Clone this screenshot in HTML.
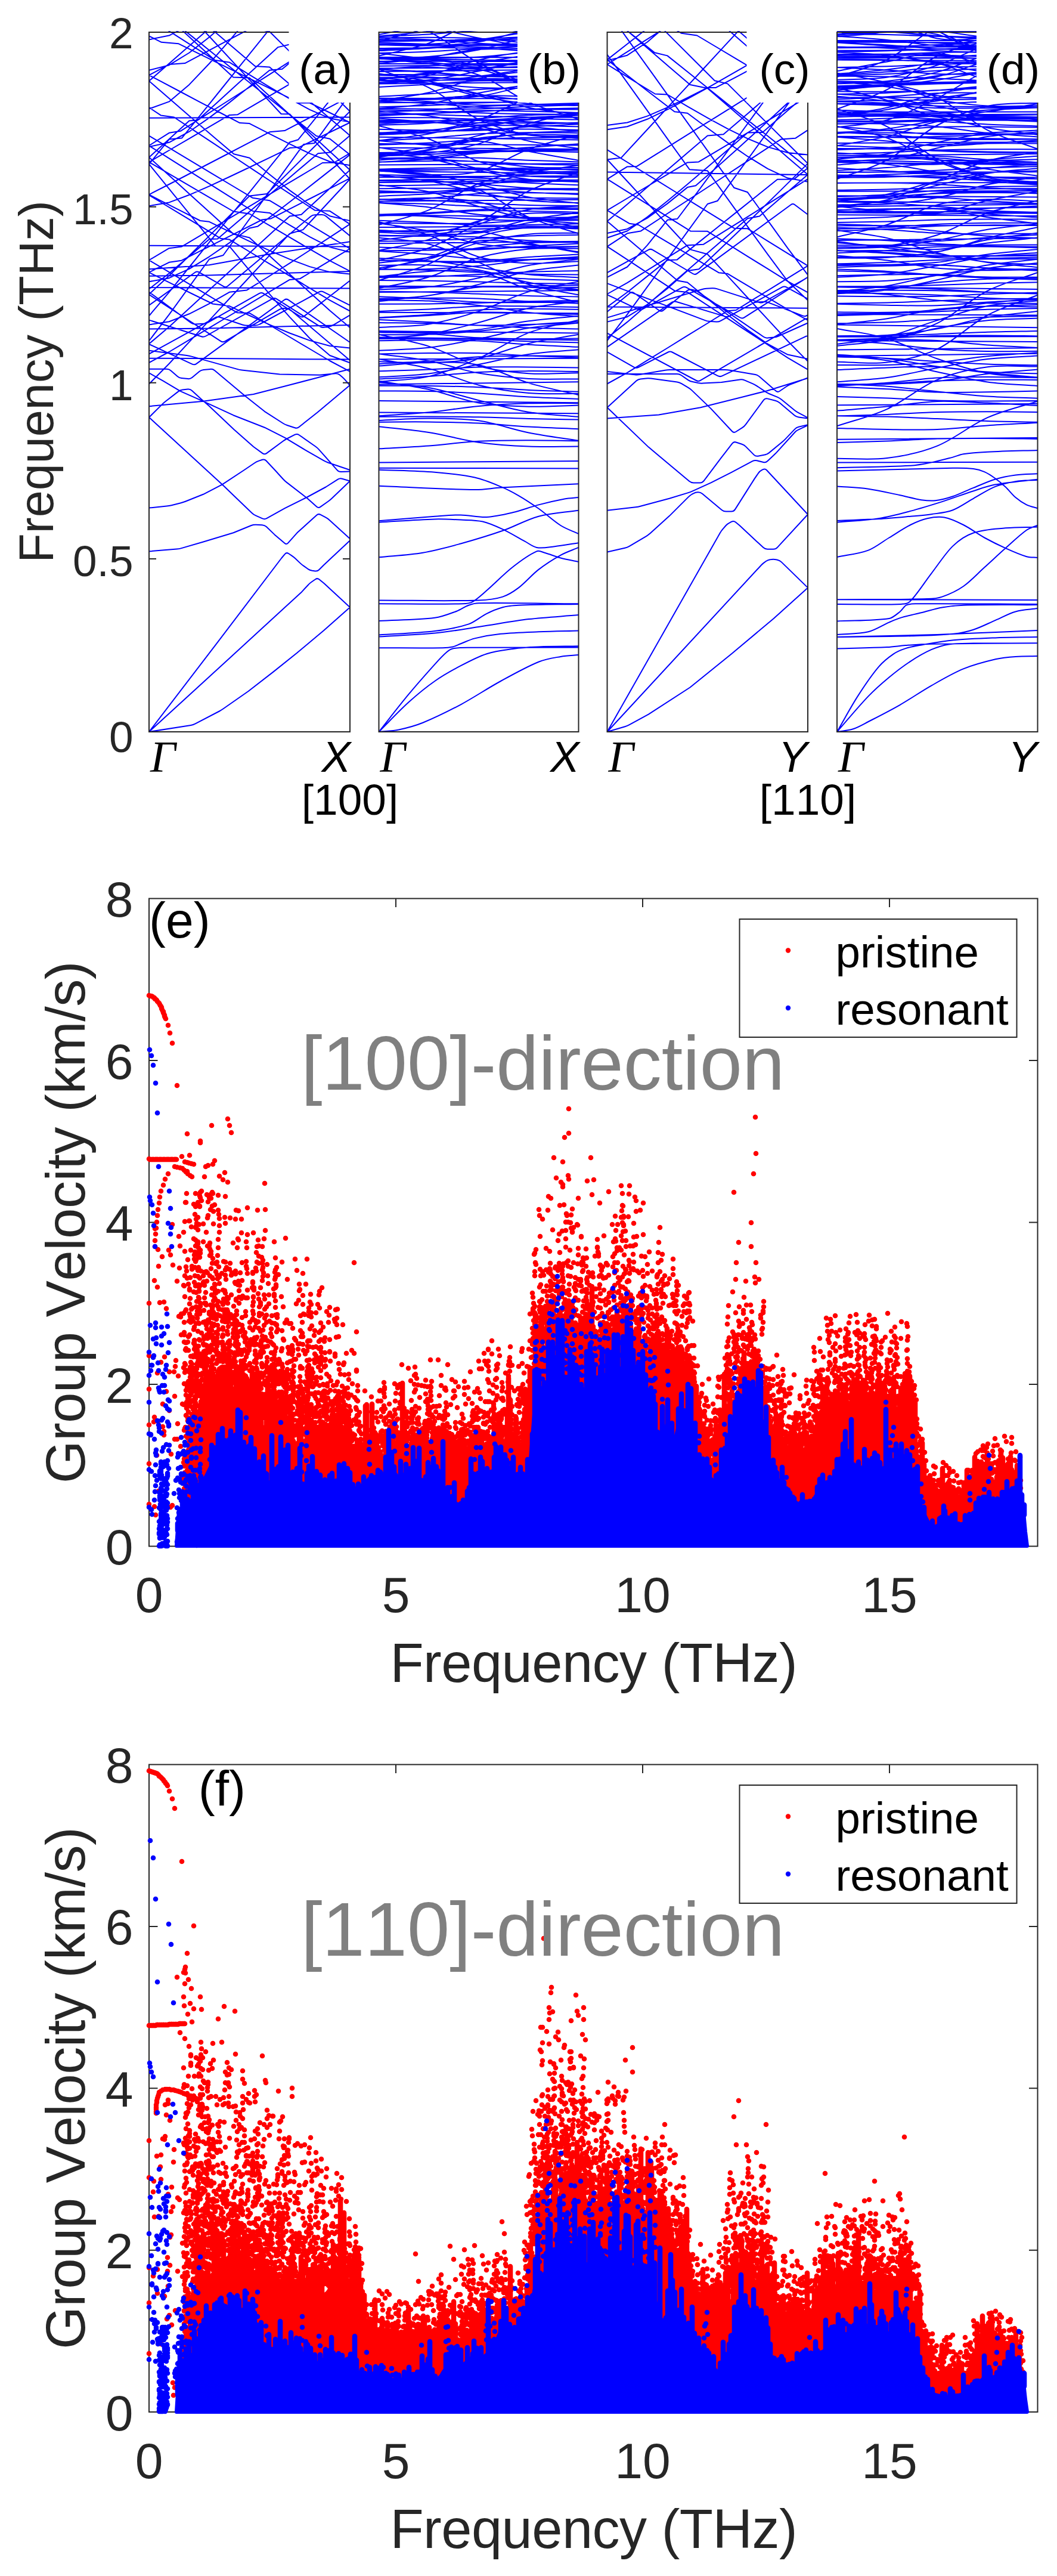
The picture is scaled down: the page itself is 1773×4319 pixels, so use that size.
<!DOCTYPE html><html><head><meta charset="utf-8"><title>figure</title><style>html,body{margin:0;padding:0;background:#fff}</style></head><body><svg width="1773" height="4319" viewBox="0 0 1773 4319" style="display:block">
<rect width="1773" height="4319" fill="#fff"/>
<clipPath id="cp0"><rect x="249" y="52" width="339" height="1178"/></clipPath>
<clipPath id="cz0"><rect x="249" y="52" width="339" height="600.23"/></clipPath>
<path d="M250 643.8L283.7 609.7L317.4 573.4L351.1 537.1L384.8 500.8L418.5 464.5L452.2 428.1L485.9 391.8L508.4 385.1L542.1 348.8L575.8 312.5L587 300.3M587 300.3L587 300.3L553.3 264L519.6 227.7L485.9 191.3L471.6 191L437.9 154.7L404.2 118.4L370.5 82L336.8 45.7L303.1 9.4L269.4 -27L250 -47.9M250 -47.9L250 -47.9M587 622.9L553.3 605L519.6 585L485.9 565L452.2 545L418.5 524.9L398.1 524.3L364.4 504.3L330.7 484.2L297 464.2L263.3 444.1L250 436.2M250 436.2L250 436.2L283.7 416.2L305 413.4L338.7 393.4L372.4 373.3L406.1 353.3L439.8 333.2L473.5 313.1L507.2 293.1L540.9 273L560.7 272.5L587 256.9M587 256.9L587 256.9M250 608L283.7 590L317.4 569.9L351.1 549.7L384.8 529.5L418.5 509.3L452.2 489.1L485.9 468.9L503.4 467.2L537.1 446.9L570.8 426.7L587 417M587 417L587 417L553.3 396.8L519.6 376.6L485.9 356.4L452.2 336.2L423.5 331.7L389.8 311.5L356.1 291.3L322.4 271.1L288.7 250.9L255 230.7L250 227.7M250 227.7L250 227.7M250 576.5L283.7 547.9L317.4 517L351.1 486.1L384.8 455.2L418.5 424.3L452.2 393.4L485.9 362.5L505.5 359.7L539.2 328.8L572.9 297.9L587 284.9M587 284.9L587 284.9L553.3 254L519.6 223.1L485.9 192.2L452.2 161.3L418.5 130.4L391.3 129.6L357.6 98.6L323.9 67.7L290.2 36.8L256.5 5.9L250 -0.1M250 -0.1L250 -0.1M250 571.5L283.7 527.4L317.4 480.9L351.1 434.5L374.4 428L408.1 381.5L441.8 335.1L475.5 288.6L509.2 242.1L527.4 239.9L561.1 193.4L587 157.6M587 157.6L587 157.6L553.3 111.2L519.6 64.7L485.9 18.3L452.2 -28.2L418.5 -74.7L391.8 -75.9L358.1 -122.4M587 549.2L553.3 520.8L519.6 490.3L485.9 459.7L452.2 429.1L418.5 398.5L391.2 391.9L357.5 361.3L323.8 330.7L290.1 300.1L256.4 269.5L250 263.8M250 263.8L250 263.8L283.7 233.2L317.4 202.6L331.6 201.5L365.3 170.9L399 140.3L432.7 109.7L466.4 79.1L491.3 73.3L525 42.7L558.7 12.1L587 -13.5M587 -13.5L587 -13.5M250 529.5L283.7 489.9L317.4 448L351.1 406.1L384.8 364.2L418.5 322.3L452.2 280.4L485.9 238.5L500.2 234.2L533.9 192.3L567.6 150.4L587 126.3M587 126.3L587 126.3M587 521.5L553.3 503.4L519.6 483.1L485.9 462.7L452.2 442.3L418.5 422L384.8 401.6L370.7 400.1L337 379.7L303.3 359.4L269.6 339L250 327.1M250 327.1L250 327.1M250 493.4L283.7 462.2L317.4 428.8L351.1 395.4L384.8 361.9L418.5 328.5L447.7 325L481.4 291.6L515.1 258.1L548.8 224.7L582.5 191.2L587 186.7M587 186.7L587 186.7L553.3 153.3L519.6 119.8L485.9 86.4L452.2 53L432 48.5L398.3 15.1L364.6 -18.4L330.9 -51.8L297.2 -85.3L263.5 -118.7M250 484.7L283.7 458.3L317.4 429.7L351.1 401L365 400.4L398.7 371.8L432.4 343.1L466.1 314.5L499.8 285.8L533.5 257.2L553.8 255.4L587 227.2M587 227.2L587 227.2L553.3 198.5L519.6 169.9L485.9 141.2L452.2 112.6L427.9 110.9L394.2 82.2L360.5 53.6L326.8 24.9L293.1 -3.7L278.1 -5.3L250 -29.2M250 -29.2L250 -29.2L283.7 -57.9L317.4 -86.5L351.1 -115.2M587 454.7L553.3 437.2L519.6 417.6L485.9 397.9L452.2 378.2L418.5 358.5L391.5 354.5L357.8 334.8L324.1 315.1L290.4 295.4L256.7 275.7L250 271.8M250 271.8L250 271.8L283.7 252L317.4 232.3L351.1 212.6L384.8 192.9L398.3 192.3L432 172.6L465.7 152.9L499.4 133.2L533.1 113.5L566.8 93.8L587 82M587 82L587 82M587 608.3L553.3 596L519.6 567.2L485.9 531.6L452.2 493.2L418.5 453.4L384.8 412.9L361.6 412.3L327.9 371.1L294.2 329.7L260.5 288.2L250 275.2M250 275.2L250 275.2L283.7 233.6L304.9 231.6L338.6 189.8L372.3 148L406 106.2L439.7 64.3L473.4 22.3L507.1 -19.6L535 -24.8L568.7 -66.7L587 -89.5M587 -89.5L587 -89.5L553.3 -131.5M587 583.4L553.3 580L519.6 570.9L485.9 558.5L452.2 544.3L418.5 529L384.8 513.1L356.8 509.5L323.1 493L289.4 476.3L255.7 459.6L250 456.7M250 456.7L250 456.7L283.7 439.8L304.6 436.7L338.3 419.7L372 402.7L405.7 385.6L439.4 368.5L454.7 366.4L488.4 349.2L522.1 332L555.8 314.8L587 298.9M587 298.9L587 298.9M250 544.4L283.7 539.3L317.4 526.3L351.1 509.1L384.8 489.8L414.1 486.4L447.8 465.5L481.5 444.1L515.2 422.5L548.9 400.7L582.6 378.7L587 375.8M587 375.8L587 375.8L553.3 353.8L527.8 352.4L494.1 330.2L460.4 308L426.7 285.8L393 263.5L359.3 241.2L325.6 218.9L291.9 196.5L270.2 193.6L250 180.2M250 180.2L250 180.2M250 472.2L283.7 466.2L317.4 450.8L351.1 430.3L384.8 407.1L418.5 382.5L432.6 379.4L466.3 353.8L500 327.7L533.7 301.4L567.4 274.9L587 259.4M587 259.4L587 259.4L553.3 232.7L530.6 228L496.9 201.1L463.2 174.2L429.5 147.2L395.8 120.2L362.1 93.2L328.4 66.1L294.7 39L280.3 37.2L250 12.8M250 12.8L250 12.8M587 459.5L553.3 456.1L519.6 447.1L485.9 434.6L452.2 420.2L418.5 404.7L384.8 388.4L351.1 371.8L335.8 370L302.1 352.9L268.4 335.8L250 326.3M250 326.3L250 326.3L283.7 309L317.4 291.5L351.1 274L384.8 256.5L418.5 238.9L452.2 221.3L477.6 219.1L511.3 201.5L545 183.8L578.7 166.1L587 161.7M587 161.7L587 161.7M587 422.8L553.3 414.4L519.6 397.1L485.9 377.4L452.2 356.9L424.1 354L390.4 332.9L356.7 311.7L323 290.4L289.3 269.1L255.6 247.8L250 244.2M250 244.2L250 244.2L283.7 222.8L302.7 219.8L336.4 198.4L370.1 177L403.8 155.5L437.5 134.1L471.2 112.7L504.9 91.2L529.3 87.3L563 65.8L587 50.5M587 50.5L587 50.5M587 370.1L553.3 362.2L519.6 343.2L485.9 319.1L452.2 292.5L418.5 264.8L392.3 258.3L358.6 229.7L324.9 200.7L291.2 171.6L257.5 142.3L250 135.8M250 135.8L250 135.8L283.7 106.4L317.4 77L351.1 47.5L384.8 18L401 16.9L434.7 -12.7L468.4 -42.3L502.1 -71.9L535.8 -101.6M250 345.2L283.7 339.4L317.4 326.8L351.1 312.1L384.8 296.5L418.5 280.5L452.2 264.4L485.9 248.1L502 246.8L535.7 230.4L569.4 214L587 205.5M587 205.5L587 205.5L553.3 189L519.6 172.5L501.8 172.4L468.1 155.9L434.4 139.4L400.7 122.9L367 106.4L333.3 89.9L299.6 73.3L270.8 70.8L250 60.5M250 60.5L250 60.5M587 277.3L553.3 271L519.6 257.4L485.9 241.3L452.2 224.4L418.5 207.1L402.2 206.1L368.5 188.5L334.8 170.8L301.1 153L267.4 135.2L250 126M250 126L250 126L283.7 108.1L310.2 106.1L343.9 88.2L377.6 70.2L411.3 52.3L445 34.4L478.7 16.4L512.4 -1.5L526.3 -1.9L560 -19.8L587 -34.2M587 -34.2L587 -34.2M250 246.2L283.7 238.8L317.4 220.7L351.1 197.4L384.8 171.9L418.5 145.2L452.2 117.8L473.4 115.8L507.1 87.9L540.8 59.8L574.5 31.5L587 21M587 21L587 21M587 204.5L553.3 198.4L519.6 183.8L485.9 165.6L452.2 145.9L418.5 125.3L384.8 104.4L360.9 101.1L327.2 79.8L293.5 58.4L259.8 36.9L250 30.6M250 30.6L250 30.6L283.7 9.1L317.4 -12.5L351.1 -34.2L366.2 -36.5L399.9 -58.1L433.6 -79.8L467.3 -101.5M250 182.5L283.7 170.4L317.4 141.9L351.1 106.5L384.8 68.1L418.5 28.3L443.6 24.6L477.3 -16.3L511 -57.6L544.7 -99M250 117.7L283.7 109.2L317.4 88.5L351.1 62.2L384.8 33.3L418.5 3.2L448.5 -1.7L482.2 -32.9L515.9 -64.3L549.6 -96M250 66.4L283.7 59.6L317.4 42.1L351.1 18.6L384.8 -7.9L418.5 -36.1L436.7 -37.2L470.4 -66.6L504.1 -96.5M587 29.8L553.3 26.5L519.6 17.5L485.9 4.6L452.2 -10.7L418.5 -27.4L384.8 -44.9L356.3 -48.5L322.6 -67L288.9 -85.8L255.2 -104.8M250 600.8L351.1 601L452.2 601.8L587 602.6M250 593.5L361.3 532.4Q364.8 530.4 368.6 531.7L407.3 544.7Q411.1 545.9 415.1 545.8L428.3 545.5Q432.3 545.5 435.8 543.5L535.4 489.5Q538.9 487.6 542.4 489.4L587 511.9M250 577L322.6 610.6Q326.3 612.3 329.5 609.9L477 502.8Q480.2 500.5 483.5 502.7L587 574M250 551.5L351.1 550.5L452.2 547.9L587 544.9M250 536.6L337.9 564.3Q341.7 565.5 345.2 563.5L456.9 500.9Q460.4 498.9 463.8 501.1L536.2 547.2Q539.6 549.4 543.5 548.8L551.4 547.7Q555.4 547.1 558.8 545.1L587 528.3M250 511.9L327.1 456.7Q330.4 454.4 333.8 456.4L375.3 480.4Q378.7 482.4 381.8 479.8L521.3 362.8Q524.4 360.2 528.4 360.2L540 360.1Q544 360.1 547.1 362.6L587 395.5M250 493.9L370.4 572.1Q373.8 574.3 377.2 572.3L469.2 518.7Q472.6 516.7 476.6 517L480.9 517.3Q484.9 517.6 487.9 520.2L587 604.3M250 489.6L320.3 541.2Q323.5 543.6 327.5 543.4L341.6 542.8Q345.6 542.6 349 540.6L435.1 491.9Q438.6 489.9 442 492.1L503.6 530.5Q507 532.6 510.2 530.1L587 470.5M250 462.8L351.1 461.6L452.2 458.5L587 454.9M250 451.2L351.1 444.3L452.2 425.9L587 405.3M250 197.7L587 196.6M250 411.8L587 413.5M250 482.1L587 483.6" fill="none" stroke="#0000ff" stroke-width="2" stroke-linejoin="round" clip-path="url(#cz0)"/>
<path d="M250 1227L320.2 1215.9Q324.1 1215.3 327.7 1213.4L367.8 1192.5Q371.3 1190.6 374.6 1188.3L416.5 1159L458.9 1126.1L498.4 1094.5L543.2 1056.9L587 1018.2M250 1227L384.8 1103.8L506.1 992.4L516.9 980.7Q519.6 977.7 522.9 975.5L529.1 971.2Q532.4 968.9 535.5 971.5L543.2 977.7L587 1018.2M250 1227L364.6 1077.4L472.4 935.5L478 928.9Q480.5 925.8 483.9 928L489.3 931.6Q492.6 933.8 495.5 936.5L503.2 943.9Q506.1 946.7 509.4 948.9L516.3 953.8Q519.6 956 523.6 956.7L528.5 957.4Q532.4 958 535.2 955.2L543.2 947.2L587 906.2M250 924.4L296.6 920.6Q300.6 920.3 304.4 919.1L341 908.5L391.5 893.3L421.5 881Q425.2 879.5 429.2 879.7L439.8 880.2Q443.8 880.4 446.7 883.1L460.6 896.4L477.5 910.8Q480.5 913.4 483.2 910.4L498.4 893.3L531.1 863.7Q534.1 861 537.6 862.9L546.1 867.4Q549.6 869.2 552.6 871.9L587 903.3M250 851.6L279.7 848.5Q283.7 848.1 287.6 847.2L303.4 843.2Q307.3 842.3 311 840.8L341 828.8L372.7 812.3L409.7 788L426.7 776.5Q430 774.2 433.7 772.9L440 770.8Q443.8 769.5 446.5 772.5L461 788L475.1 803.5Q477.8 806.5 481 808.9L515.2 835.2L531.1 849.5Q534.1 852.2 537.4 849.9L550 841Q553.3 838.7 556.2 836L587 806.5M250 699.7L372.7 812.3L422.4 860Q425.2 862.8 428.9 864.4L440.1 869.4Q443.8 871 447.3 869.1L477.8 852.2L515.2 833.5L546.6 816.5L566.8 803.7Q570.1 801.6 574 802.7L587 806.5M250 699.7L270.8 679.1Q273.6 676.3 276.7 673.8L299.1 656.4Q302.2 654 306.2 653.6L315.1 652.6Q319.1 652.2 322 654.9L337.6 669.2L351.1 681L392.6 720.3L425.2 749L440.5 760.1Q443.8 762.5 447 760.1L474.6 739.7Q477.8 737.3 481.4 735.5L494.8 728.7Q498.4 727 501.6 729.2L529.1 748.5Q532.4 750.8 535.1 753.8L565.5 788.2Q568.1 791.2 572.1 791.1L587 790.6M250 681.2L341 672.8L425.2 661L477.8 647.5L529.7 634L587 618.8M250 625.3L273.6 638.7L298.8 653.7Q302.2 655.7 305.9 657.4L341 672.8L391.5 696.2L443.8 716.7L477.8 733.8L511.8 754.3L542.8 772.2Q546.2 774.2 550 775.5L587 788M250 618.8L279.7 618.8Q283.7 618.8 286.7 621.5L297.6 631.1Q300.6 633.8 304.5 634.1L315.1 635.1Q319.1 635.5 322.2 632.9L334.5 622.7Q337.6 620.2 341.6 619.9L352.8 618.9Q356.8 618.5 359.9 621.1L409.7 662.8L443.8 689.8L474.4 709.5Q477.8 711.7 481.6 713L494.6 717.2Q498.4 718.5 501.5 716L532.4 691.5L587 645.8M250 587.7L313.4 596Q317.4 596.5 321.3 597.6L397.8 618.9Q401.6 620 405.6 620.4L469.1 627.6L536.5 628.8L562.8 626.2Q566.8 625.8 569.8 628.5L573.9 632Q576.9 634.6 579.5 637.7L587 646.4" fill="none" stroke="#0000ff" stroke-width="2" stroke-linejoin="round" clip-path="url(#cp0)"/>
<clipPath id="cp1"><rect x="634.5" y="52" width="337.0" height="1178"/></clipPath>
<path d="M635.5 1227C646.7 1225.8 657.8 1225.8 669 1223.5C682.4 1220.7 695.8 1217.2 709.2 1211.8C730.4 1203.1 751.6 1192.6 772.9 1181.3C795.2 1169.3 817.5 1154.2 839.9 1142C861.1 1130.3 882.3 1118.4 903.5 1109.7C915.8 1104.7 928.1 1103.1 940.4 1100.9C950.4 1099.1 960.5 1098.9 970.5 1098M635.5 1227C652.2 1210.4 669 1192.3 685.8 1177.1C700.3 1164 714.8 1152.1 729.3 1142C743.8 1131.8 758.3 1123.8 772.9 1116.2C787.4 1108.5 801.9 1100.9 816.4 1096.2C830.9 1091.5 845.4 1090 860 1088C874.5 1086 889 1085.1 903.5 1084.5C925.8 1083.5 948.2 1083.7 970.5 1083.3M635.5 1227C652.2 1205.9 669 1183.9 685.8 1163.7C700.3 1146.1 714.8 1129.9 729.3 1113.8C736 1106.4 742.7 1099.1 749.4 1093.3C752.8 1090.3 756.1 1088.1 759.5 1087.4C768.4 1085.6 777.3 1085.7 786.2 1085.7C847.7 1085.1 909.1 1085.5 970.5 1085.4M635.5 1086.2C671.2 1086.2 707 1086.7 742.7 1086.2C748.3 1086.2 753.9 1085.8 759.5 1084.5C763.9 1083.4 768.4 1080.9 772.9 1079.2C780.7 1076.2 788.5 1072.3 796.3 1070.4C810.8 1066.8 825.3 1064.3 839.9 1062.8C861.1 1060.6 882.3 1060.1 903.5 1059.3C925.8 1058.4 948.2 1058.1 970.5 1057.5M635.5 1067.5C666.8 1065.5 698 1064.7 729.3 1061.6C753.9 1059.2 778.4 1054.7 803 1051C830.9 1046.9 858.8 1041.5 886.8 1038.1C914.7 1034.8 942.6 1033.5 970.5 1031.1M635.5 1064.5C666.8 1062.4 698 1061.9 729.3 1058.1C748.3 1055.8 767.3 1052.7 786.2 1046.4C796.3 1043 806.4 1033.7 816.4 1028.8C825.3 1024.3 834.3 1020.6 843.2 1018.2C852.1 1015.9 861.1 1015.1 870 1014.7C903.5 1013.3 937 1013.5 970.5 1012.9M635.5 1041.1C666.8 1039.3 698 1039.7 729.3 1035.8C741.6 1034.3 753.9 1029.2 766.1 1024.7C772.9 1022.2 779.5 1017.1 786.2 1014.7C791.8 1012.6 797.4 1011.2 803 1011.2C858.8 1010.5 914.7 1012 970.5 1012.3M635.5 1012.3C682.4 1012.3 729.3 1013.4 776.2 1012.3C781.8 1012.2 787.4 1011.9 793 1008.8C800.8 1004.5 808.6 996.8 816.4 990.1C830.9 977.5 845.4 962.1 860 950.8C873.4 940.2 886.8 930.4 900.2 924.4C904.6 922.4 909.1 925.5 913.5 926.7C922.5 929.2 931.4 933.1 940.4 935.5C950.4 938.2 960.5 939.8 970.5 942M635.5 1006.5C691.3 1006.5 747.2 1008.1 803 1006.5C816.4 1006.1 829.8 1004.8 843.2 1000.6C852.1 997.8 861.1 992.1 870 985.4C881.2 976.9 892.3 963.5 903.5 954.9C915.8 945.3 928.1 937.6 940.4 930.8C950.4 925.3 960.5 922.2 970.5 917.9M635.5 934.3C660.1 931.8 684.6 930.8 709.2 926.7C730.4 923.2 751.6 917.3 772.9 911.5C796.3 905 819.8 898 843.2 889.8C863.3 882.7 883.4 871.1 903.5 865.7C925.8 859.7 948.2 859.1 970.5 855.7M635.5 875.7C666.8 873.9 698 871.3 729.3 870.4C743.8 870 758.3 870.8 772.9 871.6C785.1 872.2 797.4 871.7 809.7 874.5C820.9 877 832 882.2 843.2 887.4C855.5 893.2 867.8 900.8 880 907.4C886.8 910.9 893.5 916.7 900.2 917.9C910.2 919.7 920.2 917.2 930.3 916.2C943.7 914.7 957.1 912.2 970.5 910.3M635.5 873.3C666.8 870.8 698 868 729.3 865.7C743.8 864.7 758.3 863.2 772.9 863.4C787.4 863.6 801.9 867.6 816.4 866.9C830.9 866.2 845.4 862.7 860 859.3C874.5 855.8 889 850.2 903.5 846.4C918 842.5 932.5 839.1 947 836.4C954.9 835 962.7 834.8 970.5 834M635.5 814.7C689.1 816.8 742.7 820.4 796.3 821.1C810.8 821.4 825.3 818.5 839.9 817.6C883.4 815.1 927 813.3 970.5 811.2M635.5 787.7C666.8 789.1 698 789.3 729.3 791.8C751.6 793.6 774 795.8 796.3 800.6C810.8 803.8 825.3 809.9 839.9 815.9C849.9 820 860 825.3 870 831.1C881.2 837.6 892.3 844.9 903.5 852.8C915.8 861.5 928.1 873.2 940.4 881C950.4 887.3 960.5 890.3 970.5 895M635.5 784.8C747.2 785 858.8 785.2 970.5 785.4M635.5 775.4C747.2 774.6 858.8 773.8 970.5 773M635.5 752.3C663.4 750.7 691.3 749.5 719.2 747.4C747.2 745.3 775.1 741.3 803 739.8C830.9 738.3 858.8 738.3 886.8 738.2C914.7 738.1 942.6 738.9 970.5 739.2M635.5 715.2C663.4 718.4 691.3 720.5 719.2 725C747.2 729.4 775.1 737.7 803 741.7C830.9 745.6 858.8 747.5 886.8 748.6C914.7 749.8 942.6 748.6 970.5 748.6M635.5 704.9C663.4 703.8 691.3 701.5 719.2 701.6C747.2 701.6 775.1 701.3 803 705.2C830.9 709.2 858.8 719.9 886.8 725.4C914.7 731 942.6 734.3 970.5 738.7M635.5 707.7C663.4 707.6 691.3 707.1 719.2 707.5C747.2 707.8 775.1 708.3 803 709.6C830.9 711 858.8 714 886.8 715.6C914.7 717.2 942.6 718 970.5 719.2M635.5 698.7C663.4 698.7 691.3 698.4 719.2 698.5C747.2 698.6 775.1 698.7 803 699.3C830.9 699.8 858.8 701.2 886.8 702C914.7 702.7 942.6 703.1 970.5 703.6M635.5 691.4L970.5 693.3M635.5 697.3C663.4 695.3 691.3 694 719.2 691.3C747.2 688.6 775.1 683.4 803 680.9C830.9 678.4 858.8 677.1 886.8 676.3C914.7 675.6 942.6 676.2 970.5 676.2M635.5 671.9L970.5 675.3M635.5 641C663.4 644 691.3 645 719.2 650.1C747.2 655.1 775.1 664.3 803 671.2C830.9 678 858.8 686.4 886.8 691C914.7 695.6 942.6 696.2 970.5 698.8M635.5 655.5C663.4 655.7 691.3 655.4 719.2 656.1C747.2 656.7 775.1 657.8 803 659.4C830.9 661 858.8 664 886.8 665.6C914.7 667.2 942.6 667.9 970.5 669M635.5 638.8C663.4 643.6 691.3 646.9 719.2 653C747.2 659.1 775.1 670.8 803 675.6C830.9 680.3 858.8 681.1 886.8 681.7C914.7 682.4 942.6 680.3 970.5 679.5M635.5 646.8C663.4 646.9 691.3 646.6 719.2 647C747.2 647.4 775.1 648 803 649.2C830.9 650.3 858.8 652.7 886.8 653.9C914.7 655.2 942.6 655.8 970.5 656.7M635.5 644.5L970.5 640.2M635.5 613.5C663.4 611.6 691.3 607.9 719.2 607.7C747.2 607.4 775.1 606.1 803 611.9C830.9 617.6 858.8 633.7 886.8 642.1C914.7 650.5 942.6 655.5 970.5 662.2M635.5 602.1C663.4 607.4 691.3 610.7 719.2 617.9C747.2 625.2 775.1 638.9 803 645.7C830.9 652.6 858.8 656.5 886.8 658.9C914.7 661.3 942.6 659.7 970.5 660.1M635.5 635.5C663.4 634 691.3 632.9 719.2 631C747.2 629.1 775.1 625.4 803 623.9C830.9 622.4 858.8 622.3 886.8 622.1C914.7 622 942.6 622.7 970.5 622.9M635.5 622.3C663.4 621.4 691.3 620.7 719.2 619.5C747.2 618.4 775.1 616.2 803 615.5C830.9 614.9 858.8 615.3 886.8 615.4C914.7 615.6 942.6 616.2 970.5 616.5M635.5 593.2C663.4 597.2 691.3 599.6 719.2 605C747.2 610.4 775.1 620.6 803 625.6C830.9 630.6 858.8 633.2 886.8 634.9C914.7 636.5 942.6 635.2 970.5 635.4M635.5 632.3C663.4 630.3 691.3 630 719.2 626.5C747.2 622.9 775.1 616.6 803 611.1C830.9 605.7 858.8 598.1 886.8 593.9C914.7 589.8 942.6 588.8 970.5 586.2M635.5 610.2C663.4 608.6 691.3 607.5 719.2 605.6C747.2 603.6 775.1 599.8 803 598.3C830.9 596.8 858.8 596.6 886.8 596.5C914.7 596.3 942.6 597 970.5 597.3M635.5 602.2L970.5 600.8M635.5 593.4C663.4 593 691.3 592.3 719.2 592.1C747.2 591.8 775.1 591.2 803 592C830.9 592.7 858.8 595.2 886.8 596.5C914.7 597.7 942.6 598.6 970.5 599.7M635.5 560.7C663.4 567.3 691.3 571.7 719.2 580.6C747.2 589.4 775.1 606.2 803 613.8C830.9 621.4 858.8 624.3 886.8 626.2C914.7 628.1 942.6 625.5 970.5 625.2M635.5 639.9C663.4 636.9 691.3 637.6 719.2 631.1C747.2 624.6 775.1 613 803 600.8C830.9 588.6 858.8 568.6 886.8 557.9C914.7 547.1 942.6 543.5 970.5 536.4M635.5 606.3C663.4 606.9 691.3 609.1 719.2 608.2C747.2 607.3 775.1 606 803 600.7C830.9 595.3 858.8 582.7 886.8 576C914.7 569.4 942.6 565.9 970.5 560.8M635.5 571.2C663.4 570.9 691.3 570.2 719.2 570.3C747.2 570.4 775.1 570.3 803 571.6C830.9 572.8 858.8 576.1 886.8 577.8C914.7 579.5 942.6 580.5 970.5 581.8M635.5 568C663.4 568 691.3 567.7 719.2 567.8C747.2 568 775.1 568.2 803 569C830.9 569.7 858.8 571.4 886.8 572.3C914.7 573.3 942.6 573.7 970.5 574.4M635.5 565.6L970.5 570.2M635.5 587.8C663.4 586.1 691.3 586 719.2 582.8C747.2 579.5 775.1 573.6 803 568.2C830.9 562.7 858.8 554.5 886.8 550.1C914.7 545.6 942.6 544.4 970.5 541.6M635.5 555.3C663.4 556.7 691.3 557.7 719.2 559.5C747.2 561.4 775.1 564.9 803 566.3C830.9 567.8 858.8 568 886.8 568.2C914.7 568.3 942.6 567.7 970.5 567.5M635.5 555L970.5 558.6M635.5 561.3C663.4 561 691.3 561.5 719.2 560.4C747.2 559.4 775.1 557.6 803 555C830.9 552.5 858.8 547.5 886.8 544.9C914.7 542.3 942.6 541.2 970.5 539.3M635.5 540.9C663.4 541.3 691.3 541.3 719.2 542.1C747.2 542.9 775.1 544.2 803 545.5C830.9 546.7 858.8 548.5 886.8 549.5C914.7 550.5 942.6 550.8 970.5 551.4M635.5 557.2C663.4 557.4 691.3 558.5 719.2 557.7C747.2 557 775.1 555.8 803 552.6C830.9 549.3 858.8 542.1 886.8 538.3C914.7 534.4 942.6 532.5 970.5 529.7M635.5 536C663.4 537.4 691.3 538.5 719.2 540.1C747.2 541.7 775.1 544.7 803 545.4C830.9 546 858.8 544.7 886.8 544.1C914.7 543.5 942.6 542.5 970.5 541.7M635.5 567.4C663.4 565.1 691.3 564.9 719.2 560.5C747.2 556 775.1 548 803 540.7C830.9 533.4 858.8 522.5 886.8 516.7C914.7 510.8 942.6 509.2 970.5 505.4M635.5 532.9C663.4 531.6 691.3 530.4 719.2 528.9C747.2 527.3 775.1 524.3 803 523.6C830.9 522.9 858.8 524.1 886.8 524.7C914.7 525.3 942.6 526.2 970.5 527M635.5 532.4C663.4 530.8 691.3 529.6 719.2 527.5C747.2 525.3 775.1 521.3 803 519.7C830.9 518.1 858.8 518 886.8 517.8C914.7 517.7 942.6 518.5 970.5 518.8M635.5 523.8L970.5 525.2M635.5 522C663.4 520.8 691.3 519.8 719.2 518.4C747.2 517 775.1 514.3 803 513.4C830.9 512.6 858.8 513.2 886.8 513.5C914.7 513.8 942.6 514.5 970.5 515M635.5 503C663.4 503.6 691.3 503.2 719.2 504.6C747.2 506.1 775.1 508.7 803 511.9C830.9 515.1 858.8 520.9 886.8 524C914.7 527.1 942.6 528.3 970.5 530.5M635.5 549.1C663.4 547.2 691.3 548 719.2 543.5C747.2 538.9 775.1 531 803 521.9C830.9 512.9 858.8 497.4 886.8 489.1C914.7 480.8 942.6 477.8 970.5 472.1M635.5 509.7C663.4 509.6 691.3 509.7 719.2 509.4C747.2 509.1 775.1 508.6 803 507.9C830.9 507.2 858.8 505.9 886.8 505.2C914.7 504.5 942.6 504.2 970.5 503.7M635.5 500.7C663.4 500.4 691.3 499.8 719.2 499.8C747.2 499.8 775.1 499.6 803 500.5C830.9 501.5 858.8 504.1 886.8 505.4C914.7 506.8 942.6 507.6 970.5 508.7M635.5 497.3C663.4 498.5 691.3 499.5 719.2 501C747.2 502.5 775.1 505.4 803 506.5C830.9 507.5 858.8 507.2 886.8 507.1C914.7 507 942.6 506.3 970.5 506M635.5 505.3C663.4 502 691.3 499.4 719.2 495.5C747.2 491.5 775.1 483.9 803 481.6C830.9 479.3 858.8 481 886.8 481.8C914.7 482.5 942.6 484.6 970.5 486M635.5 488.7C663.4 489.1 691.3 489.2 719.2 489.8C747.2 490.5 775.1 491.8 803 492.8C830.9 493.9 858.8 495.3 886.8 496C914.7 496.8 942.6 497 970.5 497.4M635.5 490L970.5 487.1M635.5 463.8C663.4 460.9 691.3 456.4 719.2 455C747.2 453.5 775.1 450 803 455C830.9 460.1 858.8 476.8 886.8 485.4C914.7 494.1 942.6 499.8 970.5 506.9M635.5 479.6L970.5 481.9M635.5 481.6L970.5 478.5M635.5 502.4C663.4 500.2 691.3 499.9 719.2 495.6C747.2 491.4 775.1 483.7 803 476.9C830.9 470.1 858.8 460.1 886.8 454.7C914.7 449.3 942.6 447.9 970.5 444.5M635.5 470C663.4 470.2 691.3 470.2 719.2 470.7C747.2 471.1 775.1 471.8 803 472.5C830.9 473.2 858.8 474.3 886.8 474.9C914.7 475.4 942.6 475.6 970.5 476M635.5 462.9C663.4 462.7 691.3 462.3 719.2 462.4C747.2 462.5 775.1 462.6 803 463.5C830.9 464.3 858.8 466.5 886.8 467.7C914.7 468.8 942.6 469.5 970.5 470.3M635.5 444.8C663.4 444.7 691.3 443.2 719.2 444.6C747.2 445.9 775.1 448 803 452.8C830.9 457.6 858.8 468 886.8 473.5C914.7 479 942.6 481.6 970.5 485.7M635.5 485.6C663.4 484.1 691.3 484.4 719.2 481.1C747.2 477.8 775.1 472 803 466C830.9 459.9 858.8 450.2 886.8 444.9C914.7 439.7 942.6 438 970.5 434.5M635.5 465.3C663.4 464.8 691.3 464.7 719.2 463.9C747.2 463 775.1 461.4 803 460.1C830.9 458.8 858.8 456.9 886.8 455.9C914.7 454.9 942.6 454.7 970.5 454.1M635.5 451C663.4 451.6 691.3 451.9 719.2 452.9C747.2 453.8 775.1 455.5 803 456.6C830.9 457.7 858.8 458.9 886.8 459.5C914.7 460.2 942.6 460.2 970.5 460.5M635.5 483.3C663.4 477 691.3 473.1 719.2 464.5C747.2 456 775.1 439.9 803 432C830.9 424.2 858.8 420.1 886.8 417.5C914.7 415 942.6 417 970.5 416.8M635.5 433C663.4 434.4 691.3 434.7 719.2 437.3C747.2 439.8 775.1 444.5 803 448.3C830.9 452.1 858.8 457.3 886.8 460.2C914.7 463 942.6 463.6 970.5 465.4M635.5 398.5C663.4 402.1 691.3 402.3 719.2 409.2C747.2 416.1 775.1 428.6 803 439.9C830.9 451.2 858.8 468 886.8 477C914.7 486.1 942.6 488.6 970.5 494.3M635.5 451.8C663.4 451.5 691.3 452 719.2 451C747.2 449.9 775.1 448.2 803 445.7C830.9 443.2 858.8 438.4 886.8 435.8C914.7 433.3 942.6 432.2 970.5 430.4M635.5 452.5C663.4 445.4 691.3 439.4 719.2 431.2C747.2 423.1 775.1 407.2 803 403.7C830.9 400.1 858.8 406.8 886.8 409.9C914.7 413 942.6 418.2 970.5 422.3M635.5 436.5C663.4 437.2 691.3 438.1 719.2 438.6C747.2 439.2 775.1 440.4 803 439.8C830.9 439.2 858.8 436.6 886.8 435.2C914.7 433.8 942.6 432.8 970.5 431.6M635.5 436.4C663.4 437 691.3 437.9 719.2 438.2C747.2 438.4 775.1 439 803 437.9C830.9 436.7 858.8 433 886.8 431.1C914.7 429.2 942.6 428 970.5 426.5M635.5 421.1C663.4 422.9 691.3 424.3 719.2 426.5C747.2 428.7 775.1 432.9 803 434.4C830.9 435.8 858.8 435.4 886.8 435.3C914.7 435.2 942.6 434.2 970.5 433.6M635.5 470.1C663.4 460.9 691.3 454.8 719.2 442.7C747.2 430.6 775.1 407.7 803 397.5C830.9 387.3 858.8 383.9 886.8 381.6C914.7 379.2 942.6 382.9 970.5 383.6M635.5 440.8C663.4 437.8 691.3 435.9 719.2 431.7C747.2 427.5 775.1 419.6 803 415.5C830.9 411.4 858.8 408.8 886.8 407.2C914.7 405.7 942.6 406.5 970.5 406.2M635.5 449.5C663.4 444.5 691.3 441.5 719.2 434.4C747.2 427.3 775.1 414 803 407.1C830.9 400.2 858.8 395.5 886.8 392.8C914.7 390 942.6 391.3 970.5 390.6M635.5 420.5C663.4 420.2 691.3 420 719.2 419.4C747.2 418.7 775.1 417.5 803 416.7C830.9 415.8 858.8 414.8 886.8 414.2C914.7 413.7 942.6 413.6 970.5 413.3M635.5 402.9C663.4 399.7 691.3 395.8 719.2 393.3C747.2 390.8 775.1 385.5 803 387.9C830.9 390.4 858.8 401.9 886.8 407.8C914.7 413.7 942.6 418.2 970.5 423.5M635.5 414.5C663.4 415.3 691.3 416.4 719.2 417C747.2 417.7 775.1 419.1 803 418.4C830.9 417.7 858.8 414.4 886.8 412.8C914.7 411.2 942.6 409.9 970.5 408.5M635.5 408.2L970.5 404.7M635.5 371.9C663.4 379.4 691.3 384.6 719.2 394.4C747.2 404.2 775.1 422.8 803 430.7C830.9 438.5 858.8 440.1 886.8 441.4C914.7 442.6 942.6 439.3 970.5 438.3M635.5 395.5C663.4 395.5 691.3 395 719.2 395.3C747.2 395.6 775.1 396.1 803 397.5C830.9 398.8 858.8 401.7 886.8 403.3C914.7 404.8 942.6 405.6 970.5 406.7M635.5 404.6C663.4 404.2 691.3 404.1 719.2 403.3C747.2 402.5 775.1 401.1 803 399.8C830.9 398.5 858.8 396.7 886.8 395.6C914.7 394.6 942.6 394.4 970.5 393.7M635.5 374.3C663.4 378.7 691.3 381.8 719.2 387.6C747.2 393.3 775.1 404.3 803 408.9C830.9 413.6 858.8 414.6 886.8 415.4C914.7 416.2 942.6 414.3 970.5 413.7M635.5 436.7C663.4 429.7 691.3 425.9 719.2 415.8C747.2 405.7 775.1 386.8 803 376.1C830.9 365.3 858.8 356.5 886.8 351.4C914.7 346.3 942.6 347.5 970.5 345.6M635.5 419.9C663.4 413.8 691.3 409.9 719.2 401.6C747.2 393.4 775.1 377.8 803 370.5C830.9 363.2 858.8 359.9 886.8 357.8C914.7 355.8 942.6 358 970.5 358M635.5 388.2C663.4 387.7 691.3 387.4 719.2 386.7C747.2 385.9 775.1 384.5 803 383.7C830.9 382.9 858.8 382.2 886.8 381.8C914.7 381.5 942.6 381.6 970.5 381.4M635.5 387.6C663.4 387.2 691.3 387.1 719.2 386.5C747.2 385.9 775.1 384.9 803 384.1C830.9 383.4 858.8 382.6 886.8 382.2C914.7 381.8 942.6 381.7 970.5 381.5M635.5 381L970.5 379.1M635.5 389.5C663.4 390.6 691.3 392.6 719.2 392.7C747.2 392.9 775.1 393.6 803 390.4C830.9 387.2 858.8 378.2 886.8 373.6C914.7 368.9 942.6 366.1 970.5 362.3M635.5 394.6C663.4 394.9 691.3 396.6 719.2 395.7C747.2 394.7 775.1 393.3 803 388.8C830.9 384.3 858.8 374 886.8 368.6C914.7 363.2 942.6 360.4 970.5 356.3M635.5 369.8C663.4 370.9 691.3 371.8 719.2 373.1C747.2 374.4 775.1 376.9 803 377.6C830.9 378.2 858.8 377.4 886.8 377C914.7 376.6 942.6 375.8 970.5 375.3M635.5 373.7C663.4 374.1 691.3 374.8 719.2 374.8C747.2 374.9 775.1 375.2 803 374.2C830.9 373.3 858.8 370.5 886.8 369C914.7 367.6 942.6 366.7 970.5 365.5M635.5 361.4C663.4 361.3 691.3 361 719.2 361.2C747.2 361.4 775.1 361.7 803 362.5C830.9 363.4 858.8 365.2 886.8 366.2C914.7 367.2 942.6 367.7 970.5 368.4M635.5 359.5C663.4 360.6 691.3 361.3 719.2 362.8C747.2 364.2 775.1 367 803 368.1C830.9 369.3 858.8 369.5 886.8 369.7C914.7 369.8 942.6 369.3 970.5 369.2M635.5 362.1C663.4 360.8 691.3 359.8 719.2 358.3C747.2 356.8 775.1 354 803 353.2C830.9 352.5 858.8 353.5 886.8 353.9C914.7 354.4 942.6 355.2 970.5 355.9M635.5 334.8C663.4 333.9 691.3 331.4 719.2 332C747.2 332.7 775.1 333.3 803 338.8C830.9 344.3 858.8 357.7 886.8 364.8C914.7 371.8 942.6 375.7 970.5 381.1M635.5 359.7C663.4 358.7 691.3 358.1 719.2 356.7C747.2 355.3 775.1 352.8 803 351.5C830.9 350.2 858.8 349.5 886.8 349C914.7 348.6 942.6 348.9 970.5 348.8M635.5 340.1C663.4 342.5 691.3 344.1 719.2 347.4C747.2 350.7 775.1 356.9 803 359.7C830.9 362.6 858.8 363.7 886.8 364.5C914.7 365.2 942.6 364.3 970.5 364.2M635.5 303.5C663.4 302.9 691.3 299.3 719.2 301.8C747.2 304.3 775.1 307.9 803 318.3C830.9 328.8 858.8 352 886.8 364.2C914.7 376.5 942.6 382.6 970.5 391.8M635.5 340C663.4 340.7 691.3 341 719.2 342.1C747.2 343.1 775.1 345.1 803 346.4C830.9 347.7 858.8 349.1 886.8 349.9C914.7 350.6 942.6 350.6 970.5 351M635.5 310.1C663.4 313.9 691.3 315.5 719.2 321.5C747.2 327.5 775.1 338.5 803 346.1C830.9 353.7 858.8 362.2 886.8 366.9C914.7 371.6 942.6 371.9 970.5 374.4M635.5 333.9C663.4 334.6 691.3 335 719.2 336.1C747.2 337.2 775.1 339.3 803 340.6C830.9 341.9 858.8 343.2 886.8 344C914.7 344.7 942.6 344.6 970.5 345M635.5 386C663.4 387 691.3 391.3 719.2 388.9C747.2 386.5 775.1 383.2 803 371.7C830.9 360.3 858.8 334 886.8 320.2C914.7 306.3 942.6 299.2 970.5 288.7M635.5 337.4L970.5 334.7M635.5 338C663.4 336.2 691.3 334.9 719.2 332.7C747.2 330.5 775.1 326.3 803 324.7C830.9 323.1 858.8 323.2 886.8 323.2C914.7 323.2 942.6 324.1 970.5 324.5M635.5 377.1C663.4 368.8 691.3 363.6 719.2 352.1C747.2 340.5 775.1 318.8 803 307.8C830.9 296.8 858.8 290.2 886.8 286.2C914.7 282.2 942.6 284.7 970.5 283.9M635.5 319.9C663.4 320.9 691.3 321.4 719.2 322.7C747.2 324.1 775.1 326.6 803 328.1C830.9 329.6 858.8 330.9 886.8 331.6C914.7 332.4 942.6 332.2 970.5 332.5M635.5 328.9C663.4 327.6 691.3 326.6 719.2 324.9C747.2 323.2 775.1 319.9 803 318.7C830.9 317.5 858.8 317.6 886.8 317.5C914.7 317.5 942.6 318.2 970.5 318.5M635.5 316.2C663.4 315.9 691.3 315.3 719.2 315.4C747.2 315.5 775.1 315.6 803 316.7C830.9 317.9 858.8 320.9 886.8 322.4C914.7 323.9 942.6 324.8 970.5 326M635.5 323.5C663.4 322.8 691.3 322.4 719.2 321.4C747.2 320.5 775.1 318.8 803 317.9C830.9 317.1 858.8 316.6 886.8 316.3C914.7 316 942.6 316.2 970.5 316.2M635.5 293.8C663.4 297 691.3 298.6 719.2 303.4C747.2 308.2 775.1 317.2 803 322.6C830.9 328.1 858.8 333.2 886.8 336.2C914.7 339.1 942.6 338.8 970.5 340.1M635.5 286.8C663.4 288.6 691.3 288.6 719.2 292.2C747.2 295.9 775.1 302.6 803 308.9C830.9 315.3 858.8 325.2 886.8 330.5C914.7 335.8 942.6 337.4 970.5 340.9M635.5 303.2C663.4 303.5 691.3 303.3 719.2 304.2C747.2 305.1 775.1 306.7 803 308.5C830.9 310.4 858.8 313.6 886.8 315.3C914.7 317.1 942.6 317.7 970.5 318.9M635.5 311.3C663.4 310.9 691.3 310.9 719.2 310.3C747.2 309.7 775.1 308.6 803 307.6C830.9 306.6 858.8 305.2 886.8 304.5C914.7 303.7 942.6 303.5 970.5 303M635.5 302.3C663.4 301.9 691.3 301.2 719.2 301C747.2 300.9 775.1 300.5 803 301.4C830.9 302.4 858.8 305.2 886.8 306.7C914.7 308.1 942.6 309.1 970.5 310.3M635.5 306.1L970.5 301.8M635.5 322.3C663.4 322.2 691.3 323.7 719.2 322C747.2 320.3 775.1 317.6 803 312.3C830.9 307 858.8 296 886.8 290.1C914.7 284.3 942.6 281.5 970.5 277.3M635.5 293C663.4 293.6 691.3 294 719.2 294.9C747.2 295.8 775.1 297.6 803 298.6C830.9 299.7 858.8 300.7 886.8 301.2C914.7 301.7 942.6 301.7 970.5 301.9M635.5 296.8L970.5 294.9M635.5 297C663.4 297.2 691.3 297.7 719.2 297.7C747.2 297.7 775.1 297.8 803 296.9C830.9 295.9 858.8 293.4 886.8 292.1C914.7 290.8 942.6 290.1 970.5 289M635.5 287.1L970.5 290.8M635.5 283.7C663.4 283 691.3 282.1 719.2 281.7C747.2 281.4 775.1 280.6 803 281.7C830.9 282.7 858.8 286.4 886.8 288.3C914.7 290.2 942.6 291.4 970.5 293M635.5 284.7L970.5 283.6M635.5 286.6C663.4 286.3 691.3 286.1 719.2 285.6C747.2 285.1 775.1 284.1 803 283.4C830.9 282.7 858.8 282 886.8 281.6C914.7 281.2 942.6 281.1 970.5 280.9M635.5 256.1C663.4 259.4 691.3 261 719.2 266C747.2 271 775.1 280.3 803 286.1C830.9 291.9 858.8 297.5 886.8 300.7C914.7 303.8 942.6 303.6 970.5 305.1M635.5 271.6C663.4 271 691.3 270 719.2 269.9C747.2 269.7 775.1 269.3 803 270.9C830.9 272.5 858.8 277.2 886.8 279.6C914.7 282 942.6 283.5 970.5 285.4M635.5 276.5L970.5 274.3M635.5 247.4C663.4 251.6 691.3 254.1 719.2 260C747.2 265.9 775.1 277.1 803 283C830.9 288.8 858.8 292.9 886.8 295.3C914.7 297.7 942.6 296.7 970.5 297.3M635.5 265.7C663.4 266.2 691.3 266.3 719.2 267.1C747.2 268 775.1 269.6 803 270.9C830.9 272.2 858.8 273.9 886.8 274.9C914.7 275.9 942.6 276.1 970.5 276.7M635.5 265.2C663.4 265 691.3 264.5 719.2 264.4C747.2 264.3 775.1 264.1 803 264.8C830.9 265.5 858.8 267.6 886.8 268.7C914.7 269.8 942.6 270.5 970.5 271.4M635.5 259.5C663.4 255.4 691.3 250.9 719.2 247.1C747.2 243.4 775.1 235.7 803 236.8C830.9 237.9 858.8 248.5 886.8 253.8C914.7 259.2 942.6 263.9 970.5 268.9M635.5 268.4C663.4 266.6 691.3 265.4 719.2 263.2C747.2 261 775.1 256.8 803 255.2C830.9 253.6 858.8 253.7 886.8 253.6C914.7 253.6 942.6 254.4 970.5 254.9M635.5 271.9C663.4 270.1 691.3 269.1 719.2 266.6C747.2 264.1 775.1 259.4 803 256.8C830.9 254.2 858.8 252.2 886.8 251.1C914.7 249.9 942.6 250.3 970.5 249.9M635.5 261.8C663.4 260.8 691.3 260.1 719.2 258.8C747.2 257.5 775.1 255 803 253.9C830.9 252.8 858.8 252.4 886.8 252.2C914.7 251.9 942.6 252.3 970.5 252.3M635.5 286C663.4 288.3 691.3 292.6 719.2 292.8C747.2 293 775.1 294.2 803 287.2C830.9 280.1 858.8 260.5 886.8 250.2C914.7 240 942.6 233.9 970.5 225.8M635.5 256.1L970.5 251.5M635.5 211C663.4 218.3 691.3 223 719.2 233C747.2 242.9 775.1 261.7 803 270.7C830.9 279.7 858.8 284.1 886.8 286.9C914.7 289.7 942.6 287.2 970.5 287.3M635.5 247.7L970.5 249.9M635.5 262.4C663.4 258.5 691.3 255.9 719.2 250.8C747.2 245.7 775.1 236 803 231.8C830.9 227.6 858.8 226.4 886.8 225.6C914.7 224.8 942.6 226.4 970.5 226.8M635.5 241L970.5 243.6M635.5 261.3C663.4 258.2 691.3 256.6 719.2 252.1C747.2 247.6 775.1 239.3 803 234.4C830.9 229.6 858.8 225.3 886.8 222.9C914.7 220.5 942.6 220.9 970.5 220M635.5 236.1C663.4 238.6 691.3 240.9 719.2 243.5C747.2 246.1 775.1 251.4 803 252C830.9 252.6 858.8 248.9 886.8 247.2C914.7 245.4 942.6 243.3 970.5 241.3M635.5 242.9C663.4 241.8 691.3 241.1 719.2 239.6C747.2 238.1 775.1 235.3 803 233.8C830.9 232.3 858.8 231.4 886.8 230.8C914.7 230.3 942.6 230.6 970.5 230.4M635.5 263.4C663.4 259.3 691.3 257.3 719.2 251.2C747.2 245.2 775.1 233.9 803 227.1C830.9 220.3 858.8 213.8 886.8 210.2C914.7 206.6 942.6 207 970.5 205.4M635.5 229.8L970.5 234.4M635.5 236C663.4 234.5 691.3 233.5 719.2 231.6C747.2 229.7 775.1 226 803 224.5C830.9 222.9 858.8 222.6 886.8 222.3C914.7 222.1 942.6 222.7 970.5 222.9M635.5 203.5C663.4 203.8 691.3 202.5 719.2 204.4C747.2 206.3 775.1 209.3 803 214.7C830.9 220 858.8 230.8 886.8 236.5C914.7 242.2 942.6 244.7 970.5 248.9M635.5 257.4C663.4 257.1 691.3 259.1 719.2 256.4C747.2 253.7 775.1 249.2 803 241.1C830.9 232.9 858.8 216.4 886.8 207.6C914.7 198.8 942.6 194.8 970.5 188.4M635.5 225.9C663.4 224.7 691.3 223.7 719.2 222.2C747.2 220.7 775.1 217.8 803 216.9C830.9 215.9 858.8 216.4 886.8 216.6C914.7 216.7 942.6 217.5 970.5 217.9M635.5 235.6C663.4 231.9 691.3 229.3 719.2 224.4C747.2 219.4 775.1 210 803 205.9C830.9 201.8 858.8 200.5 886.8 199.6C914.7 198.7 942.6 200.2 970.5 200.5M635.5 222.9C663.4 221.3 691.3 220 719.2 218.1C747.2 216.1 775.1 212.2 803 211C830.9 209.7 858.8 210.3 886.8 210.6C914.7 210.8 942.6 211.7 970.5 212.3M635.5 207.8C663.4 206.3 691.3 204.3 719.2 203.3C747.2 202.2 775.1 199.8 803 201.3C830.9 202.7 858.8 208.8 886.8 211.9C914.7 215 942.6 217.3 970.5 220M635.5 216.8C663.4 217.4 691.3 218.3 719.2 218.7C747.2 219 775.1 219.7 803 218.7C830.9 217.7 858.8 214.4 886.8 212.6C914.7 210.9 942.6 209.7 970.5 208.3M635.5 186.4C663.4 189 691.3 190 719.2 194.2C747.2 198.3 775.1 206.1 803 211.4C830.9 216.8 858.8 223.1 886.8 226.5C914.7 229.9 942.6 230.2 970.5 232.1M635.5 224.2C663.4 223.6 691.3 224.1 719.2 222.4C747.2 220.7 775.1 217.8 803 213.9C830.9 210.1 858.8 203.1 886.8 199.4C914.7 195.7 942.6 194.3 970.5 191.7M635.5 205L970.5 206.7M635.5 196.8C663.4 197 691.3 196.8 719.2 197.3C747.2 197.9 775.1 198.8 803 199.9C830.9 201.1 858.8 203.2 886.8 204.3C914.7 205.5 942.6 205.9 970.5 206.7M635.5 210.1C663.4 208.9 691.3 208.4 719.2 206.5C747.2 204.7 775.1 201.2 803 199C830.9 196.7 858.8 194.4 886.8 193.1C914.7 191.8 942.6 191.8 970.5 191.1M635.5 201.4C663.4 201.8 691.3 202.4 719.2 202.5C747.2 202.6 775.1 202.8 803 201.9C830.9 201 858.8 198.3 886.8 196.8C914.7 195.4 942.6 194.6 970.5 193.4M635.5 198.5C663.4 200.5 691.3 202.7 719.2 204.5C747.2 206.4 775.1 210.2 803 209.6C830.9 208.9 858.8 203.6 886.8 200.9C914.7 198.2 942.6 195.9 970.5 193.3M635.5 190.5C663.4 191 691.3 191.3 719.2 192C747.2 192.7 775.1 194 803 194.8C830.9 195.5 858.8 196.1 886.8 196.4C914.7 196.8 942.6 196.7 970.5 196.8M635.5 194.1C663.4 192.8 691.3 191.7 719.2 190.3C747.2 188.8 775.1 186 803 185.4C830.9 184.8 858.8 186 886.8 186.6C914.7 187.2 942.6 188.1 970.5 188.9M635.5 184.2C663.4 184.8 691.3 185.1 719.2 186C747.2 186.8 775.1 188.4 803 189.3C830.9 190.2 858.8 190.9 886.8 191.3C914.7 191.7 942.6 191.6 970.5 191.8M635.5 191.8C663.4 191.3 691.3 191.2 719.2 190.3C747.2 189.5 775.1 188 803 186.8C830.9 185.5 858.8 183.8 886.8 182.9C914.7 182 942.6 181.8 970.5 181.3M635.5 222.5C663.4 221.6 691.3 223.4 719.2 219.8C747.2 216.1 775.1 210 803 200.8C830.9 191.6 858.8 173.8 886.8 164.3C914.7 154.9 942.6 150.9 970.5 144.1M635.5 187.9C663.4 186.8 691.3 186.2 719.2 184.6C747.2 183.1 775.1 180.2 803 178.8C830.9 177.3 858.8 176.3 886.8 175.7C914.7 175.1 942.6 175.4 970.5 175.3M635.5 181.9C663.4 182.2 691.3 182.7 719.2 182.8C747.2 182.9 775.1 183.2 803 182.5C830.9 181.8 858.8 179.7 886.8 178.6C914.7 177.6 942.6 176.9 970.5 176M635.5 169.8C663.4 171 691.3 171.7 719.2 173.4C747.2 175.1 775.1 178.2 803 179.8C830.9 181.5 858.8 182.5 886.8 183.2C914.7 183.8 942.6 183.5 970.5 183.6M635.5 179.4C663.4 178.5 691.3 178 719.2 176.8C747.2 175.7 775.1 173.5 803 172.5C830.9 171.5 858.8 171 886.8 170.7C914.7 170.4 942.6 170.7 970.5 170.7M635.5 116.6C663.4 126.7 691.3 132.9 719.2 146.9C747.2 160.8 775.1 187.1 803 200.3C830.9 213.5 858.8 221.3 886.8 226C914.7 230.7 942.6 227.7 970.5 228.5M635.5 172.2L970.5 170.7M635.5 165.9C663.4 167.4 691.3 168.6 719.2 170.3C747.2 172 775.1 175.4 803 176.2C830.9 177.1 858.8 175.9 886.8 175.4C914.7 174.8 942.6 173.8 970.5 173M635.5 169.7C663.4 168.3 691.3 167.1 719.2 165.6C747.2 164.1 775.1 161 803 160.4C830.9 159.8 858.8 161.2 886.8 161.9C914.7 162.5 942.6 163.5 970.5 164.4M635.5 164.7L970.5 165.7M635.5 133.9C663.4 135.8 691.3 135.7 719.2 139.6C747.2 143.5 775.1 150.5 803 157.3C830.9 164.1 858.8 174.8 886.8 180.6C914.7 186.3 942.6 188.1 970.5 191.8M635.5 182.4C663.4 179.5 691.3 178.2 719.2 173.8C747.2 169.4 775.1 161.2 803 155.9C830.9 150.7 858.8 145.2 886.8 142.2C914.7 139.2 942.6 139.2 970.5 137.7M635.5 116.2C663.4 114.9 691.3 110.7 719.2 112.3C747.2 113.8 775.1 115.8 803 125.7C830.9 135.5 858.8 159.1 886.8 171.4C914.7 183.8 942.6 190.4 970.5 199.8M635.5 161.9C663.4 160.4 691.3 159.3 719.2 157.3C747.2 155.3 775.1 151.5 803 149.9C830.9 148.3 858.8 147.9 886.8 147.7C914.7 147.4 942.6 148 970.5 148.2M635.5 129.4C663.4 133.1 691.3 135.1 719.2 140.3C747.2 145.6 775.1 155.5 803 161.1C830.9 166.8 858.8 171.4 886.8 174C914.7 176.7 942.6 176 970.5 177M635.5 134.3C663.4 130.1 691.3 124.8 719.2 121.9C747.2 118.9 775.1 112.5 803 116.5C830.9 120.4 858.8 137.1 886.8 145.7C914.7 154.3 942.6 160.5 970.5 167.9M635.5 165.2C663.4 165.8 691.3 167.4 719.2 166.8C747.2 166.3 775.1 165.5 803 161.6C830.9 157.7 858.8 148.4 886.8 143.5C914.7 138.6 942.6 135.9 970.5 132.2M635.5 123.6C663.4 127.8 691.3 130.5 719.2 136.2C747.2 142 775.1 152.8 803 158.1C830.9 163.3 858.8 165.9 886.8 167.6C914.7 169.2 942.6 167.8 970.5 167.9M635.5 168.9C663.4 164.4 691.3 161.5 719.2 155.2C747.2 149 775.1 137.1 803 131.2C830.9 125.3 858.8 121.9 886.8 119.8C914.7 117.7 942.6 119.1 970.5 118.8M635.5 145.9C663.4 144.4 691.3 143.2 719.2 141.5C747.2 139.7 775.1 136.4 803 135.5C830.9 134.6 858.8 135.8 886.8 136.3C914.7 136.8 942.6 137.8 970.5 138.5M635.5 135.2C663.4 136.8 691.3 138 719.2 140C747.2 142 775.1 145.7 803 147C830.9 148.3 858.8 147.8 886.8 147.6C914.7 147.4 942.6 146.5 970.5 146M635.5 140.6L970.5 137.3M635.5 103.7C663.4 102.6 691.3 99.4 719.2 100.5C747.2 101.6 775.1 102.9 803 110.4C830.9 117.8 858.8 135.8 886.8 145.2C914.7 154.6 942.6 159.7 970.5 166.9M635.5 134.7L970.5 133.5M635.5 129.7L970.5 133.5M635.5 126C663.4 127.1 691.3 127.9 719.2 129.2C747.2 130.5 775.1 133 803 133.7C830.9 134.4 858.8 133.8 886.8 133.5C914.7 133.2 942.6 132.5 970.5 132M635.5 124.7C663.4 124.9 691.3 125 719.2 125.4C747.2 125.8 775.1 126.5 803 127.1C830.9 127.7 858.8 128.5 886.8 129C914.7 129.4 942.6 129.5 970.5 129.8M635.5 138.3C663.4 137.5 691.3 137.7 719.2 136C747.2 134.3 775.1 131.2 803 128C830.9 124.7 858.8 119.4 886.8 116.6C914.7 113.7 942.6 112.8 970.5 110.9M635.5 116.1C663.4 117.6 691.3 118.7 719.2 120.7C747.2 122.6 775.1 126.3 803 127.8C830.9 129.2 858.8 129.1 886.8 129.2C914.7 129.2 942.6 128.5 970.5 128.1M635.5 116.7C663.4 118.2 691.3 119.5 719.2 121.4C747.2 123.2 775.1 126.8 803 127.8C830.9 128.8 858.8 127.8 886.8 127.4C914.7 126.9 942.6 125.9 970.5 125.1M635.5 120L970.5 116.3M635.5 139.7C663.4 137.8 691.3 137.5 719.2 134.1C747.2 130.8 775.1 124.6 803 119.3C830.9 114 858.8 106.4 886.8 102.3C914.7 98.2 942.6 97.2 970.5 94.6M635.5 114.6L970.5 112.6M635.5 140.6C663.4 135.9 691.3 133.1 719.2 126.4C747.2 119.7 775.1 107.2 803 100.5C830.9 93.9 858.8 89.2 886.8 86.5C914.7 83.8 942.6 85 970.5 84.2M635.5 132.1C663.4 129.3 691.3 127.9 719.2 123.6C747.2 119.2 775.1 111.1 803 106C830.9 100.9 858.8 95.7 886.8 92.8C914.7 89.9 942.6 90 970.5 88.6M635.5 110.7L970.5 107.6M635.5 107.1L970.5 106.6M635.5 98.6C663.4 100.6 691.3 102.3 719.2 104.6C747.2 107 775.1 111.5 803 112.6C830.9 113.8 858.8 112.1 886.8 111.3C914.7 110.5 942.6 109.1 970.5 108M635.5 102.8L970.5 102.9M635.5 98.7L970.5 102.4M635.5 106.6C663.4 103.2 691.3 100.4 719.2 96.5C747.2 92.5 775.1 84.8 803 82.8C830.9 80.8 858.8 83.4 886.8 84.5C914.7 85.6 942.6 88 970.5 89.7M635.5 95.9L970.5 96.3M635.5 97.5C663.4 100.7 691.3 104.2 719.2 107.1C747.2 110 775.1 115.9 803 115C830.9 114 858.8 105.5 886.8 101.3C914.7 97 942.6 93.3 970.5 89.3M635.5 89.3C663.4 92.5 691.3 95.5 719.2 98.9C747.2 102.3 775.1 109 803 109.7C830.9 110.4 858.8 105.6 886.8 103.3C914.7 100.9 942.6 98.1 970.5 95.6M635.5 97.1C663.4 97.4 691.3 98.1 719.2 97.9C747.2 97.6 775.1 97.3 803 95.5C830.9 93.8 858.8 89.6 886.8 87.4C914.7 85.2 942.6 84 970.5 82.3M635.5 25.4C663.4 34.5 691.3 39.5 719.2 52.9C747.2 66.2 775.1 91.2 803 105.6C830.9 120 858.8 132.2 886.8 139.2C914.7 146.2 942.6 144.7 970.5 147.5M635.5 81.1C663.4 80.7 691.3 80.1 719.2 80.1C747.2 80.1 775.1 79.9 803 80.8C830.9 81.8 858.8 84.4 886.8 85.8C914.7 87.2 942.6 88 970.5 89.1M635.5 89C663.4 88.2 691.3 87.8 719.2 86.5C747.2 85.3 775.1 82.9 803 81.4C830.9 79.8 858.8 78.2 886.8 77.3C914.7 76.4 942.6 76.4 970.5 75.9M635.5 85.1C663.4 83.8 691.3 82.7 719.2 81.1C747.2 79.4 775.1 76.3 803 75.3C830.9 74.3 858.8 74.9 886.8 75.2C914.7 75.4 942.6 76.3 970.5 76.8M635.5 83.3C663.4 82.1 691.3 81.2 719.2 79.7C747.2 78.2 775.1 75.3 803 74.4C830.9 73.4 858.8 73.7 886.8 73.8C914.7 74 942.6 74.6 970.5 75M635.5 71.6C663.4 72.4 691.3 72.9 719.2 74.1C747.2 75.3 775.1 77.5 803 78.7C830.9 79.9 858.8 80.9 886.8 81.5C914.7 82 942.6 81.8 970.5 82M635.5 74.1L970.5 78M635.5 96.7C663.4 96.1 691.3 97.1 719.2 94.9C747.2 92.7 775.1 89 803 83.6C830.9 78.2 858.8 68 886.8 62.5C914.7 57 942.6 54.7 970.5 50.9M635.5 63.7C663.4 63.3 691.3 62.5 719.2 62.7C747.2 62.8 775.1 62.9 803 64.5C830.9 66.1 858.8 70.2 886.8 72.4C914.7 74.6 942.6 75.8 970.5 77.5M635.5 63C663.4 64.2 691.3 64.9 719.2 66.5C747.2 68.1 775.1 71.2 803 72.8C830.9 74.4 858.8 75.5 886.8 76.1C914.7 76.7 942.6 76.4 970.5 76.6M635.5 67.6L970.5 67M635.5 69.4C663.4 69.1 691.3 69 719.2 68.3C747.2 67.7 775.1 66.5 803 65.3C830.9 64.2 858.8 62.6 886.8 61.7C914.7 60.8 942.6 60.6 970.5 60M635.5 66C663.4 66.6 691.3 67.5 719.2 67.8C747.2 68.2 775.1 69.1 803 68.2C830.9 67.4 858.8 64.4 886.8 62.9C914.7 61.4 942.6 60.3 970.5 59M635.5 75.7C663.4 75.1 691.3 75.5 719.2 74C747.2 72.5 775.1 69.8 803 66.5C830.9 63.2 858.8 57.2 886.8 54.1C914.7 50.9 942.6 49.7 970.5 47.5M635.5 36.7C663.4 39.6 691.3 40.9 719.2 45.4C747.2 50 775.1 58.3 803 63.8C830.9 69.3 858.8 75 886.8 78.2C914.7 81.4 942.6 81.4 970.5 83M635.5 75.2C663.4 75.6 691.3 77.4 719.2 76.6C747.2 75.8 775.1 74.6 803 70.2C830.9 65.7 858.8 55.3 886.8 49.9C914.7 44.4 942.6 41.6 970.5 37.4M635.5 61.2C663.4 60 691.3 59.2 719.2 57.5C747.2 55.8 775.1 52.6 803 51C830.9 49.4 858.8 48.5 886.8 47.9C914.7 47.3 942.6 47.7 970.5 47.6M635.5 93.7C663.4 86.6 691.3 82.3 719.2 72.4C747.2 62.4 775.1 43.7 803 33.9C830.9 24.2 858.8 17.7 886.8 13.9C914.7 10.1 942.6 12 970.5 11M635.5 44.1C663.4 44.2 691.3 43.9 719.2 44.4C747.2 44.9 775.1 45.8 803 47.1C830.9 48.5 858.8 51.3 886.8 52.8C914.7 54.2 942.6 54.9 970.5 56M635.5 44.7C663.4 43.7 691.3 42.3 719.2 41.7C747.2 41 775.1 39.6 803 40.7C830.9 41.9 858.8 46.4 886.8 48.7C914.7 51 942.6 52.7 970.5 54.6M635.5 60.5C663.4 57.9 691.3 56.1 719.2 52.6C747.2 49 775.1 42.3 803 39.3C830.9 36.3 858.8 35.2 886.8 34.5C914.7 33.7 942.6 34.7 970.5 34.9M635.5 50.5C663.4 49.3 691.3 48.5 719.2 47C747.2 45.5 775.1 42.6 803 41.5C830.9 40.3 858.8 40.2 886.8 40.1C914.7 39.9 942.6 40.5 970.5 40.7M635.5 46C663.4 45.1 691.3 44.4 719.2 43.3C747.2 42.2 775.1 40.1 803 39.3C830.9 38.6 858.8 38.9 886.8 39C914.7 39 942.6 39.6 970.5 39.8M635.5 57.9C663.4 52.5 691.3 48.3 719.2 41.7C747.2 35.1 775.1 22.5 803 18.4C830.9 14.4 858.8 16.6 886.8 17.4C914.7 18.2 942.6 21.5 970.5 23.5M635.5 46.2C663.4 44.4 691.3 43 719.2 40.8C747.2 38.5 775.1 34.1 803 32.5C830.9 30.9 858.8 31.2 886.8 31.2C914.7 31.2 942.6 32.2 970.5 32.7M635.5 48.7C663.4 47 691.3 46 719.2 43.6C747.2 41.1 775.1 36.5 803 33.9C830.9 31.3 858.8 29.3 886.8 28.1C914.7 27 942.6 27.3 970.5 26.9M635.5 41.2C663.4 41.5 691.3 42.1 719.2 42C747.2 41.9 775.1 41.7 803 40.3C830.9 38.9 858.8 35.4 886.8 33.6C914.7 31.8 942.6 30.7 970.5 29.3M635.5 5.4C663.4 8.9 691.3 10.3 719.2 15.8C747.2 21.2 775.1 31.2 803 37.9C830.9 44.6 858.8 52 886.8 56C914.7 60.1 942.6 60.3 970.5 62.4M635.5 16.7C663.4 17.3 691.3 16.9 719.2 18.5C747.2 20.1 775.1 22.8 803 26.2C830.9 29.5 858.8 35.5 886.8 38.7C914.7 41.8 942.6 43.1 970.5 45.3M635.5 27.2L970.5 30.5M635.5 14C663.4 12.7 691.3 10.4 719.2 9.9C747.2 9.5 775.1 8.2 803 11.3C830.9 14.4 858.8 23.8 886.8 28.7C914.7 33.5 942.6 36.6 970.5 40.5M635.5 40.3C663.4 41.5 691.3 43.6 719.2 43.7C747.2 43.9 775.1 44.5 803 41.1C830.9 37.6 858.8 28 886.8 23C914.7 18 942.6 15 970.5 11M635.5 26.8C663.4 27.3 691.3 28 719.2 28.1C747.2 28.3 775.1 28.7 803 27.8C830.9 26.8 858.8 23.9 886.8 22.4C914.7 20.9 942.6 19.9 970.5 18.7M635.5 18.5C663.4 18.6 691.3 18.4 719.2 18.7C747.2 19 775.1 19.5 803 20.3C830.9 21.1 858.8 22.6 886.8 23.5C914.7 24.3 942.6 24.6 970.5 25.2M635.5 12.7C663.4 11.7 691.3 10.3 719.2 9.8C747.2 9.4 775.1 8.2 803 9.9C830.9 11.6 858.8 17 886.8 19.8C914.7 22.6 942.6 24.4 970.5 26.7M635.5 19L970.5 16.6M635.5 18.2C663.4 16.9 691.3 15.8 719.2 14.4C747.2 12.9 775.1 10 803 9.2C830.9 8.5 858.8 9.4 886.8 9.9C914.7 10.3 942.6 11.1 970.5 11.8M635.5 19.4C663.4 18.4 691.3 17.8 719.2 16.5C747.2 15.2 775.1 12.6 803 11.4C830.9 10.1 858.8 9.4 886.8 9C914.7 8.6 942.6 8.9 970.5 8.8M635.5 68.9C663.4 60.9 691.3 56.8 719.2 44.8C747.2 32.8 775.1 10.5 803 -3C830.9 -16.5 858.8 -29 886.8 -36.1C914.7 -43.1 942.6 -42.3 970.5 -45.5M635.5 9L970.5 12M635.5 13.6C663.4 14 691.3 14.8 719.2 14.8C747.2 14.8 775.1 14.9 803 13.7C830.9 12.4 858.8 8.9 886.8 7.1C914.7 5.3 942.6 4.2 970.5 2.8M635.5 -0.1C663.4 0.8 691.3 1.4 719.2 2.8C747.2 4.3 775.1 7 803 8.6C830.9 10.2 858.8 11.6 886.8 12.4C914.7 13.3 942.6 13.1 970.5 13.5M635.5 -14.1C663.4 -12.4 691.3 -12 719.2 -9.1C747.2 -6.2 775.1 -0.8 803 3.6C830.9 7.9 858.8 13.9 886.8 17.1C914.7 20.3 942.6 21 970.5 22.9M635.5 -5C663.4 -2.6 691.3 -0.6 719.2 2.3C747.2 5.2 775.1 10.8 803 12.3C830.9 13.8 858.8 12.1 886.8 11.3C914.7 10.5 942.6 8.9 970.5 7.7M635.5 10.3C663.4 10.7 691.3 11.8 719.2 11.4C747.2 11 775.1 10.5 803 7.9C830.9 5.2 858.8 -1 886.8 -4.3C914.7 -7.5 942.6 -9.3 970.5 -11.8M635.5 41.5C663.4 33.4 691.3 28.3 719.2 17.2C747.2 6.2 775.1 -14.6 803 -24.7C830.9 -34.8 858.8 -40 886.8 -43.2C914.7 -46.4 942.6 -43.8 970.5 -44M635.5 15.1C663.4 11 691.3 8.2 719.2 2.8C747.2 -2.6 775.1 -12.9 803 -17.3C830.9 -21.6 858.8 -22.6 886.8 -23.3C914.7 -24.1 942.6 -22.3 970.5 -21.8" fill="none" stroke="#0000ff" stroke-width="2" stroke-linejoin="round" clip-path="url(#cp1)"/>
<clipPath id="cp2"><rect x="1017.5" y="52" width="338.5" height="1178"/></clipPath>
<clipPath id="cz2"><rect x="1017.5" y="52" width="338.5" height="600.23"/></clipPath>
<path d="M1018.5 643.5L1052.2 624.9L1085.8 604.2L1119.5 583.5L1153.1 562.7L1186.8 542L1220.4 521.2L1234.6 520L1268.2 499.2L1301.9 478.4L1335.5 457.6L1355 445.6M1355 445.6L1355 445.6L1321.3 424.9L1287.7 404.1L1254 383.3L1231.8 382.8L1198.2 362.1L1164.5 341.3L1130.9 320.5L1097.2 299.7L1063.6 279L1029.9 258.2L1018.5 251.1M1018.5 251.1L1018.5 251.1M1355 619.7L1321.3 599.9L1287.7 577.9L1254 555.9L1220.4 533.9L1186.8 511.9L1153.1 489.9L1132.2 487.8L1098.6 465.8L1064.9 443.7L1031.3 421.7L1018.5 413.4M1018.5 413.4L1018.5 413.4L1052.2 391.3L1074.5 387.6L1108.2 365.5L1141.8 343.5L1175.5 321.5L1209.1 299.5L1242.8 277.4L1276.4 255.4L1310.1 233.4L1334.1 231.8L1355 218.2M1355 218.2L1355 218.2M1355 605.9L1321.3 571.7L1287.7 535.4L1254 499L1220.4 462.6L1186.8 426.2L1158 418.4L1124.4 382L1090.7 345.6L1057.1 309.2L1023.4 272.8L1018.5 267.4M1018.5 267.4L1018.5 267.4L1041.9 264.6L1075.5 228.2L1109.2 191.8L1142.8 155.4L1176.5 119L1210.1 82.6L1243.8 46.2L1266.6 42L1300.3 5.6L1333.9 -30.8L1355 -53.6M1355 -53.6L1355 -53.6M1018.5 571.1L1052.2 527.1L1085.8 480.8L1119.5 434.6L1153.1 388.3L1186.8 342L1203.7 336.7L1237.3 290.4L1271 244.2L1304.6 197.9L1338.3 151.6L1355 128.6M1355 128.6L1355 128.6L1331.7 124.2L1298 77.9L1264.4 31.7L1230.7 -14.6L1197.1 -60.9L1169.5 -68.1L1135.9 -114.4M1018.5 566.6L1052.2 539.9L1085.8 511L1119.5 482.1L1153.1 453.2L1186.8 424.2L1220.4 395.3L1254 366.3L1274 362.5L1307.6 333.6L1341.3 304.6L1355 292.8M1355 292.8L1355 292.8L1321.3 263.9L1287.7 234.9L1254 206L1220.4 177L1186.7 148.1L1157.5 142.1L1123.8 113.2L1090.2 84.2L1056.5 55.3L1022.9 26.3L1018.5 22.6M1018.5 22.6L1018.5 22.6M1355 536.8L1321.3 518.9L1287.7 498.9L1254 478.9L1220.4 458.8L1205.6 457.2L1171.9 437.2L1138.3 417.1L1104.6 397.1L1071 377L1055.5 374.7L1021.9 354.6L1018.5 352.6M1018.5 352.6L1018.5 352.6L1052.2 332.5L1085.8 312.5L1119.5 292.4L1153.1 272.4L1171.9 271.4L1205.6 251.4L1239.2 231.3L1272.9 211.3L1306.5 191.2L1340.2 171.2L1355 162.3M1355 162.3L1355 162.3L1337.4 159.8L1303.8 139.7L1270.1 119.6L1236.5 99.6L1202.8 79.5L1169.2 59.5L1143.2 55.8L1109.6 35.7L1075.9 15.6L1042.3 -4.4L1018.5 -18.6M1018.5 -18.6L1018.5 -18.6M1018.5 514.6L1052.2 490L1085.8 463.1L1119.5 436.2L1135.8 435.4L1169.4 408.4L1203.1 381.5L1236.7 354.6L1270.4 327.7L1304 300.8L1331.6 300.6L1355 281.8M1355 281.8L1355 281.8L1321.3 254.9L1287.7 228L1254 201.1L1220.4 174.2L1186.7 147.2L1153.1 120.3L1119.4 93.4L1098.1 88.3L1064.4 61.4L1030.8 34.5L1018.5 24.6M1018.5 24.6L1018.5 24.6L1052.2 -2.3L1085.8 -29.2L1119.5 -56.1L1136.6 -57.6L1170.2 -84.5L1203.9 -111.4M1018.5 493L1052.2 474.2L1085.8 453.2L1119.5 432.2L1153.1 411.2L1179.7 409.8L1213.3 388.8L1247 367.8L1280.6 346.7L1314.3 325.7L1347.9 304.7L1355 300.2M1355 300.2L1355 300.2M1355 490.4L1321.3 471.6L1287.7 450.7L1254 429.8L1220.4 408.8L1186.8 387.8L1158.5 387.6L1124.8 366.6L1091.2 345.7L1057.5 324.7L1023.9 303.7L1018.5 300.4M1018.5 300.4L1018.5 300.4L1052.2 279.4L1067.9 279.1L1101.5 258.2L1135.2 237.2L1168.8 216.2L1202.5 195.3L1236.1 174.3L1269.8 153.3L1287.4 150.5L1321.1 129.5L1354.7 108.5L1355 108.4M1355 108.4L1355 108.4M1355 460.9L1321.3 416.2L1287.7 369.3L1254 322.3L1231.2 314.7L1197.5 267.7L1163.9 220.7L1130.2 173.7L1096.6 126.7L1062.9 79.8L1029.3 32.8L1018.5 17.7M1018.5 17.7L1018.5 17.7L1052.2 -29.3L1085.8 -76.3L1119.5 -123.2M1355 601.8L1321.3 594.6L1287.7 576.6L1254 553.4L1220.4 527.8L1186.8 501L1153.1 473.5L1136.5 470.4L1102.9 442.3L1069.2 414L1035.6 385.6L1018.5 371.1M1018.5 371.1L1018.5 371.1L1052.2 342.5L1085.8 313.8L1119.5 285L1153.1 256.2L1186.8 227.4L1213.5 225.3L1247.2 196.4L1280.8 167.5L1314.5 138.6L1348.1 109.7L1355 103.8M1355 103.8L1355 103.8M1018.5 539.6L1052.2 531.2L1085.8 510.5L1119.5 483.7L1153.1 454L1172.3 451.2L1205.9 419.5L1239.6 387.2L1273.2 354.5L1306.9 321.6L1340.5 288.4L1355 274.1M1355 274.1L1355 274.1L1321.3 240.8L1287.7 207.4L1254 173.9L1220.4 140.4L1198.8 135.3L1165.2 101.7L1131.5 68.1L1097.9 34.4L1064.2 0.8L1039.1 -4.2L1018.5 -24.9M1018.5 -24.9L1018.5 -24.9M1355 503.6L1321.3 471.6L1287.7 426.3L1254 379.9L1220.4 333.2L1186.8 286.3L1156.6 284.2L1122.9 237.3L1089.3 190.3L1055.6 143.4L1022 96.4L1018.5 91.5M1018.5 91.5L1018.5 91.5M1018.5 464.8L1052.2 447.5L1085.8 411.1L1119.5 368.8L1136.2 367L1169.9 322.1L1203.5 276.5L1237.2 230.5L1270.8 184.3L1304.5 137.9L1338.1 91.5L1355 68.1M1355 68.1L1355 68.1M1018.5 398.7L1052.2 387.3L1085.8 363.9L1119.5 337L1153.1 308.9L1186.8 280.3L1220.4 251.5L1254 222.5L1279.1 221.9L1312.7 192.8L1346.4 163.5L1355 156.1M1355 156.1L1355 156.1L1321.3 126.8L1287.7 97.5L1272.4 94.3L1238.7 65L1205.1 35.7L1171.4 6.3L1137.8 -23L1104.1 -52.4L1070.5 -81.8L1036.8 -111.2M1018.5 391.1L1052.2 383.9L1085.8 365.6L1119.5 341.4L1153.1 314.1L1167 311.2L1200.6 282L1234.3 252L1267.9 221.6L1301.6 190.8L1335.2 159.8L1355 141.6M1355 141.6L1355 141.6L1321.3 110.3L1287.7 79L1254 47.7L1220.4 16.2L1186.7 -15.3L1153.1 -46.8L1119.4 -78.4L1092.2 -80.7L1058.6 -112.4M1355 304.8L1321.3 298.6L1287.7 282.9L1254 262.2L1220.4 239.1L1186.8 214.8L1153.1 189.7L1131.4 187.3L1097.7 161.5L1064.1 135.5L1030.4 109.4L1018.5 100.1M1018.5 100.1L1018.5 100.1L1052.2 73.8L1085.8 47.5L1119.5 21.1L1153.1 -5.4L1167 -5.7L1200.6 -32.3L1234.3 -58.8L1267.9 -85.4L1301.6 -112M1355 259.6L1321.3 256L1287.7 246.4L1254 232.4L1220.4 215.8L1186.8 197.6L1153.1 178.4L1119.5 158.5L1098.9 157.5L1065.2 137L1031.6 116.1L1018.5 108M1018.5 108L1018.5 108L1052.2 86.9L1085.8 65.7L1119.5 44.3L1153.1 22.9L1170.5 22.8L1204.1 1.2L1237.8 -20.3L1271.4 -41.9L1305.1 -63.6L1330.1 -67.9L1355 -84M1355 -84L1355 -84L1321.3 -105.7M1018.5 217.3L1052.2 212.2L1085.8 199.8L1119.5 183.7L1153.1 165.9L1186.8 147.3L1220.4 128.2L1254 108.8L1273.1 108.2L1306.7 88.6L1340.4 68.8L1355 60.2M1355 60.2L1355 60.2M1018.5 209.9L1052.2 205.5L1085.8 194.6L1119.5 180.1L1153.1 164L1186.8 147L1200.8 146.9L1234.4 129.3L1268.1 111.4L1301.7 93.3L1335.4 75.1L1355 64.4M1355 64.4L1355 64.4L1321.3 46.1L1287.7 27.8L1254 9.3L1220.4 -9.1L1186.7 -27.6L1153.1 -46.1L1119.4 -64.6L1089.4 -65L1055.8 -83.5L1022.1 -102.1M1355 133.3L1321.3 119.4L1287.7 93.5L1254 65.1L1220.4 35.8L1186.8 6.2L1166.8 1.4L1133.1 -28.5L1099.5 -58.5L1065.8 -88.5L1032.2 -118.5M1018.5 101.6L1052.2 92.7L1085.8 70.5L1119.5 41.7L1153.1 9.9L1172.8 9.7L1206.4 -24.3L1240.1 -59L1273.7 -94M1355 55.9L1321.3 48.5L1287.7 29.9L1254 5.4L1220.4 -22.1L1186.8 -51.2L1172.7 -54.5L1139 -84.7L1105.4 -115.4M1018.5 590.2L1063.8 615.8Q1067.3 617.8 1070.9 615.9L1120.5 590.5Q1124.1 588.7 1127.6 590.5L1203.9 630.2Q1207.4 632 1211.1 630.3L1349.8 564.9Q1353.4 563.2 1354.2 563.7L1355 564.1M1018.5 581.9L1126.9 506.9Q1130.2 504.6 1134 505.8L1216.5 530.6Q1220.4 531.8 1223.9 529.9L1312 481.4Q1315.5 479.5 1319 481.4L1355 501.1M1018.5 558.7L1167.9 638Q1171.4 639.9 1174.8 637.8L1349.1 535.6Q1352.5 533.5 1353.8 534.4L1355 535.2M1018.5 532.6L1177.2 485.3Q1181 484.1 1185 483.8L1194.5 483.2Q1198.5 482.9 1202.3 484.1L1273.8 507.1Q1277.6 508.4 1281.1 506.4L1355 465M1018.5 522.7L1056.7 491.3Q1059.8 488.7 1063.1 491L1106 520.7Q1109.3 522.9 1112.4 520.4L1152.3 487.6Q1155.4 485 1159.4 485.5L1162.5 485.9Q1166.5 486.4 1169.8 488.6L1280.8 564.7Q1284.1 567 1288.1 566.6L1298.2 565.6Q1302.1 565.2 1305.8 563.5L1355 541.5M1018.5 494.2L1070.6 518.8Q1074.2 520.5 1077.7 518.5L1144.4 481.9Q1147.9 480 1151.3 481.9L1241.4 532.5Q1244.9 534.4 1248.3 532.3L1351.5 466.8Q1354.9 464.7 1355 464.7L1355 464.7M1018.5 475.1L1182.6 537.1Q1186.3 538.6 1190.3 538.8L1201.4 539.5Q1205.4 539.8 1208.9 537.8L1262.4 508.6Q1266 506.7 1270 506.5L1281.5 506.1Q1285.5 506 1289.2 507.4L1346.3 529.4Q1350.1 530.8 1352.5 529.5L1355 528.1M1018.5 457.2L1087.7 418.8Q1091.2 416.9 1094.6 418.9L1162.4 459Q1165.9 461 1169.1 458.6L1326.7 343.2Q1329.9 340.9 1333.1 343.3L1355 359.8M1018.5 288.6L1355 293M1018.5 514.4L1355 516.7" fill="none" stroke="#0000ff" stroke-width="2" stroke-linejoin="round" clip-path="url(#cz2)"/>
<path d="M1018.5 1227L1048.3 1218.2Q1052.2 1217 1055.7 1215.1L1087.8 1197.7L1157.5 1152.5L1227.1 1096.2L1297.8 1037L1355 985.4M1018.5 1227L1277.2 947.2Q1280 944.3 1283.3 942.1L1284.4 941.3Q1287.7 939 1291.6 938.3L1293.9 938Q1297.8 937.3 1301.7 938.2L1304 938.7Q1307.9 939.6 1310.8 942.4L1355 985.4M1018.5 1227L1208 893.2Q1210 889.8 1212.6 886.8L1217.7 881Q1220.4 878 1224 876.3L1227.2 874.7Q1230.8 873 1233.9 875.5L1240.6 881L1280.4 918.1Q1283.3 920.8 1287.3 920.8L1297.2 920.8Q1301.2 920.8 1303.9 917.9L1355 862.5M1018.5 925.5L1048.2 918.8Q1052.2 917.9 1055.6 915.9L1084.4 898.8Q1087.8 896.8 1090.8 894.1L1122.8 865.1L1154.6 833.4Q1157.5 830.5 1160.9 828.5L1163.1 827.3Q1166.6 825.2 1170.6 825.2L1171 825.2Q1175 825.2 1178 827.8L1210.6 854.9Q1213.7 857.5 1217.7 857.5L1226.8 857.5Q1230.8 857.5 1233 854.1L1265.8 802.4L1272 793.4Q1274.2 790.1 1277.8 788.2L1279.8 787.2Q1283.3 785.4 1286 788.3L1355 862.5M1018.5 855.7L1066.3 850.3Q1070.3 849.9 1074.2 848.8L1122.8 835.8L1153.6 826.4Q1157.5 825.2 1161.1 823.6L1192.5 809.4L1227.1 791.8L1262.3 773.2Q1265.8 771.3 1269.7 772.3L1280.5 775Q1284.3 776 1287.2 773.2L1301.2 760.1L1333.1 725Q1335.8 722 1339.5 720.4L1355 713.2M1018.5 683.3L1087.8 749.6L1156.1 806.8Q1159.2 809.4 1163.2 809.4L1174.3 809.4Q1178.3 809.4 1180.7 806.2L1210 767.2L1228.4 743.4Q1230.8 740.2 1234.6 741.5L1244.5 744.8Q1248.3 746.1 1251.1 748.9L1264.7 762.6Q1267.5 765.4 1271.4 764.7L1282.8 762.6Q1286.7 761.9 1289.8 759.4L1311.5 741.6Q1314.6 739 1317.4 736.1L1333.1 719.6Q1335.8 716.7 1339.7 715.8L1355 712.1M1018.5 701.5L1105 695.6L1175 683.3L1245 665.7L1286.7 655.2L1355 634M1018.5 683.3L1067.4 638.5Q1070.3 635.8 1074.3 635.4L1083.8 634.4Q1087.8 634 1091.8 634.6L1135.7 640.5Q1139.6 641.1 1143.1 643.1L1154 649.6Q1157.5 651.6 1160.4 654.4L1192.5 685.1L1228.1 723.2Q1230.8 726.1 1234.2 724L1245 717.1Q1248.3 715 1250.7 711.8L1281 670.7Q1283.3 667.5 1287.2 668.4L1300.6 671.8Q1304.5 672.8 1307.6 675.3L1332.8 696.6Q1335.8 699.1 1339.8 699.6L1355 701.5M1018.5 627L1135.6 627Q1139.6 627 1142.9 629.3L1154.2 637.1Q1157.5 639.3 1161.4 640.1L1171.1 642.1Q1175 642.8 1179 642.6L1210 641.1L1241 636.4Q1245 635.8 1248.7 637.4L1262.1 643.1Q1265.8 644.6 1269.1 646.8L1283.4 656.4Q1286.7 658.7 1290.4 660.2L1304.2 665.9Q1307.9 667.5 1311 670L1332.7 687.8Q1335.8 690.4 1339.4 692.2L1355 700.3M1018.5 622.9L1065 628.3Q1069 628.8 1072.9 628.1L1115.5 620.7Q1119.5 620 1123.5 620L1216.4 620Q1220.4 620 1224.3 620.7L1266.9 628.1Q1270.9 628.8 1273.9 631.4L1301.5 655.5Q1304.5 658.1 1307.8 655.8L1318.1 648.7Q1321.3 646.4 1325.1 644.9L1355 633.5" fill="none" stroke="#0000ff" stroke-width="2" stroke-linejoin="round" clip-path="url(#cp2)"/>
<clipPath id="cp3"><rect x="1403" y="52" width="338.5" height="1178"/></clipPath>
<path d="M1404 1227C1413 1225.4 1421.9 1225.2 1430.9 1222.3C1439.4 1219.5 1448 1214.4 1456.5 1210C1474.2 1200.9 1491.9 1192 1509.7 1181.8C1527.2 1171.8 1544.7 1159.5 1562.2 1149.6C1580.1 1139.4 1598 1128.8 1616 1121.4C1633.9 1114 1651.9 1109.5 1669.8 1105.3C1681.1 1102.7 1692.3 1101.7 1703.5 1100.9C1715.8 1100 1728.2 1100.3 1740.5 1100M1404 1227C1421.5 1207.1 1439 1185.7 1456.5 1167.4C1468.2 1155.2 1479.8 1145.2 1491.5 1135.5C1503.4 1125.6 1515.3 1116.6 1527.2 1108.8C1538.8 1101.2 1550.5 1094.4 1562.2 1089.2C1571.8 1084.9 1581.4 1081.8 1591.1 1080.4C1605 1078.3 1618.9 1078.8 1632.8 1078.6C1668.7 1078.2 1704.6 1078.6 1740.5 1078.6M1404 1227C1415.6 1207.1 1427.1 1185.4 1438.7 1167.4C1450.4 1149.1 1462.2 1131.8 1474 1117.9C1482.3 1108.1 1490.6 1102.1 1498.9 1096.4C1505.4 1092 1511.9 1089.5 1518.4 1087.4C1527.4 1084.5 1536.4 1083.1 1545.3 1081.5C1563.3 1078.4 1581.2 1075.1 1599.2 1073.3C1623.8 1071 1648.5 1070.2 1673.2 1069.2C1695.6 1068.4 1718.1 1068.4 1740.5 1068.1M1404 1087.4C1432 1086.6 1460.1 1086.4 1488.1 1085.1C1498.2 1084.6 1508.3 1082.9 1518.4 1082.1C1533 1081.1 1547.6 1080 1562.2 1079.8C1621.6 1078.8 1681.1 1078.8 1740.5 1078.3M1404 1068.1C1445.5 1067.5 1487 1067.4 1528.5 1066.3C1552.1 1065.7 1575.6 1065.2 1599.2 1062.8C1610.4 1061.6 1621.6 1059.4 1632.8 1055.7C1645.2 1051.7 1657.5 1045.2 1669.8 1039.9C1681.1 1035.1 1692.3 1028.6 1703.5 1025.5C1715.8 1022 1728.2 1021.9 1740.5 1020.1M1404 1068.1C1460.1 1066.7 1516.2 1065.8 1572.2 1064C1628.3 1062.1 1684.4 1059.3 1740.5 1056.9M1404 1064C1421.5 1062.4 1439 1063.4 1456.5 1059.3C1468.2 1056.5 1479.8 1048.5 1491.5 1043.4C1497.5 1040.8 1503.6 1037.9 1509.7 1036.1C1521.6 1032.5 1533.4 1030.2 1545.3 1027.2C1557 1024.3 1568.7 1020.5 1580.3 1018.4C1592.2 1016.3 1604.1 1015 1616 1014.7C1657.5 1013.6 1699 1014.3 1740.5 1014.1M1404 1041.4C1433.2 1039.9 1462.3 1041.4 1491.5 1037C1497.5 1036.1 1503.6 1030.2 1509.7 1025.5C1513.1 1022.8 1516.6 1016.3 1520.1 1014.7C1526.3 1011.9 1532.4 1012.4 1538.6 1012.3C1605.9 1011.8 1673.2 1012.7 1740.5 1012.9M1404 1012.9C1439.9 1012.9 1475.8 1014.5 1511.7 1012.9C1516.8 1012.7 1522 1012.9 1527.2 1007.6C1538.8 995.8 1550.5 976.7 1562.2 961.6C1574.2 946 1586.2 927.1 1598.2 915.6C1609.7 904.4 1621.3 897.4 1632.8 893.5C1650.8 887.3 1668.7 887 1686.7 885.3C1704.6 883.7 1722.6 884.1 1740.5 883.5M1404 1005.3C1454.5 1004.9 1505 1005.5 1555.4 1004.1C1563.7 1003.9 1572 1003.5 1580.3 1000.6C1592.2 996.5 1604.1 991.3 1616 983C1627.8 974.8 1639.5 962 1651.3 951.3C1663.1 940.7 1674.9 929.5 1686.7 919.1C1698.4 908.7 1710.2 897.2 1722 888.8C1728.2 884.4 1734.3 883.4 1740.5 880.7M1404 1005.3C1516.2 1005.5 1628.3 1005.7 1740.5 1005.9M1404 933.9C1421.5 930.2 1439 929.1 1456.5 922.6C1468.2 918.3 1479.8 908.5 1491.5 901.5C1503.4 894.3 1515.3 886 1527.2 880C1536.6 875.2 1546 871.3 1555.4 869.2C1565 867.1 1574.5 865.8 1584 867.5C1594.7 869.4 1605.3 874.6 1616 880C1627.8 885.9 1639.5 895 1651.3 901.5C1663.1 908 1674.9 913.8 1686.7 919.1C1698.4 924.4 1710.2 929.7 1722 933.2C1728.2 935 1734.3 934.3 1740.5 934.9M1404 872.9C1427.3 871.9 1450.7 871.4 1474 870.1C1491.7 869 1509.4 867.3 1527.2 865.7C1538.8 864.7 1550.5 863.9 1562.2 862.2C1574.2 860.4 1586.2 859.6 1598.2 855.2C1609.7 850.8 1621.3 842.2 1632.8 835.8C1644.8 829.2 1656.8 820.9 1668.8 816.1C1680.4 811.4 1691.9 809.1 1703.5 807.2C1715.8 805.3 1728.2 805.6 1740.5 804.7M1404 875.7C1427.3 873.5 1450.7 872.8 1474 869.2C1491.7 866.5 1509.4 861.6 1527.2 856.9C1544.9 852.2 1562.6 846.7 1580.3 841.1C1597.8 835.5 1615.3 828.8 1632.8 823.2C1644.8 819.3 1656.8 814.8 1668.8 812.6C1692.7 808.2 1716.6 806.6 1740.5 803.7M1404 815.4C1421.5 816.8 1439 817.2 1456.5 819.7C1474.2 822.2 1491.9 826.6 1509.7 830.3C1521.6 832.8 1533.4 836.3 1545.3 838.2C1553.2 839.3 1561 840.2 1568.9 839.3C1578.6 838.2 1588.4 835.6 1598.2 832.3C1609.7 828.4 1621.3 822.5 1632.8 817.9C1644.8 813 1656.8 807.3 1668.8 803.7C1680.4 800.2 1691.9 798 1703.5 796.5C1715.8 794.9 1728.2 794.9 1740.5 794.2M1404 789.5C1468.7 787.9 1533.4 785.8 1598.2 784.8C1609.7 784.6 1621.3 784.6 1632.8 786C1639 786.7 1645.2 788.5 1651.3 791.2C1657.2 793.8 1663 797.6 1668.8 801.8C1674.8 806 1680.7 810.9 1686.7 816.5C1692.3 821.7 1697.9 829.3 1703.5 834C1709.7 839.3 1715.8 843.3 1722 846.4C1728.2 849.4 1734.3 850.3 1740.5 852.2M1404 784.2C1445.1 783 1486.1 783 1527.2 780.7C1538.8 780 1550.5 777.7 1562.2 775.4C1574.2 773 1586.2 769.7 1598.2 766.6C1604.1 765 1610.1 762.2 1616 761.3C1629.5 759.3 1642.9 758.5 1656.4 757.8C1684.4 756.3 1712.5 755.8 1740.5 754.9M1404 775.4C1516.2 775.2 1628.3 775 1740.5 774.8M1404 742C1432 741.2 1460.1 740.5 1488.1 739.5C1516.2 738.4 1544.2 736.4 1572.2 735.6C1600.3 734.9 1628.3 735.1 1656.4 735.1C1684.4 735.1 1712.5 735.6 1740.5 735.9M1404 736.8L1740.5 734M1404 768.8C1432 768.6 1460.1 771.7 1488.1 768.1C1516.2 764.6 1544.2 758.9 1572.2 747.6C1600.3 736.3 1628.3 712.7 1656.4 700.2C1684.4 687.7 1712.5 681.9 1740.5 672.7M1404 717.9C1432 718.6 1460.1 719.6 1488.1 719.9C1516.2 720.3 1544.2 721.1 1572.2 720C1600.3 718.9 1628.3 715.3 1656.4 713.4C1684.4 711.5 1712.5 710.3 1740.5 708.7M1404 697.2C1432 697.7 1460.1 697.8 1488.1 698.6C1516.2 699.4 1544.2 700.9 1572.2 702.1C1600.3 703.4 1628.3 705.1 1656.4 706C1684.4 706.9 1712.5 707.1 1740.5 707.7M1404 697.5C1432 696.6 1460.1 696 1488.1 694.9C1516.2 693.9 1544.2 691.8 1572.2 691C1600.3 690.3 1628.3 690.3 1656.4 690.3C1684.4 690.3 1712.5 690.7 1740.5 690.9M1404 688.6C1432 686.3 1460.1 684.2 1488.1 681.6C1516.2 679 1544.2 673.9 1572.2 672.9C1600.3 671.9 1628.3 674.4 1656.4 675.6C1684.4 676.8 1712.5 678.6 1740.5 680.1M1404 679.3L1740.5 677M1404 664.9C1432 665.8 1460.1 666.4 1488.1 667.5C1516.2 668.6 1544.2 670.7 1572.2 671.5C1600.3 672.3 1628.3 672.4 1656.4 672.5C1684.4 672.5 1712.5 672.1 1740.5 671.9M1404 714.3C1432 704.8 1460.1 698.7 1488.1 685.8C1516.2 672.8 1544.2 648.4 1572.2 636.6C1600.3 624.9 1628.3 618.9 1656.4 615.2C1684.4 611.6 1712.5 614.8 1740.5 614.5M1404 643.9C1432 645.2 1460.1 645.6 1488.1 647.7C1516.2 649.8 1544.2 653.7 1572.2 656.5C1600.3 659.3 1628.3 662.7 1656.4 664.6C1684.4 666.5 1712.5 666.7 1740.5 667.8M1404 648.5C1432 649.8 1460.1 650.8 1488.1 652.3C1516.2 653.8 1544.2 656.8 1572.2 657.6C1600.3 658.4 1628.3 657.6 1656.4 657.3C1684.4 656.9 1712.5 656.1 1740.5 655.5M1404 645.7C1432 644.8 1460.1 644.2 1488.1 643C1516.2 641.8 1544.2 639.5 1572.2 638.5C1600.3 637.4 1628.3 637 1656.4 636.7C1684.4 636.5 1712.5 636.8 1740.5 636.9M1404 647.2C1432 645.4 1460.1 644.1 1488.1 641.8C1516.2 639.5 1544.2 635.1 1572.2 633.4C1600.3 631.8 1628.3 631.9 1656.4 631.9C1684.4 631.9 1712.5 632.8 1740.5 633.3M1404 644.1C1432 644.1 1460.1 645 1488.1 644.1C1516.2 643.3 1544.2 642 1572.2 639.2C1600.3 636.3 1628.3 630.1 1656.4 626.8C1684.4 623.6 1712.5 622 1740.5 619.6M1404 620.1C1432 618.9 1460.1 617.2 1488.1 616.4C1516.2 615.5 1544.2 613.7 1572.2 615.1C1600.3 616.6 1628.3 622.2 1656.4 625.1C1684.4 628 1712.5 630.1 1740.5 632.6M1404 596C1432 598.8 1460.1 599.9 1488.1 604.4C1516.2 609 1544.2 617.4 1572.2 623.5C1600.3 629.5 1628.3 636.6 1656.4 640.5C1684.4 644.5 1712.5 644.9 1740.5 647M1404 640.2C1432 637.8 1460.1 636.9 1488.1 633C1516.2 629.1 1544.2 621.9 1572.2 616.8C1600.3 611.6 1628.3 605.5 1656.4 602.1C1684.4 598.7 1712.5 598.3 1740.5 596.5M1404 594.5C1432 596.7 1460.1 597.9 1488.1 601.2C1516.2 604.5 1544.2 610.7 1572.2 614.4C1600.3 618.2 1628.3 621.7 1656.4 623.6C1684.4 625.6 1712.5 625.4 1740.5 626.3M1404 598.2C1432 599.1 1460.1 599.4 1488.1 600.7C1516.2 602 1544.2 604.4 1572.2 606.1C1600.3 607.7 1628.3 609.6 1656.4 610.6C1684.4 611.7 1712.5 611.8 1740.5 612.3M1404 611.9C1432 611.9 1460.1 612.6 1488.1 611.9C1516.2 611.2 1544.2 610 1572.2 607.6C1600.3 605.2 1628.3 600 1656.4 597.3C1684.4 594.5 1712.5 593.2 1740.5 591.2M1404 597.1L1740.5 592.8M1404 550.9C1432 556.5 1460.1 559.3 1488.1 567.7C1516.2 576.1 1544.2 591.9 1572.2 601.5C1600.3 611.2 1628.3 620.5 1656.4 625.7C1684.4 631 1712.5 630.6 1740.5 633M1404 586.4L1740.5 583.2M1404 570.6C1432 572.4 1460.1 573.7 1488.1 576.2C1516.2 578.7 1544.2 583.4 1572.2 585.5C1600.3 587.7 1628.3 588.4 1656.4 589C1684.4 589.5 1712.5 588.8 1740.5 588.7M1404 569.8C1432 569.6 1460.1 568.9 1488.1 569.1C1516.2 569.3 1544.2 569.6 1572.2 571.1C1600.3 572.7 1628.3 576.5 1656.4 578.5C1684.4 580.5 1712.5 581.6 1740.5 583.1M1404 571L1740.5 573M1404 569.7C1432 568.8 1460.1 568.1 1488.1 567C1516.2 565.9 1544.2 563.8 1572.2 563.1C1600.3 562.3 1628.3 562.5 1656.4 562.6C1684.4 562.6 1712.5 563.1 1740.5 563.4M1404 564.8L1740.5 564.3M1404 563.2C1432 563 1460.1 563 1488.1 562.5C1516.2 562 1544.2 561.1 1572.2 560.2C1600.3 559.2 1628.3 557.5 1656.4 556.7C1684.4 555.8 1712.5 555.5 1740.5 554.9M1404 579.9C1432 576.6 1460.1 574.8 1488.1 569.9C1516.2 565 1544.2 555.8 1572.2 550.3C1600.3 544.9 1628.3 540 1656.4 537.2C1684.4 534.4 1712.5 534.8 1740.5 533.6M1404 606.7C1432 607 1460.1 611.2 1488.1 607.6C1516.2 604 1544.2 598.5 1572.2 585.3C1600.3 572.1 1628.3 543.5 1656.4 528.5C1684.4 513.4 1712.5 506 1740.5 494.8M1404 544.5L1740.5 549.2M1404 564C1432 563.3 1460.1 564.1 1488.1 562C1516.2 559.9 1544.2 556.3 1572.2 551.3C1600.3 546.3 1628.3 537 1656.4 532.1C1684.4 527.2 1712.5 525.2 1740.5 521.7M1404 577C1432 572.9 1460.1 571.2 1488.1 564.6C1516.2 557.9 1544.2 545.6 1572.2 537.1C1600.3 528.5 1628.3 518.6 1656.4 513.1C1684.4 507.6 1712.5 507.2 1740.5 504.2M1404 542.3C1432 541.6 1460.1 541.4 1488.1 540.3C1516.2 539.2 1544.2 537.2 1572.2 535.7C1600.3 534.3 1628.3 532.6 1656.4 531.6C1684.4 530.7 1712.5 530.6 1740.5 530M1404 543.9C1432 540.7 1460.1 538.5 1488.1 534.2C1516.2 530 1544.2 521.9 1572.2 518.5C1600.3 515 1628.3 514.1 1656.4 513.4C1684.4 512.7 1712.5 514.1 1740.5 514.5M1404 526.7L1740.5 528.6M1404 526.3C1432 526 1460.1 526 1488.1 525.4C1516.2 524.7 1544.2 523.6 1572.2 522.5C1600.3 521.4 1628.3 519.7 1656.4 518.8C1684.4 517.8 1712.5 517.6 1740.5 517M1404 529.1C1432 528.1 1460.1 527.8 1488.1 526.2C1516.2 524.6 1544.2 521.7 1572.2 519.6C1600.3 517.5 1628.3 514.9 1656.4 513.5C1684.4 512.1 1712.5 511.9 1740.5 511.1M1404 571.5C1432 570.5 1460.1 573.5 1488.1 568.5C1516.2 563.6 1544.2 555.4 1572.2 541.9C1600.3 528.4 1628.3 501.7 1656.4 487.6C1684.4 473.4 1712.5 467.2 1740.5 457M1404 523.2C1432 523.4 1460.1 524.4 1488.1 523.8C1516.2 523.2 1544.2 522.3 1572.2 519.7C1600.3 517.1 1628.3 511.2 1656.4 508C1684.4 504.9 1712.5 503.3 1740.5 501M1404 509.7C1432 510.4 1460.1 511.3 1488.1 511.7C1516.2 512.2 1544.2 513.1 1572.2 512.3C1600.3 511.4 1628.3 508.1 1656.4 506.5C1684.4 504.8 1712.5 503.6 1740.5 502.2M1404 508.8C1432 508.3 1460.1 508.1 1488.1 507.4C1516.2 506.7 1544.2 505.3 1572.2 504.4C1600.3 503.4 1628.3 502.2 1656.4 501.6C1684.4 501 1712.5 500.9 1740.5 500.6M1404 488.2C1432 490.1 1460.1 491.2 1488.1 493.8C1516.2 496.3 1544.2 501.1 1572.2 503.5C1600.3 506 1628.3 507.4 1656.4 508.3C1684.4 509.1 1712.5 508.6 1740.5 508.8M1404 491.4C1432 491.6 1460.1 491.4 1488.1 492C1516.2 492.6 1544.2 493.5 1572.2 494.8C1600.3 496.1 1628.3 498.5 1656.4 499.8C1684.4 501.1 1712.5 501.6 1740.5 502.5M1404 496.5C1432 496.7 1460.1 497.2 1488.1 497.2C1516.2 497.3 1544.2 497.4 1572.2 496.7C1600.3 496 1628.3 494.1 1656.4 493.1C1684.4 492 1712.5 491.4 1740.5 490.6M1404 487C1432 486.9 1460.1 486.5 1488.1 486.6C1516.2 486.6 1544.2 486.6 1572.2 487.2C1600.3 487.7 1628.3 489.3 1656.4 490.1C1684.4 490.9 1712.5 491.3 1740.5 492M1404 481.6C1432 481.8 1460.1 481.5 1488.1 482.1C1516.2 482.6 1544.2 483.5 1572.2 484.7C1600.3 486 1628.3 488.5 1656.4 489.8C1684.4 491.1 1712.5 491.7 1740.5 492.6M1404 480.7L1740.5 485.1M1404 490.3C1432 488.4 1460.1 487.2 1488.1 484.4C1516.2 481.6 1544.2 476.4 1572.2 473.6C1600.3 470.8 1628.3 468.9 1656.4 467.8C1684.4 466.6 1712.5 467.1 1740.5 466.8M1404 480.3C1432 480.2 1460.1 480.3 1488.1 479.9C1516.2 479.5 1544.2 478.9 1572.2 478C1600.3 477.2 1628.3 475.7 1656.4 474.9C1684.4 474.1 1712.5 473.8 1740.5 473.3M1404 489C1432 485.7 1460.1 483.8 1488.1 479.2C1516.2 474.6 1544.2 465.9 1572.2 461.4C1600.3 457 1628.3 454.1 1656.4 452.4C1684.4 450.6 1712.5 451.5 1740.5 451.1M1404 492.4C1432 490.3 1460.1 490 1488.1 486.2C1516.2 482.3 1544.2 475.4 1572.2 469.3C1600.3 463.3 1628.3 454.6 1656.4 449.8C1684.4 445.1 1712.5 444 1740.5 441M1404 462.2C1432 461.6 1460.1 460.8 1488.1 460.4C1516.2 460.1 1544.2 459.3 1572.2 460.1C1600.3 460.9 1628.3 463.8 1656.4 465.3C1684.4 466.8 1712.5 467.9 1740.5 469.1M1404 454.3C1432 455 1460.1 455.3 1488.1 456.5C1516.2 457.7 1544.2 459.9 1572.2 461.5C1600.3 463.1 1628.3 464.9 1656.4 465.9C1684.4 466.9 1712.5 467 1740.5 467.6M1404 451.2C1432 452.4 1460.1 453.2 1488.1 454.9C1516.2 456.5 1544.2 459.7 1572.2 461.3C1600.3 462.9 1628.3 463.9 1656.4 464.4C1684.4 465 1712.5 464.6 1740.5 464.7M1404 472.2C1432 471.7 1460.1 472.5 1488.1 470.8C1516.2 469 1544.2 466 1572.2 461.6C1600.3 457.2 1628.3 448.8 1656.4 444.4C1684.4 439.9 1712.5 438 1740.5 434.8M1404 448.1C1432 447.3 1460.1 446.3 1488.1 445.7C1516.2 445.1 1544.2 443.8 1572.2 444.5C1600.3 445.1 1628.3 448.1 1656.4 449.7C1684.4 451.2 1712.5 452.3 1740.5 453.7M1404 445.1C1432 444.6 1460.1 443.9 1488.1 443.7C1516.2 443.5 1544.2 443 1572.2 443.9C1600.3 444.8 1628.3 447.8 1656.4 449.3C1684.4 450.8 1712.5 451.8 1740.5 453.1M1404 464.8C1432 463.1 1460.1 462.7 1488.1 459.5C1516.2 456.2 1544.2 450.4 1572.2 445.5C1600.3 440.7 1628.3 434 1656.4 430.3C1684.4 426.7 1712.5 425.9 1740.5 423.7M1404 428.5C1432 431.2 1460.1 433.1 1488.1 436.6C1516.2 440.1 1544.2 446.8 1572.2 449.6C1600.3 452.3 1628.3 452.8 1656.4 453.2C1684.4 453.6 1712.5 452.4 1740.5 452M1404 442.3C1432 441.6 1460.1 441.1 1488.1 440.1C1516.2 439 1544.2 437.1 1572.2 436.1C1600.3 435.2 1628.3 434.6 1656.4 434.3C1684.4 434 1712.5 434.2 1740.5 434.2M1404 420.5C1432 420.5 1460.1 419.4 1488.1 420.3C1516.2 421.2 1544.2 422.5 1572.2 425.8C1600.3 429.1 1628.3 436.1 1656.4 439.9C1684.4 443.6 1712.5 445.5 1740.5 448.2M1404 442.8C1432 443.2 1460.1 444.4 1488.1 443.9C1516.2 443.4 1544.2 442.7 1572.2 439.8C1600.3 436.9 1628.3 430 1656.4 426.4C1684.4 422.7 1712.5 420.8 1740.5 418.1M1404 431.3L1740.5 428.7M1404 419.9C1432 421.5 1460.1 422.8 1488.1 424.8C1516.2 426.8 1544.2 430.7 1572.2 432.1C1600.3 433.4 1628.3 433.1 1656.4 433C1684.4 432.9 1712.5 432 1740.5 431.5M1404 420.1C1432 421.2 1460.1 422.2 1488.1 423.6C1516.2 425.1 1544.2 427.8 1572.2 428.7C1600.3 429.5 1628.3 429 1656.4 428.7C1684.4 428.5 1712.5 427.8 1740.5 427.3M1404 424.4C1432 423 1460.1 421.8 1488.1 420C1516.2 418.2 1544.2 414.8 1572.2 413.7C1600.3 412.7 1628.3 413.3 1656.4 413.6C1684.4 413.8 1712.5 414.7 1740.5 415.3M1404 386.1C1432 390.4 1460.1 392.7 1488.1 399.1C1516.2 405.4 1544.2 417.2 1572.2 423.9C1600.3 430.7 1628.3 436.4 1656.4 439.6C1684.4 442.8 1712.5 442.1 1740.5 443.4M1404 432.6C1432 432.3 1460.1 433.5 1488.1 431.7C1516.2 430 1544.2 427.1 1572.2 422.2C1600.3 417.2 1628.3 407.3 1656.4 402.1C1684.4 396.8 1712.5 394.4 1740.5 390.6M1404 411.2L1740.5 410.5M1404 400.4C1432 401.4 1460.1 401.8 1488.1 403.2C1516.2 404.6 1544.2 407.1 1572.2 408.7C1600.3 410.3 1628.3 411.8 1656.4 412.6C1684.4 413.5 1712.5 413.4 1740.5 413.8M1404 406.9C1432 409 1460.1 411.5 1488.1 413.4C1516.2 415.2 1544.2 419.1 1572.2 418.1C1600.3 417.1 1628.3 410.7 1656.4 407.4C1684.4 404.1 1712.5 401.5 1740.5 398.5M1404 403L1740.5 399.3M1404 400.3C1432 401.1 1460.1 402.2 1488.1 402.8C1516.2 403.4 1544.2 404.8 1572.2 404C1600.3 403.3 1628.3 400 1656.4 398.3C1684.4 396.6 1712.5 395.3 1740.5 393.8M1404 416.7C1432 415.9 1460.1 416.4 1488.1 414.1C1516.2 411.8 1544.2 407.8 1572.2 402.9C1600.3 398 1628.3 389.4 1656.4 384.8C1684.4 380.2 1712.5 378.5 1740.5 375.3M1404 404.8C1432 408.4 1460.1 412.9 1488.1 415.7C1516.2 418.6 1544.2 424.6 1572.2 421.8C1600.3 419 1628.3 405.7 1656.4 398.9C1684.4 392.1 1712.5 387 1740.5 381M1404 375.8C1432 376.9 1460.1 377.2 1488.1 379.1C1516.2 381.1 1544.2 384.6 1572.2 387.4C1600.3 390.1 1628.3 393.8 1656.4 395.8C1684.4 397.8 1712.5 398.1 1740.5 399.3M1404 381.4C1432 382.6 1460.1 383.5 1488.1 385C1516.2 386.6 1544.2 389.6 1572.2 390.8C1600.3 392 1628.3 392.1 1656.4 392.2C1684.4 392.3 1712.5 391.7 1740.5 391.5M1404 387.1C1432 386.1 1460.1 385.3 1488.1 384C1516.2 382.6 1544.2 380.1 1572.2 379C1600.3 377.9 1628.3 377.6 1656.4 377.4C1684.4 377.2 1712.5 377.7 1740.5 377.8M1404 384C1432 383 1460.1 382.3 1488.1 381C1516.2 379.6 1544.2 377.1 1572.2 375.9C1600.3 374.7 1628.3 374.2 1656.4 373.8C1684.4 373.5 1712.5 373.8 1740.5 373.8M1404 378.5L1740.5 377.9M1404 414.2C1432 413.5 1460.1 415.6 1488.1 412.2C1516.2 408.8 1544.2 403.2 1572.2 394C1600.3 384.8 1628.3 366.6 1656.4 357C1684.4 347.4 1712.5 343.2 1740.5 336.2M1404 373.1C1432 372.6 1460.1 372.2 1488.1 371.4C1516.2 370.6 1544.2 369.2 1572.2 368.5C1600.3 367.9 1628.3 367.6 1656.4 367.5C1684.4 367.3 1712.5 367.6 1740.5 367.6M1404 397.5C1432 390.5 1460.1 385.6 1488.1 376.6C1516.2 367.6 1544.2 350.4 1572.2 343.4C1600.3 336.4 1628.3 335.3 1656.4 334.3C1684.4 333.4 1712.5 336.6 1740.5 337.7M1404 356.8C1432 355 1460.1 352.6 1488.1 351.5C1516.2 350.3 1544.2 347.7 1572.2 349.8C1600.3 352 1628.3 360.1 1656.4 364.3C1684.4 368.4 1712.5 371.4 1740.5 374.9M1404 366.7C1432 365.8 1460.1 365.1 1488.1 363.9C1516.2 362.6 1544.2 360.2 1572.2 359.1C1600.3 358.1 1628.3 357.7 1656.4 357.5C1684.4 357.3 1712.5 357.6 1740.5 357.7M1404 360.2L1740.5 361.9M1404 352.6C1432 351.8 1460.1 350.5 1488.1 350.2C1516.2 349.8 1544.2 348.8 1572.2 350.3C1600.3 351.7 1628.3 356.3 1656.4 358.7C1684.4 361.1 1712.5 362.7 1740.5 364.6M1404 354.7L1740.5 355.7M1404 356.2C1432 356.5 1460.1 357.1 1488.1 357C1516.2 356.9 1544.2 356.9 1572.2 355.6C1600.3 354.4 1628.3 351.1 1656.4 349.5C1684.4 347.8 1712.5 346.8 1740.5 345.5M1404 352.1L1740.5 347.7M1404 338.5C1432 339.2 1460.1 339.3 1488.1 340.6C1516.2 341.9 1544.2 344.2 1572.2 346.3C1600.3 348.4 1628.3 351.4 1656.4 353C1684.4 354.7 1712.5 355.1 1740.5 356.1M1404 346.4L1740.5 342.5M1404 337.2L1740.5 341.4M1404 334.3C1432 333.6 1460.1 332.6 1488.1 332C1516.2 331.5 1544.2 330.4 1572.2 331.2C1600.3 332 1628.3 335.2 1656.4 336.9C1684.4 338.6 1712.5 339.8 1740.5 341.2M1404 345.9C1432 342.9 1460.1 340.6 1488.1 336.9C1516.2 333.1 1544.2 325.9 1572.2 323.4C1600.3 320.9 1628.3 321.5 1656.4 321.6C1684.4 321.7 1712.5 323.4 1740.5 324.3M1404 346.1C1432 348.8 1460.1 352.4 1488.1 354.2C1516.2 356 1544.2 360.1 1572.2 357.1C1600.3 354.1 1628.3 342.4 1656.4 336.3C1684.4 330.3 1712.5 326 1740.5 320.8M1404 328.3L1740.5 330.5M1404 333C1432 331.9 1460.1 331.2 1488.1 329.8C1516.2 328.4 1544.2 325.7 1572.2 324.6C1600.3 323.4 1628.3 323.2 1656.4 323C1684.4 322.8 1712.5 323.3 1740.5 323.4M1404 330C1432 328.8 1460.1 328 1488.1 326.2C1516.2 324.5 1544.2 321.2 1572.2 319.6C1600.3 317.9 1628.3 317 1656.4 316.5C1684.4 315.9 1712.5 316.3 1740.5 316.2M1404 320.7L1740.5 320.1M1404 343.4C1432 343.1 1460.1 344.3 1488.1 342.3C1516.2 340.3 1544.2 337 1572.2 331.5C1600.3 326.1 1628.3 315.2 1656.4 309.5C1684.4 303.7 1712.5 301.2 1740.5 297.1M1404 318.7C1432 318.3 1460.1 318.1 1488.1 317.4C1516.2 316.8 1544.2 315.6 1572.2 314.8C1600.3 314.1 1628.3 313.3 1656.4 312.9C1684.4 312.5 1712.5 312.5 1740.5 312.3M1404 306.9C1432 306.9 1460.1 306.4 1488.1 306.8C1516.2 307.1 1544.2 307.6 1572.2 309C1600.3 310.4 1628.3 313.3 1656.4 314.9C1684.4 316.5 1712.5 317.3 1740.5 318.5M1404 337.1C1432 333.3 1460.1 331.3 1488.1 325.7C1516.2 320.2 1544.2 309.8 1572.2 303.8C1600.3 297.9 1628.3 292.7 1656.4 289.8C1684.4 286.9 1712.5 287.5 1740.5 286.3M1404 336.9C1432 334.4 1460.1 333.8 1488.1 329.5C1516.2 325.1 1544.2 317.2 1572.2 310.8C1600.3 304.3 1628.3 295.6 1656.4 290.8C1684.4 286 1712.5 285 1740.5 282.2M1404 306.8L1740.5 305.9M1404 296.4C1432 295.1 1460.1 293.4 1488.1 292.6C1516.2 291.7 1544.2 289.8 1572.2 291.2C1600.3 292.5 1628.3 298 1656.4 300.8C1684.4 303.7 1712.5 305.7 1740.5 308.1M1404 347.7C1432 343.5 1460.1 342.5 1488.1 335C1516.2 327.6 1544.2 314.1 1572.2 303.2C1600.3 292.2 1628.3 277.5 1656.4 269.5C1684.4 261.5 1712.5 259.9 1740.5 255.1M1404 293.4C1432 293.8 1460.1 293.9 1488.1 294.7C1516.2 295.5 1544.2 297 1572.2 298.3C1600.3 299.6 1628.3 301.5 1656.4 302.5C1684.4 303.6 1712.5 303.8 1740.5 304.5M1404 295L1740.5 297.6M1404 297.9C1432 297.5 1460.1 297.5 1488.1 296.7C1516.2 296 1544.2 294.6 1572.2 293.3C1600.3 292.1 1628.3 290.2 1656.4 289.1C1684.4 288.1 1712.5 287.8 1740.5 287.2M1404 270.3C1432 272 1460.1 272.4 1488.1 275.4C1516.2 278.5 1544.2 284.1 1572.2 288.7C1600.3 293.4 1628.3 299.8 1656.4 303.3C1684.4 306.8 1712.5 307.6 1740.5 309.7M1404 288.6L1740.5 288.3M1404 288.9C1432 288.7 1460.1 288.9 1488.1 288.3C1516.2 287.8 1544.2 286.9 1572.2 285.7C1600.3 284.5 1628.3 282.4 1656.4 281.3C1684.4 280.2 1712.5 279.7 1740.5 278.9M1404 271.6C1432 270.1 1460.1 267.8 1488.1 267.2C1516.2 266.5 1544.2 264.8 1572.2 267.5C1600.3 270.2 1628.3 279 1656.4 283.5C1684.4 288.1 1712.5 291 1740.5 294.8M1404 285.8C1432 284.3 1460.1 283.1 1488.1 281.1C1516.2 279 1544.2 275.1 1572.2 273.5C1600.3 271.9 1628.3 271.7 1656.4 271.5C1684.4 271.2 1712.5 271.9 1740.5 272.2M1404 281.8C1432 283.5 1460.1 285.4 1488.1 286.8C1516.2 288.3 1544.2 291.2 1572.2 290.4C1600.3 289.6 1628.3 284.6 1656.4 282C1684.4 279.4 1712.5 277.3 1740.5 275M1404 272.3L1740.5 276.6M1404 268.7C1432 269.1 1460.1 269.2 1488.1 269.8C1516.2 270.4 1544.2 271.4 1572.2 272.1C1600.3 272.8 1628.3 273.6 1656.4 274C1684.4 274.5 1712.5 274.5 1740.5 274.7M1404 264.2C1432 263.9 1460.1 263.3 1488.1 263.5C1516.2 263.6 1544.2 263.8 1572.2 265.1C1600.3 266.4 1628.3 269.8 1656.4 271.5C1684.4 273.2 1712.5 274.2 1740.5 275.5M1404 264.2C1432 263.5 1460.1 262.6 1488.1 262.1C1516.2 261.7 1544.2 260.7 1572.2 261.7C1600.3 262.6 1628.3 266 1656.4 267.7C1684.4 269.5 1712.5 270.7 1740.5 272.2M1404 270.3C1432 271.4 1460.1 272.9 1488.1 273.8C1516.2 274.7 1544.2 276.6 1572.2 275.6C1600.3 274.6 1628.3 270.1 1656.4 267.8C1684.4 265.5 1712.5 263.8 1740.5 261.8M1404 256.4C1432 258 1460.1 259.3 1488.1 261.3C1516.2 263.3 1544.2 267.2 1572.2 268.5C1600.3 269.7 1628.3 269.2 1656.4 269C1684.4 268.8 1712.5 267.8 1740.5 267.2M1404 261.3L1740.5 258M1404 211.7C1432 218.3 1460.1 221.6 1488.1 231.5C1516.2 241.3 1544.2 259.7 1572.2 270.7C1600.3 281.8 1628.3 292 1656.4 297.8C1684.4 303.6 1712.5 302.9 1740.5 305.4M1404 258.3C1432 257.5 1460.1 256.9 1488.1 255.8C1516.2 254.7 1544.2 252.5 1572.2 251.6C1600.3 250.7 1628.3 250.4 1656.4 250.2C1684.4 250 1712.5 250.4 1740.5 250.5M1404 248.9C1432 249.2 1460.1 249.4 1488.1 250C1516.2 250.6 1544.2 251.7 1572.2 252.5C1600.3 253.2 1628.3 254 1656.4 254.5C1684.4 254.9 1712.5 255 1740.5 255.2M1404 244.2C1432 245.3 1460.1 246 1488.1 247.5C1516.2 248.9 1544.2 251.8 1572.2 253.1C1600.3 254.5 1628.3 255.2 1656.4 255.6C1684.4 256 1712.5 255.6 1740.5 255.7M1404 276.6C1432 273.8 1460.1 272.9 1488.1 268.2C1516.2 263.5 1544.2 254.9 1572.2 248.3C1600.3 241.8 1628.3 233.5 1656.4 229C1684.4 224.5 1712.5 223.8 1740.5 221.2M1404 251C1432 250 1460.1 249.3 1488.1 247.9C1516.2 246.5 1544.2 243.9 1572.2 242.6C1600.3 241.4 1628.3 240.8 1656.4 240.5C1684.4 240.1 1712.5 240.5 1740.5 240.5M1404 267.1C1432 264 1460.1 262.6 1488.1 257.9C1516.2 253.1 1544.2 244.3 1572.2 238.6C1600.3 232.9 1628.3 226.9 1656.4 223.5C1684.4 220.2 1712.5 220.2 1740.5 218.5M1404 182.4C1432 192.4 1460.1 198.3 1488.1 212.3C1516.2 226.3 1544.2 252.7 1572.2 266.6C1600.3 280.5 1628.3 289.9 1656.4 295.5C1684.4 301.1 1712.5 298.5 1740.5 300M1404 239.9L1740.5 237.8M1404 300.2C1432 289.6 1460.1 283.4 1488.1 268.3C1516.2 253.3 1544.2 225.1 1572.2 210C1600.3 195 1628.3 184.3 1656.4 178C1684.4 171.7 1712.5 174.3 1740.5 172.4M1404 229.8C1432 232.1 1460.1 234.2 1488.1 236.6C1516.2 239.1 1544.2 244 1572.2 244.6C1600.3 245.3 1628.3 242.1 1656.4 240.6C1684.4 239 1712.5 237.1 1740.5 235.3M1404 229.2L1740.5 233.2M1404 221.7C1432 223.1 1460.1 224.2 1488.1 226C1516.2 227.8 1544.2 231.3 1572.2 232.7C1600.3 234.1 1628.3 234 1656.4 234.1C1684.4 234.2 1712.5 233.5 1740.5 233.2M1404 228.7C1432 228.9 1460.1 229.3 1488.1 229.4C1516.2 229.4 1544.2 229.6 1572.2 229C1600.3 228.4 1628.3 226.8 1656.4 225.9C1684.4 225.1 1712.5 224.6 1740.5 223.9M1404 221.9L1740.5 225M1404 244.2C1432 239.1 1460.1 235.6 1488.1 228.9C1516.2 222.2 1544.2 209.4 1572.2 204.1C1600.3 198.7 1628.3 197.6 1656.4 196.7C1684.4 195.9 1712.5 198.1 1740.5 198.8M1404 207.6C1432 207.6 1460.1 206.9 1488.1 207.6C1516.2 208.4 1544.2 209.6 1572.2 212.2C1600.3 214.7 1628.3 220.2 1656.4 223.1C1684.4 226 1712.5 227.3 1740.5 229.5M1404 222.1C1432 220.9 1460.1 220 1488.1 218.4C1516.2 216.9 1544.2 214 1572.2 213C1600.3 212 1628.3 212.3 1656.4 212.4C1684.4 212.5 1712.5 213.1 1740.5 213.5M1404 212.6C1432 214.5 1460.1 216.3 1488.1 218.5C1516.2 220.7 1544.2 224.9 1572.2 225.6C1600.3 226.3 1628.3 223.9 1656.4 222.7C1684.4 221.5 1712.5 219.9 1740.5 218.5M1404 196.3C1432 195.3 1460.1 193.3 1488.1 193.3C1516.2 193.3 1544.2 192.9 1572.2 196.4C1600.3 199.9 1628.3 209.3 1656.4 214.2C1684.4 219.1 1712.5 222 1740.5 225.9M1404 224C1432 221.3 1460.1 219.6 1488.1 216C1516.2 212.3 1544.2 205.5 1572.2 202.4C1600.3 199.2 1628.3 198 1656.4 197.1C1684.4 196.3 1712.5 197.3 1740.5 197.4M1404 203.5C1432 203.3 1460.1 202.8 1488.1 202.8C1516.2 202.9 1544.2 202.9 1572.2 203.8C1600.3 204.7 1628.3 207.2 1656.4 208.4C1684.4 209.7 1712.5 210.4 1740.5 211.4M1404 207.8C1432 207 1460.1 206.4 1488.1 205.4C1516.2 204.4 1544.2 202.5 1572.2 201.9C1600.3 201.2 1628.3 201.4 1656.4 201.5C1684.4 201.6 1712.5 202.1 1740.5 202.3M1404 204.6C1432 204.1 1460.1 203.8 1488.1 203.2C1516.2 202.5 1544.2 201.2 1572.2 200.6C1600.3 200 1628.3 199.7 1656.4 199.5C1684.4 199.4 1712.5 199.5 1740.5 199.5M1404 195.8C1432 195.4 1460.1 194.7 1488.1 194.6C1516.2 194.4 1544.2 194.1 1572.2 195C1600.3 195.9 1628.3 198.7 1656.4 200.2C1684.4 201.6 1712.5 202.6 1740.5 203.7M1404 201.2C1432 200.3 1460.1 199.6 1488.1 198.5C1516.2 197.4 1544.2 195.3 1572.2 194.7C1600.3 194.1 1628.3 194.7 1656.4 194.9C1684.4 195.1 1712.5 195.7 1740.5 196.2M1404 140.2C1432 140.3 1460.1 136.7 1488.1 140.6C1516.2 144.5 1544.2 150.8 1572.2 163.7C1600.3 176.6 1628.3 203.8 1656.4 218.1C1684.4 232.5 1712.5 239.3 1740.5 249.8M1404 191C1432 192.3 1460.1 193.3 1488.1 194.8C1516.2 196.2 1544.2 199.1 1572.2 199.8C1600.3 200.5 1628.3 199.5 1656.4 199.1C1684.4 198.6 1712.5 197.8 1740.5 197.1M1404 193.2L1740.5 191.6M1404 184.5C1432 185.6 1460.1 186.5 1488.1 188C1516.2 189.4 1544.2 192.2 1572.2 193.1C1600.3 194 1628.3 193.7 1656.4 193.5C1684.4 193.4 1712.5 192.8 1740.5 192.4M1404 187.7L1740.5 187.5M1404 190C1432 190.4 1460.1 191 1488.1 191C1516.2 191.1 1544.2 191.2 1572.2 190.1C1600.3 189 1628.3 186 1656.4 184.4C1684.4 182.8 1712.5 181.9 1740.5 180.6M1404 161.6C1432 164.4 1460.1 165.8 1488.1 170.1C1516.2 174.4 1544.2 182.3 1572.2 187.3C1600.3 192.2 1628.3 196.9 1656.4 199.5C1684.4 202.2 1712.5 202 1740.5 203.2M1404 157.8C1432 159.8 1460.1 160.3 1488.1 163.7C1516.2 167.2 1544.2 173.4 1572.2 178.5C1600.3 183.5 1628.3 190.3 1656.4 193.9C1684.4 197.6 1712.5 198.4 1740.5 200.6M1404 173.7C1432 174.7 1460.1 175.5 1488.1 176.7C1516.2 177.9 1544.2 180.2 1572.2 181C1600.3 181.7 1628.3 181.4 1656.4 181.2C1684.4 181.1 1712.5 180.5 1740.5 180.1M1404 170.3C1432 171.2 1460.1 171.8 1488.1 173.1C1516.2 174.3 1544.2 176.7 1572.2 177.7C1600.3 178.7 1628.3 178.9 1656.4 179.1C1684.4 179.3 1712.5 178.9 1740.5 178.8M1404 193.6C1432 190.4 1460.1 188.5 1488.1 183.8C1516.2 179.1 1544.2 170.2 1572.2 165.4C1600.3 160.5 1628.3 156.7 1656.4 154.6C1684.4 152.4 1712.5 153.1 1740.5 152.3M1404 173.8C1432 173.8 1460.1 174.1 1488.1 174C1516.2 174 1544.2 173.9 1572.2 173.3C1600.3 172.7 1628.3 171.3 1656.4 170.6C1684.4 169.8 1712.5 169.4 1740.5 168.8M1404 193.7C1432 189.3 1460.1 186.6 1488.1 180.4C1516.2 174.3 1544.2 162.8 1572.2 157C1600.3 151.2 1628.3 147.8 1656.4 145.7C1684.4 143.6 1712.5 145 1740.5 144.6M1404 169.6L1740.5 165M1404 163.4L1740.5 163.8M1404 166.5C1432 165.1 1460.1 164 1488.1 162.3C1516.2 160.6 1544.2 157.3 1572.2 156.2C1600.3 155.1 1628.3 155.6 1656.4 155.8C1684.4 156 1712.5 156.8 1740.5 157.3M1404 147.2C1432 154.2 1460.1 160.2 1488.1 168.1C1516.2 176.1 1544.2 191.5 1572.2 194.7C1600.3 197.9 1628.3 190.6 1656.4 187.2C1684.4 183.8 1712.5 178.5 1740.5 174.1M1404 174.3C1432 174.7 1460.1 176.2 1488.1 175.4C1516.2 174.5 1544.2 173.3 1572.2 169.3C1600.3 165.2 1628.3 155.9 1656.4 151C1684.4 146.1 1712.5 143.6 1740.5 139.9M1404 213.4C1432 209.3 1460.1 209.3 1488.1 201.2C1516.2 193 1544.2 178.4 1572.2 164.6C1600.3 150.9 1628.3 129.8 1656.4 118.4C1684.4 107 1712.5 103.7 1740.5 96.4M1404 157.9C1432 157.2 1460.1 156.9 1488.1 155.7C1516.2 154.6 1544.2 152.6 1572.2 151.3C1600.3 150 1628.3 148.7 1656.4 148C1684.4 147.3 1712.5 147.4 1740.5 147.1M1404 136.6C1432 139.5 1460.1 141.5 1488.1 145.5C1516.2 149.4 1544.2 156.9 1572.2 160.3C1600.3 163.6 1628.3 164.7 1656.4 165.5C1684.4 166.2 1712.5 165.1 1740.5 164.8M1404 122.4C1432 127.9 1460.1 131.5 1488.1 138.9C1516.2 146.3 1544.2 160.2 1572.2 166.7C1600.3 173.1 1628.3 175.8 1656.4 177.6C1684.4 179.4 1712.5 177.3 1740.5 177.2M1404 153.3C1432 153.5 1460.1 154.1 1488.1 153.8C1516.2 153.5 1544.2 153.1 1572.2 151.5C1600.3 149.8 1628.3 146 1656.4 144C1684.4 142 1712.5 140.9 1740.5 139.4M1404 148.7C1432 147.2 1460.1 146 1488.1 144.3C1516.2 142.5 1544.2 139.1 1572.2 138.1C1600.3 137 1628.3 137.9 1656.4 138.2C1684.4 138.6 1712.5 139.5 1740.5 140.2M1404 144.6C1432 144.2 1460.1 143.9 1488.1 143.3C1516.2 142.6 1544.2 141.4 1572.2 140.6C1600.3 139.9 1628.3 139.1 1656.4 138.7C1684.4 138.3 1712.5 138.3 1740.5 138.1M1404 144.2C1432 143.4 1460.1 142.8 1488.1 141.7C1516.2 140.7 1544.2 138.7 1572.2 137.9C1600.3 137.2 1628.3 137.3 1656.4 137.2C1684.4 137.2 1712.5 137.7 1740.5 137.9M1404 136.4L1740.5 139.8M1404 151.2C1432 148.2 1460.1 146.2 1488.1 142.2C1516.2 138.2 1544.2 130.5 1572.2 127C1600.3 123.4 1628.3 121.9 1656.4 120.9C1684.4 120 1712.5 121.1 1740.5 121.1M1404 138.6C1432 139 1460.1 139.7 1488.1 139.9C1516.2 140.1 1544.2 140.5 1572.2 139.6C1600.3 138.7 1628.3 135.9 1656.4 134.5C1684.4 133 1712.5 132.1 1740.5 130.9M1404 127.5C1432 127.8 1460.1 127.8 1488.1 128.5C1516.2 129.1 1544.2 130.3 1572.2 131.5C1600.3 132.7 1628.3 134.6 1656.4 135.6C1684.4 136.7 1712.5 137 1740.5 137.7M1404 146.3C1432 145.4 1460.1 145.6 1488.1 143.6C1516.2 141.6 1544.2 138 1572.2 134.1C1600.3 130.2 1628.3 123.8 1656.4 120.3C1684.4 116.8 1712.5 115.6 1740.5 113.3M1404 183C1432 172 1460.1 165 1488.1 150.2C1516.2 135.4 1544.2 107.3 1572.2 94C1600.3 80.7 1628.3 74.2 1656.4 70.2C1684.4 66.1 1712.5 69.9 1740.5 69.8M1404 119.2C1432 114 1460.1 108.4 1488.1 103.5C1516.2 98.6 1544.2 88.6 1572.2 89.8C1600.3 91 1628.3 104 1656.4 110.6C1684.4 117.2 1712.5 123.1 1740.5 129.3M1404 95.2C1432 95 1460.1 93 1488.1 94.8C1516.2 96.6 1544.2 99.4 1572.2 106.1C1600.3 112.7 1628.3 127.2 1656.4 134.8C1684.4 142.4 1712.5 146.1 1740.5 151.8M1404 127C1432 126 1460.1 125.5 1488.1 124.1C1516.2 122.7 1544.2 120.1 1572.2 118.6C1600.3 117 1628.3 115.7 1656.4 114.9C1684.4 114.1 1712.5 114.3 1740.5 114M1404 125.5C1432 123.9 1460.1 122.7 1488.1 120.6C1516.2 118.6 1544.2 114.6 1572.2 113.1C1600.3 111.5 1628.3 111.5 1656.4 111.4C1684.4 111.3 1712.5 112.1 1740.5 112.4M1404 112.9C1432 114.4 1460.1 115.6 1488.1 117.5C1516.2 119.3 1544.2 122.9 1572.2 124C1600.3 125.1 1628.3 124.3 1656.4 123.9C1684.4 123.6 1712.5 122.6 1740.5 122M1404 124C1432 121.6 1460.1 119.7 1488.1 116.7C1516.2 113.6 1544.2 107.7 1572.2 105.7C1600.3 103.6 1628.3 104.1 1656.4 104.3C1684.4 104.4 1712.5 105.8 1740.5 106.5M1404 136.9C1432 137.2 1460.1 139.3 1488.1 137.9C1516.2 136.5 1544.2 134.5 1572.2 128.5C1600.3 122.6 1628.3 109.3 1656.4 102.3C1684.4 95.3 1712.5 91.7 1740.5 86.5M1404 113C1432 112.4 1460.1 112 1488.1 111.2C1516.2 110.4 1544.2 108.8 1572.2 107.9C1600.3 107.1 1628.3 106.4 1656.4 106C1684.4 105.6 1712.5 105.8 1740.5 105.6M1404 87.4C1432 89.2 1460.1 89.6 1488.1 92.7C1516.2 95.9 1544.2 101.6 1572.2 106.4C1600.3 111.2 1628.3 117.7 1656.4 121.3C1684.4 124.9 1712.5 125.6 1740.5 127.8M1404 138.2C1432 137.5 1460.1 138.9 1488.1 136C1516.2 133.1 1544.2 128.3 1572.2 120.9C1600.3 113.6 1628.3 99.5 1656.4 92C1684.4 84.5 1712.5 81.2 1740.5 75.9M1404 99C1432 99.4 1460.1 99.5 1488.1 100.3C1516.2 101.1 1544.2 102.5 1572.2 103.8C1600.3 105.1 1628.3 106.9 1656.4 107.9C1684.4 108.9 1712.5 109.1 1740.5 109.7M1404 100.5L1740.5 102.5M1404 95.5C1432 95 1460.1 94.1 1488.1 93.8C1516.2 93.5 1544.2 92.8 1572.2 93.7C1600.3 94.6 1628.3 97.7 1656.4 99.3C1684.4 100.9 1712.5 101.9 1740.5 103.3M1404 97L1740.5 97.9M1404 133.7C1432 132.3 1460.1 133.5 1488.1 129.5C1516.2 125.5 1544.2 118.4 1572.2 109.4C1600.3 100.4 1628.3 84.1 1656.4 75.4C1684.4 66.6 1712.5 63.2 1740.5 57.2M1404 90.9C1432 90.8 1460.1 90.6 1488.1 90.8C1516.2 90.9 1544.2 91.2 1572.2 92C1600.3 92.7 1628.3 94.4 1656.4 95.3C1684.4 96.2 1712.5 96.7 1740.5 97.3M1404 94.7C1432 95.2 1460.1 96.1 1488.1 96.4C1516.2 96.8 1544.2 97.6 1572.2 96.8C1600.3 96 1628.3 93 1656.4 91.5C1684.4 90 1712.5 89 1740.5 87.7M1404 93.1C1432 92.4 1460.1 92 1488.1 91.2C1516.2 90.3 1544.2 88.7 1572.2 88C1600.3 87.3 1628.3 87.1 1656.4 87C1684.4 86.8 1712.5 87.1 1740.5 87.2M1404 59.2C1432 57 1460.1 52.9 1488.1 52.6C1516.2 52.4 1544.2 51.1 1572.2 57.8C1600.3 64.5 1628.3 83.1 1656.4 92.8C1684.4 102.5 1712.5 108.3 1740.5 116.1M1404 87C1432 86.4 1460.1 86.1 1488.1 85.3C1516.2 84.6 1544.2 83.2 1572.2 82.6C1600.3 82 1628.3 81.9 1656.4 81.8C1684.4 81.7 1712.5 81.9 1740.5 82M1404 78.5C1432 79.2 1460.1 79.6 1488.1 80.7C1516.2 81.9 1544.2 84 1572.2 85.2C1600.3 86.5 1628.3 87.6 1656.4 88.2C1684.4 88.9 1712.5 88.8 1740.5 89.1M1404 84.7C1432 84.6 1460.1 84.8 1488.1 84.5C1516.2 84.1 1544.2 83.5 1572.2 82.5C1600.3 81.6 1628.3 79.7 1656.4 78.7C1684.4 77.8 1712.5 77.3 1740.5 76.6M1404 80.3L1740.5 77.3M1404 71.3C1432 72.7 1460.1 73.6 1488.1 75.4C1516.2 77.1 1544.2 80.5 1572.2 81.9C1600.3 83.2 1628.3 83.4 1656.4 83.6C1684.4 83.8 1712.5 83.2 1740.5 83M1404 68.8C1432 68.9 1460.1 68.6 1488.1 69.2C1516.2 69.7 1544.2 70.6 1572.2 72.1C1600.3 73.5 1628.3 76.3 1656.4 77.8C1684.4 79.3 1712.5 80 1740.5 81.1M1404 79.3C1432 78.9 1460.1 79 1488.1 78.3C1516.2 77.6 1544.2 76.3 1572.2 75C1600.3 73.8 1628.3 71.8 1656.4 70.7C1684.4 69.6 1712.5 69.2 1740.5 68.5M1404 70.5L1740.5 71.9M1404 68L1740.5 68.1M1404 60.4C1432 62.6 1460.1 64.4 1488.1 67C1516.2 69.7 1544.2 74.8 1572.2 76.3C1600.3 77.8 1628.3 76.6 1656.4 76.1C1684.4 75.6 1712.5 74.2 1740.5 73.2M1404 129C1432 119.2 1460.1 113.9 1488.1 99.8C1516.2 85.7 1544.2 59.3 1572.2 44.4C1600.3 29.5 1628.3 17.3 1656.4 10.3C1684.4 3.4 1712.5 5.1 1740.5 2.5M1404 71.4C1432 73.1 1460.1 75.5 1488.1 76.6C1516.2 77.7 1544.2 80.3 1572.2 78.2C1600.3 76.2 1628.3 68.4 1656.4 64.4C1684.4 60.4 1712.5 57.5 1740.5 54.1M1404 57C1432 57.3 1460.1 57.4 1488.1 58C1516.2 58.7 1544.2 59.9 1572.2 60.9C1600.3 61.9 1628.3 63.3 1656.4 64.1C1684.4 64.9 1712.5 65.1 1740.5 65.6M1404 49C1432 50.2 1460.1 50.8 1488.1 52.6C1516.2 54.4 1544.2 57.8 1572.2 60C1600.3 62.1 1628.3 64.2 1656.4 65.4C1684.4 66.6 1712.5 66.5 1740.5 67.1M1404 43.8C1432 44.3 1460.1 43.9 1488.1 45.2C1516.2 46.6 1544.2 48.9 1572.2 51.8C1600.3 54.7 1628.3 59.9 1656.4 62.7C1684.4 65.4 1712.5 66.5 1740.5 68.4M1404 48.8C1432 50.2 1460.1 51.1 1488.1 53C1516.2 54.9 1544.2 58.4 1572.2 60C1600.3 61.6 1628.3 62.2 1656.4 62.6C1684.4 63 1712.5 62.5 1740.5 62.4M1404 52L1740.5 52.5M1404 57.9C1432 56.6 1460.1 55.8 1488.1 54.1C1516.2 52.4 1544.2 49.2 1572.2 47.6C1600.3 46 1628.3 45.1 1656.4 44.6C1684.4 44.1 1712.5 44.5 1740.5 44.4M1404 44.8C1432 45.4 1460.1 45.7 1488.1 46.6C1516.2 47.5 1544.2 49.2 1572.2 50.3C1600.3 51.4 1628.3 52.6 1656.4 53.2C1684.4 53.8 1712.5 53.8 1740.5 54.2M1404 45.1L1740.5 48.1M1404 57.4C1432 54.4 1460.1 52.1 1488.1 48.2C1516.2 44.4 1544.2 37 1572.2 34.2C1600.3 31.5 1628.3 31.8 1656.4 31.8C1684.4 31.7 1712.5 33.3 1740.5 34.1M1404 38.1C1432 38.6 1460.1 38.8 1488.1 39.7C1516.2 40.6 1544.2 42.3 1572.2 43.6C1600.3 44.9 1628.3 46.6 1656.4 47.6C1684.4 48.5 1712.5 48.6 1740.5 49.2M1404 36.7C1432 37.9 1460.1 38.9 1488.1 40.4C1516.2 41.8 1544.2 44.7 1572.2 45.5C1600.3 46.4 1628.3 45.8 1656.4 45.6C1684.4 45.3 1712.5 44.6 1740.5 44.1M1404 41.1L1740.5 36.9M1404 37.6L1740.5 35.8M1404 29.8C1432 31 1460.1 31.8 1488.1 33.3C1516.2 34.9 1544.2 37.8 1572.2 39C1600.3 40.1 1628.3 40.2 1656.4 40.3C1684.4 40.4 1712.5 39.8 1740.5 39.6M1404 38.6C1432 37.6 1460.1 37 1488.1 35.5C1516.2 34.1 1544.2 31.4 1572.2 30C1600.3 28.7 1628.3 27.8 1656.4 27.3C1684.4 26.8 1712.5 27.1 1740.5 27M1404 9C1432 16.7 1460.1 22.9 1488.1 32.1C1516.2 41.4 1544.2 59.2 1572.2 64.4C1600.3 69.6 1628.3 65.2 1656.4 63.4C1684.4 61.5 1712.5 56.6 1740.5 53.2M1404 25.2C1432 26 1460.1 26.5 1488.1 27.5C1516.2 28.6 1544.2 30.5 1572.2 31.5C1600.3 32.5 1628.3 33.1 1656.4 33.4C1684.4 33.8 1712.5 33.6 1740.5 33.6M1404 -37.4C1432 -27 1460.1 -21.1 1488.1 -6.3C1516.2 8.6 1544.2 36.4 1572.2 51.5C1600.3 66.6 1628.3 78 1656.4 84.6C1684.4 91.2 1712.5 88.9 1740.5 91M1404 13.8C1432 16.1 1460.1 17.5 1488.1 20.6C1516.2 23.7 1544.2 29.6 1572.2 32.4C1600.3 35.3 1628.3 36.7 1656.4 37.6C1684.4 38.5 1712.5 37.7 1740.5 37.8M1404 23.3L1740.5 23.1M1404 23.4L1740.5 20.2M1404 24.4C1432 24 1460.1 23.9 1488.1 23.2C1516.2 22.4 1544.2 21.1 1572.2 20C1600.3 18.9 1628.3 17.5 1656.4 16.7C1684.4 15.9 1712.5 15.7 1740.5 15.2M1404 34.2C1432 31.3 1460.1 29.5 1488.1 25.4C1516.2 21.3 1544.2 13.6 1572.2 9.8C1600.3 5.9 1628.3 3.5 1656.4 2.1C1684.4 0.7 1712.5 1.6 1740.5 1.3M1404 3.5C1432 6.7 1460.1 9 1488.1 13C1516.2 17.1 1544.2 24.8 1572.2 27.7C1600.3 30.7 1628.3 30.6 1656.4 30.7C1684.4 30.9 1712.5 29.3 1740.5 28.5M1404 20.9C1432 19.7 1460.1 18.9 1488.1 17.2C1516.2 15.5 1544.2 12.3 1572.2 10.8C1600.3 9.2 1628.3 8.4 1656.4 7.9C1684.4 7.4 1712.5 7.8 1740.5 7.7M1404 7.8C1432 9.1 1460.1 10.2 1488.1 11.7C1516.2 13.2 1544.2 16.2 1572.2 16.9C1600.3 17.6 1628.3 16.5 1656.4 16C1684.4 15.5 1712.5 14.5 1740.5 13.8M1404 15.7C1432 15.1 1460.1 14.9 1488.1 13.9C1516.2 12.9 1544.2 11 1572.2 9.6C1600.3 8.2 1628.3 6.4 1656.4 5.5C1684.4 4.5 1712.5 4.4 1740.5 3.8M1404 61.3C1432 58.3 1460.1 59.1 1488.1 52.4C1516.2 45.7 1544.2 33.8 1572.2 21.1C1600.3 8.3 1628.3 -12.8 1656.4 -24.1C1684.4 -35.5 1712.5 -39.3 1740.5 -46.9M1404 31.1C1432 29.9 1460.1 30.4 1488.1 27.4C1516.2 24.4 1544.2 19.2 1572.2 13.2C1600.3 7.1 1628.3 -3.1 1656.4 -8.7C1684.4 -14.2 1712.5 -16.2 1740.5 -19.9M1404 6.2C1432 8.4 1460.1 10.9 1488.1 13C1516.2 15.1 1544.2 19.4 1572.2 18.8C1600.3 18.2 1628.3 12.4 1656.4 9.5C1684.4 6.5 1712.5 3.9 1740.5 1.2M1404 0.4L1740.5 2.5M1404 59.2C1432 48.8 1460.1 42.5 1488.1 28.1C1516.2 13.6 1544.2 -13.5 1572.2 -27.4C1600.3 -41.3 1628.3 -50 1656.4 -55.2C1684.4 -60.4 1712.5 -57.5 1740.5 -58.7M1404 -1.2L1740.5 -3.7M1404 0.1C1432 0.7 1460.1 1.6 1488.1 2C1516.2 2.4 1544.2 3.3 1572.2 2.3C1600.3 1.3 1628.3 -2 1656.4 -3.7C1684.4 -5.5 1712.5 -6.6 1740.5 -8.1" fill="none" stroke="#0000ff" stroke-width="2" stroke-linejoin="round" clip-path="url(#cp3)"/>
<rect x="484.5" y="40" width="110" height="132" fill="#fff"/>
<rect x="868.0" y="40" width="110" height="132" fill="#fff"/>
<rect x="1252.5" y="40" width="110" height="132" fill="#fff"/>
<rect x="1638.0" y="40" width="110" height="132" fill="#fff"/>
<path d="M484.5 54H250V1227H587V172" fill="none" stroke="#262626" stroke-width="2"/>
<path d="M250 936.9h12M587 936.9h-12M250 641.8h12M587 641.8h-12M250 346.69999999999993h12M587 346.69999999999993h-12" stroke="#262626" stroke-width="2" fill="none"/>
<path d="M868.0 54H635.5V1227H970.5V172" fill="none" stroke="#262626" stroke-width="2"/>
<path d="M1252.5 54H1018.5V1227H1355V172" fill="none" stroke="#262626" stroke-width="2"/>
<path d="M1638.0 54H1404V1227H1740.5V172" fill="none" stroke="#262626" stroke-width="2"/>
<rect x="250" y="1506.5" width="1490.5" height="1086.0" fill="none" stroke="#262626" stroke-width="2"/>
<path d="M664.0 2592.5v-14.5M664.0 1506.5v14.5M1078.0 2592.5v-14.5M1078.0 1506.5v14.5M1492.0 2592.5v-14.5M1492.0 1506.5v14.5M250 2321.0h14.5M1740.5 2321.0h-14.5M250 2049.5h14.5M1740.5 2049.5h-14.5M250 1778.0h14.5M1740.5 1778.0h-14.5" stroke="#262626" stroke-width="2" fill="none"/>
<rect x="250" y="2958.5" width="1490.5" height="1085.5" fill="none" stroke="#262626" stroke-width="2"/>
<path d="M664.0 4044v-14.5M664.0 2958.5v14.5M1078.0 4044v-14.5M1078.0 2958.5v14.5M1492.0 4044v-14.5M1492.0 2958.5v14.5M250 3772.625h14.5M1740.5 3772.625h-14.5M250 3501.25h14.5M1740.5 3501.25h-14.5M250 3229.875h14.5M1740.5 3229.875h-14.5" stroke="#262626" stroke-width="2" fill="none"/>
<path d="M310 2592L310 2578L314 2543L318 2506L322 2468L326 2439L330 2429L334 2430L338 2423L342 2411L346 2403L350 2392L354 2398L358 2398L362 2400L366 2396L370 2393L374 2398L378 2399L382 2397L386 2386L390 2380L394 2387L398 2384L402 2392L406 2391L410 2397L414 2405L418 2398L422 2403L426 2406L430 2399L434 2396L438 2402L442 2398L446 2402L450 2403L454 2410L458 2406L462 2407L466 2405L470 2406L474 2414L478 2419L482 2426L486 2431L490 2436L494 2438L498 2435L502 2441L506 2437L510 2438L514 2440L518 2436L522 2437L526 2440L530 2440L534 2438L538 2444L542 2439L546 2445L550 2443L554 2440L558 2447L562 2444L566 2447L570 2447L574 2453L578 2457L582 2459L586 2459L590 2468L594 2472L598 2475L602 2471L606 2473L610 2474L614 2473L618 2470L622 2473L626 2469L630 2466L634 2462L638 2466L642 2460L646 2464L650 2463L654 2460L658 2454L662 2455L666 2450L670 2451L674 2455L678 2457L682 2461L686 2464L690 2466L694 2462L698 2457L702 2461L706 2465L710 2459L714 2460L718 2461L722 2464L726 2463L730 2460L734 2461L738 2463L742 2468L746 2463L750 2468L754 2468L758 2464L762 2468L766 2466L770 2462L774 2463L778 2462L782 2468L786 2469L790 2472L794 2466L798 2467L802 2466L806 2459L810 2456L814 2451L818 2453L822 2454L826 2451L830 2451L834 2454L838 2455L842 2458L846 2457L850 2451L854 2446L858 2446L862 2448L866 2450L870 2454L874 2455L878 2451L882 2432L886 2409L890 2380L894 2351L898 2326L902 2324L906 2320L910 2324L914 2320L918 2325L922 2324L926 2317L930 2313L934 2317L938 2307L942 2308L946 2310L950 2323L954 2321L958 2326L962 2322L966 2323L970 2317L974 2316L978 2313L982 2320L986 2319L990 2317L994 2314L998 2321L1002 2316L1006 2312L1010 2313L1014 2308L1018 2305L1022 2311L1026 2315L1030 2325L1034 2319L1038 2313L1042 2317L1046 2316L1050 2315L1054 2314L1058 2324L1062 2320L1066 2322L1070 2324L1074 2330L1078 2331L1082 2330L1086 2332L1090 2333L1094 2347L1098 2355L1102 2357L1106 2355L1110 2363L1114 2361L1118 2362L1122 2370L1126 2368L1130 2370L1134 2374L1138 2376L1142 2373L1146 2374L1150 2373L1154 2376L1158 2370L1162 2372L1166 2394L1170 2418L1174 2445L1178 2444L1182 2454L1186 2458L1190 2464L1194 2468L1198 2475L1202 2459L1206 2447L1210 2439L1214 2423L1218 2415L1222 2406L1226 2405L1230 2399L1234 2390L1238 2384L1242 2385L1246 2379L1250 2377L1254 2379L1258 2383L1262 2379L1266 2375L1270 2370L1274 2376L1278 2389L1282 2405L1286 2412L1290 2431L1294 2445L1298 2446L1302 2446L1306 2452L1310 2451L1314 2449L1318 2454L1322 2457L1326 2462L1330 2465L1334 2460L1338 2464L1342 2461L1346 2460L1350 2463L1354 2463L1358 2451L1362 2445L1366 2439L1370 2434L1374 2421L1378 2417L1382 2420L1386 2419L1390 2422L1394 2418L1398 2417L1402 2418L1406 2412L1410 2407L1414 2414L1418 2411L1422 2413L1426 2404L1430 2401L1434 2406L1438 2409L1442 2413L1446 2404L1450 2407L1454 2405L1458 2405L1462 2403L1466 2402L1470 2399L1474 2405L1478 2401L1482 2404L1486 2403L1490 2405L1494 2407L1498 2405L1502 2405L1506 2406L1510 2402L1514 2401L1518 2408L1522 2409L1526 2408L1530 2401L1534 2398L1538 2437L1542 2480L1546 2488L1550 2500L1554 2510L1558 2511L1562 2512L1566 2513L1570 2512L1574 2515L1578 2517L1582 2516L1586 2519L1590 2521L1594 2520L1598 2523L1602 2522L1606 2522L1610 2523L1614 2522L1618 2518L1622 2514L1626 2515L1630 2513L1634 2510L1638 2503L1642 2497L1646 2492L1650 2489L1654 2486L1658 2489L1662 2490L1666 2486L1670 2483L1674 2482L1678 2486L1682 2483L1686 2479L1690 2478L1694 2483L1698 2492L1702 2494L1706 2500L1710 2519L1714 2548L1714 2592Z" fill="#f00" stroke="#f00" stroke-width="6" stroke-linejoin="round"/>
<path d="M310 2580V2569M313 2555V2538M316 2529V2431M319 2506V2462M322 2487V2454M325 2463V2382M328 2458V2401M330 2454V2387M333 2450V2420M336 2444V2397M340 2438V2338M342 2434V2380M345 2430V2371M347 2426V2320M351 2421V2338M354 2420V2342M356 2419V2386M359 2418V2388M361 2417V2325M363 2416V2349M366 2415V2386M368 2414V2297M371 2412V2308M374 2411V2325M376 2410V2373M379 2409V2315M381 2408V2339M385 2407V2326M387 2406V2308M391 2404V2361M394 2406V2366M396 2407V2294M399 2408V2361M402 2409V2306M405 2410V2355M407 2411V2380M410 2412V2309M413 2413V2359M416 2414V2315M423 2417V2293M425 2418V2311M427 2419V2309M431 2420V2343M434 2421V2307M438 2423V2383M440 2423V2393M444 2425V2399M447 2426V2356M449 2427V2318M452 2428V2355M455 2429V2390M459 2431V2335M462 2432V2377M465 2433V2368M469 2435V2355M472 2436V2368M474 2437V2341M478 2439V2364M480 2439V2386M487 2442V2341M490 2444V2388M492 2445V2416M499 2447V2420M502 2448V2407M505 2448V2393M508 2449V2427M512 2450V2416M515 2451V2348M518 2451V2364M522 2452V2395M526 2453V2392M529 2453V2432M532 2454V2393M535 2455V2408M538 2455V2389M540 2456V2418M543 2456V2409M545 2457V2426M549 2458V2391M553 2458V2392M558 2459V2386M561 2460V2401M563 2460V2376M565 2461V2387M568 2461V2333M570 2462V2421M574 2463V2422M576 2463V2419M579 2464V2426M581 2464V2379M584 2469V2430M587 2474V2415M590 2478V2450M594 2484V2425M597 2489V2463M599 2489V2463M602 2489V2433M604 2488V2467M607 2487V2422M611 2487V2429M613 2486V2357M615 2485V2355M618 2485V2466M621 2484V2435M624 2483V2354M627 2482V2416M630 2482V2410M632 2481V2414M635 2480V2433M638 2479V2434M644 2476V2443M647 2475V2400M650 2474V2422M654 2472V2392M657 2471V2410M660 2470V2441M663 2469V2446M666 2469V2419M668 2469V2407M671 2469V2416M675 2470V2319M677 2470V2423M681 2470V2418M684 2471V2428M687 2471V2439M690 2471V2443M693 2471V2398M695 2472V2414M698 2472V2441M700 2472V2422M702 2472V2413M706 2473V2443M709 2473V2395M713 2474V2408M715 2474V2404M718 2474V2448M721 2474V2422M724 2475V2449M726 2475V2440M728 2475V2407M730 2475V2405M733 2476V2434M737 2476V2409M739 2476V2437M742 2477V2441M744 2477V2447M747 2477V2402M749 2477V2400M752 2478V2426M756 2478V2412M758 2478V2408M761 2479V2415M765 2479V2426M767 2479V2438M771 2480V2415M773 2480V2414M776 2480V2432M779 2480V2415M785 2481V2446M789 2481V2419M791 2480V2407M794 2479V2451M798 2478V2411M800 2478V2412M802 2477V2393M805 2476V2408M808 2475V2412M812 2474V2446M814 2473V2430M817 2472V2446M820 2472V2408M823 2470V2448M827 2469V2424M829 2469V2389M833 2468V2406M835 2468V2388M839 2468V2388M841 2467V2394M845 2467V2417M847 2467V2430M851 2467V2369M853 2466V2310M856 2466V2347M859 2466V2405M863 2466V2422M866 2465V2381M869 2465V2411M873 2465V2446M876 2465V2429M878 2464V2398M880 2458V2367M883 2444V2343M886 2427V2331M889 2410V2295M892 2390V2334M895 2378V2297M898 2361V2206M901 2360V2237M905 2359V2273M907 2358V2284M909 2356V2206M913 2355V2262M915 2354V2293M918 2353V2267M921 2351V2247M924 2350V2252M926 2349V2211M928 2348V2227M935 2346V2249M937 2345V2311M940 2345V2313M943 2345V2234M946 2346V2254M948 2346V2248M951 2347V2185M954 2347V2257M958 2348V2185M961 2348V2258M963 2348V2273M966 2349V2260M968 2349V2253M971 2349V2303M974 2350V2209M978 2350V2234M981 2351V2209M984 2351V2211M986 2352V2239M989 2352V2320M993 2353V2157M995 2353V2247M998 2353V2245M1002 2353V2308M1006 2353V2267M1009 2353V2252M1013 2353V2316M1015 2353V2246M1017 2353V2235M1020 2353V2257M1023 2353V2285M1027 2353V2233M1029 2353V2269M1032 2353V2223M1035 2353V2199M1037 2353V2248M1041 2353V2294M1043 2353V2292M1046 2353V2180M1049 2353V2263M1053 2353V2285M1056 2353V2260M1059 2353V2295M1062 2353V2319M1066 2355V2245M1068 2357V2254M1072 2359V2228M1076 2360V2300M1078 2362V2279M1082 2363V2239M1085 2365V2288M1088 2367V2299M1091 2368V2258M1094 2370V2270M1098 2373V2251M1101 2374V2273M1103 2376V2302M1106 2378V2246M1108 2380V2295M1110 2381V2345M1113 2383V2277M1117 2386V2311M1119 2387V2227M1121 2387V2340M1124 2386V2346M1126 2386V2330M1129 2385V2269M1131 2385V2295M1134 2384V2300M1137 2384V2259M1139 2383V2283M1141 2383V2266M1144 2382V2262M1147 2381V2293M1150 2381V2319M1153 2380V2301M1156 2380V2273M1159 2379V2285M1161 2382V2301M1164 2401V2309M1168 2424V2324M1172 2446V2381M1174 2456V2364M1178 2460V2439M1181 2464V2394M1184 2467V2396M1186 2469V2414M1189 2472V2429M1196 2479V2448M1199 2479V2433M1201 2472V2390M1203 2466V2405M1205 2460V2409M1209 2451V2368M1215 2432V2304M1219 2422V2359M1221 2420V2368M1224 2419V2338M1227 2417V2363M1230 2416V2350M1233 2414V2373M1237 2412V2349M1240 2410V2332M1243 2409V2365M1246 2407V2330M1248 2406V2268M1253 2404V2321M1256 2402V2286M1259 2401V2336M1261 2400V2324M1263 2398V2355M1266 2397V2324M1268 2396V2272M1271 2402V2305M1274 2410V2337M1277 2416V2391M1279 2422V2365M1283 2430V2346M1288 2443V2373M1290 2449V2393M1292 2454V2404M1296 2457V2406M1300 2459V2393M1302 2460V2372M1305 2462V2391M1308 2463V2383M1310 2464V2374M1316 2468V2436M1319 2469V2430M1323 2471V2428M1326 2473V2402M1329 2474V2393M1332 2475V2406M1336 2476V2407M1338 2477V2436M1340 2478V2459M1343 2478V2406M1346 2479V2443M1348 2480V2431M1351 2481V2436M1353 2478V2402M1357 2472V2413M1360 2467V2445M1362 2463V2428M1365 2458V2410M1368 2452V2407M1370 2448V2401M1374 2442V2416M1376 2439V2385M1380 2438V2326M1382 2437V2343M1385 2436V2325M1392 2434V2346M1395 2434V2338M1398 2433V2352M1401 2432V2334M1405 2431V2333M1408 2430V2348M1410 2430V2375M1413 2429V2406M1415 2428V2400M1418 2428V2333M1421 2427V2355M1423 2426V2392M1427 2426V2384M1429 2426V2323M1432 2425V2313M1435 2425V2324M1437 2425V2318M1439 2425V2317M1442 2425V2321M1444 2425V2363M1448 2424V2314M1451 2424V2333M1453 2424V2382M1456 2424V2350M1458 2424V2357M1461 2423V2332M1463 2423V2335M1467 2423V2358M1469 2423V2378M1472 2423V2315M1475 2423V2322M1478 2422V2326M1482 2422V2387M1484 2422V2324M1486 2422V2398M1489 2422V2391M1492 2421V2355M1495 2421V2351M1499 2421V2321M1502 2421V2390M1505 2421V2370M1511 2421V2330M1515 2421V2328M1518 2421V2307M1520 2421V2372M1522 2421V2378M1526 2421V2307M1529 2421V2323M1533 2421V2368M1535 2437V2351M1538 2462V2442M1541 2486V2461M1545 2497V2444M1547 2502V2419M1550 2510V2455M1554 2519V2478M1556 2520V2493M1560 2521V2474M1566 2522V2496M1569 2523V2490M1572 2523V2504M1574 2524V2500M1578 2525V2505M1581 2525V2462M1583 2526V2494M1586 2526V2492M1590 2527V2487M1592 2528V2484M1595 2528V2493M1598 2529V2498M1604 2530V2499M1608 2531V2511M1614 2528V2505M1617 2527V2486M1619 2526V2498M1622 2525V2465M1624 2524V2500M1628 2522V2479M1630 2521V2474M1633 2519V2466M1635 2516V2443M1638 2511V2475M1640 2508V2452M1644 2502V2453M1647 2498V2480M1649 2498V2470M1652 2498V2481M1656 2497V2436M1659 2497V2465M1663 2497V2480M1672 2496V2476M1675 2495V2449M1679 2495V2433M1682 2495V2444M1684 2495V2465M1688 2494V2464M1691 2496V2467M1695 2500V2442M1697 2502V2468M1700 2504V2489M1703 2508V2474M1706 2510V2457M1709 2524V2459M1712 2544V2515M1714 2560V2543M310 2544h0M310 2541h0M310 2527h0M310 2511h0M309 2496h0M309 2486h0M310 2395h0M308 2483h0M310 2544h0M310 2098h0M310 2516h0M310 2301h0M310 2286h0M308 2479h0M310 2469h0M309 2458h0M309 2398h0M309 2446h0M310 2570h0M309 2554h0M311 2263h0M309 2250h0M309 2234h0M309 2217h0M310 2048h0M310 2482h0M310 2507h0M308 2487h0M308 2528h0M309 2519h0M311 2568h0M308 2293h0M310 2139h0M308 2452h0M310 2442h0M310 2174h0M311 2553h0M308 2355h0M311 2493h0M308 2564h0M308 2202h0M309 2499h0M310 2569h0M312 2331h0M315 2532h0M312 2264h0M313 2251h0M311 2544h0M311 2446h0M312 2408h0M313 2397h0M313 2527h0M313 2351h0M314 2536h0M314 2353h0M314 2504h0M312 2506h0M311 2251h0M311 2512h0M313 2361h0M314 2442h0M311 2518h0M314 2326h0M311 2393h0M312 2261h0M313 2518h0M314 2321h0M312 2339h0M314 2491h0M314 2143h0M313 2131h0M312 2124h0M311 2016h0M313 2001h0M314 1964h0M314 2486h0M311 2519h0M312 2506h0M313 2499h0M315 2411h0M316 2509h0M315 2497h0M317 2357h0M316 2494h0M317 2484h0M316 2470h0M316 2459h0M316 2466h0M317 2452h0M318 2378h0M317 2493h0M318 2503h0M317 2492h0M316 2479h0M317 2470h0M316 2448h0M316 2241h0M317 2215h0M316 2501h0M315 2485h0M316 2495h0M318 2454h0M316 2264h0M315 2377h0M316 2368h0M315 2350h0M316 2341h0M315 2507h0M317 2398h0M318 2214h0M316 2316h0M316 2433h0M315 2382h0M316 2367h0M318 2161h0M314 1901h0M314 2465h0M317 2449h0M317 2435h0M315 2345h0M315 2112h0M321 2306h0M319 2324h0M319 2309h0M319 2292h0M319 2294h0M320 2217h0M319 2207h0M320 2449h0M320 2319h0M318 2396h0M318 2332h0M321 2468h0M318 2392h0M319 2348h0M318 2417h0M318 2416h0M319 2458h0M319 2443h0M318 2047h0M319 2177h0M318 2163h0M319 2415h0M319 2340h0M318 2238h0M319 2350h0M319 2142h0M318 2447h0M320 2430h0M320 2424h0M318 2409h0M318 1937h0M320 2470h0M318 2424h0M320 2410h0M318 2403h0M320 2284h0M321 2450h0M320 2284h0M322 2442h0M321 2335h0M321 2443h0M323 2457h0M321 2455h0M322 2382h0M322 2371h0M322 2456h0M323 2314h0M320 2454h0M323 2348h0M322 2287h0M321 2420h0M323 2193h0M320 2096h0M321 2429h0M323 2424h0M321 2413h0M322 2402h0M322 2405h0M321 2390h0M320 2274h0M322 2432h0M321 2350h0M320 2358h0M320 2305h0M320 2444h0M321 2394h0M325 2411h0M325 2077h0M327 2125h0M326 2111h0M325 2407h0M326 2427h0M326 2324h0M325 2419h0M326 2404h0M325 2393h0M324 2412h0M324 2303h0M325 2294h0M326 2150h0M324 2275h0M326 2262h0M325 2252h0M325 2229h0M325 2364h0M325 2394h0M326 2383h0M325 2359h0M324 2330h0M326 2315h0M326 2306h0M324 2386h0M327 2342h0M326 2329h0M324 2363h0M326 2253h0M324 2273h0M325 2349h0M325 2300h0M326 2247h0M326 2422h0M327 2255h0M328 2368h0M328 2112h0M328 2321h0M328 2001h0M327 2332h0M328 2272h0M327 2348h0M328 2394h0M326 2360h0M328 2300h0M327 2386h0M329 2371h0M327 2363h0M328 2352h0M327 2099h0M330 2272h0M327 2260h0M329 2275h0M330 2414h0M329 2273h0M328 2345h0M328 2333h0M327 2345h0M329 2329h0M328 2089h0M328 2079h0M328 2058h0M329 2267h0M327 2356h0M327 2394h0M330 2399h0M329 2167h0M331 2396h0M331 2384h0M329 2307h0M330 2295h0M331 2276h0M330 2269h0M329 2219h0M331 2210h0M331 2198h0M330 2204h0M331 2375h0M330 2374h0M330 2182h0M331 2103h0M331 2303h0M331 2291h0M330 2269h0M330 2051h0M329 2112h0M332 2339h0M331 2328h0M330 2320h0M331 2307h0M330 2338h0M330 2287h0M330 2309h0M329 2191h0M331 2264h0M330 2326h0M332 2417h0M331 2338h0M333 2125h0M332 2379h0M333 2367h0M332 2357h0M333 2339h0M334 2177h0M333 2092h0M332 2082h0M332 2062h0M332 2324h0M333 2319h0M333 2304h0M333 2288h0M333 2276h0M331 2274h0M331 2379h0M332 2397h0M332 2384h0M332 2403h0M334 2340h0M332 2326h0M333 2316h0M331 2336h0M333 2202h0M334 2246h0M334 2053h0M333 2257h0M332 2232h0M333 2218h0M332 2201h0M334 2164h0M333 2154h0M332 2140h0M332 2130h0M332 2389h0M333 2374h0M334 2158h0M333 2100h0M337 2286h0M336 1916h0M338 2290h0M337 2278h0M336 2270h0M337 2370h0M337 2391h0M337 2350h0M337 2353h0M337 2337h0M336 2322h0M336 2322h0M335 2108h0M336 2327h0M336 1913h0M336 2155h0M335 2143h0M337 2131h0M335 2392h0M336 2381h0M336 2361h0M337 2362h0M338 2235h0M335 2096h0M336 2096h0M336 2391h0M335 2330h0M335 2023h0M336 2008h0M336 1999h0M335 2279h0M334 2219h0M335 2203h0M336 2199h0M336 2185h0M336 2400h0M337 2387h0M336 2373h0M336 2316h0M336 2304h0M335 2289h0M336 2101h0M341 2377h0M339 2313h0M340 2304h0M339 2290h0M341 2373h0M339 2379h0M339 2365h0M340 2302h0M341 2082h0M340 2340h0M340 2330h0M340 2353h0M339 2337h0M339 2345h0M339 2335h0M339 2313h0M339 2312h0M341 2381h0M341 2052h0M338 2356h0M339 2387h0M338 2305h0M341 2139h0M341 2217h0M340 2331h0M339 2391h0M338 2379h0M341 2334h0M341 2150h0M343 2133h0M340 2369h0M340 2356h0M341 2356h0M341 2274h0M344 2360h0M343 2346h0M342 2333h0M342 2323h0M343 2352h0M343 2176h0M342 2255h0M341 2389h0M342 2375h0M342 2347h0M341 2253h0M341 2281h0M342 2266h0M341 2286h0M343 2348h0M342 2255h0M342 2245h0M344 2347h0M342 2351h0M343 2369h0M342 2304h0M343 1973h0M344 2363h0M346 2132h0M345 2185h0M344 2315h0M346 2360h0M345 2298h0M345 2351h0M343 2365h0M345 2303h0M345 2293h0M345 2276h0M345 2255h0M343 2155h0M346 2066h0M346 2333h0M345 2242h0M346 2222h0M345 2297h0M346 2379h0M343 2295h0M344 2284h0M344 2265h0M345 2242h0M344 2301h0M343 2327h0M344 2316h0M347 2366h0M347 2283h0M346 2269h0M348 2258h0M348 2244h0M349 2332h0M346 2319h0M348 2309h0M347 2289h0M345 2167h0M348 2300h0M349 2360h0M345 2334h0M347 2286h0M347 2003h0M346 2188h0M346 2366h0M347 2256h0M347 2238h0M345 2360h0M348 2348h0M347 2335h0M348 2089h0M347 2348h0M347 2341h0M349 2279h0M347 2238h0M347 2228h0M347 2148h0M348 2134h0M346 2309h0M350 2301h0M351 2359h0M352 2348h0M352 2329h0M349 2213h0M352 2242h0M350 2370h0M350 2351h0M350 2316h0M351 2008h0M349 2038h0M350 2362h0M351 2200h0M350 2215h0M351 2203h0M350 2315h0M350 2353h0M350 2328h0M352 2094h0M349 2325h0M349 1954h0M351 2232h0M352 2303h0M354 2346h0M354 2332h0M355 2225h0M354 2127h0M355 2230h0M355 2219h0M354 2209h0M353 2188h0M354 2103h0M355 2355h0M355 2255h0M353 2335h0M354 2241h0M353 2242h0M353 2232h0M354 2309h0M354 2292h0M354 2284h0M355 2316h0M355 2357h0M354 2203h0M352 2267h0M353 2257h0M354 2240h0M353 2234h0M354 2359h0M353 2346h0M353 2330h0M353 2320h0M354 2259h0M354 2098h0M353 2359h0M354 2317h0M354 2354h0M358 2306h0M356 2297h0M357 2341h0M358 2031h0M356 2022h0M357 2001h0M356 1999h0M357 2279h0M356 2239h0M355 2321h0M356 2311h0M355 2295h0M357 2275h0M357 2302h0M355 2260h0M356 2361h0M354 2327h0M355 2171h0M355 2325h0M356 2370h0M356 2356h0M356 2288h0M357 2362h0M357 2352h0M355 2342h0M357 2327h0M356 2160h0M356 2142h0M354 2296h0M360 2340h0M358 2263h0M358 2248h0M359 2263h0M358 2247h0M358 2243h0M360 2204h0M358 2189h0M358 2181h0M360 2325h0M360 2153h0M358 2346h0M358 2331h0M360 1946h0M360 2176h0M357 1952h0M360 2020h0M358 2052h0M359 2295h0M358 2200h0M358 2222h0M358 2210h0M359 2202h0M359 2220h0M359 2323h0M358 2355h0M358 2223h0M360 2161h0M362 2334h0M360 2316h0M362 2343h0M362 2334h0M361 2323h0M362 2353h0M361 2118h0M360 2332h0M362 2310h0M361 2178h0M360 2161h0M361 2154h0M360 2348h0M359 2311h0M360 2359h0M361 2166h0M362 2254h0M362 2355h0M361 2366h0M361 2367h0M360 2356h0M361 2340h0M363 2119h0M364 2271h0M365 2335h0M363 2324h0M364 2307h0M363 2286h0M365 2280h0M362 2266h0M364 2257h0M365 2144h0M364 2255h0M364 2243h0M362 2234h0M364 2206h0M362 2244h0M364 2188h0M365 2250h0M362 2359h0M365 2222h0M363 2212h0M362 2132h0M364 2137h0M362 2168h0M362 2325h0M364 2315h0M365 2330h0M363 2264h0M366 2165h0M365 2300h0M367 2321h0M366 2341h0M365 2327h0M365 2310h0M366 2331h0M367 2315h0M364 2342h0M366 2330h0M365 2319h0M365 2307h0M367 2124h0M367 2335h0M365 2334h0M365 2350h0M364 2352h0M367 2325h0M365 2237h0M367 2318h0M367 2229h0M365 2204h0M366 2191h0M366 2182h0M364 2116h0M365 2105h0M366 2092h0M366 2078h0M365 2283h0M369 2339h0M369 2206h0M367 2195h0M369 2206h0M369 2309h0M369 2298h0M369 2282h0M367 2333h0M369 2344h0M368 2152h0M366 2004h0M368 2141h0M368 2195h0M367 2278h0M368 2066h0M368 2055h0M368 2043h0M367 2036h0M367 2329h0M366 2360h0M368 2349h0M367 2330h0M369 2335h0M366 2306h0M368 2295h0M367 2277h0M367 2269h0M369 2251h0M372 2346h0M373 2336h0M371 2326h0M371 2307h0M371 2341h0M371 2363h0M371 2322h0M372 2306h0M371 2293h0M371 2279h0M371 2274h0M370 2325h0M370 2333h0M370 2349h0M373 2357h0M371 2349h0M372 2357h0M372 2345h0M372 2328h0M372 2314h0M373 2273h0M371 2344h0M371 2331h0M372 2295h0M371 2331h0M372 2322h0M373 2184h0M374 2263h0M375 2261h0M374 2187h0M374 2283h0M375 2115h0M373 2241h0M374 2229h0M374 2211h0M375 2178h0M374 2163h0M373 2250h0M373 2292h0M374 2311h0M372 2272h0M374 2276h0M373 2306h0M375 2267h0M374 2257h0M374 2238h0M375 2208h0M372 2135h0M375 2342h0M374 2240h0M374 2226h0M373 2215h0M373 2196h0M376 2346h0M375 2338h0M376 2326h0M376 2196h0M376 2182h0M377 2164h0M377 2353h0M375 2255h0M376 2352h0M376 2299h0M377 2210h0M377 2216h0M377 2202h0M375 2316h0M375 2302h0M378 2196h0M375 2214h0M378 2138h0M377 2328h0M375 2272h0M377 2292h0M375 2279h0M377 2304h0M378 2168h0M380 2340h0M380 2306h0M379 2351h0M378 2354h0M378 2282h0M378 2270h0M379 2261h0M378 2051h0M377 2041h0M377 2347h0M377 1966h0M379 2213h0M380 2354h0M380 2125h0M379 2262h0M378 2355h0M379 2145h0M378 2129h0M378 2116h0M378 2006h0M380 2216h0M381 2205h0M381 2196h0M381 2177h0M383 2344h0M381 2332h0M383 2209h0M381 2314h0M382 2302h0M382 2285h0M382 2285h0M382 2283h0M382 2210h0M382 2199h0M382 2185h0M381 2175h0M383 2224h0M381 2299h0M383 2308h0M380 2325h0M382 2312h0M381 2302h0M381 2278h0M382 2252h0M382 2237h0M381 2232h0M381 2204h0M383 2301h0M380 2296h0M383 2341h0M383 2177h0M383 2289h0M381 2274h0M383 2341h0M381 2330h0M383 2354h0M386 2324h0M384 2312h0M385 2305h0M384 2289h0M385 2295h0M384 2269h0M386 2352h0M385 2265h0M385 2209h0M384 2294h0M384 2335h0M386 2332h0M383 2214h0M386 2289h0M385 2274h0M385 2257h0M385 2248h0M383 2348h0M383 2216h0M383 2250h0M385 2128h0M386 2330h0M384 2317h0M386 2298h0M385 2286h0M386 2118h0M387 2282h0M386 2042h0M386 2314h0M388 2281h0M387 2316h0M386 2353h0M387 2267h0M386 2294h0M387 2204h0M389 2354h0M386 2340h0M388 2331h0M388 2267h0M385 2302h0M388 2138h0M388 2171h0M388 2303h0M387 2292h0M386 2254h0M392 2352h0M392 2349h0M392 2329h0M391 2313h0M390 2301h0M391 2281h0M391 2242h0M390 2291h0M389 2343h0M392 2229h0M389 2134h0M392 2352h0M391 2235h0M390 2220h0M390 2210h0M392 2190h0M392 2287h0M391 2084h0M392 2350h0M390 2337h0M391 2318h0M391 2307h0M392 2282h0M392 2135h0M390 2351h0M395 2291h0M396 2178h0M394 2337h0M394 2150h0M395 2136h0M395 2131h0M394 2244h0M395 2234h0M394 2214h0M395 2205h0M394 2227h0M393 2311h0M395 2300h0M395 2346h0M396 2249h0M395 2219h0M392 2280h0M393 2270h0M394 2255h0M395 2251h0M395 2228h0M395 2283h0M394 2272h0M395 2253h0M395 2305h0M393 2276h0M396 2029h0M394 2268h0M395 2255h0M397 2320h0M398 2267h0M396 2252h0M396 2242h0M398 2301h0M397 2323h0M395 2225h0M396 2215h0M397 2198h0M396 2180h0M396 2257h0M396 2243h0M397 2291h0M397 2215h0M397 2204h0M398 2332h0M395 2152h0M397 2248h0M398 2296h0M395 2044h0M395 2233h0M395 2213h0M398 2239h0M398 2323h0M398 2345h0M398 2343h0M400 2301h0M400 2030h0M400 2148h0M399 2316h0M398 2092h0M399 2330h0M398 2271h0M399 2260h0M399 2241h0M398 2233h0M399 2077h0M400 2307h0M399 2338h0M399 2154h0M400 2079h0M400 2328h0M399 2271h0M399 2261h0M400 2270h0M403 2352h0M401 2328h0M401 2312h0M401 2300h0M402 2297h0M403 2134h0M400 2254h0M402 2319h0M403 2303h0M402 2299h0M403 2359h0M401 2348h0M402 2331h0M400 2304h0M402 2266h0M402 2313h0M402 2301h0M401 2185h0M401 2175h0M401 2164h0M402 2155h0M400 2322h0M401 2340h0M402 2341h0M401 2220h0M400 2221h0M402 2339h0M401 2329h0M406 2147h0M406 2330h0M405 2271h0M404 2282h0M406 2333h0M405 2323h0M406 2318h0M405 2303h0M405 2287h0M405 2177h0M406 2117h0M405 2264h0M406 2288h0M404 2321h0M405 2310h0M405 2289h0M404 2290h0M403 2232h0M403 2233h0M406 2222h0M405 2044h0M404 2341h0M404 2325h0M405 2310h0M405 2354h0M409 2241h0M409 2305h0M407 2303h0M408 2350h0M407 2297h0M408 2264h0M407 2228h0M405 2067h0M408 2343h0M406 2209h0M406 2342h0M406 2327h0M407 2354h0M407 2266h0M406 2336h0M408 2240h0M406 2328h0M406 2313h0M407 2173h0M409 2281h0M411 2309h0M409 2320h0M411 2357h0M409 2264h0M411 2250h0M410 2239h0M411 2234h0M409 2363h0M410 2313h0M411 2317h0M411 2354h0M412 2294h0M410 2326h0M410 2313h0M410 2306h0M411 2289h0M412 2176h0M411 2292h0M410 2281h0M410 2263h0M411 2244h0M412 2206h0M412 2325h0M412 2359h0M412 2307h0M412 2206h0M412 2199h0M415 2349h0M413 2335h0M414 2319h0M413 2275h0M415 2340h0M414 2127h0M413 2082h0M415 2025h0M413 2341h0M414 2331h0M414 2311h0M415 2353h0M413 2339h0M413 2333h0M413 2244h0M415 2363h0M412 2293h0M415 2135h0M413 2123h0M413 2115h0M414 2092h0M415 2176h0M417 2364h0M416 2349h0M415 2338h0M417 2334h0M415 2269h0M415 2256h0M415 2070h0M415 2163h0M416 2265h0M417 2289h0M417 2365h0M417 2318h0M415 2322h0M415 2328h0M417 2253h0M415 2025h0M415 2343h0M417 2336h0M419 2367h0M419 2350h0M419 2286h0M421 2361h0M418 2264h0M420 2359h0M419 2348h0M419 2336h0M419 2217h0M419 2250h0M420 2329h0M419 2317h0M419 2298h0M419 2226h0M421 2339h0M419 2331h0M420 2360h0M418 2260h0M420 2337h0M419 2350h0M423 2159h0M423 2352h0M423 2367h0M423 2318h0M425 2067h0M422 2350h0M424 2211h0M422 2353h0M423 2329h0M421 2246h0M424 2135h0M422 2254h0M423 2213h0M424 2254h0M424 2230h0M422 2361h0M426 2159h0M424 2149h0M424 2133h0M424 2198h0M425 2183h0M425 2175h0M425 2161h0M424 2361h0M425 2349h0M426 2313h0M424 2151h0M423 2332h0M427 2249h0M425 2160h0M426 2163h0M424 2359h0M425 2344h0M426 2304h0M425 2203h0M424 2189h0M425 2174h0M425 2174h0M425 2345h0M424 2331h0M426 2324h0M426 2362h0M425 2369h0M424 2357h0M428 2332h0M428 2271h0M427 2251h0M427 2312h0M428 2369h0M427 2357h0M426 2329h0M427 2314h0M427 2282h0M427 2284h0M428 2225h0M428 2265h0M427 2255h0M428 2245h0M428 2214h0M428 2359h0M427 2344h0M429 2126h0M426 2351h0M427 2243h0M432 2029h0M431 2242h0M433 2315h0M431 2316h0M430 2293h0M433 2169h0M429 2312h0M431 2296h0M430 2285h0M430 2271h0M432 2360h0M431 2362h0M430 2278h0M430 2218h0M429 2245h0M431 2254h0M430 2131h0M431 2116h0M430 2100h0M431 2090h0M432 2373h0M430 2336h0M432 2340h0M435 2330h0M434 2227h0M433 2216h0M435 2202h0M434 2178h0M434 2371h0M434 2273h0M435 2191h0M432 2300h0M435 2374h0M434 2118h0M434 2106h0M434 2089h0M433 2079h0M433 2340h0M433 2312h0M436 2374h0M436 2339h0M433 2307h0M435 2206h0M436 2373h0M436 2270h0M438 2254h0M438 2250h0M437 2232h0M438 2343h0M436 2359h0M437 2346h0M438 2328h0M437 2326h0M439 2203h0M437 2188h0M437 2184h0M437 2159h0M439 2337h0M438 2302h0M437 2257h0M439 2286h0M438 2270h0M437 2254h0M439 2247h0M436 2348h0M439 2288h0M437 2275h0M437 2266h0M438 2257h0M437 2325h0M437 2268h0M439 2363h0M439 2353h0M440 2343h0M440 2147h0M440 2262h0M441 2247h0M441 2354h0M438 2248h0M440 2240h0M441 2230h0M440 2373h0M442 2377h0M441 2341h0M440 2320h0M440 2309h0M440 2292h0M439 2288h0M440 2129h0M440 2118h0M439 2108h0M440 2090h0M440 2365h0M441 2140h0M441 2125h0M441 2113h0M442 2134h0M439 2348h0M443 2222h0M444 2210h0M444 2195h0M444 2178h0M445 2357h0M445 2246h0M445 2258h0M445 2345h0M442 2267h0M442 2306h0M445 2301h0M443 2171h0M443 2356h0M442 2353h0M444 2373h0M444 2359h0M443 2348h0M444 2338h0M443 2366h0M445 2316h0M444 2316h0M448 2276h0M447 2380h0M445 2369h0M447 2380h0M446 2349h0M445 2322h0M445 2242h0M446 2289h0M448 2283h0M448 2376h0M447 2217h0M447 2205h0M447 2191h0M446 2363h0M445 2364h0M448 2378h0M448 2324h0M448 2382h0M449 2257h0M448 2299h0M448 2292h0M450 2152h0M449 2139h0M448 2120h0M449 2341h0M451 2171h0M449 2248h0M448 2296h0M449 2310h0M448 2376h0M450 2355h0M453 2367h0M453 2352h0M452 2303h0M451 2186h0M452 2382h0M450 2314h0M453 2299h0M454 2333h0M453 2323h0M452 2345h0M451 2364h0M452 2354h0M452 2341h0M452 2325h0M453 2360h0M453 2356h0M452 2354h0M454 2236h0M452 2215h0M450 2381h0M456 2377h0M455 2309h0M455 2295h0M456 2289h0M456 2301h0M455 2291h0M456 2279h0M455 2268h0M456 2381h0M456 2324h0M457 2322h0M457 2383h0M457 2379h0M455 2374h0M454 2250h0M457 2253h0M454 2306h0M456 2241h0M455 2228h0M456 2218h0M456 2206h0M456 2359h0M456 2344h0M456 2336h0M456 2314h0M457 2368h0M456 2354h0M455 2337h0M459 2338h0M460 2325h0M459 2317h0M459 2290h0M460 2347h0M460 2331h0M459 2327h0M460 2082h0M458 2318h0M458 2362h0M459 2299h0M459 2287h0M460 2271h0M459 2255h0M460 2173h0M459 2161h0M459 2308h0M459 2296h0M460 2277h0M459 2269h0M458 2341h0M459 2303h0M460 2374h0M459 2358h0M459 2354h0M459 2385h0M459 2371h0M460 2360h0M460 2355h0M463 2376h0M461 2363h0M462 2280h0M461 2266h0M463 2260h0M462 2298h0M463 2157h0M461 2145h0M461 2297h0M460 2170h0M462 2159h0M462 2142h0M462 2129h0M462 2387h0M463 2351h0M460 2349h0M461 2219h0M462 2205h0M462 2192h0M462 2181h0M463 2154h0M462 2141h0M461 2133h0M462 2109h0M463 2357h0M462 2344h0M462 2312h0M462 2301h0M461 2290h0M462 2339h0M464 2233h0M464 2221h0M465 2209h0M465 2204h0M466 2229h0M465 2379h0M467 2335h0M465 2320h0M465 2310h0M466 2287h0M464 2222h0M465 2366h0M467 2317h0M464 2125h0M464 2368h0M465 2352h0M465 2378h0M465 2302h0M466 2337h0M464 2307h0M467 2361h0M468 2339h0M469 2383h0M470 2374h0M468 2334h0M468 2320h0M468 2306h0M468 2287h0M467 2351h0M469 2367h0M467 2137h0M468 2313h0M469 2303h0M469 2282h0M468 2279h0M470 2356h0M467 2368h0M470 2382h0M469 2370h0M468 2355h0M468 2350h0M469 2353h0M468 2380h0M468 2368h0M470 2370h0M469 2359h0M469 2342h0M470 2299h0M472 2174h0M473 2334h0M472 2319h0M472 2313h0M473 2287h0M473 2231h0M472 2312h0M473 2352h0M473 2340h0M471 2385h0M472 2265h0M471 2375h0M472 2363h0M472 2335h0M473 2382h0M472 2356h0M472 2341h0M472 2334h0M473 2310h0M471 2353h0M471 2311h0M473 2116h0M473 2261h0M475 2386h0M476 2362h0M475 2191h0M476 2385h0M474 2370h0M475 2358h0M476 2247h0M475 2245h0M476 2313h0M474 2303h0M474 2292h0M475 2320h0M475 2318h0M474 2305h0M474 2386h0M475 2335h0M475 2310h0M474 2299h0M478 2378h0M478 2396h0M477 2386h0M477 2371h0M477 2349h0M476 2309h0M476 2323h0M477 2371h0M479 2379h0M479 2316h0M478 2218h0M477 2390h0M479 2375h0M478 2359h0M478 2390h0M477 2374h0M478 2362h0M478 2345h0M477 2385h0M478 2372h0M477 2354h0M478 2350h0M479 2360h0M478 2320h0M479 2076h0M478 2326h0M480 2328h0M479 2395h0M478 2308h0M481 2213h0M479 2363h0M478 2351h0M481 2341h0M479 2322h0M479 2318h0M482 2350h0M479 2347h0M480 2334h0M481 2350h0M480 2326h0M479 2387h0M481 2320h0M481 2326h0M481 2301h0M482 2296h0M484 2312h0M482 2390h0M483 2396h0M483 2384h0M484 2368h0M484 2364h0M485 2263h0M485 2328h0M485 2219h0M485 2306h0M484 2355h0M485 2380h0M483 2383h0M484 2381h0M482 2285h0M484 2269h0M483 2259h0M489 2282h0M487 2326h0M488 2397h0M487 2387h0M486 2283h0M487 2267h0M486 2263h0M487 2378h0M488 2384h0M485 2393h0M486 2379h0M487 2373h0M488 2358h0M487 2398h0M488 2369h0M486 2380h0M487 2305h0M486 2393h0M487 2360h0M487 2345h0M486 2368h0M490 2297h0M491 2317h0M491 2301h0M491 2322h0M490 2397h0M490 2271h0M491 2262h0M488 2219h0M490 2395h0M490 2381h0M489 2370h0M489 2317h0M490 2256h0M491 2373h0M489 2340h0M490 2327h0M490 2319h0M491 2266h0M492 2401h0M494 2325h0M492 2309h0M493 2299h0M493 2279h0M493 2290h0M491 2227h0M492 2332h0M491 2361h0M493 2394h0M492 2371h0M491 2381h0M494 2381h0M491 2396h0M492 2350h0M492 2340h0M492 2328h0M492 2319h0M492 2337h0M491 2344h0M495 2111h0M494 2399h0M494 2350h0M496 2247h0M494 2371h0M494 2244h0M494 2404h0M497 2390h0M496 2279h0M497 2186h0M495 2406h0M500 2325h0M498 2130h0M500 2334h0M500 2253h0M499 2389h0M500 2342h0M498 2404h0M498 2369h0M500 2355h0M499 2396h0M500 2355h0M499 2382h0M500 2371h0M499 2354h0M500 2358h0M500 2262h0M500 2394h0M499 2382h0M500 2366h0M499 2365h0M501 2180h0M502 2164h0M502 2153h0M504 2291h0M504 2395h0M503 2366h0M502 2367h0M502 2352h0M502 2345h0M503 2162h0M503 2401h0M503 2388h0M503 2373h0M501 2399h0M503 2383h0M500 2338h0M501 2272h0M502 2348h0M502 2354h0M504 2316h0M503 2308h0M504 2294h0M504 2363h0M504 2334h0M505 2388h0M505 2336h0M505 2408h0M504 2324h0M504 2364h0M504 2379h0M504 2364h0M505 2355h0M504 2328h0M506 2396h0M505 2384h0M504 2368h0M505 2348h0M503 2253h0M505 2241h0M504 2231h0M504 2206h0M503 2409h0M507 2368h0M507 2358h0M508 2347h0M508 2329h0M508 2385h0M508 2351h0M507 2294h0M509 2381h0M508 2367h0M508 2360h0M508 2336h0M508 2135h0M506 2370h0M508 2329h0M507 2378h0M508 2241h0M507 2217h0M509 2203h0M508 2187h0M508 2172h0M508 2375h0M509 2342h0M509 2264h0M508 2254h0M507 2235h0M513 2348h0M513 2153h0M513 2358h0M511 2344h0M512 2364h0M512 2376h0M513 2406h0M513 2344h0M511 2329h0M511 2317h0M513 2394h0M511 2400h0M512 2270h0M511 2377h0M511 2366h0M511 2204h0M516 2377h0M516 2292h0M515 2281h0M515 2265h0M516 2257h0M513 2383h0M515 2384h0M514 2398h0M516 2406h0M514 2321h0M516 2309h0M515 2299h0M516 2401h0M516 2385h0M515 2378h0M517 2362h0M516 2347h0M515 2341h0M516 2319h0M516 2344h0M516 2330h0M514 2317h0M515 2305h0M516 2395h0M514 2383h0M516 2249h0M518 2410h0M519 2280h0M519 2390h0M518 2199h0M519 2412h0M517 2397h0M518 2206h0M518 2193h0M518 2295h0M516 2372h0M517 2362h0M517 2343h0M517 2326h0M517 2248h0M516 2354h0M519 2321h0M519 2356h0M517 2343h0M518 2336h0M518 2314h0M516 2333h0M521 2372h0M522 2361h0M521 2170h0M519 2258h0M520 2248h0M520 2228h0M520 2388h0M520 2404h0M521 2312h0M519 2413h0M522 2309h0M520 2183h0M518 2289h0M520 2388h0M519 2389h0M519 2300h0M522 2187h0M523 2385h0M523 2383h0M522 2381h0M523 2366h0M522 2317h0M523 2306h0M523 2295h0M523 2337h0M523 2365h0M523 2223h0M522 2208h0M522 2201h0M522 2355h0M522 2357h0M523 2393h0M522 2408h0M523 2311h0M524 2325h0M527 2375h0M526 2310h0M526 2367h0M528 2270h0M525 2259h0M527 2239h0M527 2413h0M527 2405h0M525 2414h0M528 2401h0M527 2280h0M525 2325h0M525 2408h0M525 2301h0M528 2231h0M530 2396h0M529 2385h0M528 2341h0M529 2335h0M528 2411h0M529 2369h0M530 2360h0M528 2285h0M529 2319h0M528 2410h0M528 2386h0M529 2321h0M530 2273h0M533 2412h0M532 2403h0M531 2316h0M533 2350h0M530 2368h0M530 2201h0M533 2410h0M531 2360h0M530 2345h0M531 2375h0M531 2309h0M531 2368h0M530 2258h0M534 2356h0M536 2357h0M536 2383h0M534 2371h0M534 2354h0M534 2398h0M535 2261h0M535 2249h0M534 2292h0M535 2280h0M536 2260h0M534 2283h0M533 2187h0M535 2171h0M536 2165h0M536 2193h0M534 2335h0M536 2323h0M535 2234h0M534 2277h0M538 2218h0M540 2387h0M537 2376h0M538 2310h0M538 2298h0M539 2282h0M539 2267h0M538 2259h0M538 2287h0M539 2275h0M538 2260h0M538 2246h0M538 2231h0M537 2396h0M538 2347h0M538 2366h0M540 2340h0M541 2335h0M540 2159h0M542 2321h0M541 2413h0M541 2411h0M539 2396h0M539 2282h0M542 2391h0M540 2411h0M542 2408h0M541 2335h0M540 2384h0M540 2368h0M542 2348h0M544 2357h0M544 2292h0M543 2362h0M543 2361h0M541 2336h0M544 2370h0M544 2345h0M543 2333h0M544 2344h0M544 2332h0M543 2322h0M542 2385h0M542 2397h0M542 2225h0M544 2401h0M545 2363h0M546 2347h0M546 2333h0M544 2249h0M547 2418h0M545 2409h0M545 2281h0M544 2399h0M546 2401h0M546 2290h0M546 2279h0M545 2268h0M545 2243h0M545 2364h0M546 2351h0M544 2374h0M544 2357h0M545 2342h0M545 2334h0M546 2388h0M549 2359h0M550 2335h0M548 2374h0M549 2324h0M550 2344h0M548 2334h0M549 2320h0M548 2304h0M548 2379h0M549 2380h0M549 2399h0M549 2401h0M550 2390h0M550 2366h0M551 2415h0M552 2402h0M553 2392h0M551 2217h0M552 2205h0M553 2192h0M553 2246h0M553 2266h0M552 2407h0M554 2282h0M553 2267h0M554 2407h0M552 2308h0M551 2355h0M552 2417h0M554 2331h0M555 2419h0M556 2408h0M556 2395h0M556 2382h0M556 2410h0M556 2397h0M555 2378h0M555 2377h0M557 2363h0M555 2350h0M555 2315h0M556 2413h0M556 2421h0M556 2406h0M555 2390h0M555 2389h0M556 2413h0M556 2400h0M555 2387h0M554 2411h0M556 2416h0M557 2378h0M558 2367h0M558 2423h0M557 2409h0M557 2372h0M559 2418h0M559 2406h0M558 2357h0M559 2375h0M556 2387h0M557 2386h0M559 2323h0M557 2380h0M560 2402h0M560 2349h0M562 2274h0M562 2332h0M562 2270h0M562 2420h0M561 2388h0M560 2372h0M561 2352h0M560 2365h0M560 2411h0M562 2402h0M563 2392h0M564 2414h0M562 2400h0M563 2403h0M563 2376h0M564 2242h0M563 2415h0M561 2212h0M563 2196h0M563 2345h0M561 2353h0M562 2216h0M562 2407h0M562 2394h0M562 2381h0M565 2390h0M565 2377h0M564 2363h0M564 2406h0M567 2358h0M565 2221h0M565 2210h0M564 2322h0M565 2416h0M565 2400h0M565 2388h0M566 2411h0M566 2353h0M565 2353h0M565 2373h0M564 2399h0M566 2407h0M568 2286h0M566 2406h0M568 2394h0M567 2384h0M568 2376h0M566 2377h0M567 2409h0M569 2396h0M569 2347h0M566 2195h0M566 2341h0M568 2389h0M566 2317h0M568 2241h0M571 2414h0M570 2369h0M571 2304h0M571 2357h0M569 2296h0M571 2414h0M569 2397h0M570 2384h0M571 2381h0M571 2388h0M570 2409h0M571 2397h0M570 2380h0M571 2372h0M572 2421h0M570 2406h0M570 2396h0M571 2373h0M571 2363h0M572 2378h0M573 2365h0M573 2358h0M573 2344h0M574 2346h0M574 2334h0M574 2324h0M573 2427h0M574 2411h0M574 2400h0M574 2395h0M574 2423h0M574 2393h0M574 2368h0M573 2358h0M574 2377h0M575 2410h0M575 2395h0M572 2421h0M575 2369h0M577 2357h0M577 2341h0M576 2288h0M576 2407h0M577 2396h0M576 2378h0M577 2372h0M576 2350h0M575 2221h0M576 2383h0M576 2358h0M575 2417h0M577 2368h0M577 2285h0M577 2395h0M577 2384h0M577 2416h0M578 2383h0M579 2368h0M580 2399h0M580 2377h0M579 2364h0M580 2356h0M578 2331h0M580 2414h0M581 2269h0M579 2402h0M578 2305h0M580 2399h0M577 2397h0M583 2399h0M581 2421h0M580 2371h0M582 2386h0M582 2366h0M581 2394h0M580 2419h0M581 2375h0M580 2337h0M580 2328h0M580 2419h0M585 2426h0M584 2415h0M583 2393h0M583 2327h0M585 2313h0M585 2304h0M586 2358h0M584 2344h0M584 2337h0M585 2388h0M585 2378h0M585 2369h0M583 2428h0M585 2434h0M585 2372h0M584 2344h0M584 2424h0M588 2410h0M587 2399h0M589 2390h0M587 2437h0M587 2426h0M588 2438h0M589 2339h0M588 2406h0M586 2393h0M588 2384h0M588 2365h0M589 2384h0M586 2422h0M587 2404h0M589 2444h0M590 2430h0M590 2416h0M591 2320h0M588 2434h0M590 2390h0M591 2438h0M592 2409h0M591 2443h0M590 2264h0M589 2445h0M594 2407h0M592 2404h0M592 2431h0M593 2381h0M593 2451h0M595 2343h0M595 2406h0M594 2269h0M593 2425h0M593 2411h0M599 2419h0M597 2458h0M598 2388h0M597 2378h0M597 2360h0M598 2347h0M598 2414h0M599 2430h0M596 2450h0M598 2297h0M596 2427h0M598 2386h0M598 2459h0M598 2363h0M600 2349h0M600 2332h0M600 2323h0M599 2373h0M600 2433h0M598 2299h0M601 2454h0M599 2462h0M600 2450h0M600 2431h0M600 2423h0M601 2441h0M602 2449h0M600 2431h0M603 2455h0M603 2368h0M602 2398h0M602 2384h0M601 2373h0M603 2443h0M602 2442h0M605 2452h0M604 2439h0M604 2423h0M604 2416h0M605 2413h0M603 2440h0M603 2425h0M605 2434h0M604 2415h0M603 2400h0M604 2392h0M605 2391h0M606 2446h0M607 2437h0M606 2425h0M607 2435h0M606 2404h0M609 2457h0M612 2332h0M612 2455h0M612 2415h0M612 2452h0M612 2451h0M614 2415h0M614 2435h0M613 2436h0M612 2425h0M612 2432h0M615 2423h0M616 2421h0M616 2438h0M616 2443h0M615 2446h0M619 2445h0M617 2430h0M619 2407h0M620 2455h0M619 2450h0M619 2455h0M623 2367h0M621 2454h0M621 2441h0M622 2432h0M622 2408h0M621 2414h0M621 2398h0M620 2440h0M621 2445h0M623 2453h0M623 2425h0M623 2412h0M624 2406h0M625 2395h0M623 2446h0M623 2342h0M623 2447h0M624 2433h0M624 2424h0M624 2402h0M626 2408h0M625 2377h0M628 2413h0M626 2426h0M627 2411h0M626 2397h0M627 2394h0M626 2448h0M625 2449h0M626 2430h0M625 2450h0M631 2377h0M631 2452h0M629 2438h0M629 2431h0M629 2411h0M630 2442h0M631 2426h0M631 2446h0M629 2431h0M631 2416h0M629 2402h0M631 2405h0M632 2440h0M634 2349h0M631 2419h0M632 2445h0M634 2384h0M632 2368h0M632 2445h0M634 2445h0M635 2446h0M635 2432h0M635 2427h0M636 2443h0M635 2433h0M634 2411h0M635 2417h0M637 2332h0M637 2446h0M637 2444h0M637 2407h0M637 2439h0M640 2363h0M639 2349h0M638 2331h0M642 2408h0M642 2443h0M639 2375h0M639 2441h0M641 2414h0M639 2401h0M642 2424h0M640 2414h0M641 2399h0M645 2431h0M642 2421h0M644 2382h0M643 2367h0M644 2362h0M644 2357h0M645 2342h0M644 2336h0M645 2326h0M645 2420h0M645 2329h0M644 2318h0M643 2410h0M647 2377h0M646 2362h0M647 2388h0M646 2412h0M646 2411h0M645 2441h0M646 2406h0M646 2427h0M650 2427h0M650 2436h0M650 2438h0M651 2409h0M652 2433h0M652 2373h0M653 2383h0M653 2429h0M655 2416h0M654 2369h0M653 2354h0M654 2429h0M653 2413h0M655 2400h0M658 2389h0M657 2431h0M657 2420h0M657 2401h0M657 2401h0M658 2437h0M659 2389h0M656 2420h0M659 2375h0M661 2418h0M660 2407h0M660 2397h0M658 2418h0M658 2375h0M662 2397h0M661 2435h0M659 2383h0M663 2425h0M664 2336h0M662 2320h0M664 2398h0M661 2411h0M664 2401h0M663 2384h0M663 2371h0M662 2364h0M663 2349h0M667 2327h0M666 2380h0M665 2429h0M665 2430h0M665 2392h0M665 2423h0M667 2323h0M669 2421h0M667 2427h0M668 2413h0M668 2402h0M667 2425h0M667 2379h0M667 2324h0M671 2423h0M670 2428h0M671 2415h0M672 2353h0M671 2353h0M669 2361h0M671 2351h0M672 2337h0M671 2321h0M670 2419h0M674 2288h0M675 2434h0M674 2419h0M675 2402h0M673 2431h0M676 2430h0M675 2416h0M675 2399h0M675 2392h0M674 2416h0M675 2397h0M675 2387h0M675 2375h0M675 2365h0M676 2432h0M678 2425h0M678 2412h0M676 2400h0M678 2393h0M676 2436h0M676 2424h0M678 2374h0M678 2361h0M676 2401h0M677 2403h0M681 2437h0M679 2399h0M680 2387h0M682 2385h0M679 2393h0M681 2371h0M682 2390h0M680 2407h0M682 2417h0M684 2429h0M685 2427h0M682 2436h0M683 2407h0M683 2392h0M683 2377h0M683 2367h0M682 2384h0M685 2410h0M687 2412h0M687 2386h0M688 2377h0M686 2425h0M685 2403h0M688 2430h0M686 2386h0M690 2414h0M689 2410h0M691 2432h0M689 2399h0M689 2385h0M691 2379h0M690 2369h0M691 2363h0M690 2348h0M690 2412h0M689 2315h0M688 2434h0M690 2420h0M693 2401h0M694 2420h0M693 2405h0M692 2394h0M692 2385h0M693 2413h0M692 2420h0M693 2374h0M694 2412h0M692 2430h0M697 2358h0M696 2439h0M697 2436h0M697 2367h0M694 2371h0M695 2334h0M695 2321h0M695 2306h0M696 2292h0M697 2304h0M699 2425h0M697 2434h0M699 2422h0M699 2410h0M697 2330h0M699 2418h0M701 2431h0M700 2417h0M700 2408h0M699 2386h0M701 2421h0M700 2406h0M699 2396h0M701 2379h0M700 2379h0M700 2416h0M700 2406h0M700 2387h0M701 2383h0M699 2311h0M700 2435h0M703 2361h0M701 2422h0M704 2343h0M704 2401h0M703 2388h0M702 2377h0M703 2433h0M701 2322h0M702 2422h0M703 2388h0M707 2323h0M706 2438h0M707 2439h0M704 2414h0M706 2404h0M705 2436h0M705 2429h0M705 2415h0M705 2422h0M705 2408h0M707 2397h0M710 2421h0M708 2397h0M709 2418h0M709 2415h0M709 2426h0M709 2410h0M709 2429h0M709 2429h0M714 2437h0M712 2399h0M714 2406h0M712 2394h0M713 2440h0M713 2429h0M713 2415h0M712 2404h0M713 2383h0M714 2350h0M714 2337h0M712 2324h0M714 2314h0M713 2417h0M713 2403h0M712 2387h0M717 2325h0M713 2441h0M715 2431h0M715 2420h0M715 2397h0M717 2390h0M714 2427h0M715 2418h0M716 2406h0M716 2392h0M715 2427h0M717 2346h0M714 2409h0M715 2441h0M716 2411h0M717 2396h0M717 2400h0M717 2352h0M716 2393h0M718 2394h0M717 2398h0M717 2397h0M719 2381h0M717 2370h0M718 2357h0M717 2386h0M718 2370h0M718 2363h0M721 2418h0M721 2430h0M722 2432h0M720 2426h0M720 2366h0M720 2346h0M722 2333h0M722 2324h0M721 2392h0M721 2382h0M720 2372h0M721 2361h0M721 2434h0M723 2340h0M724 2439h0M725 2402h0M723 2387h0M724 2372h0M723 2360h0M723 2348h0M725 2421h0M722 2430h0M723 2326h0M724 2316h0M723 2394h0M725 2395h0M726 2437h0M726 2422h0M726 2408h0M726 2434h0M726 2422h0M725 2412h0M725 2375h0M727 2358h0M726 2412h0M725 2435h0M727 2396h0M729 2437h0M729 2383h0M727 2410h0M729 2440h0M728 2411h0M727 2388h0M727 2376h0M728 2438h0M731 2367h0M730 2395h0M732 2440h0M730 2418h0M729 2431h0M731 2402h0M731 2408h0M732 2358h0M732 2425h0M734 2414h0M732 2403h0M733 2396h0M732 2429h0M735 2377h0M734 2435h0M733 2439h0M732 2441h0M733 2426h0M733 2411h0M733 2400h0M732 2406h0M736 2394h0M738 2444h0M737 2434h0M736 2420h0M736 2399h0M735 2439h0M737 2340h0M735 2280h0M737 2418h0M738 2428h0M737 2357h0M740 2323h0M737 2436h0M740 2306h0M739 2430h0M737 2373h0M738 2405h0M739 2404h0M739 2401h0M741 2439h0M742 2433h0M742 2444h0M743 2419h0M744 2402h0M742 2410h0M742 2396h0M743 2389h0M743 2374h0M741 2378h0M746 2329h0M744 2438h0M745 2395h0M744 2380h0M744 2374h0M743 2425h0M745 2434h0M744 2406h0M745 2444h0M748 2331h0M746 2378h0M746 2418h0M747 2432h0M746 2422h0M747 2402h0M747 2392h0M746 2366h0M747 2327h0M747 2444h0M749 2430h0M751 2442h0M750 2445h0M750 2434h0M749 2421h0M748 2403h0M751 2372h0M749 2372h0M749 2359h0M748 2352h0M751 2288h0M752 2446h0M752 2444h0M753 2420h0M752 2430h0M754 2403h0M750 2387h0M754 2393h0M756 2438h0M757 2409h0M754 2424h0M756 2427h0M756 2409h0M758 2313h0M758 2424h0M759 2435h0M756 2355h0M760 2412h0M758 2436h0M758 2426h0M759 2410h0M758 2405h0M761 2432h0M761 2332h0M760 2344h0M762 2332h0M763 2435h0M761 2423h0M761 2416h0M762 2438h0M762 2444h0M766 2423h0M765 2395h0M764 2385h0M764 2317h0M766 2422h0M765 2409h0M764 2393h0M763 2341h0M763 2446h0M767 2439h0M767 2360h0M768 2417h0M768 2406h0M768 2431h0M767 2439h0M767 2442h0M769 2325h0M771 2439h0M772 2385h0M769 2403h0M770 2403h0M771 2415h0M772 2445h0M772 2434h0M772 2403h0M771 2421h0M772 2409h0M774 2397h0M772 2385h0M772 2438h0M772 2447h0M772 2438h0M774 2416h0M774 2416h0M773 2402h0M777 2416h0M776 2430h0M776 2423h0M776 2407h0M776 2400h0M777 2378h0M776 2418h0M776 2443h0M775 2410h0M777 2396h0M775 2387h0M775 2371h0M777 2447h0M781 2354h0M779 2338h0M779 2327h0M779 2316h0M779 2444h0M780 2434h0M779 2420h0M780 2403h0M781 2449h0M780 2417h0M780 2406h0M779 2406h0M781 2390h0M779 2418h0M781 2438h0M781 2401h0M782 2434h0M781 2435h0M784 2437h0M783 2420h0M783 2450h0M782 2438h0M785 2447h0M786 2428h0M785 2439h0M785 2416h0M785 2326h0M784 2398h0M786 2345h0M787 2446h0M789 2300h0M790 2451h0M788 2445h0M789 2434h0M788 2424h0M788 2405h0M788 2438h0M789 2427h0M790 2414h0M789 2401h0M787 2387h0M790 2424h0M790 2446h0M789 2403h0M789 2391h0M791 2429h0M793 2439h0M790 2427h0M792 2412h0M791 2437h0M792 2353h0M791 2449h0M791 2448h0M792 2384h0M792 2374h0M792 2434h0M792 2420h0M792 2407h0M794 2429h0M793 2381h0M795 2393h0M795 2381h0M795 2370h0M794 2365h0M795 2420h0M793 2368h0M795 2440h0M796 2397h0M796 2334h0M800 2442h0M797 2434h0M797 2420h0M799 2411h0M799 2393h0M799 2435h0M796 2440h0M799 2428h0M796 2415h0M799 2410h0M797 2397h0M797 2394h0M797 2406h0M798 2394h0M798 2376h0M799 2424h0M801 2423h0M801 2394h0M800 2409h0M799 2375h0M800 2433h0M800 2418h0M801 2380h0M799 2370h0M800 2360h0M800 2432h0M801 2379h0M803 2364h0M803 2378h0M804 2295h0M803 2282h0M801 2328h0M801 2378h0M801 2437h0M803 2425h0M802 2411h0M803 2404h0M803 2438h0M803 2427h0M803 2406h0M803 2406h0M802 2368h0M806 2345h0M804 2335h0M804 2443h0M805 2408h0M805 2422h0M805 2409h0M803 2444h0M806 2434h0M804 2427h0M808 2295h0M807 2366h0M808 2403h0M809 2421h0M808 2408h0M807 2401h0M809 2406h0M807 2400h0M807 2430h0M808 2416h0M813 2424h0M810 2440h0M811 2401h0M811 2387h0M811 2376h0M812 2368h0M812 2269h0M811 2425h0M811 2386h0M813 2426h0M811 2406h0M811 2425h0M814 2430h0M815 2432h0M813 2437h0M814 2350h0M816 2421h0M814 2408h0M814 2388h0M815 2427h0M814 2412h0M814 2403h0M813 2436h0M813 2282h0M818 2374h0M818 2421h0M818 2406h0M819 2369h0M817 2410h0M817 2373h0M818 2400h0M817 2412h0M817 2384h0M816 2288h0M818 2350h0M819 2426h0M821 2332h0M820 2318h0M818 2313h0M820 2299h0M819 2291h0M819 2282h0M819 2263h0M818 2424h0M820 2410h0M819 2262h0M819 2434h0M824 2364h0M825 2248h0M821 2350h0M822 2393h0M823 2379h0M824 2382h0M822 2425h0M824 2414h0M823 2437h0M825 2270h0M828 2375h0M828 2380h0M827 2366h0M828 2354h0M828 2378h0M828 2418h0M827 2385h0M828 2358h0M827 2364h0M828 2423h0M826 2410h0M827 2352h0M827 2336h0M827 2322h0M830 2411h0M830 2401h0M829 2387h0M829 2371h0M829 2408h0M828 2430h0M829 2362h0M831 2397h0M831 2377h0M831 2313h0M834 2340h0M834 2342h0M833 2409h0M833 2430h0M833 2420h0M833 2408h0M832 2399h0M832 2347h0M833 2412h0M833 2434h0M833 2326h0M833 2311h0M832 2297h0M833 2289h0M836 2418h0M836 2406h0M836 2388h0M835 2381h0M837 2395h0M835 2378h0M836 2371h0M834 2426h0M836 2428h0M836 2262h0M834 2414h0M835 2287h0M841 2424h0M838 2401h0M839 2369h0M839 2406h0M839 2394h0M839 2379h0M841 2404h0M841 2413h0M839 2402h0M840 2381h0M841 2375h0M838 2411h0M840 2398h0M839 2382h0M840 2369h0M841 2377h0M843 2344h0M841 2412h0M842 2408h0M842 2396h0M841 2377h0M841 2406h0M841 2401h0M843 2365h0M841 2345h0M842 2332h0M842 2318h0M841 2379h0M840 2420h0M845 2433h0M843 2400h0M844 2348h0M845 2424h0M844 2393h0M843 2403h0M845 2371h0M846 2421h0M843 2326h0M846 2405h0M848 2424h0M848 2399h0M846 2363h0M845 2397h0M847 2399h0M848 2302h0M847 2393h0M848 2426h0M850 2334h0M851 2432h0M851 2424h0M851 2411h0M850 2394h0M850 2418h0M851 2406h0M850 2426h0M850 2412h0M851 2397h0M852 2430h0M851 2376h0M850 2393h0M851 2378h0M850 2365h0M855 2395h0M852 2317h0M853 2307h0M853 2288h0M854 2282h0M854 2344h0M853 2289h0M854 2374h0M854 2420h0M854 2408h0M854 2361h0M854 2383h0M852 2422h0M853 2407h0M855 2384h0M856 2290h0M855 2415h0M855 2299h0M855 2287h0M855 2276h0M856 2258h0M856 2416h0M857 2379h0M856 2366h0M855 2283h0M858 2397h0M858 2326h0M859 2289h0M859 2408h0M861 2406h0M861 2422h0M859 2358h0M859 2407h0M859 2396h0M858 2380h0M859 2372h0M861 2418h0M864 2408h0M864 2403h0M861 2422h0M863 2414h0M864 2418h0M863 2405h0M863 2397h0M863 2387h0M863 2332h0M866 2407h0M865 2390h0M866 2378h0M866 2427h0M865 2387h0M865 2407h0M867 2394h0M865 2375h0M867 2355h0M867 2386h0M866 2386h0M867 2420h0M868 2357h0M871 2352h0M868 2398h0M871 2358h0M869 2346h0M870 2329h0M869 2328h0M870 2291h0M869 2395h0M870 2416h0M869 2402h0M869 2422h0M873 2353h0M872 2338h0M874 2327h0M874 2409h0M874 2386h0M872 2430h0M874 2350h0M873 2331h0M872 2423h0M871 2368h0M876 2408h0M875 2393h0M876 2286h0M875 2266h0M876 2422h0M876 2261h0M876 2422h0M877 2385h0M877 2343h0M878 2332h0M877 2348h0M880 2363h0M879 2350h0M879 2336h0M877 2321h0M879 2390h0M879 2422h0M878 2380h0M879 2406h0M878 2401h0M876 2402h0M879 2397h0M879 2369h0M880 2354h0M880 2339h0M881 2329h0M882 2409h0M881 2393h0M880 2408h0M879 2391h0M879 2302h0M880 2385h0M884 2394h0M882 2400h0M882 2382h0M884 2291h0M881 2393h0M881 2348h0M883 2389h0M883 2396h0M883 2381h0M884 2373h0M883 2356h0M881 2393h0M887 2378h0M884 2338h0M886 2316h0M884 2376h0M888 2343h0M886 2380h0M886 2345h0M886 2331h0M887 2346h0M885 2371h0M890 2335h0M887 2292h0M890 2320h0M889 2248h0M887 2262h0M889 2345h0M890 2322h0M889 2203h0M889 2344h0M889 2306h0M889 2354h0M893 2294h0M893 2326h0M893 2315h0M893 2254h0M892 2329h0M893 2275h0M893 2264h0M893 2251h0M893 2227h0M892 2249h0M891 2276h0M891 2295h0M894 2245h0M892 2295h0M894 2175h0M894 2321h0M893 2307h0M893 2168h0M894 2244h0M894 2305h0M896 2286h0M894 2300h0M894 2197h0M895 2185h0M895 2247h0M894 2235h0M896 2192h0M895 2308h0M896 2103h0M895 2301h0M895 2214h0M894 2202h0M894 2194h0M897 2201h0M897 2132h0M898 2117h0M897 2101h0M899 2095h0M898 2296h0M899 2222h0M897 2139h0M899 2285h0M899 2271h0M897 2220h0M899 2206h0M897 2190h0M899 2216h0M897 2239h0M898 2217h0M897 2226h0M897 2285h0M899 2261h0M902 2229h0M901 2261h0M900 2282h0M901 2226h0M901 2250h0M900 2265h0M901 2237h0M899 2205h0M902 2244h0M899 2120h0M899 2289h0M901 2287h0M900 2272h0M902 2261h0M901 2294h0M901 2285h0M900 2267h0M900 2261h0M903 2258h0M905 2243h0M905 2233h0M905 2286h0M905 2191h0M904 2246h0M904 2236h0M905 2038h0M904 2028h0M906 2280h0M904 2264h0M906 2292h0M903 2210h0M905 2243h0M906 2222h0M905 2272h0M906 2209h0M905 2196h0M905 2182h0M906 2128h0M907 2246h0M906 2278h0M906 2284h0M906 2272h0M906 2260h0M906 2241h0M908 2208h0M907 2198h0M906 2183h0M908 2214h0M906 2200h0M907 2154h0M907 2139h0M907 2264h0M907 2294h0M907 2279h0M906 2265h0M906 2073h0M905 2158h0M906 2238h0M908 2260h0M906 2247h0M908 2236h0M906 2227h0M907 2217h0M907 2197h0M906 2266h0M907 2252h0M906 2237h0M908 2219h0M910 2284h0M909 2273h0M908 2236h0M909 2224h0M910 2205h0M910 2132h0M909 2285h0M908 2226h0M910 2270h0M909 2256h0M910 2239h0M910 2236h0M909 2261h0M909 2202h0M908 2192h0M909 2179h0M910 2283h0M909 2272h0M909 2252h0M909 2251h0M910 2044h0M913 2214h0M915 2273h0M914 2248h0M912 2265h0M912 2138h0M913 2244h0M911 2165h0M912 2195h0M914 2241h0M914 2267h0M913 2289h0M912 2281h0M914 2266h0M911 2283h0M914 2262h0M916 2214h0M915 2236h0M914 2205h0M914 2209h0M917 2281h0M914 2208h0M917 2275h0M915 2260h0M914 2269h0M916 2129h0M916 2218h0M915 2214h0M914 2198h0M915 2190h0M915 2165h0M915 2270h0M916 2259h0M914 2247h0M915 2228h0M917 2267h0M916 2243h0M917 2229h0M918 2236h0M918 2222h0M919 2205h0M917 2201h0M919 2029h0M918 2230h0M916 2093h0M918 2264h0M918 2253h0M918 2240h0M918 2228h0M918 2276h0M918 2260h0M918 2247h0M917 2237h0M919 2235h0M919 2227h0M917 2217h0M918 2201h0M918 2182h0M917 2190h0M916 2200h0M918 2190h0M918 2173h0M917 2156h0M916 2274h0M918 2261h0M918 2253h0M919 2239h0M918 2224h0M917 2218h0M918 2195h0M920 2242h0M921 2207h0M920 2133h0M921 2278h0M921 2188h0M920 2236h0M922 2098h0M919 2253h0M920 2280h0M922 2285h0M920 2235h0M921 2242h0M920 2006h0M921 2244h0M922 2164h0M923 2148h0M924 2136h0M923 2118h0M924 2283h0M923 2268h0M923 2258h0M924 2009h0M925 2283h0M925 2233h0M923 2220h0M923 2222h0M923 2212h0M925 2189h0M924 2203h0M922 2127h0M925 2216h0M922 2248h0M925 2173h0M924 2163h0M924 2150h0M923 2130h0M923 2192h0M926 2220h0M925 2208h0M926 2196h0M925 2162h0M925 2236h0M926 2238h0M926 2172h0M928 2280h0M927 2270h0M925 2252h0M924 2157h0M926 2242h0M925 2229h0M925 2215h0M926 2199h0M927 2279h0M927 2264h0M928 2267h0M925 2155h0M927 2140h0M927 2200h0M928 2198h0M929 2175h0M927 2185h0M929 2174h0M928 2154h0M928 2153h0M927 2273h0M929 2215h0M928 2231h0M930 2278h0M927 2197h0M927 2062h0M928 2200h0M929 2280h0M927 2263h0M927 2226h0M928 2212h0M930 2231h0M928 2217h0M932 2281h0M931 2267h0M931 2253h0M932 2235h0M930 2263h0M931 2247h0M932 2154h0M931 2144h0M932 2124h0M930 2205h0M930 2182h0M933 2259h0M930 2277h0M929 2191h0M932 2164h0M930 2234h0M931 2221h0M931 2211h0M931 2187h0M930 2141h0M931 2126h0M932 2259h0M932 2247h0M931 2234h0M930 2214h0M931 2269h0M931 2255h0M933 2164h0M936 2263h0M934 2251h0M934 2243h0M936 2206h0M935 2267h0M935 2226h0M937 2222h0M935 2125h0M933 2277h0M935 2252h0M933 2126h0M936 2179h0M934 2274h0M936 2178h0M934 2240h0M938 2227h0M938 2216h0M935 2267h0M935 2225h0M938 2240h0M936 2224h0M937 2210h0M938 2203h0M939 2100h0M936 2080h0M938 2069h0M937 2165h0M938 2243h0M937 2254h0M938 2238h0M938 2235h0M937 2207h0M938 2227h0M938 2170h0M937 2162h0M937 2149h0M936 2130h0M937 2125h0M938 2118h0M941 2247h0M940 2267h0M940 2257h0M941 2241h0M939 2230h0M938 2251h0M941 2212h0M941 2272h0M940 2239h0M940 2221h0M941 2270h0M940 2272h0M940 2262h0M939 2242h0M940 2261h0M941 2259h0M941 2194h0M939 2021h0M940 2199h0M944 2163h0M943 2064h0M943 2277h0M943 2253h0M942 2277h0M942 2279h0M945 2148h0M943 2136h0M944 2123h0M943 2269h0M943 2130h0M944 1990h0M942 2174h0M944 2158h0M943 2158h0M942 2147h0M943 2206h0M943 2196h0M942 2224h0M943 2211h0M942 2278h0M944 2273h0M945 2262h0M945 2254h0M945 2119h0M944 1986h0M945 2270h0M944 2193h0M946 2020h0M944 2142h0M947 2277h0M945 2149h0M945 2167h0M946 2277h0M946 2262h0M946 2258h0M945 2238h0M947 2208h0M946 2185h0M946 2191h0M948 2232h0M950 2165h0M950 2219h0M948 2263h0M947 2238h0M950 2202h0M947 2192h0M948 2179h0M948 2271h0M950 2035h0M950 2249h0M949 2091h0M949 2077h0M949 2063h0M949 2049h0M948 2182h0M950 2257h0M950 2270h0M953 1971h0M953 2123h0M950 2117h0M953 2229h0M950 2191h0M950 2168h0M953 2049h0M951 2038h0M951 2263h0M950 2261h0M950 2226h0M951 2264h0M951 2220h0M953 2139h0M953 2114h0M954 2273h0M955 2153h0M955 2235h0M953 2202h0M954 2190h0M954 2181h0M955 2208h0M956 2278h0M954 2186h0M955 2171h0M954 2163h0M953 2268h0M953 2234h0M953 2189h0M954 1977h0M956 2096h0M954 2263h0M954 2249h0M955 2241h0M954 2203h0M957 2050h0M958 2037h0M957 2250h0M956 2253h0M957 2140h0M958 2125h0M957 2280h0M957 2255h0M957 2229h0M957 2268h0M958 2059h0M957 2268h0M957 2254h0M958 2241h0M958 2220h0M959 2194h0M957 2279h0M957 2262h0M957 2280h0M960 2231h0M960 2065h0M961 2207h0M962 2195h0M961 2192h0M960 2185h0M961 2278h0M960 2267h0M962 2259h0M962 2206h0M960 2066h0M962 2268h0M961 2253h0M960 2242h0M960 2027h0M961 2240h0M959 2263h0M965 2218h0M963 2239h0M962 2262h0M963 2231h0M963 2272h0M963 2258h0M964 2245h0M963 2232h0M964 2247h0M962 2117h0M962 2245h0M963 2158h0M962 2058h0M963 2267h0M965 2162h0M962 2237h0M962 2224h0M965 2152h0M965 2180h0M965 2176h0M966 2164h0M967 2280h0M965 2256h0M965 2250h0M967 2245h0M966 2196h0M965 2241h0M966 2272h0M965 2257h0M967 2252h0M966 2228h0M964 2278h0M966 2262h0M966 2249h0M967 2238h0M965 2142h0M965 2204h0M967 2267h0M967 2256h0M968 2245h0M967 2277h0M969 2054h0M968 2053h0M968 2270h0M968 2260h0M967 2236h0M966 2272h0M970 2206h0M969 2119h0M968 2250h0M967 2241h0M967 2267h0M968 2251h0M968 2238h0M969 2225h0M970 2180h0M968 2240h0M972 2207h0M971 2275h0M970 2104h0M970 2093h0M969 2249h0M969 2246h0M970 2235h0M969 2282h0M970 2267h0M972 2259h0M971 2155h0M970 2145h0M971 2249h0M970 2279h0M970 2242h0M970 2222h0M976 2116h0M975 2073h0M974 2242h0M975 2074h0M974 2240h0M974 2271h0M973 2256h0M975 2240h0M974 2269h0M974 2148h0M973 2230h0M974 2217h0M975 2156h0M975 2267h0M975 2242h0M974 2262h0M974 2145h0M978 2276h0M979 2231h0M978 2117h0M976 2121h0M978 2190h0M978 2227h0M977 2212h0M977 2132h0M977 2200h0M976 2276h0M978 2254h0M977 2240h0M979 2212h0M976 2165h0M978 2130h0M978 2117h0M978 2109h0M982 2279h0M981 2212h0M981 2110h0M980 2265h0M980 2163h0M979 2264h0M979 2278h0M981 2211h0M982 2181h0M982 2271h0M982 2203h0M979 2181h0M981 2165h0M980 2276h0M981 2265h0M983 2162h0M985 2189h0M982 2260h0M983 2175h0M984 2145h0M982 2194h0M984 2109h0M982 2272h0M983 2262h0M982 2226h0M983 2094h0M983 2123h0M983 2240h0M985 2221h0M986 2278h0M986 2267h0M985 2235h0M987 2278h0M987 2280h0M984 2180h0M986 2260h0M985 2248h0M986 2267h0M985 1980h0M984 2162h0M985 2149h0M985 2142h0M987 2133h0M987 2260h0M987 2249h0M986 2229h0M985 2223h0M984 2183h0M985 2168h0M985 2151h0M985 2219h0M986 2208h0M985 2186h0M989 2155h0M991 2139h0M990 2225h0M990 2269h0M988 2276h0M989 2202h0M989 2188h0M988 2207h0M990 2196h0M989 2211h0M988 2196h0M989 2190h0M988 2285h0M988 2265h0M991 2268h0M991 2277h0M990 2265h0M991 2274h0M992 2189h0M993 2284h0M994 2189h0M992 2286h0M993 2281h0M994 2250h0M992 2239h0M992 2213h0M993 2203h0M993 2188h0M993 2287h0M993 2003h0M991 2281h0M992 2271h0M994 2232h0M992 2249h0M993 2277h0M993 2265h0M994 2263h0M996 2230h0M993 2253h0M995 2183h0M996 2258h0M994 2275h0M995 2261h0M994 2249h0M995 2141h0M996 1978h0M996 2269h0M995 2269h0M995 2227h0M995 2224h0M994 2208h0M994 2185h0M994 2134h0M997 2260h0M998 2249h0M999 2232h0M997 2265h0M1000 2254h0M1000 2235h0M999 2161h0M998 2277h0M998 2106h0M999 2259h0M1000 2174h0M998 2233h0M997 2200h0M1000 2288h0M1000 2263h0M1002 2275h0M1001 2258h0M1003 2192h0M1002 2271h0M1004 2275h0M1002 2256h0M1004 2256h0M1002 2278h0M1003 2268h0M1002 2248h0M1002 2239h0M1003 2099h0M1002 2210h0M1004 2102h0M1002 2091h0M1002 2078h0M1001 2257h0M1004 2106h0M1002 2092h0M1007 2286h0M1006 2017h0M1004 2257h0M1005 2140h0M1007 2218h0M1004 2255h0M1005 2249h0M1006 2154h0M1006 2139h0M1007 2121h0M1007 2270h0M1006 2207h0M1007 2231h0M1007 2193h0M1006 2180h0M1007 2169h0M1005 2160h0M1006 2246h0M1005 2256h0M1009 2130h0M1011 2279h0M1011 2124h0M1011 2281h0M1008 2181h0M1009 2139h0M1009 2124h0M1010 2282h0M1009 2272h0M1009 2256h0M1009 2230h0M1008 2224h0M1010 2202h0M1008 2269h0M1010 2251h0M1011 2252h0M1009 2238h0M1008 2138h0M1012 2275h0M1013 2263h0M1013 2251h0M1013 2232h0M1011 2223h0M1015 2259h0M1012 2217h0M1015 2247h0M1013 2072h0M1012 2181h0M1012 2207h0M1015 2245h0M1013 2260h0M1013 2244h0M1012 2143h0M1014 2227h0M1013 2236h0M1013 2163h0M1016 2282h0M1017 2245h0M1017 2283h0M1014 2288h0M1013 2278h0M1015 2245h0M1015 2247h0M1015 2237h0M1016 2277h0M1015 2282h0M1017 2255h0M1016 2275h0M1014 2268h0M1017 2283h0M1016 2221h0M1016 2188h0M1018 2276h0M1016 2257h0M1018 2233h0M1017 2178h0M1017 2118h0M1018 2206h0M1016 2272h0M1017 2257h0M1018 2252h0M1017 2224h0M1018 2232h0M1019 2253h0M1017 2250h0M1018 2241h0M1018 2219h0M1017 2207h0M1016 2142h0M1021 2271h0M1021 1998h0M1021 2184h0M1019 2226h0M1019 2238h0M1018 2246h0M1022 2168h0M1020 2283h0M1021 2274h0M1019 2121h0M1021 2201h0M1019 2244h0M1021 2270h0M1022 2211h0M1020 2200h0M1021 2183h0M1021 2174h0M1020 2250h0M1021 2138h0M1022 2255h0M1024 2273h0M1022 2249h0M1023 2251h0M1024 2196h0M1025 2196h0M1023 2265h0M1022 2271h0M1025 2285h0M1023 2274h0M1023 2259h0M1022 2267h0M1024 2286h0M1022 2223h0M1028 2215h0M1027 2167h0M1027 2053h0M1027 2245h0M1026 2234h0M1025 2259h0M1025 2253h0M1026 2233h0M1026 2220h0M1027 2208h0M1026 2283h0M1026 2243h0M1026 2230h0M1025 2258h0M1027 2247h0M1027 2251h0M1027 2163h0M1028 2281h0M1025 2286h0M1030 2261h0M1029 2165h0M1030 2221h0M1029 2208h0M1029 2193h0M1030 2180h0M1028 2256h0M1031 2134h0M1028 2124h0M1028 2107h0M1028 2230h0M1031 2155h0M1028 2253h0M1030 2174h0M1029 2082h0M1031 2260h0M1031 2267h0M1029 2275h0M1031 2209h0M1032 2233h0M1032 2077h0M1033 2063h0M1033 2258h0M1032 2259h0M1032 2252h0M1033 2278h0M1031 2275h0M1032 2260h0M1031 2117h0M1031 2224h0M1032 2230h0M1032 2260h0M1033 2249h0M1032 2231h0M1032 2214h0M1031 2102h0M1032 2039h0M1032 2269h0M1037 2198h0M1035 2188h0M1036 2167h0M1034 2130h0M1036 2117h0M1035 2097h0M1035 2092h0M1035 2268h0M1035 2286h0M1037 2268h0M1034 2251h0M1034 2220h0M1035 2263h0M1035 2242h0M1037 2142h0M1036 2053h0M1034 2235h0M1033 2081h0M1036 2276h0M1037 2263h0M1039 2092h0M1038 2264h0M1037 2252h0M1037 2235h0M1036 2228h0M1038 2213h0M1036 2231h0M1037 2142h0M1037 2259h0M1038 2165h0M1037 2151h0M1039 2269h0M1037 2288h0M1036 2207h0M1036 2231h0M1036 2253h0M1041 2242h0M1041 2230h0M1042 2211h0M1041 2195h0M1040 2208h0M1039 2279h0M1042 2275h0M1041 2259h0M1041 2246h0M1041 2238h0M1042 2285h0M1041 2243h0M1041 2233h0M1041 2220h0M1041 2197h0M1042 1988h0M1041 2185h0M1042 2172h0M1041 2157h0M1042 2275h0M1040 2225h0M1042 2209h0M1041 2196h0M1041 2185h0M1041 2176h0M1041 2221h0M1040 2209h0M1041 2194h0M1040 2146h0M1041 2283h0M1045 2269h0M1045 2158h0M1044 2212h0M1044 2247h0M1043 2158h0M1043 2248h0M1044 2227h0M1044 2216h0M1043 2198h0M1044 2194h0M1045 2236h0M1043 2252h0M1044 2050h0M1042 2259h0M1042 2096h0M1044 2080h0M1042 2072h0M1042 2041h0M1043 2030h0M1044 2021h0M1044 2001h0M1044 2141h0M1046 2265h0M1046 2252h0M1046 2234h0M1046 2223h0M1046 2208h0M1045 2065h0M1046 2053h0M1046 2041h0M1047 2237h0M1046 2238h0M1045 2230h0M1047 2218h0M1047 2204h0M1046 2191h0M1047 2178h0M1047 2262h0M1046 2055h0M1046 2039h0M1047 2136h0M1045 2123h0M1047 2104h0M1047 2246h0M1046 2270h0M1046 2192h0M1045 2268h0M1049 2217h0M1049 2261h0M1049 2161h0M1049 2284h0M1049 2273h0M1049 2260h0M1051 2273h0M1050 2176h0M1051 2253h0M1050 2090h0M1050 2080h0M1049 2064h0M1049 2128h0M1051 2261h0M1050 2249h0M1048 2135h0M1050 2235h0M1050 2221h0M1050 2129h0M1049 2225h0M1050 2214h0M1048 2201h0M1049 2180h0M1054 2283h0M1053 2271h0M1053 2263h0M1053 2195h0M1052 2149h0M1052 2234h0M1054 2189h0M1053 2176h0M1053 2166h0M1054 2204h0M1053 2190h0M1052 2249h0M1053 2279h0M1052 2264h0M1052 2257h0M1054 2275h0M1051 2200h0M1053 2271h0M1054 2268h0M1053 2252h0M1053 2215h0M1053 2202h0M1054 2194h0M1053 2171h0M1056 2257h0M1055 2288h0M1054 2266h0M1054 2147h0M1056 2135h0M1055 2122h0M1055 2113h0M1056 2285h0M1055 2148h0M1055 2002h0M1054 2278h0M1056 2268h0M1056 2253h0M1056 2241h0M1056 1988h0M1056 2115h0M1054 2238h0M1054 2040h0M1058 2224h0M1059 2211h0M1058 2197h0M1059 2181h0M1057 2089h0M1058 2254h0M1058 2227h0M1059 2191h0M1057 2242h0M1058 2245h0M1058 2237h0M1059 2128h0M1060 2181h0M1057 2211h0M1058 2171h0M1057 2187h0M1060 2251h0M1059 2237h0M1063 2129h0M1063 2116h0M1062 2103h0M1062 2089h0M1061 2276h0M1062 2284h0M1063 2236h0M1063 2051h0M1061 2281h0M1062 2279h0M1061 2269h0M1061 2233h0M1062 2127h0M1063 2074h0M1061 2244h0M1062 2203h0M1061 2189h0M1061 2177h0M1062 2252h0M1067 2211h0M1066 2277h0M1065 2007h0M1067 2228h0M1065 2213h0M1065 2209h0M1066 2288h0M1066 2087h0M1064 2233h0M1067 2260h0M1067 2261h0M1067 2200h0M1066 2278h0M1067 2264h0M1065 2252h0M1064 2285h0M1068 2218h0M1069 2202h0M1068 2240h0M1068 2073h0M1069 2131h0M1069 2258h0M1070 2280h0M1067 2013h0M1067 2198h0M1068 2240h0M1069 2288h0M1067 2246h0M1067 2031h0M1070 2267h0M1069 2252h0M1068 2240h0M1069 2236h0M1067 2279h0M1073 2216h0M1071 2266h0M1072 2254h0M1072 2245h0M1073 2234h0M1072 2222h0M1074 2168h0M1072 2291h0M1072 2279h0M1073 2264h0M1073 2232h0M1071 2192h0M1072 2260h0M1073 2289h0M1073 2261h0M1071 2251h0M1072 2134h0M1071 2173h0M1075 2203h0M1076 2191h0M1076 2176h0M1076 2294h0M1076 2255h0M1077 2287h0M1074 2254h0M1077 2205h0M1075 2189h0M1074 2211h0M1077 2294h0M1077 2211h0M1075 2197h0M1074 2267h0M1077 2258h0M1077 2266h0M1079 2252h0M1077 2284h0M1077 2295h0M1079 2070h0M1077 2169h0M1078 2159h0M1079 2140h0M1078 2130h0M1077 2264h0M1079 2017h0M1076 2106h0M1077 2291h0M1078 2296h0M1078 2215h0M1078 2168h0M1080 2217h0M1079 2202h0M1081 2241h0M1082 2155h0M1082 2252h0M1082 2107h0M1081 2296h0M1080 2192h0M1082 2297h0M1082 2284h0M1082 2275h0M1083 2297h0M1082 2283h0M1082 2275h0M1082 2279h0M1083 2279h0M1081 2172h0M1081 2286h0M1081 2173h0M1085 2176h0M1086 2286h0M1084 2276h0M1085 2259h0M1085 2258h0M1084 2246h0M1084 2181h0M1086 2290h0M1084 2193h0M1085 2173h0M1086 2292h0M1085 2299h0M1085 2302h0M1086 2120h0M1085 2304h0M1085 2293h0M1087 2210h0M1087 2197h0M1088 2204h0M1087 2245h0M1088 2233h0M1088 2249h0M1088 2233h0M1087 2223h0M1088 2298h0M1086 2282h0M1087 2270h0M1086 2270h0M1086 2135h0M1089 2270h0M1088 2276h0M1087 2302h0M1090 2189h0M1092 2280h0M1090 2157h0M1091 2213h0M1090 2287h0M1091 2304h0M1091 2294h0M1091 2276h0M1092 2271h0M1092 2237h0M1090 2257h0M1089 2099h0M1092 2279h0M1093 2246h0M1090 2227h0M1093 2286h0M1094 2268h0M1094 2163h0M1093 2294h0M1095 2254h0M1094 2268h0M1093 2255h0M1094 2131h0M1095 2248h0M1094 2238h0M1095 2228h0M1095 2218h0M1094 2286h0M1095 2270h0M1094 2193h0M1094 2203h0M1094 2226h0M1097 2170h0M1097 2309h0M1099 2285h0M1097 2219h0M1098 2240h0M1097 2225h0M1098 2241h0M1097 2302h0M1097 2228h0M1097 2298h0M1100 2312h0M1098 2207h0M1098 2295h0M1101 2313h0M1101 2216h0M1101 2206h0M1101 2185h0M1101 2186h0M1101 2307h0M1100 2297h0M1100 2280h0M1099 2311h0M1100 2270h0M1102 2141h0M1102 2313h0M1102 2262h0M1100 2294h0M1102 2313h0M1101 2209h0M1102 2195h0M1101 2190h0M1100 2192h0M1100 2180h0M1101 2162h0M1104 2252h0M1102 2236h0M1103 2219h0M1102 2204h0M1101 2287h0M1104 2314h0M1104 2299h0M1103 2283h0M1104 2267h0M1102 2283h0M1104 2294h0M1105 2291h0M1102 2169h0M1104 2153h0M1102 2139h0M1103 2137h0M1103 2306h0M1104 2274h0M1104 2262h0M1102 2245h0M1102 2224h0M1104 2290h0M1104 2117h0M1104 2232h0M1107 2269h0M1105 2254h0M1106 2244h0M1106 2308h0M1105 2240h0M1106 2305h0M1106 2259h0M1107 2248h0M1106 2238h0M1107 2219h0M1104 2100h0M1105 2083h0M1106 2213h0M1107 2285h0M1105 2301h0M1107 2254h0M1110 2293h0M1107 2290h0M1110 2260h0M1108 2211h0M1110 2321h0M1108 2306h0M1108 2296h0M1108 2287h0M1107 2319h0M1110 2174h0M1109 2162h0M1109 2148h0M1107 2132h0M1108 2317h0M1110 2208h0M1108 2193h0M1110 2286h0M1107 2058h0M1109 2298h0M1111 2236h0M1111 2320h0M1111 2310h0M1110 2290h0M1110 2283h0M1109 2297h0M1111 2246h0M1111 2145h0M1111 2321h0M1111 2311h0M1110 2301h0M1111 2290h0M1111 2269h0M1109 2167h0M1111 2173h0M1109 2113h0M1111 2103h0M1110 2311h0M1110 2315h0M1113 2264h0M1112 2297h0M1112 2280h0M1115 2214h0M1113 2255h0M1114 2300h0M1114 2284h0M1114 2272h0M1113 2266h0M1114 2323h0M1115 2139h0M1113 2238h0M1113 2316h0M1114 2304h0M1114 2290h0M1114 2274h0M1114 2216h0M1112 2185h0M1113 2170h0M1114 2153h0M1113 2155h0M1116 2314h0M1116 2174h0M1116 2299h0M1117 2277h0M1117 2313h0M1118 2323h0M1117 2312h0M1117 2223h0M1117 2322h0M1118 2298h0M1117 2287h0M1118 2272h0M1116 2262h0M1117 2256h0M1118 2298h0M1117 2282h0M1117 2276h0M1117 2307h0M1119 2312h0M1118 2331h0M1119 2316h0M1119 2153h0M1119 2263h0M1121 2319h0M1120 2264h0M1120 2240h0M1121 2238h0M1119 2321h0M1120 2152h0M1118 2319h0M1120 2332h0M1121 2330h0M1121 2318h0M1123 2277h0M1122 2310h0M1120 2259h0M1121 2249h0M1122 2317h0M1122 2189h0M1123 2323h0M1123 2301h0M1122 2250h0M1123 2314h0M1121 2302h0M1121 2271h0M1124 2290h0M1124 2277h0M1123 2266h0M1123 2258h0M1122 2258h0M1124 2244h0M1123 2144h0M1122 2277h0M1123 2268h0M1125 2239h0M1122 2317h0M1125 2321h0M1125 2188h0M1123 2241h0M1125 2284h0M1124 2267h0M1123 2256h0M1123 2238h0M1126 2306h0M1125 2281h0M1125 2305h0M1124 2237h0M1127 2324h0M1126 2311h0M1125 2325h0M1126 2256h0M1125 2313h0M1126 2296h0M1126 2328h0M1126 2315h0M1129 2295h0M1128 2257h0M1129 2261h0M1128 2170h0M1130 2189h0M1129 2176h0M1130 2327h0M1127 2320h0M1129 2137h0M1129 2127h0M1129 2111h0M1128 2315h0M1127 2232h0M1132 2284h0M1132 2218h0M1131 2246h0M1130 2313h0M1130 2277h0M1132 2264h0M1132 2289h0M1133 2324h0M1132 2314h0M1131 2293h0M1130 2284h0M1131 2300h0M1130 2185h0M1131 2311h0M1132 2199h0M1136 2296h0M1133 2319h0M1134 2238h0M1136 2309h0M1135 2295h0M1135 2280h0M1134 2264h0M1133 2323h0M1135 2203h0M1134 2189h0M1134 2181h0M1134 2170h0M1135 2316h0M1136 2164h0M1134 2219h0M1133 2311h0M1135 2296h0M1135 2282h0M1136 2263h0M1135 2251h0M1135 2243h0M1136 2244h0M1137 2233h0M1136 2221h0M1136 2199h0M1136 2171h0M1135 2156h0M1137 2259h0M1137 2227h0M1135 2312h0M1135 2149h0M1137 2235h0M1137 2285h0M1136 2322h0M1139 2233h0M1138 2326h0M1139 2314h0M1140 2301h0M1138 2290h0M1139 2275h0M1139 2259h0M1139 2247h0M1141 2293h0M1138 2155h0M1138 2282h0M1138 2301h0M1139 2287h0M1138 2198h0M1141 2238h0M1140 2301h0M1141 2293h0M1142 2316h0M1141 2323h0M1142 2308h0M1140 2268h0M1142 2258h0M1142 2239h0M1141 2233h0M1140 2293h0M1141 2283h0M1140 2307h0M1142 2314h0M1143 2262h0M1143 2316h0M1144 2304h0M1143 2294h0M1143 2302h0M1145 2301h0M1142 2325h0M1144 2311h0M1142 2301h0M1144 2288h0M1144 2270h0M1144 2263h0M1144 2222h0M1144 2207h0M1142 2279h0M1148 2289h0M1147 2199h0M1148 2186h0M1148 2173h0M1146 2305h0M1146 2314h0M1147 2289h0M1146 2297h0M1146 2241h0M1146 2189h0M1146 2289h0M1148 2320h0M1150 2248h0M1148 2305h0M1148 2296h0M1149 2316h0M1150 2301h0M1151 2277h0M1151 2285h0M1150 2270h0M1151 2201h0M1149 2287h0M1151 2225h0M1151 2297h0M1153 2263h0M1153 2198h0M1153 2186h0M1152 2175h0M1152 2297h0M1152 2283h0M1152 2273h0M1153 2260h0M1152 2177h0M1153 2218h0M1154 2299h0M1155 2291h0M1156 2198h0M1156 2185h0M1156 2167h0M1157 2307h0M1154 2212h0M1156 2200h0M1157 2188h0M1155 2168h0M1157 2305h0M1155 2258h0M1154 2320h0M1155 2257h0M1157 2311h0M1158 2308h0M1157 2209h0M1159 2305h0M1159 2288h0M1159 2277h0M1158 2320h0M1157 2286h0M1158 2293h0M1158 2301h0M1160 2256h0M1162 2318h0M1161 2314h0M1162 2305h0M1161 2311h0M1162 2215h0M1162 2288h0M1164 2256h0M1165 2317h0M1165 2344h0M1165 2290h0M1164 2277h0M1164 2300h0M1165 2337h0M1165 2302h0M1168 2375h0M1167 2343h0M1168 2325h0M1170 2290h0M1170 2365h0M1168 2352h0M1171 2363h0M1173 2390h0M1171 2374h0M1172 2365h0M1172 2356h0M1171 2386h0M1170 2371h0M1172 2378h0M1173 2404h0M1172 2392h0M1171 2381h0M1172 2393h0M1174 2377h0M1173 2362h0M1173 2351h0M1173 2344h0M1173 2378h0M1175 2403h0M1176 2395h0M1176 2415h0M1178 2400h0M1178 2387h0M1176 2374h0M1177 2336h0M1176 2341h0M1176 2390h0M1178 2321h0M1182 2366h0M1182 2410h0M1182 2398h0M1181 2387h0M1181 2371h0M1181 2409h0M1181 2419h0M1180 2424h0M1182 2413h0M1182 2401h0M1182 2356h0M1184 2420h0M1184 2431h0M1184 2424h0M1182 2375h0M1184 2344h0M1185 2348h0M1187 2418h0M1186 2405h0M1187 2396h0M1186 2381h0M1187 2398h0M1185 2397h0M1187 2430h0M1186 2425h0M1186 2418h0M1187 2408h0M1186 2396h0M1188 2415h0M1188 2358h0M1190 2401h0M1190 2438h0M1189 2312h0M1188 2417h0M1190 2434h0M1189 2422h0M1192 2429h0M1194 2419h0M1192 2404h0M1192 2390h0M1192 2382h0M1192 2398h0M1192 2432h0M1192 2426h0M1192 2400h0M1197 2368h0M1194 2397h0M1195 2432h0M1196 2354h0M1197 2448h0M1195 2435h0M1196 2420h0M1195 2414h0M1196 2437h0M1195 2421h0M1199 2408h0M1199 2382h0M1197 2382h0M1199 2441h0M1197 2439h0M1199 2364h0M1201 2438h0M1200 2427h0M1201 2431h0M1200 2418h0M1201 2411h0M1201 2389h0M1201 2433h0M1203 2423h0M1200 2378h0M1202 2424h0M1204 2382h0M1204 2427h0M1204 2412h0M1204 2398h0M1205 2382h0M1203 2400h0M1202 2422h0M1203 2408h0M1204 2403h0M1204 2416h0M1204 2342h0M1206 2326h0M1206 2313h0M1204 2324h0M1205 2309h0M1205 2365h0M1204 2369h0M1206 2398h0M1208 2400h0M1208 2401h0M1208 2394h0M1208 2372h0M1209 2387h0M1208 2364h0M1209 2384h0M1209 2411h0M1210 2371h0M1210 2396h0M1212 2382h0M1212 2366h0M1213 2392h0M1211 2383h0M1213 2395h0M1211 2308h0M1210 2343h0M1212 2398h0M1216 2373h0M1215 2342h0M1215 2365h0M1214 2382h0M1216 2370h0M1215 2362h0M1216 2277h0M1220 2340h0M1218 2346h0M1219 2358h0M1218 2346h0M1218 2336h0M1219 2374h0M1218 2345h0M1219 2258h0M1218 2300h0M1218 2339h0M1217 2339h0M1219 2315h0M1219 2303h0M1218 2289h0M1219 2344h0M1220 2327h0M1220 2316h0M1220 2295h0M1221 2327h0M1220 2313h0M1221 2307h0M1222 2297h0M1220 2220h0M1222 2297h0M1221 2208h0M1222 2189h0M1222 2319h0M1221 2284h0M1220 2271h0M1221 2257h0M1221 2249h0M1225 2287h0M1225 2305h0M1225 2314h0M1223 2339h0M1223 2243h0M1225 2340h0M1223 2277h0M1223 2310h0M1225 2299h0M1224 2282h0M1227 2355h0M1228 2341h0M1227 2359h0M1228 2332h0M1227 2320h0M1228 2303h0M1226 2324h0M1227 2336h0M1229 2323h0M1226 2299h0M1227 2352h0M1227 2270h0M1231 2339h0M1231 2250h0M1229 2352h0M1230 2340h0M1229 2166h0M1231 2242h0M1229 2233h0M1231 2261h0M1231 2237h0M1230 2320h0M1232 2327h0M1232 2242h0M1232 2266h0M1234 2201h0M1234 2275h0M1235 2253h0M1234 2343h0M1232 2362h0M1235 2300h0M1233 2286h0M1233 2255h0M1237 2293h0M1237 2282h0M1238 2267h0M1236 2246h0M1238 2259h0M1238 2320h0M1235 2357h0M1237 2275h0M1236 2274h0M1238 2238h0M1238 2312h0M1237 2299h0M1236 2282h0M1237 2281h0M1235 2276h0M1238 2334h0M1240 2337h0M1241 2325h0M1241 2317h0M1240 2359h0M1242 2343h0M1241 2345h0M1241 2221h0M1240 2345h0M1239 2344h0M1239 2238h0M1240 2224h0M1239 2215h0M1240 2191h0M1241 2326h0M1245 2341h0M1243 2326h0M1243 2321h0M1244 2310h0M1242 2304h0M1243 2342h0M1242 2320h0M1243 2307h0M1244 2297h0M1244 2285h0M1243 2297h0M1244 2314h0M1242 2264h0M1242 2320h0M1244 2265h0M1244 2239h0M1245 2347h0M1247 2318h0M1246 2356h0M1245 2308h0M1245 2244h0M1247 2234h0M1246 2219h0M1247 2338h0M1245 2293h0M1247 2197h0M1247 2312h0M1247 2202h0M1248 2336h0M1247 2327h0M1249 2310h0M1247 2305h0M1247 2324h0M1248 2309h0M1248 2300h0M1249 2286h0M1247 2321h0M1246 2278h0M1248 2268h0M1247 2255h0M1248 2244h0M1248 2323h0M1247 2315h0M1247 2282h0M1248 2175h0M1251 2343h0M1250 2351h0M1249 2258h0M1250 2245h0M1251 2351h0M1252 2212h0M1251 2339h0M1251 2148h0M1252 2188h0M1251 2353h0M1254 2326h0M1253 2328h0M1254 2316h0M1253 2305h0M1254 2293h0M1254 2262h0M1253 2238h0M1254 2246h0M1252 2343h0M1254 2345h0M1253 2352h0M1253 2286h0M1255 2331h0M1255 2319h0M1256 2270h0M1255 2257h0M1256 2237h0M1257 2226h0M1254 2304h0M1256 2321h0M1255 2303h0M1257 2287h0M1257 2311h0M1256 2241h0M1256 2320h0M1257 2335h0M1257 2347h0M1260 2316h0M1259 2332h0M1259 2188h0M1258 2344h0M1258 2230h0M1260 2283h0M1258 2271h0M1259 2252h0M1258 2235h0M1259 2324h0M1260 2336h0M1259 2330h0M1259 2311h0M1262 2221h0M1259 2322h0M1259 2337h0M1261 2248h0M1260 2327h0M1260 2315h0M1262 2297h0M1261 2290h0M1260 2256h0M1261 2244h0M1261 2245h0M1261 2233h0M1261 2217h0M1261 2199h0M1263 2318h0M1262 2306h0M1263 2297h0M1263 2289h0M1263 2265h0M1262 2329h0M1264 2333h0M1263 2322h0M1263 2301h0M1264 2283h0M1262 2315h0M1263 2303h0M1263 2284h0M1263 2317h0M1265 2276h0M1264 2326h0M1262 2274h0M1266 2330h0M1266 2318h0M1266 2305h0M1267 2151h0M1266 2141h0M1267 2344h0M1265 2329h0M1266 2313h0M1266 2238h0M1266 2271h0M1267 2306h0M1264 2317h0M1267 2245h0M1265 2335h0M1265 2262h0M1269 2269h0M1267 2295h0M1268 2314h0M1270 2335h0M1267 2270h0M1267 2325h0M1268 2311h0M1268 2299h0M1269 2339h0M1268 2325h0M1267 2266h0M1266 2305h0M1268 2294h0M1268 2276h0M1268 2268h0M1271 2334h0M1271 2284h0M1272 2265h0M1272 2345h0M1271 2331h0M1271 2318h0M1271 2330h0M1270 2330h0M1272 2320h0M1271 2308h0M1271 2299h0M1272 2333h0M1271 2323h0M1270 2310h0M1271 2290h0M1271 2315h0M1270 2302h0M1270 2291h0M1272 2273h0M1275 2347h0M1275 2331h0M1273 2317h0M1274 2311h0M1274 2294h0M1275 2351h0M1275 2333h0M1276 2358h0M1274 2320h0M1276 2210h0M1275 2279h0M1276 2205h0M1278 2364h0M1279 2356h0M1277 2362h0M1276 2348h0M1277 2338h0M1278 2308h0M1277 2315h0M1277 2361h0M1278 2348h0M1276 2340h0M1276 2326h0M1275 2367h0M1276 2356h0M1281 2191h0M1278 2346h0M1279 2335h0M1280 2318h0M1279 2304h0M1281 2182h0M1280 2291h0M1279 2300h0M1280 2340h0M1280 2198h0M1278 2237h0M1279 2227h0M1280 2217h0M1280 2201h0M1278 2229h0M1283 2379h0M1281 2338h0M1282 2328h0M1283 2317h0M1284 2331h0M1282 2341h0M1284 2360h0M1282 2337h0M1281 2386h0M1283 2354h0M1285 2376h0M1286 2366h0M1284 2367h0M1284 2365h0M1286 2344h0M1285 2371h0M1285 2360h0M1287 2348h0M1285 2335h0M1286 2382h0M1284 2325h0M1287 2311h0M1285 2296h0M1285 2294h0M1285 2357h0M1286 2344h0M1287 2334h0M1285 2310h0M1287 2311h0M1289 2380h0M1288 2369h0M1288 2359h0M1289 2348h0M1287 2363h0M1286 2402h0M1287 2339h0M1288 2371h0M1291 2341h0M1291 2328h0M1290 2321h0M1291 2312h0M1290 2295h0M1289 2391h0M1289 2362h0M1291 2347h0M1292 2386h0M1291 2296h0M1290 2377h0M1291 2342h0M1292 2414h0M1294 2407h0M1293 2397h0M1294 2348h0M1291 2403h0M1292 2390h0M1293 2383h0M1293 2400h0M1292 2375h0M1298 2363h0M1298 2398h0M1294 2394h0M1295 2415h0M1296 2323h0M1297 2313h0M1296 2292h0M1297 2291h0M1297 2339h0M1295 2365h0M1297 2405h0M1301 2348h0M1299 2408h0M1301 2395h0M1301 2376h0M1301 2361h0M1299 2379h0M1300 2393h0M1301 2376h0M1300 2365h0M1299 2354h0M1300 2390h0M1301 2369h0M1302 2414h0M1303 2400h0M1302 2359h0M1301 2417h0M1303 2414h0M1304 2421h0M1304 2413h0M1303 2272h0M1307 2411h0M1306 2396h0M1305 2383h0M1304 2378h0M1305 2348h0M1306 2334h0M1304 2321h0M1305 2308h0M1305 2403h0M1305 2396h0M1305 2392h0M1304 2381h0M1306 2347h0M1306 2333h0M1309 2399h0M1308 2389h0M1309 2397h0M1309 2399h0M1309 2428h0M1307 2347h0M1307 2382h0M1308 2394h0M1310 2396h0M1310 2414h0M1310 2372h0M1310 2357h0M1311 2347h0M1310 2331h0M1310 2317h0M1309 2413h0M1309 2397h0M1310 2392h0M1311 2383h0M1311 2359h0M1311 2349h0M1310 2361h0M1310 2350h0M1309 2328h0M1310 2320h0M1312 2316h0M1314 2306h0M1313 2296h0M1312 2400h0M1313 2389h0M1312 2371h0M1314 2357h0M1313 2400h0M1311 2375h0M1313 2332h0M1313 2415h0M1316 2356h0M1315 2368h0M1317 2429h0M1317 2357h0M1317 2341h0M1317 2336h0M1315 2330h0M1317 2424h0M1316 2416h0M1320 2432h0M1318 2420h0M1318 2425h0M1319 2341h0M1318 2411h0M1320 2430h0M1319 2418h0M1319 2411h0M1318 2401h0M1318 2406h0M1324 2392h0M1324 2407h0M1322 2431h0M1323 2416h0M1323 2410h0M1323 2435h0M1324 2352h0M1323 2337h0M1324 2328h0M1324 2376h0M1321 2391h0M1325 2337h0M1327 2327h0M1328 2416h0M1326 2394h0M1327 2438h0M1328 2427h0M1328 2397h0M1327 2401h0M1328 2428h0M1330 2417h0M1329 2377h0M1330 2423h0M1330 2414h0M1329 2393h0M1330 2433h0M1328 2441h0M1331 2399h0M1330 2442h0M1333 2429h0M1332 2413h0M1333 2407h0M1333 2395h0M1332 2305h0M1331 2412h0M1333 2402h0M1332 2387h0M1332 2379h0M1333 2410h0M1335 2369h0M1335 2395h0M1336 2381h0M1335 2374h0M1335 2443h0M1334 2387h0M1334 2442h0M1337 2426h0M1336 2413h0M1337 2414h0M1338 2442h0M1337 2376h0M1338 2442h0M1338 2430h0M1339 2422h0M1339 2393h0M1338 2434h0M1340 2435h0M1342 2404h0M1340 2389h0M1340 2416h0M1340 2370h0M1339 2422h0M1340 2410h0M1340 2396h0M1340 2376h0M1341 2430h0M1342 2345h0M1344 2378h0M1344 2424h0M1342 2426h0M1342 2340h0M1345 2445h0M1344 2447h0M1347 2411h0M1345 2386h0M1348 2449h0M1346 2431h0M1347 2407h0M1347 2444h0M1347 2431h0M1345 2414h0M1345 2406h0M1348 2431h0M1349 2415h0M1349 2401h0M1348 2383h0M1348 2385h0M1349 2448h0M1349 2441h0M1349 2369h0M1348 2357h0M1347 2410h0M1348 2394h0M1348 2384h0M1349 2433h0M1350 2420h0M1352 2442h0M1350 2400h0M1351 2402h0M1351 2389h0M1350 2375h0M1350 2415h0M1352 2374h0M1353 2314h0M1352 2422h0M1353 2430h0M1352 2374h0M1353 2422h0M1355 2353h0M1353 2336h0M1352 2324h0M1357 2435h0M1357 2348h0M1358 2390h0M1355 2413h0M1355 2373h0M1355 2393h0M1357 2371h0M1361 2315h0M1359 2384h0M1358 2417h0M1361 2389h0M1359 2432h0M1358 2413h0M1359 2426h0M1361 2408h0M1360 2397h0M1359 2385h0M1360 2361h0M1361 2419h0M1361 2408h0M1362 2391h0M1361 2388h0M1361 2399h0M1363 2329h0M1364 2394h0M1363 2399h0M1360 2422h0M1362 2411h0M1362 2391h0M1364 2356h0M1361 2416h0M1366 2281h0M1366 2267h0M1365 2259h0M1364 2324h0M1365 2317h0M1365 2375h0M1365 2364h0M1364 2412h0M1365 2337h0M1364 2326h0M1367 2403h0M1365 2421h0M1370 2394h0M1368 2380h0M1368 2366h0M1370 2411h0M1367 2404h0M1369 2400h0M1370 2376h0M1367 2340h0M1370 2391h0M1367 2381h0M1367 2330h0M1371 2397h0M1372 2388h0M1371 2311h0M1370 2312h0M1370 2299h0M1372 2389h0M1372 2399h0M1371 2385h0M1369 2370h0M1370 2358h0M1371 2340h0M1371 2329h0M1369 2381h0M1374 2375h0M1374 2328h0M1374 2318h0M1374 2305h0M1373 2401h0M1374 2387h0M1375 2244h0M1374 2386h0M1376 2393h0M1375 2388h0M1375 2378h0M1373 2357h0M1374 2342h0M1374 2359h0M1374 2370h0M1376 2311h0M1377 2297h0M1377 2368h0M1376 2306h0M1377 2376h0M1377 2321h0M1376 2370h0M1376 2266h0M1376 2379h0M1375 2376h0M1378 2353h0M1381 2360h0M1379 2381h0M1379 2367h0M1381 2358h0M1380 2340h0M1379 2381h0M1381 2366h0M1380 2349h0M1380 2340h0M1381 2275h0M1381 2387h0M1381 2328h0M1380 2313h0M1380 2297h0M1382 2389h0M1380 2346h0M1380 2347h0M1380 2367h0M1381 2363h0M1382 2349h0M1383 2333h0M1383 2325h0M1382 2393h0M1382 2328h0M1382 2313h0M1384 2376h0M1383 2371h0M1384 2332h0M1382 2382h0M1384 2354h0M1381 2364h0M1381 2384h0M1385 2373h0M1386 2336h0M1386 2210h0M1383 2335h0M1384 2394h0M1385 2392h0M1386 2392h0M1384 2339h0M1384 2366h0M1386 2364h0M1386 2353h0M1386 2342h0M1389 2319h0M1387 2317h0M1387 2336h0M1388 2322h0M1388 2310h0M1390 2358h0M1390 2375h0M1387 2328h0M1390 2317h0M1387 2325h0M1389 2313h0M1389 2296h0M1387 2354h0M1389 2333h0M1389 2246h0M1388 2232h0M1388 2222h0M1393 2363h0M1393 2287h0M1392 2272h0M1392 2268h0M1391 2251h0M1391 2372h0M1391 2391h0M1392 2289h0M1391 2284h0M1391 2239h0M1391 2376h0M1390 2390h0M1395 2232h0M1394 2219h0M1397 2358h0M1396 2380h0M1393 2337h0M1394 2384h0M1393 2363h0M1395 2385h0M1395 2369h0M1395 2363h0M1394 2350h0M1394 2376h0M1396 2302h0M1397 2373h0M1398 2381h0M1398 2365h0M1398 2296h0M1398 2381h0M1397 2259h0M1397 2386h0M1398 2366h0M1397 2384h0M1397 2374h0M1397 2365h0M1397 2341h0M1399 2379h0M1401 2334h0M1400 2318h0M1400 2307h0M1401 2291h0M1402 2353h0M1401 2332h0M1401 2315h0M1402 2306h0M1401 2283h0M1403 2365h0M1402 2350h0M1400 2376h0M1401 2279h0M1402 2265h0M1401 2253h0M1402 2234h0M1401 2380h0M1406 2298h0M1404 2341h0M1406 2317h0M1405 2386h0M1405 2381h0M1405 2368h0M1404 2354h0M1405 2340h0M1405 2361h0M1406 2309h0M1403 2365h0M1405 2240h0M1409 2372h0M1407 2340h0M1408 2383h0M1408 2369h0M1407 2357h0M1408 2294h0M1407 2325h0M1407 2338h0M1408 2342h0M1408 2370h0M1407 2370h0M1409 2345h0M1412 2343h0M1411 2368h0M1411 2274h0M1409 2259h0M1409 2230h0M1410 2328h0M1410 2313h0M1412 2344h0M1410 2379h0M1411 2381h0M1410 2380h0M1412 2371h0M1412 2363h0M1412 2361h0M1414 2347h0M1414 2334h0M1412 2321h0M1412 2304h0M1411 2364h0M1414 2350h0M1411 2368h0M1412 2382h0M1411 2370h0M1412 2354h0M1412 2340h0M1412 2327h0M1415 2294h0M1415 2365h0M1415 2365h0M1415 2381h0M1417 2365h0M1415 2363h0M1417 2377h0M1414 2382h0M1416 2369h0M1414 2355h0M1414 2365h0M1417 2287h0M1419 2271h0M1418 2258h0M1417 2322h0M1417 2308h0M1416 2372h0M1417 2338h0M1419 2263h0M1418 2249h0M1418 2243h0M1419 2228h0M1418 2304h0M1418 2293h0M1417 2272h0M1418 2349h0M1418 2370h0M1420 2312h0M1419 2379h0M1421 2365h0M1419 2327h0M1419 2371h0M1421 2361h0M1421 2351h0M1422 2237h0M1421 2251h0M1421 2370h0M1419 2346h0M1420 2330h0M1420 2321h0M1421 2256h0M1422 2340h0M1424 2340h0M1423 2315h0M1424 2302h0M1424 2290h0M1423 2268h0M1424 2246h0M1423 2234h0M1424 2218h0M1422 2358h0M1422 2380h0M1424 2367h0M1425 2380h0M1423 2318h0M1426 2302h0M1426 2370h0M1427 2329h0M1427 2301h0M1427 2289h0M1427 2273h0M1426 2256h0M1426 2207h0M1427 2358h0M1426 2365h0M1426 2344h0M1429 2303h0M1431 2346h0M1430 2335h0M1431 2317h0M1429 2307h0M1428 2327h0M1430 2372h0M1430 2306h0M1428 2267h0M1430 2371h0M1431 2368h0M1432 2362h0M1431 2379h0M1433 2365h0M1432 2380h0M1432 2331h0M1431 2352h0M1432 2291h0M1432 2378h0M1433 2361h0M1436 2363h0M1434 2234h0M1436 2370h0M1434 2352h0M1434 2369h0M1435 2354h0M1436 2339h0M1434 2328h0M1436 2332h0M1436 2351h0M1434 2380h0M1434 2365h0M1438 2332h0M1438 2316h0M1438 2311h0M1437 2304h0M1438 2279h0M1438 2265h0M1437 2253h0M1437 2238h0M1436 2375h0M1438 2217h0M1436 2204h0M1437 2351h0M1437 2336h0M1437 2323h0M1436 2324h0M1438 2380h0M1438 2336h0M1439 2231h0M1439 2288h0M1440 2325h0M1438 2365h0M1438 2320h0M1438 2376h0M1440 2371h0M1439 2300h0M1440 2352h0M1443 2308h0M1441 2371h0M1442 2359h0M1441 2348h0M1442 2307h0M1442 2297h0M1441 2276h0M1442 2354h0M1442 2342h0M1441 2321h0M1440 2273h0M1442 2259h0M1442 2244h0M1442 2235h0M1443 2379h0M1442 2367h0M1441 2289h0M1442 2319h0M1444 2361h0M1443 2371h0M1444 2371h0M1444 2358h0M1444 2342h0M1444 2330h0M1445 2377h0M1445 2358h0M1444 2359h0M1443 2346h0M1444 2342h0M1446 2362h0M1448 2341h0M1449 2325h0M1448 2360h0M1447 2370h0M1448 2367h0M1447 2376h0M1448 2365h0M1448 2239h0M1449 2273h0M1453 2300h0M1451 2289h0M1451 2284h0M1452 2277h0M1449 2360h0M1450 2315h0M1451 2352h0M1451 2352h0M1450 2236h0M1451 2221h0M1453 2279h0M1450 2267h0M1450 2259h0M1450 2242h0M1453 2358h0M1452 2330h0M1452 2365h0M1454 2351h0M1452 2246h0M1454 2368h0M1453 2355h0M1454 2342h0M1453 2319h0M1454 2352h0M1454 2374h0M1453 2361h0M1452 2292h0M1455 2338h0M1455 2326h0M1455 2310h0M1455 2302h0M1455 2366h0M1455 2307h0M1456 2376h0M1455 2366h0M1457 2357h0M1456 2345h0M1455 2326h0M1455 2373h0M1455 2358h0M1457 2215h0M1458 2205h0M1458 2360h0M1458 2303h0M1459 2376h0M1459 2374h0M1459 2363h0M1459 2374h0M1459 2368h0M1460 2368h0M1458 2365h0M1461 2359h0M1461 2348h0M1461 2331h0M1460 2328h0M1462 2308h0M1460 2294h0M1460 2277h0M1459 2346h0M1461 2335h0M1461 2317h0M1460 2311h0M1462 2353h0M1461 2358h0M1461 2315h0M1461 2349h0M1459 2311h0M1461 2295h0M1462 2313h0M1462 2254h0M1464 2241h0M1463 2223h0M1463 2213h0M1462 2302h0M1463 2327h0M1463 2312h0M1463 2298h0M1463 2286h0M1462 2358h0M1462 2369h0M1464 2345h0M1467 2373h0M1465 2322h0M1468 2294h0M1467 2284h0M1466 2269h0M1467 2256h0M1467 2337h0M1467 2337h0M1468 2265h0M1467 2337h0M1468 2271h0M1468 2256h0M1466 2249h0M1467 2240h0M1465 2377h0M1470 2348h0M1471 2266h0M1470 2342h0M1470 2368h0M1469 2354h0M1468 2346h0M1469 2325h0M1470 2224h0M1468 2362h0M1470 2348h0M1468 2277h0M1469 2263h0M1470 2248h0M1469 2244h0M1470 2228h0M1473 2344h0M1472 2331h0M1471 2322h0M1473 2305h0M1473 2373h0M1473 2363h0M1473 2369h0M1471 2359h0M1473 2340h0M1472 2323h0M1473 2335h0M1471 2372h0M1472 2368h0M1473 2353h0M1473 2361h0M1475 2352h0M1475 2336h0M1474 2299h0M1474 2288h0M1476 2268h0M1474 2362h0M1474 2349h0M1474 2342h0M1474 2325h0M1476 2367h0M1474 2359h0M1476 2374h0M1477 2341h0M1475 2326h0M1475 2313h0M1475 2293h0M1473 2343h0M1475 2309h0M1479 2354h0M1479 2339h0M1479 2327h0M1479 2306h0M1477 2375h0M1477 2293h0M1478 2270h0M1478 2259h0M1478 2250h0M1478 2366h0M1479 2330h0M1479 2319h0M1478 2307h0M1478 2326h0M1477 2375h0M1477 2324h0M1481 2370h0M1480 2373h0M1481 2357h0M1481 2357h0M1483 2355h0M1480 2248h0M1481 2367h0M1482 2358h0M1482 2348h0M1481 2333h0M1481 2358h0M1482 2343h0M1483 2357h0M1482 2352h0M1485 2357h0M1485 2315h0M1485 2315h0M1485 2374h0M1485 2366h0M1483 2362h0M1485 2358h0M1486 2317h0M1485 2242h0M1485 2318h0M1487 2299h0M1485 2364h0M1486 2306h0M1485 2372h0M1485 2361h0M1486 2340h0M1486 2330h0M1487 2314h0M1487 2312h0M1488 2302h0M1488 2286h0M1490 2354h0M1489 2202h0M1488 2362h0M1489 2351h0M1490 2341h0M1488 2314h0M1489 2302h0M1489 2292h0M1488 2280h0M1489 2361h0M1488 2347h0M1489 2369h0M1491 2310h0M1491 2313h0M1493 2262h0M1493 2268h0M1491 2347h0M1493 2333h0M1492 2320h0M1492 2341h0M1491 2310h0M1493 2341h0M1497 2319h0M1494 2281h0M1495 2331h0M1497 2366h0M1495 2302h0M1495 2264h0M1496 2250h0M1495 2232h0M1494 2338h0M1495 2312h0M1499 2354h0M1497 2330h0M1500 2316h0M1500 2309h0M1499 2289h0M1500 2360h0M1500 2351h0M1500 2359h0M1499 2345h0M1498 2328h0M1499 2324h0M1499 2313h0M1500 2296h0M1499 2291h0M1498 2344h0M1500 2369h0M1502 2368h0M1503 2363h0M1501 2225h0M1503 2283h0M1501 2273h0M1502 2251h0M1502 2243h0M1500 2358h0M1501 2346h0M1501 2317h0M1502 2271h0M1501 2289h0M1505 2276h0M1504 2260h0M1504 2253h0M1503 2319h0M1504 2362h0M1506 2287h0M1505 2325h0M1506 2341h0M1505 2306h0M1505 2365h0M1504 2352h0M1509 2363h0M1507 2354h0M1507 2344h0M1507 2354h0M1506 2308h0M1507 2362h0M1507 2346h0M1508 2374h0M1507 2364h0M1511 2244h0M1512 2374h0M1511 2308h0M1513 2359h0M1512 2216h0M1512 2327h0M1511 2372h0M1515 2371h0M1515 2361h0M1515 2347h0M1515 2342h0M1516 2326h0M1516 2366h0M1515 2356h0M1514 2321h0M1515 2355h0M1516 2356h0M1514 2368h0M1515 2356h0M1515 2347h0M1517 2357h0M1518 2332h0M1519 2322h0M1518 2336h0M1518 2303h0M1518 2325h0M1517 2315h0M1517 2346h0M1518 2332h0M1519 2326h0M1520 2348h0M1521 2219h0M1521 2264h0M1520 2326h0M1521 2330h0M1519 2316h0M1520 2310h0M1522 2363h0M1520 2320h0M1519 2364h0M1524 2303h0M1521 2311h0M1522 2299h0M1522 2286h0M1522 2278h0M1522 2374h0M1521 2371h0M1521 2318h0M1522 2335h0M1522 2263h0M1522 2247h0M1523 2241h0M1522 2224h0M1526 2339h0M1524 2375h0M1525 2300h0M1526 2291h0M1526 2375h0M1525 2370h0M1530 2363h0M1529 2353h0M1530 2344h0M1529 2316h0M1529 2365h0M1529 2371h0M1529 2324h0M1531 2369h0M1534 2339h0M1533 2328h0M1534 2323h0M1534 2371h0M1537 2347h0M1536 2383h0M1535 2395h0M1539 2424h0M1538 2408h0M1539 2394h0M1538 2379h0M1540 2423h0M1539 2407h0M1538 2403h0M1538 2387h0M1543 2420h0M1541 2408h0M1541 2443h0M1539 2451h0M1544 2396h0M1544 2467h0M1546 2461h0M1545 2452h0M1544 2433h0M1544 2416h0M1545 2466h0M1546 2456h0M1546 2445h0M1547 2428h0M1545 2460h0M1547 2448h0M1546 2435h0M1547 2413h0M1545 2449h0M1551 2435h0M1550 2487h0M1549 2460h0M1553 2449h0M1555 2494h0M1554 2480h0M1554 2466h0M1557 2497h0M1555 2487h0M1557 2480h0M1561 2482h0M1561 2493h0M1564 2487h0M1562 2501h0M1568 2501h0M1567 2498h0M1566 2482h0M1567 2471h0M1566 2458h0M1565 2498h0M1567 2491h0M1569 2460h0M1571 2504h0M1570 2497h0M1574 2482h0M1575 2485h0M1574 2483h0M1578 2488h0M1578 2502h0M1577 2506h0M1577 2491h0M1578 2481h0M1582 2505h0M1581 2505h0M1580 2494h0M1581 2492h0M1584 2503h0M1582 2452h0M1586 2503h0M1586 2490h0M1586 2474h0M1587 2457h0M1587 2499h0M1588 2505h0M1590 2500h0M1589 2504h0M1591 2491h0M1590 2474h0M1589 2502h0M1592 2488h0M1593 2482h0M1593 2469h0M1592 2462h0M1591 2508h0M1594 2505h0M1596 2506h0M1594 2507h0M1597 2501h0M1596 2493h0M1601 2498h0M1600 2483h0M1599 2467h0M1599 2494h0M1606 2509h0M1605 2474h0M1602 2503h0M1609 2501h0M1608 2496h0M1608 2486h0M1612 2508h0M1612 2499h0M1614 2508h0M1612 2485h0M1618 2506h0M1617 2504h0M1618 2506h0M1620 2504h0M1619 2489h0M1622 2491h0M1621 2494h0M1625 2499h0M1624 2481h0M1624 2465h0M1628 2500h0M1628 2482h0M1627 2466h0M1627 2499h0M1629 2495h0M1631 2479h0M1631 2465h0M1631 2491h0M1631 2478h0M1631 2466h0M1631 2492h0M1633 2495h0M1633 2480h0M1634 2499h0M1635 2482h0M1634 2489h0M1635 2477h0M1636 2465h0M1639 2464h0M1637 2451h0M1637 2437h0M1639 2476h0M1638 2464h0M1640 2476h0M1639 2484h0M1641 2474h0M1640 2464h0M1640 2450h0M1640 2434h0M1643 2476h0M1645 2431h0M1645 2469h0M1648 2463h0M1646 2451h0M1647 2432h0M1646 2471h0M1648 2459h0M1651 2432h0M1649 2469h0M1649 2458h0M1649 2442h0M1649 2424h0M1650 2472h0M1649 2459h0M1650 2443h0M1650 2455h0M1652 2444h0M1652 2432h0M1651 2460h0M1650 2467h0M1655 2427h0M1657 2421h0M1655 2446h0M1661 2454h0M1658 2446h0M1660 2465h0M1663 2460h0M1663 2469h0M1663 2468h0M1665 2469h0M1665 2454h0M1666 2441h0M1665 2433h0M1667 2467h0M1664 2470h0M1670 2452h0M1669 2464h0M1669 2452h0M1667 2424h0M1669 2412h0M1672 2469h0M1672 2453h0M1673 2423h0M1675 2462h0M1676 2457h0M1674 2456h0M1680 2456h0M1681 2451h0M1678 2441h0M1678 2431h0M1680 2468h0M1681 2455h0M1682 2467h0M1680 2433h0M1684 2464h0M1685 2408h0M1685 2465h0M1687 2457h0M1688 2417h0M1692 2464h0M1691 2454h0M1692 2469h0M1691 2458h0M1691 2446h0M1696 2474h0M1695 2465h0M1695 2459h0M1697 2464h0M1697 2449h0M1696 2436h0M1696 2436h0M1697 2420h0M1697 2410h0M1696 2476h0M1699 2479h0M1699 2476h0M1704 2474h0M1702 2448h0M1704 2434h0M1703 2479h0M1704 2468h0M1703 2449h0M1704 2473h0M1705 2484h0M1708 2491h0M1708 2484h0M1709 2470h0M1707 2485h0M1707 2477h0M1709 2466h0M1711 2443h0M1713 2521h0M1713 2525h0M1712 2510h0M1712 2495h0M1712 2482h0M1711 2491h0M1712 2514h0M1716 2548h0M1715 2537h0M1714 2518h0M1713 2532h0M1716 2543h0M1714 2544h0M1716 2546h0M1715 2530h0M250 1669h0M252 1670h0M254 1670h0M256 1671h0M257 1672h0M259 1673h0M260 1675h0M262 1676h0M263 1677h0M264 1679h0M266 1681h0M267 1682h0M268 1684h0M269 1686h0M270 1687h0M271 1689h0M271 1691h0M272 1693h0M273 1695h0M274 1696h0M274 1698h0M275 1700h0M276 1702h0M276 1704h0M277 1706h0M278 1708h0M282 1719h0M285 1732h0M289 1749h0M297 1820h0M250 1943h0M251 1944h0M252 1944h0M254 1944h0M255 1944h0M256 1944h0M257 1944h0M258 1944h0M260 1944h0M261 1944h0M262 1944h0M263 1944h0M264 1944h0M265 1944h0M267 1944h0M268 1944h0M269 1944h0M270 1944h0M271 1944h0M273 1944h0M274 1944h0M275 1944h0M276 1944h0M277 1944h0M279 1944h0M280 1944h0M281 1944h0M282 1944h0M283 1944h0M284 1944h0M286 1944h0M287 1944h0M288 1944h0M289 1944h0M290 1944h0M292 1944h0M293 1944h0M294 1944h0M295 1944h0M296 1944h0M305 1939h0M310 1948h0M314 1949h0M317 1950h0M321 1951h0M325 1952h0M293 1956h0M297 1957h0M302 1958h0M306 1959h0M309 1962h0M312 1965h0M315 1968h0M319 1971h0M322 1973h0M260 2090h0M260 2080h0M261 2069h0M262 2059h0M263 2049h0M264 2038h0M265 2028h0M267 2017h0M268 2007h0M270 1997h0M274 1987h0M277 1977h0M282 1968h0M355 1887h0M382 1876h0M385 1887h0M388 1899h0M345 1956h0M368 1972h0M374 1978h0M382 1982h0M444 1984h0M445 2028h0M443 2077h0M335 2022h0M312 2016h0M329 2056h0M354 2002h0M366 2029h0M941 1982h0M944 1948h0M947 1907h0M954 1900h0M954 1859h0M991 1941h0M929 1941h0M933 1975h0M970 2009h0M1074 2029h0M1045 2022h0M1267 1873h0M1268 1934h0M1264 1968h0M1231 1999h0M1239 2083h0M1235 2117h0M1234 2145h0M1268 2117h0M1273 2145h0M1260 2050h0M1260 2090h0M1393 2212h0M1401 2206h0M1467 2212h0M1500 2240h0M594 2117h0M515 2111h0M445 2063h0M482 2145h0M548 2199h0M598 2233h0M685 2294h0M722 2280h0M838 2273h0M834 2294h0M250 2185h0M250 2273h0M250 2329h0M250 2389h0M250 2454h0M250 2522h0M301 2534h0M259 2376h0M297 2413h0M264 2158h0M301 2126h0M273 2354h0M270 2284h0M275 2400h0M300 2073h0M289 2524h0M293 2341h0M311 2198h0M303 2208h0M286 2104h0M303 2425h0M265 2383h0M286 2527h0M276 2275h0M259 2147h0M293 2413h0M273 2392h0M275 2183h0M284 2300h0M265 2095h0M275 2406h0M260 2060h0M283 2096h0M308 2066h0M302 2089h0M308 2155h0M264 2302h0M289 2053h0M300 2207h0M298 2387h0M309 2238h0M279 2333h0M311 2297h0M266 2500h0M295 2281h0M307 2481h0M279 2194h0M259 2526h0M287 2438h0M263 2440h0M292 2300h0M261 2540h0M304 2238h0M266 2123h0M258 2384h0M304 2203h0M272 2107h0M290 2121h0M306 2354h0M294 2291h0M309 2156h0M297 2148h0M312 2443h0M268 2184h0M299 2307h0M284 2365h0M352 2084h0M337 2412h0M350 2230h0M317 2300h0M342 2427h0M314 2298h0M352 2105h0M356 2194h0M336 2190h0M334 2194h0M349 2015h0M328 2156h0M323 2298h0M333 2175h0M335 2005h0M316 2153h0M357 2110h0M336 2270h0M328 2023h0M352 2139h0M353 2028h0M350 2263h0M331 2084h0M326 2104h0M332 2283h0M331 2379h0M326 2249h0M309 2355h0M321 2057h0M337 2305h0M358 2318h0M333 2108h0M342 2241h0M347 2219h0M344 2216h0M356 2118h0M312 2373h0M356 2330h0M309 2320h0M332 2016h0M328 2115h0M349 2391h0M338 1997h0M335 2197h0M325 2019h0M356 2385h0M335 2247h0M341 2378h0M321 2309h0M332 2085h0M351 2088h0M342 2392h0M327 2139h0M323 2209h0M353 2379h0M350 2384h0M327 2036h0M318 2203h0M329 2044h0M357 2304h0M332 2041h0M335 2336h0M346 2283h0M332 2426h0M357 2144h0M354 2009h0M321 2195h0M330 2100h0M350 2330h0M322 2123h0M328 2373h0M318 2186h0M338 2013h0M334 2165h0M315 2250h0M322 2128h0M321 2336h0M326 2225h0M325 2166h0M317 2047h0M342 2197h0M311 2288h0M342 2149h0M348 2042h0M324 2215h0M324 2374h0M315 2318h0M312 2196h0M343 2185h0M342 2331h0" fill="none" stroke="#f00" stroke-width="8.6" stroke-linecap="round"/>
<path d="M296 2592L296 2592L300 2532L304 2528L308 2523L312 2518L316 2517L320 2516L324 2514L328 2507L332 2501L336 2493L340 2485L344 2478L348 2470L352 2462L356 2455L360 2452L364 2446L368 2439L372 2437L376 2430L380 2430L384 2427L388 2421L392 2418L396 2415L400 2415L404 2424L408 2441L412 2450L416 2461L420 2465L424 2469L428 2469L432 2474L436 2479L440 2483L444 2485L448 2487L452 2485L456 2485L460 2488L464 2491L468 2491L472 2489L476 2489L480 2490L484 2487L488 2485L492 2486L496 2486L500 2487L504 2486L508 2487L512 2488L516 2485L520 2487L524 2483L528 2487L532 2488L536 2494L540 2495L544 2499L548 2503L552 2498L556 2499L560 2495L564 2495L568 2491L572 2491L576 2491L580 2491L584 2491L588 2497L592 2502L596 2506L600 2511L604 2516L608 2513L612 2508L616 2506L620 2504L624 2503L628 2499L632 2492L636 2487L640 2478L644 2471L648 2468L652 2460L656 2467L660 2467L664 2472L668 2477L672 2483L676 2490L680 2490L684 2481L688 2470L692 2458L696 2469L700 2481L704 2495L708 2511L712 2512L716 2494L720 2478L724 2480L728 2487L732 2490L736 2491L740 2495L744 2503L748 2506L752 2512L756 2516L760 2520L764 2526L768 2533L772 2535L776 2526L780 2517L784 2510L788 2503L792 2496L796 2492L800 2486L804 2475L808 2476L812 2484L816 2493L820 2498L824 2489L828 2471L832 2455L836 2458L840 2465L844 2464L848 2466L852 2467L856 2475L860 2479L864 2485L868 2489L872 2489L876 2486L880 2478L884 2472L888 2467L892 2421L896 2371L900 2356L904 2351L908 2352L912 2359L916 2357L920 2355L924 2342L928 2340L932 2336L936 2330L940 2316L944 2315L948 2329L952 2341L956 2352L960 2361L964 2355L968 2351L972 2358L976 2358L980 2362L984 2358L988 2361L992 2365L996 2365L1000 2368L1004 2367L1008 2364L1012 2356L1016 2355L1020 2357L1024 2352L1028 2351L1032 2351L1036 2347L1040 2342L1044 2328L1048 2314L1052 2297L1056 2299L1060 2313L1064 2334L1068 2347L1072 2355L1076 2355L1080 2353L1084 2362L1088 2371L1092 2373L1096 2388L1100 2413L1104 2442L1108 2448L1112 2423L1116 2399L1120 2382L1124 2406L1128 2422L1132 2414L1136 2399L1140 2386L1144 2379L1148 2385L1152 2390L1156 2388L1160 2381L1164 2417L1168 2447L1172 2458L1176 2469L1180 2473L1184 2484L1188 2488L1192 2495L1196 2501L1200 2497L1204 2483L1208 2472L1212 2458L1216 2440L1220 2429L1224 2421L1228 2409L1232 2399L1236 2398L1240 2391L1244 2380L1248 2368L1252 2368L1256 2365L1260 2362L1264 2361L1268 2347L1272 2367L1276 2388L1280 2410L1284 2427L1288 2439L1292 2451L1296 2471L1300 2490L1304 2497L1308 2501L1312 2507L1316 2508L1320 2513L1324 2518L1328 2522L1332 2526L1336 2529L1340 2533L1344 2536L1348 2537L1352 2532L1356 2529L1360 2526L1364 2520L1368 2517L1372 2514L1376 2510L1380 2504L1384 2499L1388 2497L1392 2494L1396 2491L1400 2483L1404 2477L1408 2470L1412 2461L1416 2446L1420 2434L1424 2452L1428 2467L1432 2485L1436 2490L1440 2485L1444 2478L1448 2472L1452 2471L1456 2470L1460 2470L1464 2467L1468 2466L1472 2469L1476 2471L1480 2473L1484 2474L1488 2472L1492 2467L1496 2469L1500 2468L1504 2467L1508 2460L1512 2458L1516 2457L1520 2455L1524 2450L1528 2463L1532 2474L1536 2486L1540 2505L1544 2526L1548 2534L1552 2542L1556 2550L1560 2557L1564 2562L1568 2560L1572 2558L1576 2556L1580 2555L1584 2554L1588 2553L1592 2555L1596 2553L1600 2554L1604 2554L1608 2554L1612 2556L1616 2554L1620 2552L1624 2549L1628 2545L1632 2542L1636 2537L1640 2530L1644 2524L1648 2523L1652 2526L1656 2529L1660 2531L1664 2531L1668 2527L1672 2526L1676 2520L1680 2517L1684 2514L1688 2513L1692 2512L1696 2508L1700 2507L1704 2503L1708 2503L1712 2515L1716 2524L1720 2568L1723 2592L1723 2592Z" fill="#00f" stroke="#00f" stroke-width="6" stroke-linejoin="round"/>
<path d="M298 2566V2554M306 2534V2516M310 2531V2506M312 2529V2516M315 2527V2514M324 2520V2482M327 2517V2480M332 2509V2490M337 2502V2475M339 2498V2479M355 2468V2423M359 2465V2427M366 2458V2405M369 2455V2429M373 2452V2395M377 2447V2415M381 2444V2416M384 2441V2414M387 2440V2399M391 2439V2414M395 2438V2406M399 2437V2364M403 2437V2368M406 2447V2422M409 2457V2418M412 2465V2426M416 2475V2451M418 2477V2424M421 2479V2410M427 2484V2429M430 2486V2457M435 2490V2451M438 2493V2472M442 2495V2441M445 2496V2470M447 2496V2471M456 2498V2407M463 2499V2463M467 2500V2459M471 2500V2409M475 2500V2477M478 2500V2431M483 2500V2423M488 2500V2482M491 2500V2468M495 2500V2468M498 2500V2462M503 2499V2428M515 2496V2470M518 2496V2458M521 2495V2478M524 2495V2442M526 2497V2470M531 2499V2467M533 2501V2477M537 2503V2473M541 2505V2489M545 2508V2481M553 2508V2474M557 2507V2470M564 2505V2483M569 2503V2456M573 2502V2473M577 2501V2454M580 2500V2479M583 2501V2462M587 2505V2469M590 2508V2491M592 2511V2489M597 2515V2496M601 2519V2488M604 2523V2492M607 2523V2496M610 2521V2476M614 2518V2483M617 2515V2488M620 2513V2480M623 2511V2474M628 2507V2477M634 2501V2465M638 2495V2468M647 2481V2443M652 2475V2398M657 2480V2435M661 2483V2459M672 2492V2450M676 2496V2473M681 2496V2455M688 2480V2462M693 2471V2427M698 2487V2450M703 2502V2428M707 2516V2482M710 2525V2499M714 2512V2476M718 2497V2452M723 2488V2460M727 2492V2445M732 2497V2459M735 2501V2466M743 2510V2417M747 2514V2496M751 2518V2494M758 2527V2509M762 2531V2486M765 2535V2522M769 2540V2523M773 2540V2521M777 2533V2515M784 2521V2500M787 2516V2494M790 2511V2446M794 2505V2471M798 2500V2472M802 2493V2470M806 2487V2443M809 2490V2450M813 2496V2469M817 2503V2462M821 2509V2491M824 2499V2468M829 2483V2443M832 2472V2425M840 2476V2426M843 2478V2439M847 2480V2439M850 2482V2448M854 2484V2461M861 2491V2443M865 2494V2474M868 2497V2472M873 2497V2460M877 2491V2471M885 2480V2447M893 2430V2404M897 2383V2298M900 2378V2318M904 2380V2298M909 2382V2328M913 2382V2318M916 2378V2348M920 2372V2250M924 2368V2253M927 2363V2250M931 2357V2276M936 2351V2213M939 2346V2265M943 2345V2214M948 2354V2309M952 2361V2309M956 2367V2263M960 2375V2275M964 2379V2307M968 2379V2292M972 2380V2322M975 2380V2321M979 2381V2330M984 2381V2266M986 2382V2284M990 2382V2253M993 2383V2271M996 2383V2291M999 2383V2327M1003 2383V2310M1007 2383V2292M1010 2383V2262M1014 2383V2306M1019 2383V2264M1023 2383V2325M1026 2383V2267M1030 2383V2238M1033 2383V2345M1036 2383V2238M1040 2373V2295M1045 2361V2241M1048 2351V2256M1052 2342V2209M1055 2334V2267M1058 2345V2230M1062 2356V2264M1066 2372V2292M1071 2384V2284M1074 2385V2340M1078 2387V2266M1083 2388V2305M1088 2390V2331M1090 2391V2338M1094 2393V2356M1096 2404V2340M1099 2422V2354M1103 2445V2401M1107 2468V2420M1111 2451V2358M1120 2405V2347M1127 2443V2386M1130 2440V2416M1138 2419V2362M1143 2409V2337M1147 2405V2365M1154 2405V2321M1159 2405V2328M1166 2447V2386M1170 2471V2443M1173 2476V2439M1176 2480V2448M1179 2486V2446M1182 2490V2471M1186 2495V2446M1190 2502V2460M1193 2507V2481M1197 2513V2484M1201 2505V2474M1205 2493V2471M1210 2478V2431M1212 2470V2438M1216 2459V2428M1220 2448V2407M1225 2440V2375M1229 2433V2389M1233 2425V2351M1237 2418V2336M1241 2411V2340M1245 2405V2366M1249 2398V2312M1253 2393V2342M1255 2388V2318M1260 2381V2325M1263 2376V2317M1266 2372V2329M1272 2386V2298M1276 2402V2302M1281 2423V2384M1285 2440V2359M1289 2454V2410M1297 2484V2448M1300 2497V2460M1303 2503V2469M1308 2508V2483M1312 2512V2460M1315 2515V2485M1319 2518V2496M1322 2521V2498M1325 2525V2503M1330 2529V2510M1332 2532V2512M1335 2535V2520M1343 2542V2520M1346 2545V2506M1351 2541V2519M1353 2539V2518M1358 2534V2517M1362 2530V2517M1366 2527V2513M1369 2524V2509M1371 2521V2493M1375 2517V2480M1380 2513V2473M1384 2509V2488M1387 2506V2486M1392 2502V2477M1400 2496V2467M1404 2488V2447M1407 2481V2447M1410 2474V2446M1414 2466V2421M1418 2455V2400M1421 2455V2433M1425 2468V2445M1428 2479V2380M1432 2491V2456M1435 2498V2458M1440 2493V2451M1443 2489V2461M1450 2480V2430M1455 2480V2448M1458 2480V2457M1463 2480V2445M1467 2480V2436M1472 2480V2441M1476 2480V2452M1483 2480V2462M1486 2480V2363M1493 2479V2431M1498 2477V2449M1503 2475V2421M1507 2474V2432M1512 2472V2421M1516 2470V2442M1521 2468V2432M1526 2471V2439M1531 2485V2466M1535 2497V2463M1539 2511V2459M1543 2530V2511M1550 2545V2527M1564 2566V2550M1576 2560V2546M1579 2558V2544M1583 2557V2525M1585 2556V2533M1590 2557V2545M1594 2557V2546M1597 2557V2541M1602 2558V2538M1619 2555V2541M1621 2554V2543M1626 2552V2539M1633 2548V2537M1637 2542V2520M1642 2536V2512M1645 2532V2515M1649 2532V2510M1652 2533V2510M1659 2537V2502M1662 2539V2518M1666 2535V2513M1673 2530V2513M1681 2524V2502M1685 2521V2502M1689 2520V2484M1693 2518V2500M1698 2516V2496M1702 2514V2495M1706 2513V2483M1711 2519V2440M1714 2527V2506M1718 2540V2523M319 2496h0M319 2485h0M336 2455h0M336 2434h0M337 2414h0M352 2447h0M412 2402h0M413 2377h0M471 2385h0M475 2462h0M506 2468h0M505 2441h0M506 2422h0M514 2449h0M514 2424h0M515 2402h0M620 2455h0M619 2430h0M620 2418h0M662 2433h0M660 2408h0M662 2387h0M682 2437h0M682 2424h0M703 2401h0M724 2435h0M723 2417h0M755 2494h0M796 2447h0M799 2427h0M798 2401h0M806 2427h0M830 2421h0M828 2404h0M858 2463h0M857 2453h0M857 2432h0M898 2282h0M898 2262h0M898 2251h0M900 2296h0M899 2274h0M900 2249h0M899 2224h0M910 2312h0M910 2299h0M909 2279h0M908 2264h0M910 2250h0M914 2299h0M914 2281h0M912 2260h0M921 2229h0M921 2218h0M922 2231h0M923 2214h0M922 2202h0M924 2182h0M928 2239h0M928 2216h0M926 2204h0M926 2183h0M931 2260h0M934 2197h0M935 2186h0M937 2176h0M935 2157h0M935 2140h0M938 2250h0M940 2232h0M943 2193h0M943 2169h0M948 2285h0M946 2271h0M947 2245h0M948 2231h0M951 2295h0M951 2274h0M951 2256h0M951 2236h0M953 2215h0M960 2253h0M960 2229h0M959 2208h0M962 2198h0M962 2181h0M966 2289h0M963 2277h0M963 2263h0M964 2239h0M972 2303h0M972 2293h0M976 2306h0M976 2292h0M975 2274h0M974 2259h0M975 2236h0M983 2241h0M991 2236h0M992 2251h0M993 2241h0M992 2215h0M994 2204h0M999 2311h0M999 2288h0M999 2273h0M998 2261h0M999 2241h0M1008 2280h0M1006 2259h0M1006 2246h0M1007 2221h0M1016 2290h0M1013 2266h0M1014 2243h0M1016 2232h0M1014 2208h0M1020 2244h0M1024 2313h0M1024 2302h0M1022 2279h0M1031 2192h0M1029 2174h0M1028 2160h0M1031 2132h0M1035 2198h0M1040 2272h0M1041 2251h0M1044 2215h0M1045 2189h0M1051 2190h0M1051 2169h0M1058 2219h0M1059 2209h0M1058 2197h0M1059 2181h0M1063 2244h0M1072 2320h0M1075 2310h0M1073 2292h0M1072 2271h0M1078 2249h0M1079 2228h0M1077 2212h0M1077 2188h0M1078 2165h0M1082 2278h0M1083 2256h0M1092 2327h0M1090 2314h0M1091 2293h0M1090 2279h0M1091 2266h0M1093 2344h0M1093 2334h0M1093 2315h0M1096 2314h0M1096 2290h0M1098 2276h0M1098 2333h0M1099 2311h0M1111 2346h0M1121 2322h0M1120 2299h0M1172 2419h0M1173 2408h0M1200 2456h0M1200 2438h0M1216 2405h0M1215 2388h0M1232 2327h0M1232 2311h0M1232 2293h0M1243 2324h0M1277 2290h0M1319 2477h0M1486 2351h0M1493 2419h0M1499 2431h0M1497 2407h0M1499 2393h0M1531 2449h0M1530 2427h0M1531 2408h0M1548 2518h0M1545 2509h0M1545 2488h0M1627 2515h0M1627 2504h0M1626 2477h0M1651 2497h0M1658 2484h0M1661 2462h0M1659 2440h0M251 1760h0M254 1770h0M257 1786h0M261 1816h0M264 1866h0M266 1956h0M284 1997h0M251 2007h0M252 2013h0M255 2020h0M257 2034h0M286 2026h0M282 2051h0M287 2058h0M258 2055h0M286 2069h0M260 2090h0M288 2090h0M250 2267h0M250 2306h0M250 2351h0M250 2404h0M250 2464h0M250 2527h0M269 2478h0M278 2568h0M274 2542h0M276 2488h0M268 2591h0M279 2545h0M278 2592h0M273 2499h0M270 2460h0M280 2591h0M267 2528h0M281 2552h0M270 2546h0M267 2572h0M273 2535h0M270 2571h0M270 2541h0M271 2592h0M279 2526h0M276 2577h0M281 2475h0M268 2558h0M277 2501h0M281 2546h0M279 2508h0M271 2521h0M280 2478h0M274 2521h0M267 2570h0M278 2547h0M269 2527h0M277 2507h0M272 2544h0M274 2490h0M274 2550h0M274 2591h0M267 2502h0M281 2520h0M272 2578h0M274 2453h0M278 2529h0M279 2571h0M274 2459h0M275 2541h0M271 2527h0M281 2592h0M278 2482h0M280 2496h0M279 2532h0M275 2545h0M267 2474h0M275 2575h0M274 2537h0M272 2557h0M275 2515h0M276 2541h0M267 2571h0M269 2522h0M279 2486h0M278 2483h0M270 2479h0M277 2587h0M267 2592h0M278 2569h0M268 2515h0M272 2588h0M269 2530h0M269 2566h0M277 2541h0M271 2539h0M267 2551h0M273 2576h0M268 2468h0M274 2574h0M276 2483h0M267 2592h0M269 2500h0M269 2502h0M277 2528h0M270 2454h0M278 2532h0M270 2511h0M272 2523h0M271 2514h0M267 2563h0M281 2473h0M271 2476h0M271 2461h0M278 2547h0M270 2592h0M280 2590h0M279 2457h0M275 2578h0M279 2455h0M277 2533h0M272 2557h0M270 2507h0M273 2576h0M268 2508h0M271 2535h0M271 2473h0M280 2592h0M270 2559h0M281 2489h0M272 2573h0M277 2479h0M280 2557h0M280 2505h0M274 2453h0M270 2499h0M268 2578h0M280 2573h0M278 2519h0M279 2554h0M272 2564h0M279 2518h0M281 2470h0M269 2527h0M268 2590h0M268 2474h0M278 2481h0M272 2517h0M278 2552h0M275 2572h0M268 2567h0M280 2525h0M280 2541h0M271 2488h0M279 2592h0M277 2586h0M268 2471h0M267 2570h0M281 2546h0M268 2579h0M270 2495h0M268 2466h0M272 2455h0M280 2563h0M270 2538h0M268 2511h0M267 2592h0M281 2563h0M275 2542h0M271 2589h0M280 2456h0M281 2584h0M270 2516h0M281 2528h0M277 2509h0M270 2528h0M271 2403h0M267 2394h0M284 2349h0M278 2296h0M284 2364h0M271 2381h0M271 2240h0M283 2388h0M272 2323h0M276 2309h0M270 2465h0M270 2451h0M276 2451h0M266 2298h0M271 2255h0M275 2236h0M268 2334h0M281 2449h0M284 2423h0M280 2203h0M281 2384h0M267 2331h0M283 2391h0M283 2432h0M283 2462h0M271 2225h0M281 2224h0M282 2268h0M279 2422h0M274 2427h0M279 2289h0M270 2453h0M284 2251h0M276 2323h0M282 2347h0M273 2378h0M270 2464h0M278 2357h0M276 2453h0M272 2433h0M267 2400h0M281 2362h0M273 2304h0M270 2468h0M275 2334h0M321 2445h0M325 2479h0M313 2501h0M317 2380h0M304 2471h0M295 2482h0M299 2441h0M306 2436h0M308 2433h0M318 2383h0M335 2462h0M303 2508h0M326 2484h0M324 2465h0M299 2462h0M336 2379h0M304 2410h0M298 2443h0M321 2431h0M333 2391h0M328 2483h0M306 2501h0M335 2468h0M310 2523h0M303 2460h0M300 2498h0M320 2415h0M301 2504h0M304 2472h0M323 2389h0M336 2428h0M330 2399h0M309 2512h0M328 2465h0M316 2384h0M336 2477h0M317 2479h0M308 2487h0M312 2481h0M310 2423h0M314 2450h0M301 2545h0M319 2385h0M315 2403h0M329 2428h0M336 2494h0M320 2460h0M292 2504h0M310 2418h0M325 2376h0M314 2423h0M321 2443h0M320 2404h0M327 2377h0M329 2444h0M303 2438h0M316 2479h0M313 2492h0M315 2435h0M308 2471h0M314 2394h0M310 2439h0M301 2504h0M304 2516h0M315 2475h0M325 2474h0M324 2429h0M319 2483h0M299 2437h0M306 2487h0M262 2243h0M252 2222h0M261 2436h0M258 2273h0M263 2482h0M261 2491h0M266 2389h0M265 2285h0M261 2456h0M260 2501h0M254 2289h0M257 2276h0M255 2289h0M262 2440h0M253 2406h0M259 2515h0M254 2531h0M261 2226h0M255 2539h0M262 2253h0M266 2327h0M257 2245h0M253 2298h0M253 2405h0M259 2413h0M254 2467h0M264 2382h0M260 2474h0M262 2431h0M261 2218h0M333 2587h0M325 2488h0M307 2546h0M317 2480h0M310 2485h0M324 2574h0M330 2591h0M301 2511h0M298 2546h0M300 2536h0M327 2482h0M297 2585h0M327 2587h0M306 2578h0M299 2589h0M319 2502h0M321 2489h0M320 2545h0M319 2474h0M319 2563h0M298 2478h0M318 2550h0M318 2524h0M315 2585h0M309 2542h0M303 2485h0M311 2512h0M322 2502h0M322 2501h0M305 2473h0M301 2480h0M327 2488h0M298 2581h0M326 2535h0M309 2472h0M297 2528h0M312 2577h0M310 2506h0M328 2589h0M315 2581h0" fill="none" stroke="#00f" stroke-width="8.6" stroke-linecap="round"/>
<path d="M310 4044L310 4030L314 3997L318 3964L322 3934L326 3914L330 3903L334 3895L338 3884L342 3879L346 3868L350 3864L354 3858L358 3854L362 3855L366 3854L370 3850L374 3854L378 3851L382 3845L386 3847L390 3841L394 3840L398 3839L402 3845L406 3854L410 3851L414 3849L418 3853L422 3861L426 3866L430 3864L434 3867L438 3862L442 3863L446 3870L450 3869L454 3873L458 3869L462 3865L466 3868L470 3869L474 3868L478 3867L482 3864L486 3874L490 3877L494 3876L498 3879L502 3878L506 3883L510 3877L514 3877L518 3882L522 3879L526 3881L530 3883L534 3882L538 3885L542 3886L546 3879L550 3876L554 3880L558 3874L562 3878L566 3877L570 3868L574 3865L578 3866L582 3866L586 3868L590 3872L594 3865L598 3872L602 3872L606 3887L610 3909L614 3921L618 3927L622 3925L626 3926L630 3929L634 3930L638 3934L642 3935L646 3935L650 3938L654 3940L658 3940L662 3943L666 3947L670 3946L674 3949L678 3949L682 3948L686 3950L690 3953L694 3955L698 3952L702 3952L706 3953L710 3952L714 3948L718 3950L722 3950L726 3947L730 3947L734 3949L738 3949L742 3948L746 3950L750 3950L754 3950L758 3947L762 3947L766 3945L770 3942L774 3939L778 3942L782 3941L786 3941L790 3940L794 3938L798 3934L802 3929L806 3930L810 3933L814 3931L818 3932L822 3932L826 3926L830 3926L834 3922L838 3922L842 3916L846 3913L850 3917L854 3919L858 3913L862 3912L866 3913L870 3910L874 3907L878 3908L882 3894L886 3874L890 3851L894 3830L898 3802L902 3796L906 3799L910 3791L914 3795L918 3797L922 3787L926 3783L930 3770L934 3766L938 3761L942 3771L946 3764L950 3774L954 3771L958 3763L962 3757L966 3754L970 3760L974 3760L978 3758L982 3770L986 3762L990 3758L994 3764L998 3761L1002 3766L1006 3773L1010 3770L1014 3780L1018 3773L1022 3764L1026 3772L1030 3765L1034 3776L1038 3770L1042 3776L1046 3768L1050 3772L1054 3766L1058 3779L1062 3787L1066 3779L1070 3777L1074 3778L1078 3789L1082 3794L1086 3794L1090 3800L1094 3787L1098 3783L1102 3776L1106 3779L1110 3789L1114 3802L1118 3800L1122 3811L1126 3813L1130 3816L1134 3819L1138 3829L1142 3837L1146 3837L1150 3845L1154 3849L1158 3872L1162 3892L1166 3911L1170 3910L1174 3911L1178 3915L1182 3918L1186 3917L1190 3915L1194 3918L1198 3923L1202 3916L1206 3909L1210 3897L1214 3884L1218 3874L1222 3874L1226 3873L1230 3871L1234 3868L1238 3866L1242 3856L1246 3856L1250 3855L1254 3854L1258 3854L1262 3853L1266 3857L1270 3857L1274 3853L1278 3860L1282 3860L1286 3865L1290 3883L1294 3899L1298 3906L1302 3921L1306 3918L1310 3921L1314 3921L1318 3925L1322 3922L1326 3919L1330 3921L1334 3920L1338 3916L1342 3919L1346 3920L1350 3918L1354 3915L1358 3920L1362 3915L1366 3912L1370 3909L1374 3895L1378 3896L1382 3889L1386 3885L1390 3883L1394 3881L1398 3880L1402 3883L1406 3883L1410 3885L1414 3879L1418 3875L1422 3872L1426 3876L1430 3876L1434 3879L1438 3875L1442 3873L1446 3869L1450 3869L1454 3869L1458 3869L1462 3876L1466 3876L1470 3882L1474 3882L1478 3885L1482 3878L1486 3883L1490 3877L1494 3871L1498 3873L1502 3869L1506 3876L1510 3879L1514 3882L1518 3884L1522 3886L1526 3876L1530 3879L1534 3875L1538 3889L1542 3904L1546 3923L1550 3950L1554 3963L1558 3971L1562 3978L1566 3985L1570 3991L1574 3991L1578 3992L1582 3993L1586 3991L1590 3992L1594 3992L1598 3990L1602 3990L1606 3988L1610 3988L1614 3988L1618 3990L1622 3990L1626 3988L1630 3980L1634 3974L1638 3967L1642 3959L1646 3951L1650 3940L1654 3934L1658 3940L1662 3938L1666 3938L1670 3939L1674 3943L1678 3947L1682 3951L1686 3952L1690 3950L1694 3952L1698 3955L1702 3956L1706 3959L1710 3978L1714 4013L1714 4044Z" fill="#f00" stroke="#f00" stroke-width="6" stroke-linejoin="round"/>
<path d="M310 4032V4019M312 4015V3978M315 3994V3970M318 3975V3950M321 3950V3902M324 3930V3889M327 3920V3852M329 3916V3895M332 3912V3886M334 3908V3784M336 3904V3800M338 3901V3862M341 3896V3864M343 3893V3851M346 3888V3858M348 3883V3819M351 3881V3819M354 3880V3830M357 3878V3849M359 3877V3756M363 3876V3812M366 3875V3814M368 3874V3790M371 3873V3849M375 3871V3761M378 3870V3837M382 3868V3806M384 3867V3813M387 3866V3811M390 3865V3762M393 3865V3748M396 3867V3832M399 3868V3757M402 3869V3803M405 3870V3816M408 3871V3827M410 3872V3742M413 3873V3847M415 3874V3770M417 3875V3819M421 3876V3808M423 3877V3849M426 3878V3810M429 3879V3810M432 3880V3783M435 3882V3849M439 3883V3781M442 3884V3807M444 3885V3817M448 3886V3797M451 3888V3831M454 3889V3835M457 3890V3820M460 3890V3805M465 3891V3819M469 3891V3836M472 3892V3827M474 3892V3869M477 3892V3814M480 3893V3809M484 3893V3804M488 3893V3814M491 3894V3868M494 3894V3833M496 3894V3858M502 3894V3814M505 3894V3784M508 3894V3803M511 3894V3824M513 3894V3836M517 3894V3805M519 3894V3842M522 3894V3809M525 3894V3801M529 3894V3809M531 3894V3802M534 3894V3806M537 3894V3822M540 3894V3808M543 3894V3850M545 3894V3849M548 3894V3846M552 3893V3850M556 3891V3830M559 3890V3763M561 3889V3838M564 3888V3820M566 3887V3792M568 3887V3817M571 3885V3690M575 3884V3833M577 3883V3710M581 3882V3801M584 3882V3848M586 3883V3849M589 3883V3822M592 3884V3796M596 3885V3767M602 3886V3796M605 3899V3827M608 3915V3880M611 3927V3848M613 3937V3907M617 3938V3895M623 3942V3889M626 3943V3920M629 3945V3856M632 3946V3911M635 3948V3930M637 3949V3924M641 3950V3887M648 3952V3907M650 3952V3894M653 3953V3933M656 3954V3908M659 3954V3917M662 3955V3905M665 3955V3898M669 3956V3920M671 3957V3935M674 3957V3939M677 3958V3934M679 3958V3940M682 3959V3910M685 3959V3873M688 3959V3917M692 3959V3934M694 3959V3929M698 3959V3909M700 3959V3901M702 3959V3923M704 3959V3917M707 3959V3903M710 3959V3883M712 3959V3895M715 3959V3904M718 3959V3903M720 3959V3902M723 3959V3909M726 3959V3933M729 3959V3906M732 3958V3943M735 3958V3937M738 3958V3928M740 3958V3931M742 3958V3904M744 3957V3871M747 3957V3942M751 3957V3911M753 3957V3942M755 3956V3900M759 3956V3942M761 3956V3859M764 3956V3899M768 3955V3923M772 3955V3930M777 3955V3898M780 3954V3910M782 3953V3911M785 3952V3933M788 3951V3910M791 3950V3883M793 3948V3916M797 3947V3888M800 3946V3881M803 3944V3897M805 3944V3904M808 3942V3922M810 3941V3875M813 3940V3883M816 3939V3902M820 3937V3907M823 3936V3898M826 3934V3893M828 3933V3889M832 3932V3911M834 3932V3865M837 3932V3880M839 3931V3858M841 3931V3872M845 3930V3876M850 3929V3870M853 3929V3902M856 3928V3800M859 3928V3899M862 3927V3866M866 3927V3901M869 3926V3857M871 3926V3908M874 3925V3854M877 3925V3881M881 3914V3872M884 3898V3835M888 3877V3852M890 3864V3764M892 3851V3805M896 3831V3784M898 3821V3790M902 3819V3761M906 3817V3756M909 3815V3692M911 3813V3676M915 3811V3652M918 3808V3726M922 3806V3702M925 3804V3726M928 3802V3680M930 3801V3641M932 3799V3660M940 3796V3701M942 3796V3644M946 3797V3738M949 3797V3654M951 3797V3651M953 3797V3653M955 3797V3641M958 3798V3725M960 3798V3673M962 3798V3740M965 3798V3728M968 3798V3592M971 3799V3635M975 3799V3653M977 3799V3730M979 3799V3653M982 3799V3707M985 3800V3702M987 3800V3694M989 3800V3723M992 3800V3651M994 3800V3679M997 3800V3696M1000 3801V3704M1003 3801V3700M1006 3801V3659M1009 3801V3746M1012 3801V3705M1015 3802V3713M1018 3802V3638M1020 3802V3683M1023 3802V3744M1029 3803V3762M1032 3803V3758M1035 3803V3689M1039 3803V3662M1044 3804V3704M1046 3804V3722M1049 3804V3722M1051 3804V3682M1054 3804V3709M1057 3804V3697M1060 3805V3640M1063 3805V3678M1066 3806V3693M1069 3806V3765M1071 3807V3670M1075 3807V3603M1077 3808V3722M1081 3809V3709M1085 3809V3722M1087 3810V3609M1089 3810V3743M1093 3811V3634M1096 3812V3701M1098 3812V3753M1101 3813V3689M1105 3815V3700M1107 3816V3675M1110 3819V3681M1112 3821V3765M1115 3824V3702M1119 3827V3784M1121 3829V3703M1125 3832V3793M1127 3834V3762M1130 3836V3807M1133 3839V3776M1135 3841V3777M1138 3844V3777M1141 3846V3778M1144 3848V3778M1146 3851V3724M1149 3853V3725M1152 3855V3704M1154 3863V3778M1156 3874V3795M1158 3885V3808M1161 3895V3828M1163 3907V3874M1166 3917V3896M1168 3918V3875M1171 3919V3863M1173 3920V3886M1176 3922V3898M1179 3923V3805M1182 3925V3845M1185 3926V3855M1189 3928V3891M1192 3929V3856M1194 3931V3888M1197 3932V3903M1199 3931V3831M1203 3923V3821M1205 3918V3845M1208 3913V3855M1211 3906V3832M1214 3899V3833M1217 3893V3811M1221 3889V3811M1224 3887V3864M1227 3886V3859M1230 3884V3809M1233 3883V3844M1235 3882V3779M1239 3880V3816M1241 3878V3825M1244 3877V3755M1246 3878V3801M1248 3878V3783M1251 3878V3784M1255 3878V3781M1262 3879V3831M1264 3879V3825M1268 3880V3826M1272 3880V3835M1275 3881V3802M1278 3881V3770M1281 3881V3804M1283 3881V3800M1287 3886V3799M1289 3894V3862M1295 3911V3814M1299 3921V3794M1301 3928V3892M1304 3929V3873M1308 3929V3869M1311 3929V3892M1314 3930V3858M1316 3930V3905M1320 3930V3885M1323 3930V3862M1326 3930V3891M1329 3931V3900M1331 3931V3855M1335 3931V3855M1337 3931V3875M1343 3932V3891M1348 3932V3886M1351 3932V3885M1354 3932V3811M1357 3933V3873M1359 3933V3915M1362 3929V3886M1366 3923V3845M1369 3918V3842M1372 3913V3892M1376 3908V3819M1379 3907V3824M1381 3906V3786M1384 3905V3828M1386 3905V3849M1389 3904V3826M1391 3903V3857M1395 3902V3787M1397 3902V3795M1401 3901V3836M1404 3900V3853M1406 3899V3778M1409 3899V3827M1412 3898V3876M1416 3897V3831M1418 3897V3809M1420 3896V3824M1423 3895V3811M1425 3895V3800M1428 3894V3808M1431 3894V3849M1434 3894V3775M1438 3894V3818M1440 3894V3742M1443 3894V3835M1446 3894V3838M1449 3894V3872M1452 3894V3867M1454 3894V3795M1456 3894V3803M1459 3894V3782M1463 3894V3866M1465 3894V3843M1468 3894V3869M1472 3894V3813M1474 3894V3848M1478 3894V3841M1480 3894V3871M1482 3894V3836M1485 3894V3826M1487 3894V3843M1490 3894V3859M1494 3894V3815M1498 3893V3840M1501 3893V3828M1504 3892V3847M1507 3891V3820M1509 3891V3808M1511 3890V3832M1513 3890V3791M1516 3889V3789M1519 3889V3836M1522 3888V3791M1524 3888V3784M1527 3887V3841M1534 3886V3861M1537 3896V3864M1540 3907V3856M1543 3916V3842M1550 3957V3929M1552 3968V3909M1555 3974V3947M1559 3980V3967M1562 3984V3963M1565 3990V3965M1567 3994V3982M1574 3997V3981M1577 3997V3980M1580 3997V3932M1584 3997V3978M1586 3996V3979M1588 3996V3977M1591 3996V3974M1594 3996V3972M1597 3996V3974M1599 3996V3979M1603 3996V3976M1607 3996V3970M1610 3996V3983M1613 3996V3966M1616 3996V3983M1619 3995V3979M1621 3995V3981M1625 3995V3979M1628 3991V3969M1631 3986V3964M1634 3982V3962M1636 3979V3951M1639 3975V3896M1642 3969V3920M1644 3965V3949M1648 3957V3883M1654 3951V3900M1656 3951V3920M1660 3952V3893M1662 3953V3908M1664 3954V3884M1668 3954V3928M1670 3955V3920M1673 3956V3924M1676 3957V3915M1680 3958V3920M1683 3959V3927M1688 3960V3929M1692 3960V3933M1694 3960V3927M1696 3961V3922M1699 3961V3943M1702 3962V3919M1704 3962V3913M1708 3966V3939M1710 3984V3952M1712 4003V3991M1715 4018V3995M311 3550h0M310 3418h0M309 3896h0M310 3663h0M311 3821h0M310 3811h0M311 3841h0M311 3889h0M308 3348h0M309 3750h0M311 3308h0M309 3363h0M310 4006h0M310 3706h0M310 3326h0M308 3965h0M311 4023h0M309 4016h0M310 3933h0M310 3922h0M310 3909h0M311 3759h0M308 3593h0M311 3936h0M310 4002h0M309 3900h0M310 3884h0M309 3875h0M309 3860h0M311 3873h0M308 3777h0M310 3814h0M309 3801h0M309 3783h0M310 3640h0M310 3630h0M310 3611h0M310 3980h0M311 4010h0M308 3988h0M309 3979h0M310 3941h0M310 3931h0M309 3919h0M312 3864h0M313 3921h0M313 3988h0M314 3810h0M312 3799h0M311 3784h0M312 3779h0M311 3861h0M311 4007h0M312 3913h0M313 3765h0M313 3876h0M310 3954h0M312 3941h0M312 3932h0M312 3913h0M311 4004h0M310 3851h0M313 3961h0M311 3585h0M312 3706h0M312 3569h0M314 3892h0M312 3699h0M312 3677h0M313 3887h0M313 3659h0M310 3958h0M314 3743h0M312 3731h0M313 3721h0M312 3917h0M313 3918h0M311 3837h0M311 3885h0M312 3973h0M311 3886h0M313 4005h0M314 3849h0M315 3541h0M314 3527h0M314 3510h0M314 3497h0M315 3513h0M316 3513h0M313 3755h0M315 3916h0M315 3974h0M315 3958h0M315 3961h0M314 3600h0M314 3952h0M314 3612h0M314 3863h0M316 3581h0M316 3733h0M316 3722h0M316 3844h0M313 3795h0M313 3629h0M315 3616h0M315 3603h0M315 3590h0M316 3319h0M313 3712h0M314 3838h0M313 3975h0M314 3936h0M315 3816h0M315 3855h0M316 3618h0M314 3778h0M314 3920h0M315 3974h0M315 3960h0M316 3972h0M318 3691h0M316 3904h0M318 3923h0M317 3910h0M316 3954h0M319 3359h0M318 3602h0M318 3591h0M318 3582h0M318 3572h0M319 3798h0M317 3534h0M316 3916h0M317 3951h0M319 3917h0M318 3872h0M318 3946h0M318 3794h0M316 3924h0M319 3898h0M318 3884h0M316 3946h0M317 3879h0M317 3708h0M319 3861h0M318 3671h0M318 3947h0M318 3577h0M317 3789h0M316 3514h0M316 3938h0M317 3431h0M316 3879h0M318 3870h0M318 3851h0M321 3749h0M320 3879h0M320 3463h0M322 3759h0M321 3747h0M320 3740h0M320 3719h0M319 3799h0M320 3761h0M320 3851h0M320 3759h0M321 3889h0M320 3874h0M322 3616h0M319 3721h0M319 3897h0M319 3922h0M322 3911h0M320 3459h0M320 3445h0M321 3712h0M322 3502h0M322 3897h0M322 3899h0M321 3872h0M321 3867h0M322 3773h0M321 3762h0M321 3334h0M320 3899h0M322 3890h0M320 3875h0M320 3856h0M321 3856h0M320 3708h0M323 3856h0M322 3879h0M323 3639h0M322 3637h0M323 3693h0M323 3782h0M325 3768h0M324 3885h0M324 3821h0M324 3837h0M323 3826h0M325 3806h0M324 3825h0M325 3806h0M323 3694h0M324 3684h0M323 3764h0M324 3809h0M325 3598h0M325 3729h0M325 3776h0M323 3801h0M324 3821h0M324 3875h0M325 3865h0M323 3864h0M322 3884h0M324 3680h0M324 3647h0M323 3633h0M324 3837h0M328 3842h0M326 3635h0M328 3590h0M328 3578h0M326 3587h0M327 3870h0M326 3809h0M328 3735h0M328 3725h0M328 3864h0M327 3755h0M329 3607h0M327 3845h0M329 3765h0M326 3481h0M328 3677h0M326 3742h0M325 3843h0M325 3368h0M328 3705h0M327 3853h0M327 3615h0M327 3803h0M329 3851h0M327 3838h0M326 3794h0M327 3727h0M328 3745h0M331 3825h0M329 3810h0M330 3796h0M329 3784h0M330 3728h0M331 3779h0M330 3867h0M329 3798h0M328 3837h0M329 3865h0M329 3786h0M331 3656h0M329 3712h0M329 3702h0M330 3685h0M329 3775h0M329 3735h0M330 3721h0M330 3703h0M331 3832h0M330 3818h0M331 3808h0M331 3868h0M329 3857h0M328 3846h0M330 3831h0M328 3628h0M329 3450h0M329 3587h0M331 3692h0M328 3851h0M329 3838h0M330 3790h0M330 3776h0M329 3765h0M330 3757h0M331 3748h0M330 3738h0M330 3807h0M328 3781h0M330 3765h0M329 3750h0M329 3848h0M330 3807h0M333 3837h0M332 3823h0M332 3807h0M332 3805h0M334 3833h0M331 3821h0M332 3803h0M332 3802h0M332 3780h0M333 3848h0M332 3833h0M331 3817h0M332 3772h0M333 3795h0M333 3783h0M332 3766h0M332 3753h0M332 3601h0M332 3585h0M331 3840h0M333 3726h0M333 3753h0M333 3737h0M332 3733h0M334 3477h0M333 3461h0M331 3676h0M332 3666h0M332 3649h0M333 3642h0M330 3865h0M331 3867h0M333 3770h0M332 3841h0M330 3860h0M331 3707h0M331 3694h0M333 3537h0M331 3524h0M330 3858h0M333 3797h0M334 3803h0M333 3815h0M333 3737h0M333 3787h0M333 3649h0M334 3843h0M332 3836h0M333 3726h0M335 3815h0M334 3804h0M334 3717h0M333 3546h0M334 3871h0M332 3740h0M334 3678h0M333 3863h0M334 3590h0M333 3760h0M335 3683h0M333 3678h0M335 3795h0M335 3810h0M335 3841h0M334 3683h0M334 3670h0M333 3661h0M336 3348h0M338 3752h0M336 3739h0M337 3725h0M338 3679h0M338 3776h0M338 3835h0M334 3628h0M337 3866h0M337 3852h0M335 3790h0M335 3811h0M335 3795h0M337 3780h0M336 3781h0M336 3687h0M337 3790h0M335 3860h0M337 3846h0M336 3829h0M335 3531h0M336 3518h0M336 3512h0M335 3652h0M337 3481h0M337 3468h0M336 3456h0M337 3445h0M335 3648h0M338 3795h0M338 3629h0M335 3835h0M335 3803h0M335 3647h0M338 3835h0M339 3750h0M338 3851h0M340 3636h0M339 3839h0M339 3740h0M340 3811h0M337 3811h0M339 3813h0M338 3800h0M339 3810h0M340 3716h0M338 3369h0M337 3797h0M339 3785h0M338 3773h0M337 3854h0M338 3844h0M338 3834h0M338 3823h0M340 3853h0M338 3838h0M338 3833h0M339 3821h0M339 3832h0M338 3817h0M338 3810h0M339 3801h0M337 3627h0M338 3653h0M337 3564h0M339 3549h0M338 3533h0M338 3528h0M340 3772h0M340 3450h0M338 3435h0M337 3424h0M337 3544h0M339 3528h0M337 3645h0M337 3770h0M338 3759h0M341 3818h0M342 3761h0M341 3815h0M339 3835h0M342 3823h0M341 3812h0M340 3800h0M341 3792h0M340 3813h0M342 3771h0M342 3756h0M341 3745h0M341 3839h0M343 3854h0M342 3839h0M339 3715h0M340 3839h0M341 3811h0M340 3824h0M340 3855h0M342 3780h0M339 3851h0M339 3502h0M341 3489h0M340 3470h0M341 3778h0M340 3853h0M342 3703h0M341 3791h0M339 3669h0M339 3765h0M343 3823h0M343 3492h0M343 3746h0M343 3732h0M343 3718h0M345 3847h0M342 3778h0M342 3765h0M342 3751h0M343 3732h0M345 3724h0M342 3670h0M344 3710h0M341 3814h0M341 3658h0M345 3697h0M342 3811h0M344 3727h0M342 3798h0M342 3836h0M342 3642h0M341 3839h0M344 3826h0M342 3654h0M341 3676h0M343 3559h0M344 3763h0M342 3754h0M342 3749h0M347 3637h0M346 3625h0M346 3613h0M345 3594h0M345 3826h0M347 3814h0M346 3759h0M344 3673h0M345 3661h0M346 3644h0M346 3642h0M346 3815h0M347 3800h0M345 3794h0M346 3764h0M345 3845h0M347 3733h0M347 3699h0M347 3628h0M345 3844h0M347 3569h0M344 3549h0M347 3535h0M345 3811h0M345 3802h0M347 3784h0M347 3827h0M346 3574h0M344 3827h0M347 3824h0M349 3774h0M349 3762h0M348 3754h0M349 3744h0M349 3680h0M347 3832h0M349 3818h0M349 3800h0M348 3799h0M348 3706h0M348 3693h0M348 3686h0M349 3659h0M349 3635h0M348 3664h0M350 3517h0M348 3506h0M349 3495h0M350 3625h0M350 3796h0M349 3765h0M349 3592h0M349 3576h0M349 3559h0M349 3548h0M347 3645h0M349 3634h0M349 3733h0M347 3817h0M349 3729h0M350 3820h0M348 3805h0M348 3839h0M348 3832h0M352 3732h0M349 3824h0M351 3765h0M349 3810h0M352 3800h0M351 3753h0M351 3736h0M352 3759h0M352 3832h0M351 3711h0M350 3623h0M351 3612h0M350 3780h0M351 3699h0M350 3572h0M350 3471h0M350 3799h0M352 3596h0M351 3586h0M352 3567h0M350 3557h0M353 3741h0M350 3714h0M350 3825h0M351 3820h0M352 3715h0M354 3766h0M353 3754h0M355 3738h0M355 3816h0M354 3826h0M355 3762h0M354 3657h0M353 3743h0M354 3730h0M353 3718h0M355 3779h0M354 3801h0M354 3801h0M354 3665h0M355 3765h0M354 3786h0M353 3742h0M353 3821h0M356 3745h0M356 3770h0M352 3637h0M354 3595h0M355 3712h0M353 3816h0M358 3765h0M357 3426h0M359 3833h0M356 3616h0M358 3719h0M356 3751h0M358 3765h0M356 3691h0M359 3792h0M358 3603h0M358 3594h0M358 3616h0M357 3601h0M357 3595h0M357 3798h0M356 3732h0M357 3699h0M356 3714h0M356 3701h0M358 3687h0M356 3762h0M358 3788h0M356 3635h0M358 3643h0M358 3599h0M361 3770h0M360 3748h0M358 3633h0M358 3767h0M358 3813h0M360 3691h0M359 3754h0M361 3737h0M359 3729h0M359 3717h0M360 3704h0M361 3783h0M358 3829h0M359 3828h0M360 3814h0M360 3800h0M358 3786h0M359 3674h0M359 3660h0M359 3808h0M360 3795h0M361 3708h0M358 3744h0M359 3749h0M359 3736h0M359 3730h0M362 3731h0M364 3750h0M364 3529h0M362 3515h0M362 3800h0M362 3790h0M362 3828h0M363 3739h0M361 3704h0M364 3690h0M363 3679h0M364 3791h0M364 3816h0M362 3605h0M363 3776h0M363 3700h0M363 3819h0M363 3804h0M362 3794h0M363 3824h0M365 3630h0M362 3768h0M362 3755h0M362 3741h0M364 3723h0M363 3810h0M364 3796h0M364 3591h0M366 3575h0M365 3562h0M364 3818h0M365 3750h0M364 3609h0M366 3671h0M364 3740h0M366 3729h0M365 3758h0M366 3700h0M365 3823h0M365 3812h0M366 3803h0M365 3790h0M365 3787h0M366 3819h0M366 3808h0M365 3787h0M365 3790h0M367 3722h0M365 3814h0M365 3815h0M365 3776h0M364 3815h0M366 3720h0M365 3824h0M367 3797h0M367 3781h0M369 3764h0M367 3773h0M368 3757h0M367 3745h0M368 3768h0M368 3779h0M367 3763h0M369 3752h0M367 3746h0M367 3642h0M369 3724h0M368 3605h0M368 3772h0M367 3812h0M369 3780h0M367 3768h0M369 3520h0M369 3665h0M369 3591h0M368 3582h0M367 3565h0M369 3557h0M368 3671h0M368 3824h0M366 3746h0M369 3827h0M368 3822h0M370 3791h0M372 3745h0M372 3792h0M370 3607h0M373 3824h0M370 3644h0M370 3683h0M372 3761h0M371 3745h0M371 3726h0M371 3808h0M371 3814h0M370 3772h0M372 3424h0M373 3733h0M372 3723h0M372 3709h0M371 3703h0M371 3713h0M370 3802h0M373 3778h0M371 3789h0M375 3757h0M375 3663h0M373 3763h0M374 3823h0M375 3814h0M376 3793h0M375 3791h0M374 3709h0M375 3694h0M375 3719h0M374 3529h0M375 3788h0M375 3679h0M373 3689h0M375 3675h0M375 3659h0M375 3824h0M377 3527h0M375 3517h0M373 3751h0M375 3736h0M376 3558h0M375 3778h0M374 3627h0M376 3758h0M374 3747h0M374 3709h0M378 3684h0M378 3725h0M378 3747h0M380 3689h0M379 3696h0M377 3644h0M378 3600h0M377 3793h0M377 3691h0M380 3649h0M380 3804h0M378 3747h0M377 3805h0M379 3790h0M380 3798h0M377 3732h0M377 3504h0M378 3492h0M379 3634h0M378 3643h0M383 3806h0M383 3786h0M382 3773h0M382 3764h0M382 3742h0M380 3764h0M382 3810h0M381 3458h0M380 3700h0M382 3803h0M382 3793h0M381 3680h0M382 3813h0M382 3791h0M382 3812h0M383 3811h0M383 3794h0M381 3479h0M383 3492h0M381 3804h0M381 3695h0M383 3720h0M383 3797h0M386 3802h0M382 3696h0M382 3674h0M383 3755h0M385 3745h0M383 3526h0M384 3515h0M385 3499h0M383 3495h0M384 3467h0M383 3818h0M383 3714h0M383 3819h0M384 3478h0M384 3816h0M384 3532h0M385 3585h0M387 3794h0M388 3470h0M389 3667h0M389 3735h0M386 3695h0M386 3711h0M387 3791h0M388 3727h0M389 3725h0M387 3714h0M388 3705h0M387 3760h0M388 3801h0M385 3775h0M387 3762h0M387 3811h0M388 3663h0M386 3797h0M386 3781h0M386 3811h0M386 3771h0M387 3759h0M386 3739h0M390 3810h0M392 3704h0M390 3804h0M391 3731h0M390 3715h0M389 3708h0M390 3791h0M389 3810h0M390 3795h0M391 3813h0M391 3799h0M392 3758h0M391 3636h0M390 3760h0M389 3745h0M391 3740h0M390 3724h0M390 3696h0M391 3782h0M390 3782h0M389 3752h0M390 3754h0M390 3738h0M390 3734h0M391 3532h0M391 3815h0M393 3635h0M394 3746h0M392 3711h0M394 3810h0M393 3797h0M393 3779h0M393 3769h0M395 3806h0M394 3791h0M393 3778h0M393 3759h0M391 3749h0M392 3565h0M392 3708h0M393 3696h0M392 3684h0M393 3725h0M393 3797h0M394 3745h0M394 3732h0M394 3713h0M393 3710h0M392 3698h0M395 3646h0M393 3657h0M395 3675h0M394 3679h0M395 3765h0M396 3742h0M397 3729h0M396 3815h0M396 3802h0M395 3796h0M395 3810h0M397 3800h0M397 3784h0M397 3739h0M395 3809h0M397 3798h0M397 3803h0M396 3757h0M396 3744h0M396 3736h0M396 3723h0M396 3632h0M397 3617h0M397 3715h0M397 3588h0M395 3758h0M398 3608h0M396 3555h0M396 3541h0M395 3531h0M401 3678h0M401 3596h0M400 3792h0M400 3776h0M398 3763h0M400 3749h0M398 3700h0M401 3736h0M398 3741h0M400 3727h0M399 3717h0M399 3705h0M398 3793h0M401 3641h0M400 3608h0M399 3803h0M399 3763h0M398 3738h0M398 3574h0M398 3795h0M401 3817h0M401 3789h0M399 3610h0M402 3606h0M401 3562h0M403 3788h0M403 3777h0M403 3762h0M402 3757h0M402 3738h0M401 3819h0M402 3569h0M401 3819h0M402 3759h0M401 3804h0M402 3789h0M404 3690h0M404 3765h0M402 3542h0M403 3812h0M403 3801h0M402 3787h0M402 3767h0M403 3548h0M404 3759h0M402 3780h0M403 3678h0M405 3567h0M404 3785h0M406 3592h0M405 3691h0M404 3695h0M404 3649h0M406 3802h0M405 3669h0M406 3754h0M406 3800h0M404 3810h0M405 3799h0M406 3779h0M406 3734h0M406 3675h0M406 3737h0M405 3728h0M404 3710h0M405 3702h0M404 3743h0M404 3730h0M408 3770h0M407 3793h0M409 3812h0M407 3486h0M407 3472h0M409 3605h0M407 3713h0M407 3707h0M409 3759h0M407 3552h0M408 3537h0M407 3526h0M408 3780h0M408 3732h0M406 3805h0M407 3790h0M408 3774h0M408 3758h0M406 3676h0M407 3662h0M407 3646h0M407 3783h0M410 3592h0M410 3581h0M410 3571h0M409 3822h0M411 3789h0M409 3760h0M411 3800h0M410 3805h0M410 3792h0M409 3782h0M410 3766h0M410 3493h0M411 3695h0M410 3809h0M409 3774h0M410 3802h0M411 3792h0M411 3825h0M409 3815h0M409 3798h0M411 3785h0M410 3632h0M410 3810h0M410 3733h0M410 3778h0M409 3763h0M411 3747h0M409 3731h0M415 3716h0M414 3774h0M415 3624h0M414 3800h0M412 3780h0M414 3816h0M414 3825h0M413 3813h0M412 3821h0M414 3624h0M414 3790h0M413 3799h0M413 3520h0M413 3765h0M412 3771h0M414 3643h0M412 3628h0M413 3615h0M413 3602h0M413 3614h0M415 3826h0M416 3791h0M416 3781h0M415 3765h0M415 3785h0M415 3772h0M414 3820h0M414 3827h0M414 3811h0M415 3804h0M416 3769h0M414 3789h0M416 3759h0M415 3689h0M416 3678h0M415 3777h0M416 3705h0M415 3678h0M416 3683h0M416 3717h0M416 3811h0M417 3525h0M417 3510h0M418 3779h0M416 3679h0M416 3810h0M416 3803h0M417 3643h0M418 3628h0M418 3615h0M416 3601h0M416 3822h0M416 3797h0M417 3752h0M417 3813h0M417 3749h0M416 3739h0M416 3672h0M419 3823h0M417 3818h0M418 3825h0M417 3792h0M418 3740h0M418 3727h0M418 3714h0M422 3817h0M420 3807h0M420 3791h0M420 3643h0M419 3766h0M420 3752h0M421 3746h0M421 3743h0M420 3728h0M420 3711h0M419 3655h0M419 3788h0M419 3526h0M419 3755h0M422 3823h0M421 3810h0M420 3795h0M419 3801h0M422 3822h0M422 3630h0M422 3830h0M421 3588h0M419 3830h0M425 3626h0M424 3615h0M425 3657h0M423 3647h0M423 3632h0M424 3610h0M424 3830h0M422 3775h0M423 3765h0M424 3746h0M423 3745h0M424 3825h0M423 3808h0M425 3790h0M424 3699h0M424 3637h0M424 3623h0M423 3820h0M424 3640h0M423 3802h0M422 3795h0M423 3629h0M422 3829h0M423 3780h0M425 3800h0M427 3645h0M427 3768h0M425 3749h0M424 3769h0M426 3826h0M425 3692h0M427 3726h0M427 3812h0M427 3783h0M426 3773h0M425 3751h0M425 3742h0M428 3524h0M427 3515h0M427 3505h0M424 3727h0M427 3816h0M427 3789h0M427 3752h0M425 3772h0M424 3814h0M427 3797h0M430 3827h0M430 3830h0M429 3730h0M429 3815h0M428 3697h0M428 3684h0M429 3669h0M429 3668h0M430 3814h0M428 3761h0M429 3787h0M430 3512h0M430 3720h0M428 3647h0M430 3633h0M427 3755h0M427 3586h0M428 3573h0M427 3694h0M430 3786h0M432 3772h0M431 3762h0M432 3791h0M433 3644h0M431 3627h0M432 3614h0M432 3607h0M431 3596h0M432 3801h0M433 3747h0M431 3732h0M433 3688h0M433 3799h0M433 3766h0M431 3755h0M432 3790h0M432 3742h0M433 3594h0M433 3578h0M432 3569h0M432 3741h0M434 3814h0M432 3799h0M432 3784h0M431 3748h0M430 3693h0M432 3677h0M431 3617h0M436 3761h0M437 3822h0M434 3806h0M436 3812h0M434 3684h0M435 3672h0M435 3655h0M434 3782h0M435 3828h0M434 3677h0M434 3666h0M436 3651h0M436 3632h0M437 3767h0M435 3756h0M436 3737h0M437 3811h0M436 3747h0M436 3559h0M434 3667h0M435 3653h0M435 3645h0M433 3640h0M434 3792h0M434 3720h0M436 3798h0M440 3825h0M439 3813h0M439 3682h0M439 3771h0M440 3732h0M438 3804h0M439 3793h0M439 3773h0M439 3774h0M440 3616h0M437 3837h0M439 3822h0M438 3817h0M439 3807h0M439 3747h0M440 3836h0M437 3811h0M438 3801h0M439 3813h0M438 3743h0M439 3697h0M437 3793h0M438 3777h0M437 3785h0M438 3838h0M442 3633h0M440 3809h0M444 3762h0M443 3751h0M442 3739h0M442 3744h0M441 3598h0M443 3587h0M443 3824h0M443 3799h0M443 3782h0M443 3840h0M442 3789h0M442 3775h0M443 3825h0M441 3826h0M441 3728h0M442 3810h0M442 3799h0M445 3813h0M443 3811h0M444 3800h0M444 3791h0M444 3772h0M443 3562h0M446 3839h0M444 3626h0M446 3820h0M443 3714h0M444 3726h0M446 3800h0M444 3662h0M443 3782h0M446 3842h0M446 3836h0M444 3819h0M449 3829h0M448 3816h0M448 3805h0M447 3800h0M446 3771h0M448 3759h0M447 3748h0M448 3727h0M448 3800h0M449 3813h0M448 3817h0M448 3842h0M447 3762h0M448 3751h0M448 3567h0M448 3552h0M448 3538h0M446 3656h0M446 3705h0M448 3692h0M447 3809h0M448 3807h0M448 3791h0M448 3775h0M446 3492h0M449 3830h0M447 3693h0M447 3771h0M448 3757h0M453 3753h0M451 3780h0M452 3677h0M451 3666h0M452 3760h0M453 3809h0M452 3811h0M453 3771h0M453 3727h0M451 3711h0M451 3700h0M452 3695h0M450 3794h0M450 3828h0M451 3730h0M450 3763h0M452 3764h0M451 3547h0M452 3822h0M452 3826h0M452 3580h0M453 3829h0M454 3815h0M454 3803h0M455 3792h0M456 3719h0M456 3806h0M456 3748h0M455 3762h0M454 3746h0M454 3738h0M454 3732h0M454 3843h0M455 3807h0M455 3770h0M454 3706h0M456 3729h0M455 3846h0M454 3830h0M455 3825h0M454 3810h0M456 3795h0M455 3784h0M454 3764h0M455 3754h0M453 3815h0M456 3824h0M454 3846h0M456 3837h0M455 3825h0M455 3811h0M457 3845h0M457 3727h0M457 3707h0M457 3548h0M458 3794h0M457 3841h0M457 3830h0M456 3702h0M457 3840h0M456 3819h0M456 3695h0M457 3839h0M458 3548h0M457 3761h0M458 3823h0M460 3808h0M459 3773h0M460 3736h0M461 3805h0M460 3771h0M460 3811h0M460 3797h0M459 3847h0M459 3662h0M459 3715h0M461 3837h0M461 3816h0M458 3834h0M461 3692h0M461 3677h0M461 3816h0M462 3793h0M463 3813h0M462 3801h0M461 3838h0M462 3847h0M463 3715h0M463 3845h0M463 3782h0M461 3804h0M464 3804h0M461 3833h0M461 3693h0M463 3776h0M464 3815h0M461 3738h0M464 3774h0M466 3760h0M466 3747h0M466 3727h0M464 3835h0M467 3816h0M464 3663h0M464 3829h0M465 3782h0M466 3771h0M465 3750h0M467 3506h0M466 3839h0M466 3828h0M465 3732h0M466 3719h0M466 3646h0M464 3840h0M466 3828h0M466 3816h0M466 3803h0M466 3700h0M466 3650h0M465 3636h0M465 3655h0M470 3825h0M468 3726h0M468 3717h0M469 3697h0M468 3780h0M469 3840h0M469 3828h0M469 3802h0M469 3791h0M468 3777h0M469 3764h0M468 3750h0M469 3738h0M469 3721h0M468 3586h0M469 3573h0M469 3558h0M469 3839h0M469 3825h0M469 3813h0M468 3791h0M469 3801h0M467 3838h0M469 3803h0M470 3767h0M468 3710h0M469 3695h0M468 3686h0M469 3677h0M467 3740h0M470 3835h0M470 3756h0M471 3721h0M472 3779h0M471 3763h0M473 3748h0M470 3628h0M471 3556h0M471 3835h0M471 3816h0M473 3838h0M473 3621h0M471 3828h0M470 3816h0M472 3798h0M473 3769h0M472 3755h0M472 3741h0M472 3728h0M472 3849h0M471 3838h0M473 3824h0M476 3776h0M475 3598h0M475 3830h0M475 3821h0M474 3734h0M474 3724h0M474 3715h0M473 3641h0M474 3726h0M475 3710h0M474 3701h0M475 3784h0M474 3776h0M475 3760h0M475 3748h0M473 3729h0M473 3644h0M473 3796h0M476 3838h0M474 3828h0M474 3549h0M473 3828h0M473 3731h0M474 3716h0M478 3814h0M478 3825h0M476 3630h0M477 3619h0M476 3601h0M477 3586h0M478 3824h0M479 3829h0M479 3720h0M479 3742h0M478 3802h0M478 3835h0M477 3769h0M476 3808h0M478 3649h0M476 3664h0M478 3655h0M477 3614h0M477 3599h0M478 3819h0M481 3835h0M480 3829h0M479 3770h0M479 3834h0M480 3813h0M480 3741h0M478 3680h0M480 3721h0M481 3711h0M480 3696h0M480 3820h0M480 3817h0M479 3804h0M480 3660h0M482 3659h0M480 3851h0M480 3687h0M484 3615h0M483 3605h0M485 3586h0M484 3794h0M485 3825h0M482 3701h0M482 3607h0M484 3592h0M485 3584h0M485 3841h0M485 3821h0M484 3756h0M482 3787h0M484 3817h0M483 3850h0M484 3830h0M484 3643h0M483 3628h0M483 3611h0M485 3729h0M483 3718h0M483 3703h0M488 3836h0M487 3792h0M489 3786h0M488 3773h0M486 3824h0M487 3811h0M489 3741h0M489 3758h0M487 3846h0M487 3849h0M489 3819h0M486 3689h0M487 3676h0M487 3657h0M487 3753h0M486 3814h0M487 3823h0M488 3807h0M488 3798h0M487 3785h0M489 3848h0M491 3837h0M491 3823h0M491 3802h0M492 3763h0M490 3751h0M492 3783h0M491 3828h0M491 3817h0M490 3807h0M490 3787h0M490 3750h0M490 3841h0M492 3825h0M490 3820h0M489 3800h0M491 3792h0M491 3776h0M489 3810h0M491 3794h0M490 3783h0M490 3770h0M491 3851h0M492 3775h0M490 3842h0M492 3802h0M491 3786h0M490 3779h0M493 3851h0M493 3786h0M495 3801h0M495 3814h0M495 3841h0M496 3769h0M493 3658h0M494 3642h0M495 3597h0M494 3796h0M495 3646h0M495 3693h0M493 3712h0M494 3682h0M492 3749h0M497 3747h0M496 3745h0M498 3762h0M497 3752h0M496 3846h0M497 3825h0M495 3836h0M497 3825h0M496 3774h0M496 3852h0M496 3836h0M496 3825h0M496 3808h0M498 3774h0M496 3760h0M497 3752h0M496 3839h0M497 3853h0M497 3816h0M500 3676h0M498 3839h0M498 3853h0M498 3852h0M498 3840h0M498 3830h0M499 3775h0M499 3760h0M498 3752h0M499 3594h0M500 3694h0M498 3686h0M499 3835h0M498 3826h0M500 3773h0M501 3705h0M499 3839h0M501 3838h0M502 3823h0M501 3853h0M501 3775h0M502 3764h0M502 3744h0M501 3839h0M502 3772h0M503 3761h0M503 3753h0M504 3750h0M502 3849h0M502 3835h0M502 3827h0M502 3664h0M504 3838h0M503 3822h0M501 3835h0M503 3839h0M502 3825h0M503 3812h0M504 3676h0M507 3821h0M504 3851h0M506 3835h0M505 3820h0M506 3806h0M506 3851h0M507 3852h0M504 3845h0M505 3828h0M507 3811h0M505 3761h0M504 3832h0M505 3598h0M507 3799h0M507 3833h0M508 3823h0M507 3805h0M508 3708h0M509 3791h0M508 3778h0M507 3764h0M508 3761h0M509 3850h0M507 3626h0M509 3752h0M507 3824h0M507 3827h0M509 3836h0M509 3823h0M508 3813h0M507 3799h0M508 3719h0M513 3853h0M510 3799h0M510 3851h0M511 3835h0M510 3731h0M511 3625h0M510 3827h0M511 3823h0M509 3853h0M512 3727h0M509 3766h0M511 3596h0M511 3781h0M510 3772h0M511 3663h0M514 3811h0M513 3809h0M513 3796h0M513 3659h0M513 3798h0M512 3776h0M514 3845h0M513 3832h0M514 3742h0M515 3806h0M513 3753h0M512 3758h0M512 3804h0M514 3811h0M518 3837h0M518 3737h0M518 3610h0M517 3789h0M517 3830h0M517 3820h0M517 3807h0M516 3790h0M517 3822h0M518 3822h0M518 3811h0M517 3829h0M517 3839h0M519 3601h0M515 3785h0M516 3774h0M517 3778h0M517 3817h0M521 3584h0M519 3807h0M519 3844h0M520 3840h0M520 3812h0M518 3746h0M519 3731h0M519 3717h0M519 3701h0M517 3827h0M518 3640h0M519 3843h0M520 3762h0M518 3789h0M519 3774h0M520 3762h0M518 3749h0M520 3838h0M521 3850h0M523 3840h0M523 3823h0M521 3805h0M520 3822h0M523 3672h0M523 3657h0M523 3649h0M522 3627h0M523 3816h0M521 3814h0M520 3770h0M523 3757h0M522 3744h0M522 3735h0M521 3722h0M521 3708h0M522 3698h0M522 3828h0M523 3815h0M522 3846h0M523 3845h0M522 3830h0M520 3853h0M523 3775h0M524 3821h0M525 3807h0M525 3797h0M526 3798h0M526 3784h0M525 3773h0M525 3768h0M527 3825h0M525 3810h0M526 3802h0M527 3848h0M526 3645h0M524 3827h0M527 3829h0M527 3755h0M525 3848h0M525 3805h0M524 3774h0M527 3851h0M529 3647h0M528 3836h0M528 3853h0M528 3840h0M529 3730h0M528 3823h0M527 3751h0M527 3808h0M528 3796h0M528 3777h0M528 3774h0M529 3824h0M528 3775h0M530 3761h0M528 3829h0M529 3717h0M527 3808h0M532 3645h0M532 3635h0M533 3752h0M532 3770h0M532 3836h0M531 3701h0M533 3834h0M530 3609h0M531 3842h0M533 3637h0M530 3623h0M531 3845h0M531 3831h0M531 3815h0M530 3789h0M531 3707h0M531 3692h0M531 3683h0M536 3816h0M533 3817h0M535 3826h0M534 3811h0M535 3803h0M533 3751h0M534 3735h0M534 3727h0M534 3769h0M536 3783h0M533 3786h0M535 3818h0M534 3842h0M535 3817h0M536 3801h0M534 3791h0M536 3840h0M536 3691h0M537 3680h0M537 3843h0M538 3807h0M538 3841h0M538 3816h0M536 3800h0M536 3823h0M538 3827h0M537 3832h0M537 3805h0M538 3808h0M538 3664h0M538 3802h0M539 3620h0M539 3640h0M539 3786h0M538 3850h0M540 3794h0M539 3791h0M539 3821h0M541 3755h0M539 3784h0M538 3780h0M540 3812h0M540 3801h0M539 3824h0M542 3771h0M541 3760h0M542 3809h0M542 3827h0M543 3816h0M543 3852h0M543 3669h0M541 3680h0M544 3797h0M542 3787h0M544 3756h0M541 3718h0M543 3708h0M542 3692h0M546 3821h0M546 3810h0M545 3798h0M545 3783h0M545 3715h0M545 3808h0M547 3764h0M545 3829h0M545 3829h0M545 3816h0M546 3807h0M545 3829h0M545 3737h0M544 3771h0M544 3800h0M546 3787h0M545 3771h0M546 3752h0M546 3812h0M546 3752h0M545 3743h0M546 3732h0M544 3714h0M548 3713h0M550 3853h0M547 3774h0M548 3760h0M549 3743h0M549 3743h0M547 3650h0M548 3636h0M548 3827h0M548 3814h0M548 3803h0M547 3764h0M548 3748h0M550 3845h0M547 3744h0M548 3814h0M547 3822h0M547 3822h0M553 3817h0M551 3832h0M552 3816h0M552 3807h0M551 3748h0M553 3821h0M551 3807h0M552 3825h0M552 3812h0M551 3795h0M553 3788h0M554 3692h0M551 3843h0M553 3834h0M553 3840h0M553 3834h0M556 3808h0M555 3792h0M555 3787h0M555 3775h0M556 3669h0M556 3809h0M556 3732h0M557 3828h0M556 3773h0M556 3825h0M557 3833h0M556 3833h0M559 3766h0M558 3699h0M560 3828h0M560 3815h0M561 3825h0M557 3758h0M558 3728h0M561 3818h0M559 3829h0M560 3733h0M557 3743h0M560 3794h0M561 3820h0M563 3786h0M563 3819h0M560 3827h0M563 3809h0M562 3799h0M561 3784h0M561 3797h0M561 3745h0M561 3766h0M561 3823h0M560 3783h0M564 3844h0M564 3832h0M563 3812h0M564 3814h0M566 3733h0M563 3791h0M563 3809h0M563 3798h0M565 3842h0M565 3829h0M563 3689h0M564 3674h0M564 3670h0M564 3821h0M564 3716h0M563 3840h0M565 3742h0M566 3811h0M565 3815h0M567 3804h0M566 3796h0M566 3766h0M565 3826h0M565 3839h0M565 3773h0M567 3836h0M570 3838h0M567 3827h0M569 3817h0M568 3796h0M568 3682h0M570 3825h0M568 3823h0M567 3801h0M568 3663h0M570 3799h0M569 3778h0M572 3839h0M572 3807h0M573 3651h0M570 3822h0M570 3753h0M572 3738h0M571 3730h0M570 3841h0M570 3756h0M572 3687h0M574 3827h0M577 3827h0M575 3770h0M574 3759h0M574 3743h0M576 3822h0M575 3820h0M573 3757h0M575 3827h0M576 3816h0M575 3797h0M575 3835h0M576 3782h0M577 3783h0M577 3802h0M576 3796h0M576 3785h0M576 3763h0M576 3766h0M578 3764h0M578 3831h0M578 3836h0M576 3824h0M577 3806h0M576 3797h0M576 3783h0M578 3770h0M579 3834h0M582 3805h0M582 3812h0M580 3777h0M581 3805h0M580 3810h0M582 3786h0M580 3815h0M582 3827h0M586 3813h0M584 3824h0M584 3791h0M584 3815h0M585 3800h0M585 3793h0M584 3824h0M584 3832h0M588 3808h0M586 3796h0M585 3785h0M586 3762h0M586 3838h0M587 3838h0M584 3762h0M587 3749h0M586 3742h0M586 3720h0M587 3796h0M587 3781h0M587 3765h0M585 3824h0M591 3817h0M589 3800h0M590 3790h0M589 3816h0M588 3824h0M588 3810h0M589 3801h0M588 3794h0M590 3839h0M590 3827h0M592 3782h0M591 3803h0M592 3797h0M592 3805h0M591 3807h0M592 3811h0M593 3793h0M595 3830h0M595 3826h0M598 3835h0M595 3820h0M595 3813h0M594 3772h0M597 3759h0M597 3746h0M596 3733h0M595 3823h0M597 3809h0M600 3804h0M598 3793h0M598 3780h0M599 3790h0M600 3775h0M598 3816h0M600 3809h0M599 3793h0M598 3777h0M599 3773h0M600 3820h0M601 3802h0M603 3793h0M602 3781h0M601 3800h0M601 3785h0M602 3769h0M602 3836h0M602 3826h0M602 3809h0M602 3789h0M601 3812h0M601 3797h0M602 3785h0M600 3807h0M603 3803h0M605 3854h0M605 3804h0M606 3828h0M605 3770h0M606 3851h0M604 3848h0M608 3823h0M607 3795h0M606 3875h0M607 3867h0M609 3852h0M608 3842h0M608 3868h0M611 3865h0M612 3870h0M612 3871h0M611 3876h0M613 3890h0M615 3882h0M615 3864h0M613 3902h0M616 3893h0M618 3908h0M615 3880h0M618 3908h0M621 3904h0M620 3888h0M620 3896h0M624 3879h0M623 3864h0M621 3888h0M624 3907h0M626 3910h0M627 3915h0M627 3897h0M631 3911h0M628 3898h0M629 3884h0M628 3871h0M630 3884h0M629 3869h0M630 3858h0M629 3868h0M628 3858h0M630 3907h0M632 3915h0M631 3889h0M631 3879h0M631 3909h0M635 3913h0M635 3857h0M635 3906h0M636 3891h0M636 3919h0M636 3841h0M637 3923h0M638 3909h0M641 3908h0M642 3873h0M641 3864h0M641 3846h0M641 3914h0M640 3902h0M640 3904h0M640 3893h0M643 3912h0M644 3925h0M645 3913h0M644 3894h0M643 3895h0M645 3921h0M646 3853h0M649 3842h0M648 3898h0M650 3913h0M649 3927h0M648 3915h0M652 3921h0M651 3907h0M650 3900h0M651 3923h0M651 3885h0M651 3878h0M654 3909h0M653 3847h0M652 3910h0M653 3899h0M652 3883h0M653 3872h0M655 3915h0M657 3923h0M657 3885h0M658 3897h0M659 3920h0M659 3904h0M659 3900h0M657 3919h0M662 3915h0M661 3905h0M663 3895h0M664 3879h0M663 3914h0M662 3869h0M664 3865h0M667 3911h0M666 3931h0M666 3918h0M670 3927h0M669 3915h0M668 3901h0M668 3892h0M667 3898h0M668 3899h0M669 3883h0M668 3879h0M669 3873h0M669 3923h0M672 3916h0M673 3931h0M670 3859h0M673 3921h0M676 3918h0M673 3863h0M673 3910h0M677 3928h0M678 3914h0M677 3901h0M679 3931h0M677 3920h0M676 3901h0M676 3920h0M677 3912h0M679 3902h0M679 3890h0M680 3878h0M680 3861h0M678 3910h0M678 3928h0M681 3912h0M678 3900h0M679 3883h0M683 3877h0M681 3878h0M682 3862h0M684 3913h0M681 3916h0M686 3912h0M685 3897h0M684 3884h0M684 3881h0M685 3868h0M686 3908h0M686 3873h0M689 3872h0M690 3916h0M688 3901h0M689 3896h0M688 3894h0M687 3903h0M687 3931h0M692 3909h0M690 3920h0M691 3909h0M691 3928h0M691 3898h0M693 3896h0M695 3926h0M693 3915h0M695 3899h0M695 3887h0M696 3899h0M694 3925h0M694 3915h0M697 3864h0M697 3919h0M697 3923h0M699 3931h0M697 3916h0M699 3906h0M699 3901h0M697 3900h0M701 3897h0M701 3858h0M701 3930h0M700 3931h0M699 3883h0M701 3924h0M702 3825h0M701 3924h0M703 3909h0M702 3897h0M702 3886h0M703 3863h0M702 3928h0M704 3916h0M703 3904h0M704 3926h0M705 3887h0M703 3934h0M704 3923h0M704 3907h0M705 3901h0M703 3931h0M706 3852h0M709 3903h0M708 3930h0M708 3906h0M708 3916h0M709 3886h0M709 3871h0M710 3867h0M710 3855h0M711 3898h0M709 3905h0M711 3894h0M710 3908h0M709 3896h0M709 3916h0M711 3933h0M712 3923h0M712 3915h0M714 3929h0M713 3915h0M713 3905h0M712 3899h0M712 3919h0M712 3923h0M714 3904h0M715 3933h0M715 3917h0M716 3912h0M715 3890h0M714 3925h0M715 3888h0M714 3889h0M717 3934h0M717 3935h0M719 3932h0M718 3890h0M717 3865h0M717 3885h0M721 3914h0M719 3856h0M719 3842h0M721 3918h0M720 3908h0M720 3847h0M722 3932h0M721 3911h0M722 3930h0M722 3913h0M724 3864h0M721 3842h0M724 3921h0M726 3929h0M725 3846h0M724 3844h0M725 3833h0M726 3933h0M727 3894h0M729 3921h0M729 3914h0M729 3848h0M727 3874h0M727 3925h0M730 3913h0M728 3894h0M728 3889h0M730 3927h0M732 3913h0M731 3897h0M732 3897h0M731 3923h0M732 3846h0M732 3912h0M732 3935h0M736 3865h0M735 3851h0M736 3918h0M735 3905h0M736 3893h0M734 3909h0M736 3869h0M735 3858h0M735 3846h0M736 3821h0M735 3929h0M737 3914h0M737 3905h0M736 3928h0M737 3915h0M738 3902h0M737 3885h0M737 3922h0M737 3908h0M738 3895h0M738 3880h0M738 3871h0M738 3913h0M739 3930h0M737 3914h0M739 3890h0M739 3863h0M741 3853h0M740 3841h0M740 3828h0M740 3814h0M740 3891h0M739 3933h0M741 3925h0M740 3912h0M740 3890h0M741 3853h0M742 3928h0M743 3900h0M740 3851h0M743 3904h0M741 3890h0M743 3901h0M745 3885h0M745 3880h0M744 3866h0M743 3931h0M744 3916h0M744 3904h0M745 3886h0M744 3891h0M744 3926h0M746 3849h0M743 3863h0M743 3932h0M747 3920h0M746 3905h0M746 3894h0M748 3888h0M747 3876h0M747 3857h0M747 3843h0M745 3929h0M747 3910h0M752 3919h0M750 3894h0M751 3910h0M752 3907h0M751 3874h0M751 3878h0M751 3918h0M750 3904h0M751 3889h0M750 3879h0M753 3835h0M751 3928h0M754 3924h0M751 3881h0M752 3929h0M753 3905h0M754 3877h0M755 3865h0M754 3893h0M755 3922h0M756 3924h0M754 3913h0M754 3932h0M755 3921h0M756 3906h0M756 3898h0M757 3909h0M758 3866h0M759 3873h0M758 3867h0M760 3904h0M759 3871h0M760 3922h0M760 3910h0M761 3891h0M762 3921h0M762 3895h0M762 3879h0M760 3891h0M761 3788h0M762 3909h0M762 3901h0M761 3890h0M761 3873h0M763 3931h0M763 3919h0M764 3907h0M765 3907h0M764 3896h0M765 3879h0M764 3822h0M763 3932h0M765 3908h0M764 3902h0M768 3923h0M768 3847h0M768 3926h0M766 3924h0M766 3849h0M767 3926h0M770 3928h0M772 3913h0M772 3905h0M772 3876h0M771 3877h0M771 3867h0M772 3847h0M773 3868h0M771 3882h0M772 3903h0M773 3915h0M775 3923h0M774 3923h0M775 3912h0M775 3898h0M774 3813h0M774 3799h0M775 3859h0M776 3913h0M774 3903h0M775 3892h0M774 3879h0M775 3884h0M778 3921h0M777 3899h0M776 3885h0M778 3920h0M778 3830h0M776 3904h0M778 3801h0M779 3772h0M781 3915h0M780 3898h0M779 3821h0M781 3880h0M780 3917h0M782 3920h0M783 3915h0M783 3927h0M781 3917h0M781 3908h0M782 3887h0M782 3893h0M782 3880h0M782 3869h0M781 3872h0M782 3913h0M786 3873h0M787 3920h0M784 3926h0M784 3834h0M786 3884h0M783 3907h0M786 3922h0M786 3826h0M786 3813h0M786 3797h0M785 3788h0M787 3898h0M788 3852h0M788 3839h0M788 3824h0M788 3807h0M788 3806h0M789 3850h0M788 3836h0M789 3881h0M787 3876h0M788 3863h0M788 3896h0M789 3887h0M791 3855h0M792 3907h0M791 3893h0M791 3915h0M790 3847h0M791 3893h0M791 3879h0M791 3872h0M792 3919h0M794 3828h0M793 3812h0M794 3795h0M794 3837h0M794 3823h0M793 3806h0M792 3857h0M794 3877h0M792 3789h0M792 3895h0M794 3888h0M793 3915h0M799 3891h0M796 3911h0M798 3916h0M796 3765h0M795 3917h0M797 3856h0M797 3918h0M799 3859h0M798 3859h0M801 3909h0M798 3884h0M801 3897h0M798 3879h0M799 3882h0M799 3843h0M803 3893h0M801 3839h0M803 3829h0M801 3893h0M803 3914h0M803 3902h0M802 3910h0M802 3864h0M804 3863h0M805 3899h0M804 3870h0M807 3820h0M805 3890h0M804 3871h0M806 3903h0M805 3890h0M806 3880h0M807 3859h0M808 3848h0M808 3829h0M809 3884h0M809 3864h0M807 3893h0M809 3905h0M808 3891h0M808 3885h0M807 3864h0M809 3897h0M808 3871h0M811 3796h0M809 3782h0M810 3895h0M811 3879h0M810 3867h0M809 3856h0M810 3914h0M810 3902h0M811 3871h0M810 3837h0M811 3900h0M810 3888h0M809 3876h0M813 3848h0M813 3893h0M813 3879h0M813 3862h0M811 3874h0M814 3888h0M813 3903h0M814 3907h0M813 3893h0M813 3882h0M815 3898h0M815 3908h0M815 3905h0M817 3906h0M816 3806h0M816 3863h0M816 3848h0M815 3831h0M820 3899h0M820 3852h0M820 3836h0M821 3845h0M819 3895h0M819 3794h0M824 3848h0M823 3892h0M823 3878h0M823 3876h0M825 3826h0M824 3906h0M823 3896h0M825 3887h0M827 3903h0M825 3877h0M827 3854h0M826 3839h0M825 3870h0M826 3822h0M830 3900h0M829 3799h0M829 3876h0M829 3841h0M829 3828h0M827 3870h0M829 3813h0M830 3856h0M833 3807h0M830 3791h0M832 3833h0M833 3884h0M833 3857h0M833 3887h0M835 3824h0M835 3811h0M833 3792h0M834 3859h0M834 3790h0M834 3780h0M836 3876h0M833 3818h0M833 3871h0M838 3859h0M837 3839h0M838 3876h0M836 3896h0M838 3826h0M836 3870h0M837 3886h0M840 3865h0M840 3786h0M841 3900h0M840 3894h0M840 3878h0M839 3868h0M839 3864h0M841 3881h0M840 3872h0M841 3876h0M841 3860h0M841 3857h0M841 3899h0M841 3820h0M843 3858h0M842 3828h0M843 3839h0M842 3825h0M846 3841h0M845 3844h0M843 3874h0M843 3870h0M844 3872h0M844 3890h0M844 3878h0M848 3897h0M847 3810h0M848 3796h0M848 3788h0M846 3776h0M846 3835h0M847 3888h0M848 3861h0M846 3854h0M848 3822h0M849 3799h0M850 3838h0M849 3897h0M851 3836h0M851 3889h0M849 3842h0M853 3895h0M851 3847h0M852 3886h0M853 3876h0M851 3881h0M853 3895h0M851 3881h0M853 3870h0M853 3853h0M853 3850h0M855 3893h0M857 3877h0M857 3840h0M856 3864h0M856 3889h0M856 3829h0M856 3814h0M856 3806h0M859 3860h0M858 3874h0M859 3836h0M859 3824h0M859 3867h0M858 3877h0M860 3865h0M862 3871h0M864 3855h0M863 3881h0M863 3879h0M863 3871h0M866 3865h0M866 3882h0M865 3871h0M866 3854h0M865 3872h0M866 3876h0M868 3881h0M867 3874h0M869 3811h0M869 3877h0M870 3890h0M868 3878h0M869 3861h0M868 3860h0M872 3825h0M871 3882h0M871 3856h0M870 3841h0M871 3875h0M871 3870h0M873 3856h0M872 3829h0M874 3868h0M873 3855h0M873 3844h0M874 3837h0M873 3872h0M873 3872h0M874 3876h0M879 3773h0M877 3859h0M877 3874h0M877 3864h0M877 3849h0M877 3830h0M877 3891h0M877 3891h0M880 3819h0M882 3804h0M881 3789h0M881 3874h0M882 3860h0M882 3851h0M881 3864h0M883 3877h0M880 3868h0M882 3800h0M882 3787h0M881 3777h0M880 3759h0M885 3858h0M884 3713h0M884 3833h0M883 3837h0M885 3821h0M885 3814h0M883 3800h0M884 3764h0M883 3699h0M885 3852h0M887 3807h0M889 3825h0M889 3822h0M889 3808h0M887 3769h0M888 3822h0M887 3649h0M888 3821h0M887 3806h0M889 3776h0M889 3805h0M888 3764h0M890 3750h0M888 3797h0M890 3785h0M892 3777h0M890 3744h0M889 3710h0M890 3697h0M889 3691h0M890 3692h0M891 3801h0M888 3646h0M892 3748h0M892 3757h0M893 3581h0M892 3570h0M892 3690h0M894 3787h0M891 3736h0M892 3722h0M892 3709h0M891 3790h0M891 3723h0M893 3710h0M891 3627h0M892 3688h0M894 3682h0M892 3791h0M895 3757h0M895 3624h0M894 3730h0M897 3718h0M895 3707h0M896 3730h0M896 3762h0M894 3540h0M897 3749h0M898 3730h0M896 3762h0M894 3753h0M896 3744h0M895 3724h0M896 3725h0M897 3618h0M896 3604h0M896 3595h0M897 3738h0M895 3729h0M895 3712h0M896 3690h0M897 3746h0M896 3732h0M897 3721h0M896 3700h0M897 3746h0M900 3720h0M898 3705h0M899 3692h0M899 3679h0M899 3664h0M898 3656h0M899 3522h0M897 3608h0M897 3705h0M897 3742h0M899 3658h0M899 3644h0M899 3626h0M898 3739h0M899 3637h0M900 3627h0M898 3741h0M898 3675h0M898 3664h0M900 3736h0M904 3742h0M902 3706h0M901 3684h0M901 3702h0M902 3732h0M902 3545h0M903 3714h0M904 3649h0M902 3736h0M903 3579h0M903 3756h0M903 3686h0M903 3721h0M903 3658h0M907 3624h0M906 3437h0M905 3717h0M907 3638h0M906 3661h0M905 3648h0M905 3640h0M906 3633h0M905 3726h0M906 3713h0M905 3695h0M906 3679h0M904 3539h0M905 3562h0M905 3548h0M905 3600h0M906 3731h0M906 3742h0M907 3750h0M904 3697h0M904 3734h0M910 3634h0M910 3425h0M907 3579h0M909 3462h0M909 3634h0M907 3399h0M910 3706h0M909 3628h0M909 3711h0M910 3742h0M908 3718h0M908 3540h0M909 3529h0M909 3514h0M908 3723h0M907 3693h0M908 3685h0M910 3455h0M908 3440h0M908 3676h0M909 3701h0M911 3633h0M912 3747h0M910 3696h0M910 3660h0M910 3399h0M911 3737h0M911 3610h0M910 3594h0M911 3591h0M911 3569h0M911 3617h0M910 3601h0M911 3726h0M912 3704h0M911 3691h0M911 3685h0M910 3665h0M909 3744h0M911 3659h0M911 3647h0M910 3512h0M912 3728h0M915 3724h0M916 3740h0M915 3716h0M915 3702h0M914 3692h0M916 3735h0M916 3671h0M915 3656h0M915 3640h0M913 3610h0M915 3609h0M916 3613h0M914 3644h0M915 3630h0M914 3618h0M914 3611h0M915 3680h0M916 3681h0M914 3668h0M914 3658h0M913 3721h0M914 3704h0M913 3583h0M916 3562h0M914 3548h0M914 3535h0M914 3533h0M913 3583h0M916 3599h0M918 3732h0M918 3717h0M919 3608h0M918 3598h0M919 3743h0M919 3622h0M918 3647h0M917 3637h0M918 3626h0M918 3608h0M918 3718h0M918 3692h0M918 3682h0M919 3711h0M917 3660h0M918 3738h0M917 3629h0M920 3541h0M919 3529h0M919 3515h0M919 3504h0M918 3590h0M918 3578h0M919 3561h0M918 3728h0M919 3653h0M918 3639h0M919 3621h0M919 3616h0M919 3531h0M918 3585h0M919 3713h0M917 3699h0M918 3682h0M919 3678h0M921 3724h0M921 3602h0M920 3550h0M922 3538h0M923 3520h0M922 3375h0M920 3664h0M922 3477h0M923 3694h0M921 3712h0M923 3597h0M924 3632h0M921 3662h0M922 3648h0M921 3639h0M922 3627h0M922 3716h0M923 3645h0M921 3635h0M920 3575h0M923 3457h0M923 3692h0M920 3726h0M926 3621h0M926 3738h0M925 3721h0M924 3708h0M926 3719h0M923 3649h0M925 3732h0M927 3616h0M926 3738h0M925 3556h0M924 3569h0M925 3733h0M924 3641h0M923 3676h0M924 3341h0M927 3373h0M924 3560h0M925 3737h0M924 3721h0M927 3723h0M928 3707h0M929 3732h0M930 3678h0M927 3704h0M929 3657h0M929 3716h0M928 3700h0M929 3688h0M928 3657h0M929 3722h0M928 3671h0M929 3515h0M929 3502h0M929 3489h0M927 3486h0M927 3520h0M929 3734h0M928 3724h0M927 3540h0M929 3718h0M927 3659h0M928 3597h0M928 3723h0M930 3534h0M930 3706h0M931 3695h0M932 3467h0M932 3723h0M930 3514h0M931 3501h0M930 3490h0M930 3476h0M931 3544h0M930 3679h0M929 3589h0M929 3577h0M931 3569h0M929 3536h0M930 3592h0M929 3581h0M929 3460h0M931 3611h0M931 3713h0M930 3684h0M932 3627h0M929 3716h0M930 3669h0M930 3674h0M930 3660h0M931 3646h0M933 3592h0M932 3582h0M932 3568h0M933 3628h0M932 3655h0M931 3609h0M931 3651h0M932 3638h0M932 3624h0M933 3618h0M931 3660h0M931 3704h0M933 3672h0M934 3600h0M931 3718h0M933 3703h0M931 3710h0M933 3700h0M933 3691h0M933 3682h0M934 3641h0M933 3627h0M931 3609h0M933 3619h0M934 3705h0M933 3693h0M932 3415h0M931 3695h0M933 3685h0M931 3665h0M933 3659h0M931 3703h0M933 3634h0M932 3622h0M931 3607h0M932 3595h0M936 3639h0M935 3626h0M934 3716h0M936 3665h0M936 3642h0M934 3578h0M937 3691h0M936 3662h0M936 3699h0M936 3658h0M934 3610h0M937 3728h0M936 3407h0M935 3684h0M937 3619h0M937 3687h0M937 3600h0M935 3630h0M940 3700h0M941 3690h0M941 3668h0M940 3662h0M941 3713h0M941 3698h0M938 3635h0M938 3727h0M941 3612h0M938 3594h0M941 3562h0M938 3548h0M939 3498h0M941 3719h0M939 3642h0M941 3720h0M939 3704h0M940 3725h0M941 3713h0M939 3521h0M939 3729h0M943 3625h0M942 3583h0M944 3649h0M943 3588h0M943 3574h0M943 3562h0M942 3540h0M944 3725h0M941 3662h0M943 3646h0M943 3636h0M944 3653h0M943 3513h0M942 3502h0M943 3488h0M942 3481h0M941 3454h0M941 3600h0M941 3687h0M944 3679h0M943 3625h0M943 3554h0M942 3524h0M943 3509h0M944 3729h0M941 3679h0M943 3663h0M943 3655h0M942 3675h0M946 3697h0M947 3715h0M947 3429h0M947 3637h0M945 3595h0M946 3573h0M946 3725h0M947 3528h0M945 3514h0M947 3721h0M944 3683h0M945 3719h0M946 3690h0M947 3690h0M947 3578h0M945 3728h0M947 3719h0M946 3696h0M947 3685h0M944 3610h0M949 3727h0M950 3709h0M949 3492h0M948 3662h0M949 3650h0M948 3574h0M947 3656h0M949 3644h0M949 3626h0M948 3608h0M950 3596h0M949 3586h0M949 3566h0M950 3579h0M949 3631h0M949 3526h0M948 3687h0M947 3609h0M947 3669h0M949 3602h0M950 3588h0M948 3699h0M948 3685h0M949 3589h0M949 3576h0M951 3493h0M951 3495h0M949 3728h0M950 3714h0M952 3645h0M951 3634h0M950 3626h0M950 3612h0M952 3729h0M952 3540h0M950 3537h0M952 3716h0M950 3693h0M950 3566h0M952 3711h0M950 3698h0M952 3671h0M953 3588h0M950 3681h0M950 3614h0M951 3600h0M951 3593h0M952 3612h0M952 3712h0M953 3727h0M954 3666h0M952 3606h0M955 3694h0M953 3729h0M953 3491h0M952 3713h0M952 3698h0M954 3667h0M952 3656h0M954 3691h0M953 3727h0M953 3712h0M954 3698h0M954 3694h0M954 3727h0M955 3707h0M955 3597h0M955 3505h0M954 3610h0M955 3635h0M957 3521h0M956 3705h0M956 3730h0M954 3715h0M954 3660h0M954 3602h0M954 3703h0M954 3615h0M955 3702h0M956 3468h0M956 3453h0M956 3440h0M954 3715h0M955 3693h0M955 3677h0M956 3698h0M954 3581h0M957 3580h0M954 3569h0M955 3555h0M958 3451h0M957 3499h0M957 3693h0M957 3623h0M958 3622h0M958 3612h0M959 3725h0M959 3711h0M959 3701h0M958 3644h0M960 3574h0M960 3698h0M959 3629h0M958 3731h0M957 3457h0M959 3725h0M958 3388h0M959 3693h0M961 3676h0M962 3704h0M961 3675h0M961 3664h0M960 3646h0M959 3643h0M961 3731h0M959 3494h0M961 3567h0M961 3637h0M958 3664h0M959 3577h0M960 3642h0M959 3630h0M961 3610h0M961 3609h0M961 3724h0M961 3709h0M959 3698h0M960 3675h0M960 3692h0M960 3528h0M961 3595h0M959 3652h0M960 3717h0M964 3690h0M963 3676h0M962 3660h0M962 3649h0M964 3636h0M961 3715h0M962 3700h0M962 3682h0M962 3669h0M963 3658h0M961 3633h0M962 3712h0M963 3698h0M961 3562h0M962 3723h0M962 3711h0M961 3696h0M962 3687h0M962 3466h0M961 3698h0M962 3586h0M961 3616h0M962 3554h0M963 3543h0M962 3521h0M961 3510h0M961 3658h0M962 3727h0M962 3713h0M962 3703h0M964 3662h0M965 3671h0M965 3685h0M966 3663h0M965 3714h0M966 3694h0M965 3680h0M965 3673h0M966 3646h0M967 3537h0M967 3721h0M967 3696h0M966 3710h0M966 3695h0M965 3678h0M966 3679h0M963 3700h0M966 3667h0M964 3651h0M963 3676h0M966 3677h0M964 3664h0M964 3534h0M964 3504h0M966 3638h0M966 3642h0M968 3726h0M969 3713h0M967 3700h0M968 3688h0M968 3372h0M968 3651h0M968 3729h0M967 3639h0M969 3691h0M968 3728h0M969 3728h0M969 3726h0M969 3689h0M968 3598h0M968 3716h0M967 3703h0M967 3694h0M966 3524h0M972 3574h0M970 3564h0M971 3690h0M973 3660h0M972 3658h0M970 3723h0M972 3708h0M970 3703h0M972 3638h0M972 3627h0M972 3616h0M972 3724h0M971 3673h0M970 3556h0M971 3645h0M971 3632h0M972 3622h0M972 3600h0M973 3697h0M971 3687h0M970 3673h0M970 3656h0M972 3621h0M973 3722h0M971 3710h0M970 3379h0M973 3673h0M970 3618h0M972 3640h0M975 3708h0M976 3633h0M976 3723h0M974 3668h0M976 3485h0M974 3588h0M976 3542h0M976 3541h0M973 3523h0M975 3717h0M975 3703h0M974 3719h0M974 3708h0M975 3693h0M974 3684h0M975 3652h0M975 3647h0M974 3634h0M975 3623h0M974 3603h0M975 3655h0M974 3665h0M974 3649h0M976 3635h0M976 3648h0M978 3701h0M976 3719h0M978 3559h0M978 3547h0M977 3528h0M978 3630h0M977 3570h0M977 3561h0M977 3549h0M977 3411h0M977 3541h0M976 3527h0M976 3511h0M978 3500h0M977 3719h0M979 3727h0M978 3722h0M978 3702h0M976 3692h0M976 3694h0M976 3585h0M978 3635h0M978 3619h0M977 3611h0M978 3590h0M979 3647h0M979 3634h0M981 3728h0M980 3712h0M978 3699h0M980 3685h0M979 3713h0M980 3662h0M978 3481h0M979 3467h0M980 3452h0M980 3452h0M979 3596h0M980 3707h0M980 3710h0M980 3629h0M981 3639h0M979 3536h0M979 3725h0M979 3565h0M980 3550h0M978 3535h0M980 3519h0M980 3690h0M980 3721h0M980 3705h0M981 3625h0M981 3610h0M983 3715h0M981 3717h0M982 3552h0M982 3536h0M982 3523h0M982 3562h0M982 3719h0M980 3707h0M981 3675h0M981 3577h0M982 3420h0M982 3652h0M983 3690h0M982 3667h0M982 3707h0M985 3712h0M984 3713h0M986 3704h0M984 3608h0M985 3663h0M987 3718h0M984 3733h0M984 3715h0M985 3676h0M984 3622h0M986 3725h0M986 3659h0M985 3644h0M986 3631h0M984 3615h0M984 3708h0M987 3644h0M988 3656h0M987 3645h0M986 3626h0M988 3629h0M988 3714h0M986 3675h0M987 3619h0M987 3729h0M987 3702h0M987 3625h0M988 3727h0M986 3566h0M987 3553h0M987 3593h0M989 3522h0M988 3642h0M990 3716h0M989 3710h0M989 3665h0M988 3718h0M989 3722h0M990 3664h0M991 3545h0M988 3602h0M990 3705h0M989 3733h0M990 3721h0M990 3601h0M990 3685h0M991 3650h0M994 3660h0M991 3646h0M994 3666h0M994 3710h0M992 3697h0M994 3670h0M992 3654h0M993 3651h0M992 3625h0M991 3683h0M992 3668h0M991 3659h0M992 3650h0M991 3683h0M993 3729h0M990 3661h0M991 3647h0M993 3666h0M991 3656h0M991 3634h0M993 3712h0M993 3701h0M993 3627h0M994 3665h0M995 3653h0M993 3558h0M994 3723h0M996 3623h0M994 3609h0M993 3679h0M994 3707h0M996 3647h0M994 3677h0M994 3718h0M995 3715h0M995 3691h0M997 3685h0M997 3544h0M998 3720h0M997 3649h0M996 3724h0M997 3677h0M997 3571h0M997 3559h0M997 3548h0M996 3699h0M996 3618h0M996 3687h0M998 3698h0M1000 3618h0M999 3604h0M1000 3589h0M1001 3655h0M999 3730h0M1000 3626h0M1000 3694h0M999 3725h0M999 3667h0M999 3731h0M1001 3668h0M1001 3555h0M1002 3715h0M1002 3731h0M1004 3634h0M1002 3548h0M1002 3731h0M1003 3699h0M1002 3683h0M1004 3668h0M1002 3702h0M1004 3720h0M1005 3699h0M1003 3508h0M1006 3650h0M1005 3638h0M1007 3622h0M1007 3615h0M1007 3662h0M1006 3685h0M1007 3722h0M1005 3549h0M1007 3664h0M1005 3712h0M1004 3701h0M1006 3687h0M1007 3680h0M1007 3677h0M1006 3665h0M1006 3648h0M1007 3638h0M1006 3683h0M1008 3610h0M1008 3734h0M1008 3731h0M1009 3716h0M1009 3708h0M1009 3689h0M1011 3619h0M1009 3607h0M1008 3678h0M1010 3735h0M1008 3731h0M1011 3614h0M1009 3599h0M1009 3585h0M1009 3573h0M1009 3699h0M1010 3684h0M1010 3675h0M1010 3651h0M1008 3645h0M1010 3710h0M1012 3696h0M1011 3685h0M1012 3670h0M1010 3592h0M1012 3726h0M1013 3630h0M1011 3615h0M1012 3608h0M1010 3688h0M1012 3673h0M1013 3657h0M1012 3639h0M1013 3693h0M1011 3700h0M1012 3678h0M1011 3656h0M1013 3632h0M1013 3580h0M1017 3651h0M1016 3715h0M1017 3711h0M1016 3719h0M1016 3709h0M1016 3723h0M1014 3678h0M1017 3632h0M1017 3704h0M1014 3692h0M1014 3680h0M1015 3659h0M1014 3606h0M1014 3726h0M1014 3714h0M1017 3706h0M1017 3631h0M1018 3527h0M1019 3709h0M1018 3723h0M1016 3729h0M1018 3592h0M1018 3686h0M1018 3676h0M1018 3666h0M1016 3568h0M1018 3557h0M1018 3545h0M1018 3521h0M1017 3717h0M1017 3709h0M1019 3705h0M1022 3626h0M1019 3571h0M1020 3735h0M1021 3725h0M1021 3676h0M1021 3662h0M1020 3711h0M1020 3600h0M1020 3723h0M1022 3728h0M1020 3555h0M1020 3544h0M1020 3523h0M1020 3519h0M1020 3705h0M1020 3491h0M1020 3701h0M1021 3686h0M1019 3674h0M1020 3666h0M1024 3725h0M1023 3615h0M1024 3667h0M1023 3716h0M1022 3734h0M1023 3719h0M1024 3703h0M1024 3694h0M1024 3681h0M1023 3668h0M1023 3655h0M1022 3631h0M1025 3630h0M1022 3733h0M1023 3721h0M1023 3704h0M1024 3698h0M1022 3723h0M1023 3675h0M1025 3718h0M1027 3700h0M1026 3642h0M1025 3667h0M1027 3665h0M1026 3710h0M1024 3703h0M1025 3575h0M1026 3697h0M1025 3734h0M1025 3718h0M1026 3704h0M1026 3649h0M1027 3514h0M1029 3736h0M1027 3678h0M1029 3665h0M1028 3632h0M1029 3719h0M1030 3721h0M1030 3720h0M1030 3706h0M1027 3696h0M1028 3684h0M1030 3499h0M1030 3605h0M1028 3518h0M1032 3699h0M1034 3731h0M1033 3654h0M1033 3644h0M1032 3635h0M1034 3720h0M1031 3622h0M1031 3701h0M1032 3522h0M1032 3625h0M1031 3720h0M1033 3708h0M1032 3732h0M1035 3709h0M1036 3634h0M1036 3680h0M1036 3720h0M1035 3705h0M1035 3653h0M1035 3642h0M1036 3621h0M1036 3611h0M1036 3699h0M1035 3680h0M1037 3677h0M1036 3514h0M1034 3675h0M1036 3658h0M1035 3645h0M1035 3629h0M1037 3710h0M1038 3714h0M1037 3721h0M1038 3515h0M1040 3698h0M1039 3685h0M1039 3701h0M1038 3596h0M1040 3642h0M1038 3628h0M1039 3680h0M1038 3696h0M1039 3680h0M1039 3664h0M1038 3647h0M1041 3722h0M1041 3725h0M1042 3734h0M1041 3679h0M1042 3668h0M1042 3655h0M1042 3650h0M1042 3716h0M1042 3694h0M1043 3695h0M1040 3722h0M1041 3712h0M1042 3694h0M1042 3710h0M1042 3691h0M1042 3735h0M1045 3521h0M1042 3599h0M1042 3696h0M1044 3684h0M1044 3618h0M1043 3701h0M1044 3661h0M1045 3735h0M1044 3653h0M1043 3685h0M1043 3735h0M1044 3724h0M1045 3729h0M1047 3718h0M1045 3710h0M1045 3622h0M1047 3719h0M1047 3727h0M1048 3575h0M1046 3542h0M1047 3565h0M1048 3723h0M1047 3712h0M1047 3701h0M1046 3681h0M1048 3720h0M1047 3709h0M1047 3700h0M1047 3709h0M1050 3671h0M1050 3721h0M1047 3555h0M1047 3734h0M1049 3733h0M1047 3516h0M1050 3506h0M1049 3625h0M1050 3691h0M1048 3735h0M1053 3681h0M1052 3668h0M1052 3655h0M1052 3649h0M1050 3693h0M1051 3682h0M1052 3621h0M1052 3724h0M1052 3607h0M1052 3641h0M1050 3677h0M1051 3713h0M1053 3626h0M1052 3615h0M1052 3738h0M1050 3725h0M1050 3709h0M1056 3639h0M1054 3628h0M1056 3654h0M1055 3704h0M1054 3694h0M1055 3710h0M1055 3676h0M1055 3662h0M1055 3702h0M1053 3621h0M1056 3617h0M1055 3654h0M1056 3737h0M1054 3699h0M1058 3714h0M1057 3645h0M1057 3629h0M1057 3623h0M1056 3739h0M1057 3723h0M1056 3714h0M1056 3691h0M1056 3705h0M1058 3733h0M1058 3721h0M1057 3736h0M1057 3682h0M1057 3728h0M1056 3713h0M1060 3660h0M1059 3669h0M1059 3682h0M1061 3683h0M1059 3733h0M1059 3739h0M1061 3706h0M1060 3736h0M1061 3735h0M1060 3665h0M1062 3718h0M1064 3709h0M1064 3712h0M1061 3682h0M1064 3597h0M1063 3583h0M1062 3679h0M1063 3666h0M1062 3711h0M1063 3713h0M1062 3736h0M1064 3725h0M1062 3661h0M1062 3739h0M1066 3711h0M1066 3697h0M1065 3614h0M1065 3717h0M1064 3731h0M1064 3645h0M1066 3632h0M1066 3620h0M1065 3604h0M1065 3714h0M1067 3737h0M1065 3646h0M1066 3659h0M1064 3717h0M1065 3702h0M1066 3696h0M1067 3721h0M1070 3666h0M1070 3735h0M1069 3725h0M1070 3738h0M1070 3737h0M1070 3633h0M1070 3737h0M1070 3727h0M1070 3655h0M1067 3726h0M1068 3709h0M1068 3697h0M1069 3690h0M1071 3668h0M1072 3654h0M1072 3701h0M1070 3644h0M1071 3632h0M1072 3613h0M1073 3668h0M1070 3679h0M1070 3735h0M1071 3657h0M1070 3678h0M1071 3719h0M1073 3725h0M1075 3722h0M1074 3650h0M1075 3705h0M1074 3696h0M1075 3634h0M1076 3722h0M1073 3735h0M1075 3722h0M1075 3683h0M1074 3669h0M1075 3658h0M1075 3641h0M1074 3712h0M1075 3683h0M1077 3674h0M1078 3661h0M1077 3647h0M1076 3731h0M1077 3731h0M1079 3708h0M1078 3711h0M1078 3723h0M1078 3708h0M1078 3696h0M1077 3691h0M1077 3604h0M1076 3742h0M1077 3648h0M1078 3718h0M1078 3703h0M1078 3696h0M1080 3666h0M1082 3741h0M1082 3693h0M1081 3676h0M1083 3735h0M1083 3730h0M1080 3743h0M1083 3672h0M1081 3659h0M1081 3642h0M1081 3636h0M1079 3710h0M1084 3585h0M1084 3722h0M1085 3744h0M1084 3732h0M1085 3714h0M1085 3696h0M1084 3726h0M1085 3744h0M1085 3649h0M1085 3718h0M1084 3745h0M1084 3655h0M1088 3743h0M1087 3730h0M1089 3679h0M1086 3743h0M1087 3652h0M1086 3715h0M1087 3701h0M1088 3687h0M1087 3746h0M1089 3658h0M1087 3648h0M1087 3672h0M1089 3665h0M1088 3683h0M1089 3637h0M1088 3702h0M1090 3718h0M1091 3666h0M1089 3730h0M1090 3718h0M1088 3712h0M1089 3725h0M1089 3653h0M1092 3716h0M1092 3642h0M1092 3628h0M1091 3739h0M1091 3720h0M1094 3676h0M1094 3608h0M1092 3636h0M1092 3625h0M1092 3609h0M1092 3748h0M1093 3726h0M1097 3721h0M1095 3663h0M1097 3673h0M1097 3741h0M1095 3655h0M1097 3656h0M1096 3731h0M1097 3749h0M1095 3716h0M1095 3705h0M1096 3687h0M1096 3686h0M1097 3720h0M1099 3613h0M1099 3600h0M1099 3593h0M1097 3703h0M1098 3690h0M1098 3676h0M1098 3667h0M1099 3737h0M1100 3720h0M1098 3744h0M1100 3731h0M1102 3738h0M1101 3726h0M1100 3716h0M1100 3709h0M1103 3740h0M1100 3689h0M1101 3695h0M1101 3729h0M1099 3742h0M1100 3635h0M1106 3727h0M1103 3698h0M1104 3731h0M1106 3673h0M1106 3641h0M1105 3632h0M1104 3622h0M1104 3607h0M1106 3697h0M1105 3642h0M1107 3631h0M1107 3681h0M1105 3739h0M1106 3728h0M1107 3720h0M1108 3698h0M1107 3715h0M1108 3750h0M1106 3736h0M1108 3720h0M1107 3708h0M1106 3738h0M1110 3692h0M1108 3720h0M1109 3704h0M1110 3693h0M1110 3685h0M1108 3729h0M1111 3639h0M1108 3644h0M1109 3629h0M1110 3618h0M1110 3596h0M1111 3741h0M1111 3725h0M1110 3712h0M1109 3706h0M1111 3707h0M1109 3694h0M1112 3746h0M1112 3743h0M1112 3731h0M1111 3723h0M1112 3701h0M1112 3692h0M1113 3727h0M1112 3717h0M1111 3694h0M1111 3698h0M1110 3749h0M1112 3736h0M1111 3729h0M1110 3708h0M1111 3713h0M1111 3700h0M1112 3685h0M1111 3674h0M1112 3674h0M1112 3664h0M1115 3692h0M1115 3760h0M1116 3670h0M1115 3656h0M1114 3641h0M1115 3696h0M1116 3742h0M1115 3731h0M1114 3685h0M1114 3656h0M1116 3636h0M1118 3716h0M1117 3711h0M1119 3750h0M1119 3744h0M1117 3763h0M1118 3758h0M1120 3760h0M1119 3751h0M1118 3739h0M1118 3725h0M1122 3761h0M1122 3760h0M1121 3745h0M1121 3737h0M1123 3619h0M1121 3747h0M1123 3741h0M1122 3759h0M1123 3756h0M1121 3743h0M1121 3727h0M1121 3711h0M1120 3744h0M1123 3618h0M1124 3605h0M1126 3723h0M1124 3774h0M1126 3760h0M1125 3730h0M1126 3764h0M1126 3774h0M1124 3662h0M1126 3767h0M1128 3767h0M1127 3752h0M1129 3759h0M1127 3746h0M1128 3738h0M1129 3762h0M1128 3777h0M1126 3742h0M1129 3723h0M1129 3713h0M1129 3694h0M1129 3687h0M1131 3768h0M1129 3684h0M1131 3778h0M1131 3760h0M1129 3765h0M1131 3626h0M1130 3614h0M1134 3730h0M1133 3613h0M1134 3739h0M1134 3764h0M1133 3690h0M1133 3757h0M1134 3724h0M1133 3708h0M1134 3758h0M1136 3704h0M1134 3774h0M1135 3759h0M1136 3744h0M1136 3773h0M1135 3700h0M1134 3706h0M1136 3693h0M1134 3729h0M1135 3711h0M1135 3668h0M1138 3761h0M1137 3747h0M1140 3772h0M1138 3751h0M1137 3755h0M1139 3739h0M1139 3726h0M1138 3713h0M1137 3752h0M1140 3754h0M1139 3786h0M1141 3750h0M1142 3746h0M1142 3734h0M1141 3719h0M1141 3713h0M1140 3665h0M1140 3745h0M1142 3734h0M1140 3694h0M1141 3755h0M1142 3740h0M1143 3784h0M1145 3763h0M1144 3789h0M1143 3773h0M1143 3759h0M1144 3754h0M1142 3764h0M1142 3735h0M1143 3767h0M1143 3750h0M1145 3777h0M1147 3761h0M1148 3751h0M1145 3696h0M1147 3681h0M1147 3666h0M1146 3651h0M1148 3785h0M1147 3768h0M1150 3766h0M1147 3765h0M1149 3752h0M1149 3737h0M1148 3743h0M1150 3787h0M1149 3798h0M1148 3726h0M1149 3716h0M1149 3776h0M1150 3789h0M1151 3753h0M1153 3758h0M1151 3791h0M1150 3781h0M1150 3802h0M1152 3774h0M1154 3791h0M1155 3750h0M1154 3786h0M1154 3739h0M1153 3738h0M1155 3749h0M1154 3793h0M1155 3816h0M1156 3805h0M1157 3790h0M1156 3785h0M1158 3823h0M1157 3739h0M1156 3818h0M1157 3804h0M1156 3792h0M1159 3799h0M1158 3841h0M1158 3830h0M1160 3841h0M1159 3825h0M1158 3840h0M1158 3818h0M1158 3831h0M1162 3780h0M1159 3781h0M1160 3807h0M1161 3831h0M1161 3816h0M1161 3810h0M1160 3829h0M1160 3845h0M1161 3831h0M1161 3812h0M1162 3808h0M1162 3854h0M1163 3855h0M1164 3839h0M1163 3833h0M1163 3788h0M1163 3861h0M1164 3851h0M1163 3830h0M1165 3866h0M1163 3869h0M1164 3834h0M1166 3856h0M1166 3841h0M1166 3833h0M1166 3825h0M1167 3849h0M1167 3860h0M1167 3849h0M1167 3835h0M1168 3875h0M1168 3847h0M1168 3873h0M1166 3860h0M1166 3848h0M1166 3826h0M1168 3879h0M1167 3877h0M1168 3864h0M1168 3848h0M1168 3847h0M1167 3855h0M1169 3882h0M1169 3787h0M1171 3877h0M1170 3828h0M1170 3814h0M1170 3797h0M1170 3853h0M1169 3869h0M1171 3858h0M1171 3845h0M1171 3837h0M1171 3853h0M1170 3878h0M1172 3851h0M1171 3856h0M1175 3763h0M1172 3869h0M1175 3881h0M1174 3885h0M1173 3874h0M1178 3868h0M1177 3884h0M1175 3863h0M1178 3826h0M1176 3811h0M1175 3862h0M1176 3847h0M1176 3838h0M1177 3828h0M1177 3878h0M1179 3874h0M1178 3863h0M1179 3848h0M1180 3871h0M1179 3865h0M1180 3853h0M1180 3859h0M1179 3884h0M1183 3860h0M1181 3791h0M1181 3892h0M1182 3892h0M1183 3856h0M1183 3845h0M1183 3830h0M1183 3818h0M1183 3871h0M1187 3816h0M1186 3804h0M1186 3852h0M1187 3870h0M1187 3866h0M1185 3852h0M1185 3837h0M1185 3831h0M1187 3849h0M1187 3886h0M1187 3880h0M1188 3840h0M1189 3895h0M1188 3895h0M1189 3875h0M1188 3861h0M1188 3844h0M1190 3836h0M1191 3890h0M1193 3863h0M1191 3851h0M1191 3891h0M1192 3893h0M1192 3878h0M1191 3868h0M1191 3846h0M1190 3878h0M1192 3862h0M1192 3856h0M1192 3842h0M1192 3781h0M1195 3884h0M1195 3891h0M1195 3880h0M1195 3860h0M1196 3875h0M1196 3885h0M1193 3874h0M1195 3858h0M1194 3849h0M1195 3833h0M1195 3823h0M1195 3806h0M1197 3888h0M1196 3833h0M1198 3899h0M1195 3862h0M1198 3893h0M1197 3872h0M1199 3868h0M1199 3852h0M1198 3839h0M1200 3842h0M1198 3896h0M1200 3876h0M1199 3892h0M1203 3867h0M1202 3853h0M1202 3854h0M1201 3877h0M1202 3844h0M1203 3878h0M1206 3883h0M1205 3872h0M1204 3855h0M1207 3879h0M1204 3828h0M1205 3814h0M1206 3775h0M1206 3793h0M1207 3849h0M1207 3763h0M1208 3856h0M1208 3843h0M1208 3827h0M1207 3862h0M1206 3816h0M1209 3862h0M1212 3800h0M1209 3852h0M1210 3858h0M1210 3785h0M1210 3860h0M1210 3859h0M1211 3846h0M1214 3801h0M1213 3847h0M1213 3843h0M1215 3845h0M1214 3835h0M1216 3848h0M1215 3836h0M1214 3770h0M1213 3723h0M1215 3847h0M1215 3833h0M1218 3804h0M1218 3789h0M1217 3784h0M1218 3793h0M1218 3751h0M1217 3737h0M1217 3840h0M1217 3759h0M1218 3845h0M1217 3779h0M1219 3852h0M1216 3845h0M1221 3720h0M1220 3709h0M1220 3696h0M1221 3705h0M1222 3813h0M1221 3801h0M1221 3774h0M1221 3816h0M1221 3824h0M1222 3818h0M1222 3840h0M1221 3771h0M1223 3803h0M1224 3828h0M1223 3813h0M1225 3806h0M1225 3789h0M1224 3679h0M1224 3668h0M1224 3654h0M1225 3643h0M1225 3805h0M1222 3811h0M1223 3814h0M1223 3760h0M1225 3717h0M1225 3805h0M1224 3842h0M1229 3807h0M1228 3830h0M1228 3819h0M1228 3801h0M1228 3793h0M1228 3782h0M1226 3832h0M1226 3809h0M1227 3732h0M1226 3788h0M1229 3822h0M1228 3656h0M1230 3747h0M1231 3735h0M1231 3839h0M1231 3825h0M1230 3826h0M1232 3692h0M1229 3807h0M1231 3834h0M1231 3688h0M1230 3677h0M1230 3663h0M1229 3815h0M1229 3794h0M1231 3782h0M1231 3769h0M1230 3751h0M1234 3809h0M1233 3744h0M1233 3730h0M1232 3788h0M1234 3778h0M1232 3806h0M1235 3837h0M1234 3764h0M1234 3751h0M1234 3829h0M1234 3791h0M1233 3817h0M1234 3780h0M1234 3768h0M1233 3753h0M1233 3756h0M1236 3782h0M1235 3768h0M1235 3760h0M1235 3760h0M1235 3750h0M1234 3815h0M1236 3804h0M1234 3818h0M1234 3803h0M1235 3790h0M1237 3838h0M1236 3822h0M1236 3809h0M1236 3797h0M1236 3833h0M1236 3808h0M1234 3836h0M1236 3819h0M1234 3831h0M1240 3768h0M1238 3834h0M1239 3818h0M1240 3805h0M1238 3825h0M1238 3815h0M1238 3797h0M1238 3782h0M1238 3833h0M1237 3805h0M1239 3827h0M1239 3818h0M1239 3752h0M1237 3713h0M1239 3703h0M1239 3684h0M1239 3707h0M1243 3783h0M1242 3768h0M1241 3757h0M1242 3748h0M1240 3821h0M1241 3811h0M1241 3799h0M1241 3813h0M1241 3761h0M1243 3777h0M1243 3801h0M1241 3682h0M1242 3804h0M1243 3811h0M1240 3798h0M1241 3782h0M1242 3771h0M1243 3677h0M1243 3750h0M1244 3784h0M1244 3768h0M1243 3729h0M1245 3777h0M1246 3660h0M1244 3829h0M1246 3821h0M1244 3806h0M1244 3794h0M1243 3778h0M1244 3768h0M1245 3816h0M1244 3786h0M1243 3776h0M1246 3823h0M1246 3694h0M1245 3758h0M1245 3698h0M1248 3745h0M1246 3829h0M1247 3815h0M1247 3804h0M1246 3792h0M1246 3802h0M1245 3827h0M1247 3796h0M1248 3700h0M1248 3794h0M1247 3826h0M1249 3830h0M1250 3727h0M1249 3712h0M1249 3695h0M1247 3729h0M1248 3785h0M1250 3715h0M1247 3774h0M1250 3821h0M1252 3828h0M1253 3710h0M1250 3699h0M1253 3821h0M1250 3816h0M1251 3790h0M1253 3753h0M1252 3824h0M1250 3686h0M1253 3824h0M1251 3810h0M1251 3796h0M1251 3776h0M1250 3822h0M1252 3748h0M1254 3827h0M1256 3793h0M1255 3755h0M1256 3678h0M1254 3783h0M1255 3768h0M1254 3757h0M1256 3780h0M1255 3643h0M1253 3807h0M1256 3662h0M1254 3650h0M1255 3636h0M1254 3616h0M1254 3798h0M1254 3782h0M1254 3767h0M1254 3755h0M1254 3735h0M1259 3811h0M1258 3801h0M1257 3719h0M1259 3815h0M1258 3824h0M1258 3807h0M1258 3797h0M1256 3763h0M1259 3745h0M1259 3802h0M1259 3824h0M1258 3833h0M1258 3820h0M1257 3809h0M1260 3791h0M1260 3756h0M1259 3743h0M1259 3700h0M1259 3692h0M1262 3694h0M1261 3786h0M1260 3771h0M1259 3801h0M1260 3742h0M1259 3785h0M1261 3818h0M1261 3807h0M1260 3798h0M1260 3778h0M1261 3650h0M1262 3826h0M1262 3811h0M1262 3799h0M1262 3787h0M1264 3684h0M1264 3801h0M1262 3789h0M1263 3778h0M1262 3768h0M1262 3756h0M1264 3782h0M1263 3691h0M1263 3791h0M1264 3749h0M1263 3814h0M1261 3721h0M1265 3670h0M1264 3787h0M1264 3771h0M1265 3788h0M1265 3758h0M1264 3739h0M1265 3725h0M1265 3712h0M1264 3691h0M1263 3824h0M1266 3765h0M1263 3763h0M1265 3809h0M1264 3817h0M1264 3824h0M1269 3768h0M1268 3759h0M1267 3828h0M1269 3803h0M1269 3790h0M1269 3814h0M1269 3609h0M1268 3791h0M1267 3779h0M1269 3766h0M1267 3745h0M1268 3685h0M1268 3727h0M1269 3817h0M1266 3724h0M1270 3694h0M1273 3793h0M1271 3716h0M1272 3701h0M1271 3829h0M1272 3818h0M1271 3802h0M1270 3827h0M1271 3815h0M1272 3821h0M1270 3789h0M1270 3795h0M1271 3824h0M1270 3696h0M1271 3757h0M1274 3793h0M1276 3777h0M1276 3763h0M1275 3745h0M1277 3774h0M1277 3748h0M1276 3702h0M1274 3835h0M1276 3834h0M1274 3805h0M1274 3779h0M1275 3827h0M1278 3822h0M1279 3767h0M1279 3713h0M1278 3761h0M1278 3830h0M1277 3664h0M1278 3653h0M1277 3632h0M1278 3819h0M1277 3756h0M1279 3783h0M1277 3742h0M1277 3726h0M1279 3722h0M1276 3702h0M1277 3686h0M1281 3718h0M1281 3775h0M1280 3726h0M1281 3716h0M1280 3651h0M1280 3818h0M1281 3750h0M1281 3775h0M1282 3779h0M1280 3823h0M1280 3660h0M1281 3650h0M1281 3633h0M1281 3836h0M1281 3820h0M1282 3780h0M1283 3768h0M1283 3726h0M1283 3827h0M1282 3751h0M1284 3765h0M1284 3773h0M1283 3832h0M1283 3778h0M1283 3763h0M1284 3819h0M1285 3773h0M1287 3760h0M1286 3830h0M1287 3786h0M1288 3717h0M1286 3707h0M1288 3758h0M1287 3748h0M1287 3768h0M1285 3773h0M1286 3827h0M1286 3815h0M1287 3769h0M1287 3797h0M1289 3796h0M1289 3767h0M1289 3776h0M1288 3692h0M1289 3672h0M1289 3847h0M1291 3851h0M1289 3838h0M1289 3831h0M1292 3851h0M1292 3768h0M1294 3864h0M1294 3838h0M1292 3827h0M1294 3815h0M1293 3794h0M1292 3787h0M1293 3751h0M1292 3785h0M1292 3860h0M1293 3845h0M1293 3839h0M1293 3828h0M1295 3796h0M1295 3850h0M1296 3837h0M1295 3829h0M1296 3873h0M1295 3874h0M1297 3811h0M1297 3857h0M1297 3835h0M1295 3776h0M1297 3876h0M1300 3754h0M1300 3865h0M1299 3854h0M1300 3845h0M1299 3876h0M1298 3880h0M1300 3867h0M1299 3802h0M1300 3850h0M1301 3873h0M1301 3894h0M1301 3885h0M1301 3865h0M1302 3853h0M1300 3815h0M1301 3893h0M1300 3839h0M1306 3864h0M1304 3850h0M1305 3894h0M1305 3879h0M1305 3872h0M1304 3836h0M1304 3865h0M1304 3854h0M1305 3835h0M1305 3830h0M1303 3817h0M1304 3894h0M1305 3883h0M1308 3887h0M1308 3888h0M1307 3883h0M1308 3878h0M1307 3853h0M1308 3888h0M1308 3874h0M1311 3890h0M1311 3863h0M1311 3852h0M1311 3832h0M1311 3851h0M1310 3858h0M1311 3896h0M1310 3885h0M1311 3868h0M1311 3860h0M1312 3865h0M1314 3883h0M1316 3863h0M1314 3849h0M1313 3825h0M1313 3893h0M1314 3879h0M1313 3806h0M1314 3791h0M1314 3783h0M1316 3893h0M1315 3806h0M1317 3792h0M1316 3783h0M1316 3853h0M1316 3879h0M1316 3814h0M1318 3896h0M1321 3891h0M1321 3833h0M1320 3817h0M1319 3885h0M1319 3869h0M1321 3896h0M1319 3870h0M1325 3894h0M1322 3883h0M1323 3866h0M1325 3854h0M1324 3815h0M1322 3831h0M1324 3849h0M1322 3850h0M1326 3890h0M1325 3896h0M1327 3889h0M1326 3865h0M1328 3869h0M1327 3893h0M1330 3882h0M1330 3867h0M1328 3862h0M1328 3838h0M1329 3799h0M1328 3775h0M1329 3893h0M1329 3880h0M1330 3861h0M1332 3825h0M1331 3882h0M1329 3898h0M1330 3897h0M1332 3886h0M1332 3871h0M1332 3856h0M1331 3840h0M1333 3854h0M1333 3817h0M1335 3883h0M1333 3847h0M1337 3889h0M1333 3882h0M1337 3865h0M1336 3874h0M1337 3862h0M1338 3855h0M1338 3829h0M1338 3883h0M1338 3798h0M1337 3841h0M1337 3791h0M1341 3889h0M1340 3889h0M1339 3893h0M1340 3879h0M1340 3867h0M1339 3887h0M1339 3866h0M1340 3899h0M1344 3885h0M1342 3843h0M1344 3832h0M1342 3822h0M1344 3881h0M1341 3899h0M1342 3889h0M1344 3890h0M1342 3877h0M1343 3870h0M1342 3859h0M1345 3871h0M1344 3866h0M1344 3802h0M1344 3830h0M1345 3856h0M1344 3845h0M1346 3830h0M1345 3820h0M1349 3827h0M1350 3900h0M1349 3867h0M1347 3857h0M1349 3843h0M1349 3832h0M1348 3818h0M1347 3895h0M1348 3881h0M1350 3878h0M1352 3897h0M1350 3877h0M1351 3892h0M1351 3899h0M1353 3899h0M1354 3897h0M1354 3887h0M1354 3873h0M1355 3860h0M1355 3843h0M1353 3891h0M1354 3877h0M1352 3879h0M1357 3890h0M1358 3878h0M1357 3861h0M1356 3859h0M1355 3888h0M1355 3892h0M1356 3863h0M1356 3902h0M1356 3887h0M1359 3890h0M1359 3895h0M1360 3883h0M1359 3874h0M1358 3827h0M1358 3894h0M1362 3896h0M1362 3836h0M1361 3824h0M1363 3882h0M1361 3841h0M1362 3896h0M1367 3795h0M1367 3788h0M1364 3879h0M1366 3860h0M1366 3847h0M1367 3831h0M1366 3824h0M1367 3862h0M1365 3868h0M1364 3859h0M1369 3875h0M1370 3882h0M1369 3867h0M1369 3821h0M1371 3855h0M1370 3844h0M1371 3821h0M1371 3868h0M1370 3858h0M1369 3840h0M1369 3825h0M1371 3867h0M1371 3852h0M1372 3841h0M1371 3836h0M1371 3865h0M1370 3816h0M1373 3807h0M1371 3728h0M1371 3851h0M1372 3839h0M1376 3868h0M1377 3869h0M1376 3783h0M1375 3772h0M1377 3869h0M1376 3854h0M1376 3837h0M1377 3848h0M1376 3834h0M1375 3822h0M1377 3861h0M1376 3823h0M1376 3792h0M1377 3831h0M1379 3866h0M1378 3839h0M1379 3859h0M1379 3843h0M1377 3824h0M1378 3842h0M1378 3820h0M1380 3866h0M1382 3852h0M1381 3837h0M1381 3823h0M1382 3816h0M1381 3802h0M1382 3820h0M1382 3809h0M1381 3789h0M1382 3776h0M1382 3835h0M1381 3848h0M1381 3837h0M1384 3774h0M1383 3781h0M1383 3831h0M1383 3826h0M1385 3810h0M1385 3856h0M1384 3841h0M1386 3826h0M1385 3755h0M1387 3717h0M1386 3825h0M1388 3832h0M1385 3835h0M1386 3820h0M1386 3813h0M1386 3786h0M1385 3855h0M1387 3843h0M1385 3751h0M1386 3735h0M1386 3858h0M1387 3794h0M1388 3782h0M1387 3863h0M1388 3800h0M1390 3847h0M1389 3819h0M1388 3810h0M1388 3790h0M1390 3785h0M1387 3838h0M1388 3824h0M1389 3859h0M1389 3728h0M1392 3855h0M1392 3844h0M1391 3827h0M1391 3813h0M1390 3862h0M1390 3853h0M1391 3820h0M1393 3861h0M1390 3820h0M1390 3818h0M1392 3805h0M1392 3788h0M1392 3783h0M1390 3830h0M1394 3765h0M1395 3849h0M1394 3838h0M1394 3849h0M1395 3835h0M1395 3822h0M1396 3804h0M1396 3799h0M1395 3846h0M1394 3834h0M1396 3818h0M1394 3809h0M1395 3716h0M1398 3808h0M1396 3814h0M1397 3767h0M1398 3854h0M1397 3841h0M1398 3782h0M1396 3843h0M1399 3822h0M1401 3735h0M1402 3696h0M1400 3733h0M1401 3837h0M1401 3835h0M1401 3844h0M1401 3812h0M1401 3746h0M1403 3851h0M1405 3832h0M1404 3818h0M1405 3804h0M1404 3784h0M1406 3763h0M1403 3860h0M1405 3761h0M1405 3854h0M1405 3838h0M1403 3858h0M1405 3842h0M1407 3854h0M1406 3860h0M1408 3860h0M1407 3852h0M1406 3837h0M1406 3832h0M1405 3860h0M1406 3845h0M1406 3831h0M1406 3829h0M1405 3809h0M1409 3844h0M1408 3831h0M1409 3818h0M1409 3836h0M1408 3824h0M1409 3805h0M1410 3851h0M1409 3840h0M1410 3776h0M1407 3820h0M1410 3806h0M1409 3819h0M1407 3829h0M1408 3813h0M1409 3804h0M1408 3783h0M1413 3793h0M1414 3847h0M1413 3838h0M1411 3844h0M1414 3839h0M1413 3823h0M1412 3812h0M1413 3761h0M1414 3846h0M1411 3780h0M1415 3743h0M1415 3840h0M1416 3818h0M1416 3855h0M1416 3841h0M1416 3828h0M1415 3857h0M1416 3837h0M1416 3834h0M1418 3819h0M1419 3749h0M1419 3846h0M1419 3856h0M1417 3841h0M1416 3740h0M1417 3794h0M1417 3779h0M1418 3767h0M1418 3746h0M1417 3757h0M1418 3741h0M1417 3725h0M1420 3822h0M1421 3761h0M1420 3745h0M1419 3844h0M1420 3781h0M1421 3768h0M1421 3749h0M1419 3806h0M1420 3718h0M1419 3836h0M1423 3809h0M1425 3838h0M1423 3831h0M1423 3733h0M1422 3848h0M1422 3847h0M1423 3813h0M1423 3798h0M1424 3845h0M1424 3852h0M1426 3849h0M1427 3736h0M1427 3810h0M1424 3846h0M1426 3722h0M1428 3821h0M1429 3818h0M1428 3837h0M1428 3826h0M1429 3812h0M1429 3791h0M1427 3769h0M1428 3814h0M1428 3808h0M1430 3826h0M1433 3732h0M1430 3837h0M1430 3837h0M1432 3825h0M1432 3809h0M1430 3827h0M1432 3811h0M1431 3801h0M1432 3781h0M1432 3776h0M1430 3780h0M1430 3730h0M1430 3824h0M1436 3781h0M1436 3747h0M1435 3806h0M1432 3824h0M1436 3770h0M1433 3760h0M1433 3749h0M1433 3722h0M1434 3768h0M1433 3771h0M1437 3840h0M1439 3826h0M1438 3813h0M1438 3802h0M1439 3848h0M1436 3823h0M1437 3738h0M1439 3845h0M1439 3792h0M1438 3765h0M1441 3832h0M1440 3819h0M1441 3808h0M1439 3835h0M1441 3807h0M1441 3743h0M1442 3800h0M1441 3745h0M1441 3775h0M1444 3820h0M1444 3843h0M1441 3807h0M1441 3846h0M1442 3801h0M1444 3835h0M1443 3827h0M1444 3716h0M1448 3769h0M1446 3828h0M1445 3786h0M1446 3718h0M1446 3819h0M1445 3828h0M1448 3715h0M1447 3753h0M1446 3738h0M1446 3733h0M1446 3722h0M1450 3779h0M1451 3815h0M1448 3850h0M1449 3741h0M1449 3853h0M1450 3840h0M1449 3831h0M1450 3768h0M1450 3737h0M1451 3814h0M1451 3803h0M1450 3690h0M1451 3828h0M1453 3832h0M1453 3822h0M1453 3849h0M1453 3840h0M1452 3824h0M1452 3819h0M1453 3821h0M1451 3805h0M1454 3728h0M1453 3782h0M1453 3853h0M1453 3839h0M1454 3852h0M1453 3853h0M1453 3834h0M1453 3835h0M1457 3834h0M1455 3784h0M1455 3812h0M1456 3799h0M1456 3791h0M1456 3807h0M1455 3845h0M1457 3784h0M1456 3774h0M1456 3844h0M1458 3744h0M1460 3732h0M1460 3711h0M1458 3688h0M1460 3832h0M1460 3819h0M1458 3811h0M1460 3723h0M1461 3853h0M1460 3827h0M1459 3818h0M1459 3804h0M1459 3788h0M1458 3853h0M1460 3836h0M1464 3750h0M1461 3784h0M1462 3851h0M1462 3840h0M1462 3822h0M1462 3842h0M1464 3774h0M1462 3818h0M1464 3737h0M1464 3841h0M1466 3828h0M1466 3751h0M1467 3846h0M1467 3849h0M1465 3835h0M1466 3787h0M1466 3771h0M1465 3803h0M1464 3794h0M1467 3829h0M1465 3818h0M1465 3804h0M1466 3798h0M1469 3826h0M1467 3814h0M1469 3826h0M1468 3814h0M1468 3795h0M1468 3789h0M1467 3766h0M1468 3750h0M1469 3742h0M1468 3729h0M1470 3845h0M1468 3832h0M1469 3821h0M1469 3813h0M1467 3756h0M1467 3740h0M1468 3724h0M1469 3712h0M1470 3852h0M1471 3819h0M1471 3813h0M1470 3819h0M1471 3833h0M1473 3744h0M1471 3801h0M1473 3797h0M1473 3848h0M1474 3832h0M1475 3808h0M1474 3748h0M1475 3813h0M1474 3825h0M1473 3810h0M1473 3803h0M1473 3804h0M1473 3787h0M1478 3827h0M1477 3790h0M1477 3832h0M1479 3818h0M1478 3806h0M1478 3787h0M1477 3852h0M1478 3837h0M1478 3772h0M1476 3843h0M1478 3785h0M1479 3834h0M1481 3821h0M1480 3813h0M1480 3797h0M1480 3770h0M1479 3844h0M1481 3807h0M1482 3781h0M1481 3853h0M1481 3836h0M1479 3824h0M1483 3851h0M1481 3690h0M1483 3840h0M1483 3823h0M1481 3733h0M1484 3827h0M1481 3808h0M1481 3815h0M1484 3805h0M1486 3839h0M1485 3849h0M1484 3816h0M1485 3853h0M1487 3822h0M1484 3824h0M1485 3821h0M1488 3798h0M1486 3846h0M1487 3808h0M1487 3804h0M1486 3803h0M1487 3823h0M1486 3840h0M1488 3850h0M1491 3826h0M1491 3842h0M1492 3848h0M1491 3837h0M1490 3820h0M1491 3809h0M1491 3741h0M1489 3727h0M1491 3714h0M1490 3796h0M1491 3845h0M1491 3830h0M1490 3818h0M1490 3796h0M1491 3786h0M1494 3791h0M1493 3733h0M1494 3853h0M1493 3839h0M1493 3821h0M1495 3852h0M1495 3772h0M1495 3851h0M1493 3835h0M1493 3821h0M1494 3805h0M1494 3847h0M1494 3834h0M1493 3819h0M1493 3818h0M1494 3818h0M1497 3836h0M1497 3717h0M1498 3802h0M1498 3790h0M1498 3722h0M1496 3843h0M1497 3830h0M1498 3820h0M1498 3822h0M1497 3846h0M1497 3786h0M1497 3776h0M1501 3824h0M1502 3831h0M1501 3820h0M1501 3802h0M1502 3821h0M1501 3718h0M1501 3806h0M1503 3842h0M1501 3776h0M1501 3762h0M1500 3755h0M1500 3738h0M1502 3839h0M1506 3820h0M1506 3785h0M1503 3808h0M1505 3792h0M1506 3834h0M1506 3832h0M1504 3820h0M1505 3761h0M1504 3841h0M1503 3823h0M1505 3807h0M1507 3755h0M1506 3761h0M1507 3811h0M1508 3785h0M1506 3826h0M1507 3814h0M1507 3681h0M1510 3778h0M1508 3739h0M1510 3830h0M1508 3837h0M1508 3811h0M1509 3840h0M1511 3813h0M1510 3798h0M1510 3810h0M1511 3826h0M1510 3687h0M1510 3784h0M1511 3823h0M1511 3811h0M1512 3800h0M1512 3790h0M1512 3792h0M1511 3790h0M1511 3775h0M1511 3768h0M1512 3749h0M1511 3829h0M1510 3816h0M1510 3807h0M1512 3782h0M1513 3847h0M1512 3766h0M1512 3839h0M1512 3814h0M1513 3837h0M1514 3827h0M1513 3817h0M1514 3789h0M1513 3804h0M1514 3843h0M1518 3818h0M1517 3756h0M1517 3832h0M1517 3769h0M1517 3778h0M1517 3817h0M1516 3799h0M1518 3789h0M1519 3775h0M1520 3764h0M1518 3744h0M1519 3753h0M1519 3807h0M1519 3827h0M1518 3843h0M1520 3829h0M1523 3829h0M1521 3813h0M1523 3800h0M1523 3796h0M1523 3832h0M1523 3842h0M1521 3833h0M1522 3819h0M1521 3725h0M1521 3806h0M1523 3791h0M1523 3799h0M1525 3798h0M1524 3816h0M1523 3803h0M1525 3785h0M1524 3771h0M1526 3811h0M1525 3799h0M1525 3783h0M1524 3773h0M1525 3786h0M1525 3774h0M1525 3766h0M1526 3834h0M1526 3819h0M1524 3805h0M1526 3808h0M1525 3798h0M1527 3843h0M1527 3818h0M1527 3835h0M1528 3793h0M1528 3761h0M1527 3827h0M1526 3820h0M1529 3778h0M1529 3833h0M1530 3820h0M1531 3813h0M1529 3802h0M1531 3833h0M1529 3839h0M1530 3836h0M1532 3826h0M1533 3801h0M1533 3833h0M1535 3835h0M1534 3831h0M1534 3819h0M1533 3827h0M1538 3816h0M1536 3796h0M1537 3853h0M1538 3832h0M1536 3837h0M1538 3823h0M1542 3833h0M1539 3829h0M1541 3814h0M1540 3799h0M1540 3870h0M1540 3856h0M1541 3858h0M1541 3853h0M1541 3837h0M1541 3830h0M1544 3880h0M1544 3846h0M1542 3864h0M1545 3847h0M1542 3879h0M1547 3896h0M1546 3908h0M1546 3893h0M1545 3863h0M1552 3910h0M1550 3899h0M1549 3916h0M1549 3899h0M1553 3936h0M1552 3924h0M1551 3937h0M1553 3908h0M1553 3947h0M1555 3953h0M1555 3939h0M1555 3917h0M1556 3951h0M1555 3940h0M1555 3919h0M1555 3918h0M1559 3936h0M1560 3925h0M1558 3914h0M1560 3962h0M1558 3945h0M1560 3953h0M1562 3941h0M1562 3927h0M1563 3967h0M1561 3956h0M1562 3935h0M1561 3946h0M1564 3968h0M1565 3953h0M1564 3946h0M1563 3939h0M1564 3925h0M1564 3913h0M1566 3937h0M1565 3975h0M1568 3975h0M1568 3980h0M1569 3942h0M1567 3965h0M1567 3953h0M1570 3979h0M1569 3978h0M1571 3965h0M1571 3933h0M1571 3983h0M1573 3983h0M1573 3959h0M1575 3979h0M1573 3956h0M1576 3979h0M1578 3949h0M1577 3969h0M1580 3983h0M1580 3970h0M1582 3978h0M1580 3968h0M1580 3946h0M1581 3940h0M1581 3956h0M1583 3982h0M1583 3971h0M1585 3974h0M1583 3960h0M1584 3952h0M1584 3983h0M1583 3951h0M1584 3938h0M1584 3924h0M1587 3978h0M1587 3946h0M1588 3934h0M1586 3935h0M1587 3923h0M1589 3940h0M1589 3931h0M1588 3919h0M1588 3973h0M1590 3976h0M1589 3972h0M1589 3971h0M1593 3931h0M1594 3919h0M1594 3943h0M1593 3967h0M1597 3956h0M1599 3982h0M1598 3977h0M1600 3962h0M1601 3979h0M1599 3964h0M1599 3953h0M1599 3943h0M1598 3915h0M1604 3948h0M1603 3969h0M1603 3982h0M1608 3959h0M1606 3966h0M1608 3953h0M1608 3981h0M1611 3944h0M1608 3964h0M1609 3982h0M1610 3970h0M1610 3961h0M1615 3978h0M1614 3966h0M1614 3963h0M1617 3951h0M1615 3981h0M1615 3978h0M1621 3944h0M1619 3932h0M1619 3919h0M1621 3981h0M1621 3944h0M1621 3953h0M1621 3942h0M1621 3980h0M1621 3965h0M1621 3949h0M1621 3944h0M1623 3979h0M1624 3981h0M1625 3974h0M1623 3962h0M1624 3948h0M1624 3931h0M1625 3931h0M1626 3966h0M1628 3954h0M1627 3935h0M1628 3928h0M1627 3962h0M1630 3954h0M1631 3959h0M1632 3964h0M1630 3950h0M1630 3939h0M1634 3947h0M1635 3913h0M1634 3900h0M1635 3957h0M1633 3891h0M1635 3946h0M1635 3954h0M1635 3942h0M1636 3924h0M1640 3948h0M1639 3937h0M1638 3945h0M1641 3916h0M1643 3901h0M1643 3943h0M1642 3928h0M1641 3934h0M1645 3934h0M1644 3928h0M1647 3934h0M1649 3924h0M1647 3908h0M1648 3902h0M1651 3910h0M1651 3925h0M1652 3911h0M1653 3911h0M1654 3915h0M1658 3907h0M1657 3923h0M1659 3879h0M1658 3895h0M1661 3910h0M1660 3899h0M1661 3886h0M1663 3878h0M1662 3927h0M1662 3898h0M1665 3909h0M1665 3893h0M1664 3885h0M1664 3919h0M1664 3928h0M1668 3921h0M1668 3922h0M1669 3912h0M1672 3930h0M1672 3888h0M1670 3875h0M1673 3917h0M1673 3905h0M1678 3917h0M1676 3902h0M1676 3901h0M1676 3922h0M1677 3908h0M1676 3894h0M1677 3881h0M1678 3933h0M1680 3923h0M1679 3909h0M1680 3885h0M1679 3914h0M1684 3930h0M1683 3919h0M1685 3936h0M1684 3908h0M1686 3934h0M1685 3930h0M1684 3921h0M1687 3930h0M1688 3934h0M1690 3930h0M1692 3919h0M1693 3907h0M1691 3892h0M1690 3936h0M1694 3934h0M1694 3920h0M1694 3893h0M1693 3937h0M1698 3937h0M1697 3919h0M1697 3905h0M1695 3889h0M1696 3929h0M1700 3925h0M1697 3929h0M1700 3933h0M1702 3924h0M1701 3908h0M1702 3904h0M1701 3933h0M1703 3927h0M1705 3938h0M1705 3936h0M1708 3909h0M1707 3934h0M1710 3946h0M1711 3932h0M1709 3952h0M1710 3936h0M1708 3963h0M1710 3953h0M1709 3937h0M1714 3991h0M1713 3975h0M1713 3972h0M1712 3947h0M1713 3985h0M1712 3925h0M1712 3911h0M1711 3974h0M1712 3962h0M1713 3947h0M1711 3944h0M1714 3984h0M1712 3973h0M1711 3961h0M1712 3941h0M1714 3919h0M1715 4005h0M1717 3996h0M1715 4000h0M1716 3958h0M1715 4006h0M1714 3991h0M1716 3977h0M250 2969h0M252 2970h0M253 2970h0M255 2971h0M256 2971h0M258 2972h0M259 2972h0M261 2973h0M262 2973h0M264 2974h0M265 2975h0M266 2976h0M267 2978h0M269 2979h0M270 2980h0M271 2981h0M272 2982h0M273 2983h0M274 2984h0M275 2986h0M276 2987h0M277 2988h0M278 2990h0M279 2991h0M280 2992h0M281 2994h0M284 3003h0M289 3016h0M293 3032h0M305 3121h0M325 3229h0M314 3275h0M311 3298h0M310 3302h0M308 3307h0M297 3315h0M250 3396h0M251 3396h0M253 3396h0M254 3396h0M256 3396h0M257 3396h0M258 3396h0M260 3396h0M261 3396h0M263 3395h0M264 3395h0M265 3395h0M267 3395h0M268 3395h0M270 3395h0M271 3395h0M273 3395h0M274 3395h0M275 3395h0M277 3395h0M278 3395h0M280 3395h0M281 3395h0M282 3395h0M284 3394h0M285 3394h0M287 3394h0M288 3394h0M289 3394h0M291 3394h0M292 3394h0M294 3394h0M295 3394h0M296 3394h0M298 3394h0M299 3394h0M301 3393h0M302 3393h0M303 3393h0M305 3393h0M306 3393h0M308 3393h0M309 3393h0M310 3393h0M315 3377h0M322 3390h0M302 3408h0M366 3385h0M376 3364h0M394 3372h0M262 3543h0M262 3540h0M262 3536h0M262 3533h0M262 3529h0M263 3525h0M263 3522h0M264 3518h0M265 3515h0M266 3512h0M267 3508h0M270 3506h0M273 3504h0M277 3503h0M280 3503h0M284 3503h0M287 3504h0M291 3504h0M294 3505h0M298 3506h0M301 3507h0M304 3508h0M308 3510h0M311 3511h0M314 3512h0M318 3514h0M321 3515h0M324 3516h0M328 3518h0M331 3519h0M308 3467h0M320 3447h0M333 3461h0M345 3440h0M358 3454h0M378 3474h0M395 3444h0M440 3447h0M445 3488h0M490 3515h0M490 3501h0M453 3562h0M407 3515h0M912 3250h0M925 3332h0M921 3366h0M921 3386h0M917 3406h0M921 3427h0M966 3345h0M979 3366h0M979 3386h0M937 3420h0M946 3433h0M958 3440h0M974 3447h0M929 3461h0M962 3467h0M1061 3433h0M1049 3454h0M1061 3474h0M1037 3508h0M1032 3528h0M1115 3562h0M1111 3583h0M1115 3596h0M1239 3522h0M1231 3549h0M1285 3562h0M1235 3596h0M1252 3596h0M1256 3623h0M1384 3644h0M1517 3583h0M1467 3657h0M1509 3678h0M1513 3705h0M1409 3698h0M1434 3705h0M565 3644h0M573 3671h0M581 3691h0M532 3678h0M755 3766h0M842 3725h0M846 3745h0M697 3779h0M250 3589h0M250 3651h0M250 3802h0M250 3861h0M250 3946h0M276 3850h0M308 3710h0M263 3615h0M277 3529h0M292 3604h0M306 3761h0M310 4017h0M276 3587h0M257 3675h0M312 3652h0M304 3990h0M287 3708h0M281 3808h0M300 3944h0M259 3717h0M310 3593h0M294 3874h0M307 4009h0M270 3613h0M306 3817h0M307 3972h0M290 3995h0M270 3930h0M257 3816h0M284 3882h0M293 4003h0M285 3751h0M279 3546h0M264 3805h0M282 3833h0M311 3728h0M285 3798h0M281 3527h0M301 3688h0M266 3716h0M264 3845h0M258 3657h0M311 3693h0M288 3898h0M281 3785h0M280 3888h0M269 3633h0M309 3596h0M291 4016h0M273 3586h0M311 3741h0M288 3667h0M270 3654h0M277 3582h0M282 3679h0M287 3747h0M282 3527h0M298 3808h0M285 3555h0M298 3685h0M310 3968h0M290 3700h0M282 3521h0M310 3824h0M291 3625h0M343 3724h0M348 3730h0M315 3593h0M340 3704h0M333 3452h0M348 3704h0M353 3634h0M328 3600h0M347 3492h0M341 3591h0M328 3864h0M331 3832h0M355 3724h0M338 3563h0M317 3519h0M324 3846h0M338 3706h0M354 3688h0M313 3873h0M309 3667h0M343 3859h0M324 3673h0M353 3460h0M351 3604h0M337 3784h0M338 3809h0M323 3521h0M336 3566h0M331 3760h0M333 3632h0M320 3514h0M357 3802h0M320 3529h0M344 3783h0M337 3778h0M351 3626h0M333 3811h0M328 3676h0M326 3803h0M318 3577h0M354 3515h0M339 3538h0M315 3790h0M343 3881h0M312 3543h0M318 3801h0M328 3518h0M308 3500h0M323 3633h0M331 3828h0M356 3805h0M348 3500h0M331 3464h0M311 3817h0M332 3849h0M348 3653h0M348 3757h0M309 3495h0M318 3700h0M314 3626h0M331 3795h0M310 3735h0M347 3814h0M319 3613h0M340 3532h0M340 3512h0M316 3481h0M309 3830h0M313 3545h0M333 3481h0M356 3468h0M338 3729h0M356 3563h0M318 3641h0M309 3874h0M340 3569h0M351 3554h0M315 3561h0M357 3587h0M332 3753h0M311 3610h0M356 3831h0M349 3491h0M325 3514h0M316 3751h0M336 3499h0M335 3842h0M354 3633h0M347 3781h0M325 3842h0" fill="none" stroke="#f00" stroke-width="8.6" stroke-linecap="round"/>
<path d="M296 4044L296 4044L300 3980L304 3975L308 3968L312 3961L316 3955L320 3950L324 3947L328 3943L332 3934L336 3928L340 3924L344 3918L348 3913L352 3906L356 3903L360 3904L364 3904L368 3904L372 3904L376 3899L380 3892L384 3888L388 3888L392 3890L396 3892L400 3896L404 3899L408 3895L412 3894L416 3889L420 3887L424 3904L428 3916L432 3924L436 3935L440 3935L444 3940L448 3942L452 3946L456 3946L460 3949L464 3951L468 3953L472 3953L476 3952L480 3949L484 3944L488 3941L492 3942L496 3936L500 3937L504 3944L508 3946L512 3952L516 3954L520 3958L524 3960L528 3960L532 3962L536 3961L540 3964L544 3963L548 3965L552 3963L556 3963L560 3965L564 3967L568 3965L572 3967L576 3966L580 3966L584 3967L588 3969L592 3970L596 3972L600 3976L604 3980L608 3985L612 3989L616 3994L620 3996L624 3991L628 3988L632 3983L636 3980L640 3983L644 3987L648 3991L652 3994L656 4000L660 4000L664 3998L668 3994L672 3992L676 3988L680 3986L684 3987L688 3987L692 3988L696 3988L700 3988L704 3983L708 3979L712 3972L716 3970L720 3976L724 3985L728 3993L732 3992L736 3987L740 3983L744 3976L748 3971L752 3965L756 3963L760 3956L764 3955L768 3961L772 3965L776 3969L780 3975L784 3978L788 3976L792 3971L796 3965L800 3960L804 3955L808 3952L812 3951L816 3948L820 3945L824 3938L828 3933L832 3927L836 3917L840 3908L844 3901L848 3893L852 3918L856 3938L860 3945L864 3931L868 3918L872 3912L876 3915L880 3917L884 3916L888 3890L892 3869L896 3841L900 3829L904 3823L908 3817L912 3813L916 3808L920 3813L924 3807L928 3812L932 3817L936 3816L940 3810L944 3814L948 3813L952 3813L956 3814L960 3809L964 3807L968 3806L972 3810L976 3809L980 3806L984 3813L988 3811L992 3805L996 3809L1000 3809L1004 3804L1008 3808L1012 3803L1016 3801L1020 3797L1024 3802L1028 3802L1032 3803L1036 3804L1040 3811L1044 3815L1048 3811L1052 3811L1056 3819L1060 3819L1064 3823L1068 3828L1072 3824L1076 3831L1080 3831L1084 3825L1088 3828L1092 3826L1096 3840L1100 3862L1104 3882L1108 3898L1112 3913L1116 3914L1120 3872L1124 3835L1128 3852L1132 3871L1136 3882L1140 3885L1144 3888L1148 3898L1152 3905L1156 3918L1160 3927L1164 3934L1168 3938L1172 3942L1176 3949L1180 3956L1184 3961L1188 3966L1192 3968L1196 3970L1200 3973L1204 3977L1208 3976L1212 3967L1216 3961L1220 3953L1224 3945L1228 3934L1232 3917L1236 3898L1240 3880L1244 3877L1248 3891L1252 3905L1256 3901L1260 3904L1264 3906L1268 3901L1272 3903L1276 3909L1280 3916L1284 3924L1288 3938L1292 3953L1296 3959L1300 3964L1304 3970L1308 3972L1312 3974L1316 3979L1320 3982L1324 3986L1328 3985L1332 3981L1336 3979L1340 3974L1344 3972L1348 3968L1352 3963L1356 3959L1360 3955L1364 3954L1368 3950L1372 3950L1376 3944L1380 3943L1384 3940L1388 3936L1392 3935L1396 3931L1400 3932L1404 3927L1408 3921L1412 3918L1416 3915L1420 3913L1424 3915L1428 3915L1432 3916L1436 3913L1440 3909L1444 3910L1448 3909L1452 3910L1456 3911L1460 3908L1464 3909L1468 3909L1472 3911L1476 3914L1480 3912L1484 3910L1488 3913L1492 3912L1496 3906L1500 3892L1504 3880L1508 3875L1512 3885L1516 3896L1520 3910L1524 3926L1528 3929L1532 3930L1536 3937L1540 3952L1544 3970L1548 3984L1552 3992L1556 3999L1560 4007L1564 4012L1568 4015L1572 4016L1576 4017L1580 4019L1584 4020L1588 4019L1592 4018L1596 4018L1600 4017L1604 4016L1608 4016L1612 4015L1616 4015L1620 4014L1624 4011L1628 4008L1632 4006L1636 4003L1640 3998L1644 3993L1648 3989L1652 3985L1656 3986L1660 3987L1664 3990L1668 3992L1672 3989L1676 3986L1680 3980L1684 3976L1688 3974L1692 3970L1696 3966L1700 3962L1704 3960L1708 3960L1712 3975L1716 3985L1720 4023L1723 4044L1723 4044Z" fill="#00f" stroke="#00f" stroke-width="6" stroke-linejoin="round"/>
<path d="M298 4015V3976M302 3982V3949M306 3977V3961M309 3974V3959M312 3971V3938M317 3964V3935M326 3953V3908M333 3943V3923M336 3938V3908M339 3933V3902M342 3929V3890M346 3923V3866M348 3918V3879M353 3916V3878M356 3915V3892M360 3913V3864M364 3912V3861M367 3911V3872M371 3909V3853M374 3908V3865M378 3907V3867M383 3905V3876M386 3906V3847M390 3907V3851M394 3907V3858M398 3908V3849M401 3908V3857M404 3909V3880M408 3909V3873M411 3905V3841M417 3899V3863M420 3904V3876M424 3914V3855M427 3922V3878M431 3931V3898M435 3942V3907M438 3947V3894M443 3950V3931M447 3952V3936M451 3954V3914M456 3956V3939M462 3959V3922M466 3961V3933M470 3959V3892M478 3955V3925M483 3953V3936M488 3950V3911M492 3949V3928M497 3946V3920M501 3950V3925M504 3953V3937M513 3961V3926M516 3964V3931M521 3968V3937M528 3971V3948M537 3972V3948M541 3972V3957M546 3972V3939M549 3972V3943M552 3973V3941M556 3973V3919M559 3973V3945M562 3973V3955M565 3973V3949M568 3973V3946M570 3974V3952M574 3974V3949M578 3975V3958M582 3975V3956M586 3976V3954M588 3976V3947M592 3977V3947M595 3977V3917M598 3978V3957M607 3989V3973M612 3994V3979M620 4001V3969M624 3997V3985M627 3995V3980M630 3993V3968M633 3990V3971M637 3988V3970M640 3991V3966M644 3994V3982M647 3997V3979M650 3999V3981M654 4002V3987M657 4005V3994M660 4005V3991M664 4001V3980M669 3998V3982M678 3992V3977M686 3992V3969M690 3993V3981M693 3993V3981M697 3994V3981M700 3995V3977M703 3993V3977M708 3988V3950M714 3981V3965M718 3979V3955M721 3984V3926M725 3991V3973M730 3998V3984M748 3979V3948M752 3974V3947M755 3971V3955M757 3968V3935M761 3963V3938M764 3964V3936M767 3966V3934M770 3969V3942M773 3972V3940M781 3980V3963M784 3983V3936M789 3979V3955M793 3977V3946M795 3974V3925M800 3970V3937M804 3967V3940M807 3965V3936M819 3954V3857M824 3951V3925M829 3946V3922M840 3927V3892M845 3917V3857M849 3918V3870M855 3941V3897M858 3957V3924M863 3946V3902M866 3936V3910M870 3925V3888M874 3924V3887M878 3926V3870M881 3929V3878M885 3928V3852M889 3907V3864M893 3881V3849M898 3858V3788M902 3851V3749M906 3845V3811M916 3834V3778M919 3834V3721M923 3833V3728M926 3833V3794M930 3833V3772M935 3832V3746M939 3832V3686M943 3831V3725M946 3831V3739M950 3830V3718M953 3830V3762M956 3830V3782M961 3831V3769M964 3831V3689M968 3832V3753M973 3832V3737M977 3833V3803M980 3833V3749M985 3833V3797M989 3834V3737M992 3834V3743M995 3835V3726M998 3834V3797M1003 3834V3754M1006 3833V3769M1009 3833V3773M1012 3833V3797M1015 3832V3786M1019 3832V3789M1024 3831V3752M1026 3831V3753M1031 3830V3685M1035 3830V3684M1039 3830V3800M1042 3831V3777M1047 3833V3741M1050 3834V3714M1054 3835V3716M1057 3836V3750M1064 3838V3802M1067 3839V3730M1070 3840V3724M1074 3843V3754M1077 3844V3814M1081 3847V3799M1084 3848V3801M1090 3853V3710M1093 3854V3758M1098 3871V3794M1103 3888V3864M1107 3907V3769M1112 3924V3891M1117 3920V3886M1120 3891V3841M1125 3853V3780M1128 3867V3823M1132 3885V3843M1139 3898V3873M1143 3903V3838M1147 3909V3885M1151 3918V3898M1155 3927V3895M1158 3933V3898M1161 3939V3868M1165 3945V3912M1170 3951V3925M1172 3953V3920M1177 3958V3938M1181 3963V3933M1186 3968V3941M1189 3970V3945M1192 3972V3953M1197 3976V3951M1208 3982V3962M1213 3974V3927M1215 3969V3946M1223 3956V3930M1226 3952V3916M1229 3945V3915M1232 3930V3868M1236 3911V3881M1239 3897V3859M1243 3889V3814M1247 3904V3860M1250 3914V3849M1253 3921V3867M1257 3919V3873M1260 3918V3879M1264 3916V3839M1269 3916V3870M1273 3921V3880M1277 3926V3874M1280 3930V3907M1285 3936V3886M1288 3946V3903M1292 3962V3930M1296 3967V3953M1299 3970V3954M1307 3976V3956M1311 3979V3951M1314 3982V3956M1319 3986V3965M1322 3988V3967M1324 3990V3964M1329 3987V3962M1337 3981V3946M1342 3978V3951M1345 3976V3946M1348 3974V3943M1352 3971V3940M1357 3968V3946M1360 3966V3945M1364 3964V3946M1368 3961V3926M1371 3959V3941M1385 3950V3890M1388 3948V3906M1395 3943V3902M1399 3941V3901M1402 3939V3918M1406 3937V3881M1410 3935V3895M1414 3933V3890M1417 3932V3914M1424 3928V3900M1428 3927V3901M1433 3926V3898M1436 3926V3871M1441 3925V3882M1444 3924V3876M1450 3923V3870M1455 3922V3900M1459 3921V3829M1462 3922V3864M1465 3922V3892M1469 3923V3904M1472 3924V3902M1476 3924V3887M1479 3925V3875M1482 3926V3884M1486 3927V3896M1495 3920V3894M1498 3914V3889M1503 3903V3844M1506 3896V3872M1518 3918V3877M1521 3927V3892M1528 3941V3914M1531 3943V3898M1536 3947V3931M1539 3954V3921M1543 3974V3952M1548 3988V3970M1552 3996V3985M1556 4003V3989M1564 4016V4006M1581 4022V4013M1585 4022V4014M1594 4021V4005M1598 4020V4010M1616 4018V3982M1621 4016V4006M1623 4015V4002M1626 4013V4003M1631 4010V3998M1635 4008V3993M1638 4006V3992M1641 4003V3992M1651 3992V3950M1659 3991V3969M1661 3993V3974M1668 3998V3986M1672 3995V3978M1675 3992V3978M1677 3989V3970M1680 3987V3971M1685 3982V3960M1688 3981V3967M1691 3979V3944M1694 3977V3946M1698 3975V3932M1701 3973V3954M1705 3971V3957M1709 3975V3953M1718 4001V3979M306 3948h0M307 3928h0M305 3918h0M369 3855h0M384 3849h0M414 3872h0M414 3845h0M432 3884h0M429 3866h0M432 3843h0M448 3916h0M446 3900h0M503 3921h0M507 3924h0M507 3902h0M507 3884h0M537 3933h0M535 3917h0M616 3967h0M615 3944h0M643 3969h0M658 3982h0M657 3971h0M707 3932h0M748 3926h0M748 3902h0M753 3937h0M752 3924h0M751 3901h0M816 3923h0M815 3908h0M817 3898h0M822 3900h0M824 3876h0M824 3859h0M830 3909h0M829 3895h0M862 3882h0M863 3858h0M864 3837h0M873 3872h0M873 3851h0M884 3832h0M886 3808h0M884 3783h0M902 3723h0M902 3713h0M902 3697h0M902 3681h0M905 3792h0M906 3772h0M905 3750h0M906 3730h0M911 3783h0M911 3759h0M912 3743h0M915 3759h0M918 3706h0M918 3695h0M919 3677h0M920 3666h0M923 3713h0M922 3690h0M922 3676h0M923 3664h0M932 3755h0M933 3722h0M940 3655h0M945 3713h0M945 3695h0M945 3682h0M954 3745h0M953 3734h0M952 3710h0M957 3765h0M956 3754h0M962 3747h0M961 3731h0M960 3722h0M961 3706h0M962 3693h0M964 3665h0M981 3736h0M982 3710h0M989 3725h0M989 3714h0M989 3695h0M993 3713h0M995 3689h0M996 3677h0M1000 3773h0M998 3762h0M1007 3745h0M1007 3733h0M1007 3748h0M1009 3727h0M1008 3704h0M1011 3782h0M1015 3774h0M1018 3776h0M1022 3730h0M1024 3720h0M1023 3696h0M1026 3742h0M1025 3722h0M1027 3704h0M1027 3678h0M1027 3663h0M1029 3659h0M1032 3642h0M1038 3778h0M1038 3760h0M1052 3691h0M1049 3673h0M1051 3658h0M1052 3636h0M1052 3622h0M1054 3689h0M1054 3675h0M1062 3790h0M1070 3700h0M1072 3673h0M1076 3796h0M1076 3772h0M1078 3747h0M1079 3720h0M1077 3707h0M1080 3776h0M1080 3753h0M1081 3738h0M1081 3715h0M1088 3810h0M1086 3800h0M1088 3786h0M1086 3775h0M1091 3690h0M1089 3664h0M1092 3647h0M1091 3623h0M1099 3768h0M1097 3752h0M1099 3731h0M1099 3709h0M1181 3920h0M1182 3900h0M1187 3914h0M1184 3896h0M1186 3877h0M1358 3919h0M1419 3896h0M1521 3871h0M1520 3848h0M1521 3838h0M1670 3963h0M1672 3944h0M1673 3920h0M1711 3935h0M1709 3909h0M252 3086h0M257 3115h0M261 3184h0M283 3226h0M287 3260h0M264 3323h0M291 3358h0M251 3459h0M252 3465h0M254 3474h0M257 3482h0M290 3528h0M294 3542h0M286 3549h0M264 3542h0M300 3589h0M308 3610h0M281 3596h0M267 3637h0M917 3556h0M915 3569h0M941 3610h0M937 3630h0M921 3644h0M917 3671h0M958 3664h0M970 3691h0M974 3657h0M1028 3664h0M1037 3698h0M912 3691h0M937 3698h0M954 3712h0M987 3705h0M250 3745h0M250 3800h0M250 3868h0M250 3956h0M281 3911h0M267 4038h0M279 3948h0M277 4013h0M276 3970h0M275 4031h0M273 4002h0M277 3902h0M281 3979h0M273 4018h0M267 4043h0M273 4012h0M272 3921h0M274 3977h0M270 4043h0M271 4033h0M274 3902h0M277 4028h0M280 3938h0M278 3919h0M278 3939h0M272 3905h0M281 4031h0M278 3952h0M273 3982h0M274 3915h0M274 3932h0M272 3923h0M280 3992h0M275 3916h0M277 3988h0M270 4011h0M277 4030h0M280 4018h0M280 4013h0M281 3953h0M274 3983h0M276 3973h0M271 4026h0M274 3914h0M276 4039h0M279 3950h0M280 4027h0M278 4040h0M276 4018h0M270 3924h0M268 3983h0M279 4021h0M270 3923h0M273 3952h0M267 4006h0M269 3959h0M268 3910h0M267 3949h0M267 4020h0M279 4031h0M269 3956h0M272 4042h0M281 4032h0M267 4008h0M276 3947h0M268 4009h0M267 3994h0M278 3948h0M280 3945h0M279 3953h0M274 4023h0M276 4012h0M268 3994h0M280 4034h0M275 4002h0M274 4033h0M281 4019h0M276 3998h0M267 3977h0M269 4041h0M267 4031h0M268 3965h0M274 3905h0M280 3903h0M270 3994h0M270 3972h0M276 3937h0M277 4020h0M273 3982h0M267 4042h0M273 4036h0M277 4022h0M268 4028h0M270 4024h0M274 3991h0M271 3964h0M270 3919h0M281 3950h0M273 3984h0M275 4041h0M273 3982h0M269 4037h0M279 4005h0M274 3916h0M276 4016h0M281 4005h0M267 3957h0M268 4013h0M279 3959h0M267 3993h0M273 3988h0M270 3972h0M268 4016h0M272 3913h0M268 3945h0M269 3975h0M272 3992h0M278 4001h0M268 4035h0M268 3929h0M276 3909h0M277 4043h0M276 3941h0M277 3986h0M272 3993h0M278 4018h0M274 3989h0M281 3937h0M280 3931h0M271 4023h0M274 4019h0M273 3958h0M280 3973h0M279 4037h0M272 3902h0M269 3998h0M268 4038h0M280 3904h0M276 4034h0M271 4023h0M277 3958h0M273 3983h0M268 3980h0M281 3945h0M268 3984h0M277 4020h0M280 3992h0M277 4000h0M281 3940h0M275 4032h0M273 4043h0M275 3923h0M269 3985h0M274 4000h0M279 3668h0M279 3794h0M284 3832h0M280 3743h0M280 3691h0M269 3753h0M273 3741h0M284 3750h0M265 3796h0M279 3682h0M278 3700h0M265 3666h0M279 3757h0M283 3682h0M267 3701h0M280 3868h0M280 3763h0M269 3704h0M268 3756h0M274 3853h0M276 3795h0M269 3660h0M266 3921h0M275 3695h0M278 3717h0M275 3739h0M272 3849h0M275 3914h0M266 3717h0M268 3718h0M280 3812h0M278 3708h0M282 3885h0M268 3818h0M274 3842h0M265 3771h0M284 3822h0M276 3818h0M274 3686h0M271 3746h0M275 3776h0M283 3901h0M281 3839h0M278 3706h0M278 3815h0M330 3928h0M309 3899h0M328 3897h0M302 3941h0M304 3883h0M329 3921h0M306 3976h0M299 3944h0M332 3844h0M321 3865h0M296 3972h0M322 3929h0M328 3898h0M320 3892h0M307 3858h0M314 3862h0M325 3835h0M334 3802h0M305 3904h0M308 3947h0M335 3906h0M332 3878h0M297 3995h0M308 3853h0M326 3901h0M302 3890h0M304 3920h0M306 3887h0M298 3974h0M311 3956h0M303 3956h0M307 3927h0M294 3979h0M311 3901h0M315 3879h0M326 3893h0M337 3899h0M320 3903h0M319 3893h0M336 3784h0M312 3925h0M294 3985h0M297 3878h0M333 3960h0M328 3992h0M307 3976h0M322 3914h0M321 3928h0M302 3928h0M298 3941h0M300 3872h0M315 3865h0M298 3941h0M297 3987h0M294 3975h0M320 3831h0M324 3863h0M299 3975h0M320 3949h0M305 3935h0M310 3867h0M317 3926h0M326 3862h0M323 3863h0M293 3935h0M300 3918h0M320 3860h0M313 3954h0M329 3842h0M293 3979h0M261 3804h0M254 3653h0M266 3674h0M259 3896h0M255 3701h0M262 3902h0M265 3795h0M258 3851h0M262 3836h0M261 3959h0M262 3904h0M265 3925h0M257 3806h0M258 3811h0M265 3930h0M263 3749h0M263 3839h0M258 3877h0M259 3910h0M255 3829h0M255 3831h0M260 3890h0M254 3782h0M264 3922h0M261 3762h0M265 3753h0M256 3927h0M264 3894h0M252 3684h0M255 3889h0M307 4013h0M323 4002h0M312 3993h0M327 4042h0M317 4028h0M301 3970h0M310 4036h0M317 3932h0M320 3983h0M325 3932h0M301 4007h0M331 3931h0M303 3958h0M328 3972h0M322 3980h0M304 4018h0M298 3963h0M301 3968h0M310 3991h0M332 3996h0M313 3998h0M304 4017h0M315 3944h0M299 3929h0M321 4037h0M322 3995h0M315 4032h0M315 3981h0M325 3973h0M322 3954h0M304 4041h0M313 4028h0M301 4005h0M316 3969h0M320 3929h0M299 3976h0M299 3962h0M312 4027h0M307 3963h0M313 3929h0" fill="none" stroke="#00f" stroke-width="8.6" stroke-linecap="round"/>
<g style="font-family:'Liberation Sans',Arial,sans-serif;font-kerning:none;">
<text x="223.5" y="80.8999999999999" font-size="73" text-anchor="end" fill="#262626"  style="">2</text>
<text x="223.5" y="375.99999999999994" font-size="73" text-anchor="end" fill="#262626"  style="">1.5</text>
<text x="223.5" y="671.0999999999999" font-size="73" text-anchor="end" fill="#262626"  style="">1</text>
<text x="223.5" y="966.1999999999999" font-size="73" text-anchor="end" fill="#262626"  style="">0.5</text>
<text x="223.5" y="1261.3" font-size="73" text-anchor="end" fill="#262626"  style="">0</text>
<text transform="translate(88.5 640.0) rotate(-90)" font-size="81" text-anchor="middle" fill="#262626">Frequency (THz)</text>
<text x="590.5" y="141.3" font-size="73" text-anchor="end" fill="#000"  style="">(a)</text>
<text x="974.0" y="141.3" font-size="73" text-anchor="end" fill="#000"  style="">(b)</text>
<text x="1358.5" y="141.3" font-size="73" text-anchor="end" fill="#000"  style="">(c)</text>
<text x="1744.0" y="141.3" font-size="73" text-anchor="end" fill="#000"  style="">(d)</text>
<text x="588.3" y="1294" font-size="73" text-anchor="end" fill="#000"  style="font-style:italic">X</text>
<text x="252" y="1294" font-size="75" text-anchor="start" fill="#000"  style="font-family:'Liberation Serif','Times New Roman',serif;font-style:italic">Γ</text>
<text x="971.8" y="1294" font-size="73" text-anchor="end" fill="#000"  style="font-style:italic">X</text>
<text x="637.5" y="1294" font-size="75" text-anchor="start" fill="#000"  style="font-family:'Liberation Serif','Times New Roman',serif;font-style:italic">Γ</text>
<text x="1354.5" y="1294" font-size="73" text-anchor="end" fill="#000"  style="font-style:italic">Y</text>
<text x="1020.5" y="1294" font-size="75" text-anchor="start" fill="#000"  style="font-family:'Liberation Serif','Times New Roman',serif;font-style:italic">Γ</text>
<text x="1740.0" y="1294" font-size="73" text-anchor="end" fill="#000"  style="font-style:italic">Y</text>
<text x="1406" y="1294" font-size="75" text-anchor="start" fill="#000"  style="font-family:'Liberation Serif','Times New Roman',serif;font-style:italic">Γ</text>
<text x="587" y="1366" font-size="73" text-anchor="middle" fill="#000"  style="">[100]</text>
<text x="1355" y="1366" font-size="73" text-anchor="middle" fill="#000"  style="">[110]</text>
<text x="223.5" y="2623.0" font-size="84" text-anchor="end" fill="#262626"  style="">0</text>
<text x="223.5" y="2351.5" font-size="84" text-anchor="end" fill="#262626"  style="">2</text>
<text x="223.5" y="2080.0" font-size="84" text-anchor="end" fill="#262626"  style="">4</text>
<text x="223.5" y="1808.5" font-size="84" text-anchor="end" fill="#262626"  style="">6</text>
<text x="223.5" y="1537.0" font-size="84" text-anchor="end" fill="#262626"  style="">8</text>
<text x="250.0" y="2703.0" font-size="84" text-anchor="middle" fill="#262626"  style="">0</text>
<text x="664.0" y="2703.0" font-size="84" text-anchor="middle" fill="#262626"  style="">5</text>
<text x="1078.0" y="2703.0" font-size="84" text-anchor="middle" fill="#262626"  style="">10</text>
<text x="1492.0" y="2703.0" font-size="84" text-anchor="middle" fill="#262626"  style="">15</text>
<text x="995.75" y="2820.0" font-size="92" text-anchor="middle" fill="#262626"  style="letter-spacing:-0.5px">Frequency (THz)</text>
<text transform="translate(142 2049.5) rotate(-90)" font-size="92" text-anchor="middle" fill="#262626" style="letter-spacing:-0.45px">Group Velocity (km/s)</text>
<text x="250" y="1572.0" font-size="84" text-anchor="start" fill="#000"  style="">(e)</text>
<text x="505" y="1827.0" font-size="128" text-anchor="start" fill="#808080"  style="">[100]-direction</text>
<rect x="1240.5" y="1541.0" width="465" height="198" fill="#fff" stroke="#262626" stroke-width="2"/>
<circle cx="1322" cy="1593.5" r="4.2" fill="#f00"/><circle cx="1322" cy="1690.0" r="4.2" fill="#00f"/>
<text x="1401.5" y="1622.0" font-size="74.6" text-anchor="start" fill="#000"  style="">pristine</text>
<text x="1401.5" y="1717.5" font-size="74.6" text-anchor="start" fill="#000"  style="">resonant</text>
<text x="223.5" y="4074.5" font-size="84" text-anchor="end" fill="#262626"  style="">0</text>
<text x="223.5" y="3803.125" font-size="84" text-anchor="end" fill="#262626"  style="">2</text>
<text x="223.5" y="3531.75" font-size="84" text-anchor="end" fill="#262626"  style="">4</text>
<text x="223.5" y="3260.375" font-size="84" text-anchor="end" fill="#262626"  style="">6</text>
<text x="223.5" y="2989.0" font-size="84" text-anchor="end" fill="#262626"  style="">8</text>
<text x="250.0" y="4154.5" font-size="84" text-anchor="middle" fill="#262626"  style="">0</text>
<text x="664.0" y="4154.5" font-size="84" text-anchor="middle" fill="#262626"  style="">5</text>
<text x="1078.0" y="4154.5" font-size="84" text-anchor="middle" fill="#262626"  style="">10</text>
<text x="1492.0" y="4154.5" font-size="84" text-anchor="middle" fill="#262626"  style="">15</text>
<text x="995.75" y="4271.5" font-size="92" text-anchor="middle" fill="#262626"  style="letter-spacing:-0.5px">Frequency (THz)</text>
<text transform="translate(142 3501.25) rotate(-90)" font-size="92" text-anchor="middle" fill="#262626" style="letter-spacing:-0.45px">Group Velocity (km/s)</text>
<text x="332.8" y="3027.5" font-size="84" text-anchor="start" fill="#000"  style="">(f)</text>
<text x="505" y="3279.0" font-size="128" text-anchor="start" fill="#808080"  style="">[110]-direction</text>
<rect x="1240.5" y="2993.0" width="465" height="198" fill="#fff" stroke="#262626" stroke-width="2"/>
<circle cx="1322" cy="3045.5" r="4.2" fill="#f00"/><circle cx="1322" cy="3142.0" r="4.2" fill="#00f"/>
<text x="1401.5" y="3074.0" font-size="74.6" text-anchor="start" fill="#000"  style="">pristine</text>
<text x="1401.5" y="3169.5" font-size="74.6" text-anchor="start" fill="#000"  style="">resonant</text>
</g>
</svg></body></html>
